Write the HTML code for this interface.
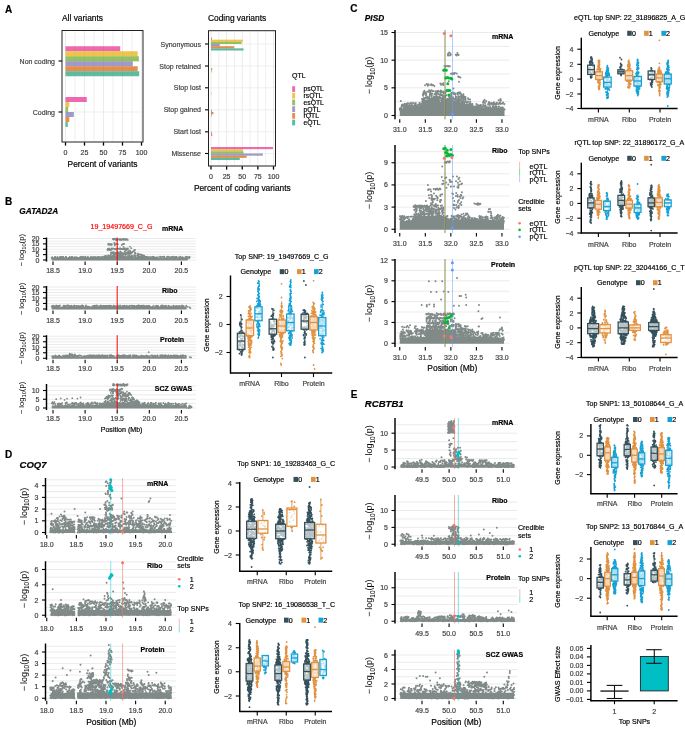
<!DOCTYPE html>
<html><head><meta charset="utf-8"><style>
html,body{margin:0;padding:0;background:#fff;width:685px;height:741px;overflow:hidden}
svg{display:block;will-change:transform}

</style></head><body>
<svg width="685" height="741" viewBox="0 0 685 741" font-family="Liberation Sans, sans-serif" font-size="7" stroke-width="0.18">
<rect width="685" height="741" fill="#fff"/>
<text x="5" y="12.6" font-weight="bold" stroke="#000" font-size="10">A</text>
<text x="62" y="21.02" stroke="#000" font-size="8.4">All variants</text>
<line x1="65.5" y1="30.5" x2="65.5" y2="142" stroke="#EBEBEB" stroke-width="1"/>
<line x1="84.5" y1="30.5" x2="84.5" y2="142" stroke="#EBEBEB" stroke-width="1"/>
<line x1="103.5" y1="30.5" x2="103.5" y2="142" stroke="#EBEBEB" stroke-width="1"/>
<line x1="122.5" y1="30.5" x2="122.5" y2="142" stroke="#EBEBEB" stroke-width="1"/>
<line x1="141.5" y1="30.5" x2="141.5" y2="142" stroke="#EBEBEB" stroke-width="1"/>
<line x1="75" y1="30.5" x2="75" y2="142" stroke="#EBEBEB" stroke-width="0.8"/>
<line x1="94" y1="30.5" x2="94" y2="142" stroke="#EBEBEB" stroke-width="0.8"/>
<line x1="113" y1="30.5" x2="113" y2="142" stroke="#EBEBEB" stroke-width="0.8"/>
<line x1="132" y1="30.5" x2="132" y2="142" stroke="#EBEBEB" stroke-width="0.8"/>
<line x1="62" y1="61" x2="143" y2="61" stroke="#EBEBEB" stroke-width="0.8"/>
<line x1="62" y1="112" x2="143" y2="112" stroke="#EBEBEB" stroke-width="0.8"/>
<rect x="65.5" y="46.25" width="54.72" height="5" fill="#E7298A" fill-opacity="0.7"/>
<rect x="65.5" y="97" width="21.28" height="5" fill="#E7298A" fill-opacity="0.7"/>
<rect x="65.5" y="51.25" width="72.2" height="5" fill="#E6AB02" fill-opacity="0.7"/>
<rect x="65.5" y="102" width="3.8" height="5" fill="#E6AB02" fill-opacity="0.7"/>
<rect x="65.5" y="56.25" width="73.34" height="5" fill="#66A61E" fill-opacity="0.7"/>
<rect x="65.5" y="107" width="2.66" height="5" fill="#66A61E" fill-opacity="0.7"/>
<rect x="65.5" y="61.25" width="67.26" height="5" fill="#7570B3" fill-opacity="0.7"/>
<rect x="65.5" y="112" width="8.36" height="5" fill="#7570B3" fill-opacity="0.7"/>
<rect x="65.5" y="66.25" width="72.2" height="5" fill="#D95F02" fill-opacity="0.7"/>
<rect x="65.5" y="117" width="3.8" height="5" fill="#D95F02" fill-opacity="0.7"/>
<rect x="65.5" y="71.25" width="73.72" height="5" fill="#1B9E77" fill-opacity="0.7"/>
<rect x="65.5" y="122" width="2.28" height="5" fill="#1B9E77" fill-opacity="0.7"/>
<rect x="62" y="30.5" width="81" height="111.5" fill="none" stroke="#222" stroke-width="1"/>
<line x1="58.5" y1="61" x2="62" y2="61" stroke="#000" stroke-width="1.1"/>
<text x="55" y="63.52" text-anchor="end" fill="#404040" stroke="#404040">Non coding</text>
<line x1="58.5" y1="112" x2="62" y2="112" stroke="#000" stroke-width="1.1"/>
<text x="55" y="114.52" text-anchor="end" fill="#404040" stroke="#404040">Coding</text>
<line x1="65.5" y1="142.3" x2="65.5" y2="145.6" stroke="#000" stroke-width="1.3"/>
<text x="65.5" y="154.52" text-anchor="middle" fill="#404040" stroke="#404040">0</text>
<line x1="84.5" y1="142.3" x2="84.5" y2="145.6" stroke="#000" stroke-width="1.3"/>
<text x="84.5" y="154.52" text-anchor="middle" fill="#404040" stroke="#404040">25</text>
<line x1="103.5" y1="142.3" x2="103.5" y2="145.6" stroke="#000" stroke-width="1.3"/>
<text x="103.5" y="154.52" text-anchor="middle" fill="#404040" stroke="#404040">50</text>
<line x1="122.5" y1="142.3" x2="122.5" y2="145.6" stroke="#000" stroke-width="1.3"/>
<text x="122.5" y="154.52" text-anchor="middle" fill="#404040" stroke="#404040">75</text>
<line x1="141.5" y1="142.3" x2="141.5" y2="145.6" stroke="#000" stroke-width="1.3"/>
<text x="141.5" y="154.52" text-anchor="middle" fill="#404040" stroke="#404040">100</text>
<text x="102.5" y="167.02" text-anchor="middle" stroke="#000" font-size="8.4">Percent of variants</text>
<text x="208" y="21.02" stroke="#000" font-size="8.4">Coding variants</text>
<line x1="211" y1="30.7" x2="211" y2="166" stroke="#EBEBEB" stroke-width="1"/>
<line x1="226.62" y1="30.7" x2="226.62" y2="166" stroke="#EBEBEB" stroke-width="1"/>
<line x1="242.25" y1="30.7" x2="242.25" y2="166" stroke="#EBEBEB" stroke-width="1"/>
<line x1="257.88" y1="30.7" x2="257.88" y2="166" stroke="#EBEBEB" stroke-width="1"/>
<line x1="273.5" y1="30.7" x2="273.5" y2="166" stroke="#EBEBEB" stroke-width="1"/>
<line x1="218.81" y1="30.7" x2="218.81" y2="166" stroke="#EBEBEB" stroke-width="0.8"/>
<line x1="234.44" y1="30.7" x2="234.44" y2="166" stroke="#EBEBEB" stroke-width="0.8"/>
<line x1="250.06" y1="30.7" x2="250.06" y2="166" stroke="#EBEBEB" stroke-width="0.8"/>
<line x1="265.69" y1="30.7" x2="265.69" y2="166" stroke="#EBEBEB" stroke-width="0.8"/>
<line x1="208.5" y1="44" x2="275.5" y2="44" stroke="#EBEBEB" stroke-width="0.8"/>
<rect x="211" y="37.5" width="0.94" height="2.17" fill="#E7298A" fill-opacity="0.7"/>
<rect x="211" y="39.67" width="31.88" height="2.17" fill="#E6AB02" fill-opacity="0.7"/>
<rect x="211" y="41.84" width="30.62" height="2.17" fill="#66A61E" fill-opacity="0.7"/>
<rect x="211" y="44.01" width="8.75" height="2.17" fill="#7570B3" fill-opacity="0.7"/>
<rect x="211" y="46.18" width="23.12" height="2.17" fill="#D95F02" fill-opacity="0.7"/>
<rect x="211" y="48.35" width="32.5" height="2.17" fill="#1B9E77" fill-opacity="0.7"/>
<line x1="205" y1="44" x2="208.5" y2="44" stroke="#000" stroke-width="1.1"/>
<text x="201" y="46.52" text-anchor="end" fill="#404040" stroke="#404040">Synonymous</text>
<line x1="208.5" y1="66" x2="275.5" y2="66" stroke="#EBEBEB" stroke-width="0.8"/>
<rect x="211" y="68.18" width="1.25" height="2.17" fill="#D95F02" fill-opacity="0.7"/>
<rect x="211" y="70.35" width="0.5" height="2.17" fill="#1B9E77" fill-opacity="0.7"/>
<line x1="205" y1="66" x2="208.5" y2="66" stroke="#000" stroke-width="1.1"/>
<text x="201" y="68.52" text-anchor="end" fill="#404040" stroke="#404040">Stop retained</text>
<line x1="208.5" y1="87.8" x2="275.5" y2="87.8" stroke="#EBEBEB" stroke-width="0.8"/>
<rect x="211" y="92.15" width="0.38" height="2.17" fill="#1B9E77" fill-opacity="0.7"/>
<line x1="205" y1="87.8" x2="208.5" y2="87.8" stroke="#000" stroke-width="1.1"/>
<text x="201" y="90.32" text-anchor="end" fill="#404040" stroke="#404040">Stop lost</text>
<line x1="208.5" y1="109.8" x2="275.5" y2="109.8" stroke="#EBEBEB" stroke-width="0.8"/>
<rect x="211" y="109.81" width="0.94" height="2.17" fill="#7570B3" fill-opacity="0.7"/>
<rect x="211" y="111.98" width="2.5" height="2.17" fill="#D95F02" fill-opacity="0.7"/>
<rect x="211" y="114.15" width="0.75" height="2.17" fill="#1B9E77" fill-opacity="0.7"/>
<line x1="205" y1="109.8" x2="208.5" y2="109.8" stroke="#000" stroke-width="1.1"/>
<text x="201" y="112.32" text-anchor="end" fill="#404040" stroke="#404040">Stop gained</text>
<line x1="208.5" y1="131.8" x2="275.5" y2="131.8" stroke="#EBEBEB" stroke-width="0.8"/>
<rect x="211" y="131.81" width="0.94" height="2.17" fill="#7570B3" fill-opacity="0.7"/>
<rect x="211" y="133.98" width="1.25" height="2.17" fill="#D95F02" fill-opacity="0.7"/>
<line x1="205" y1="131.8" x2="208.5" y2="131.8" stroke="#000" stroke-width="1.1"/>
<text x="201" y="134.32" text-anchor="end" fill="#404040" stroke="#404040">Start lost</text>
<line x1="208.5" y1="153.5" x2="275.5" y2="153.5" stroke="#EBEBEB" stroke-width="0.8"/>
<rect x="211" y="147" width="61.88" height="2.17" fill="#E7298A" fill-opacity="0.7"/>
<rect x="211" y="149.17" width="31.88" height="2.17" fill="#E6AB02" fill-opacity="0.7"/>
<rect x="211" y="151.34" width="32.5" height="2.17" fill="#66A61E" fill-opacity="0.7"/>
<rect x="211" y="153.51" width="51.88" height="2.17" fill="#7570B3" fill-opacity="0.7"/>
<rect x="211" y="155.68" width="35.62" height="2.17" fill="#D95F02" fill-opacity="0.7"/>
<rect x="211" y="157.85" width="28.75" height="2.17" fill="#1B9E77" fill-opacity="0.7"/>
<line x1="205" y1="153.5" x2="208.5" y2="153.5" stroke="#000" stroke-width="1.1"/>
<text x="201" y="156.02" text-anchor="end" fill="#404040" stroke="#404040">Missense</text>
<rect x="208.5" y="30.7" width="67" height="135.3" fill="none" stroke="#222" stroke-width="1"/>
<line x1="211" y1="166.3" x2="211" y2="169.6" stroke="#000" stroke-width="1.3"/>
<text x="211" y="179.02" text-anchor="middle" fill="#404040" stroke="#404040">0</text>
<line x1="226.62" y1="166.3" x2="226.62" y2="169.6" stroke="#000" stroke-width="1.3"/>
<text x="226.62" y="179.02" text-anchor="middle" fill="#404040" stroke="#404040">25</text>
<line x1="242.25" y1="166.3" x2="242.25" y2="169.6" stroke="#000" stroke-width="1.3"/>
<text x="242.25" y="179.02" text-anchor="middle" fill="#404040" stroke="#404040">50</text>
<line x1="257.88" y1="166.3" x2="257.88" y2="169.6" stroke="#000" stroke-width="1.3"/>
<text x="257.88" y="179.02" text-anchor="middle" fill="#404040" stroke="#404040">75</text>
<line x1="273.5" y1="166.3" x2="273.5" y2="169.6" stroke="#000" stroke-width="1.3"/>
<text x="273.5" y="179.02" text-anchor="middle" fill="#404040" stroke="#404040">100</text>
<text x="242.3" y="191.02" text-anchor="middle" stroke="#000" font-size="8.4">Percent of coding variants</text>
<text x="292" y="77.52" stroke="#000">QTL</text>
<rect x="292.2" y="86.2" width="2.9" height="5.7" fill="#EE69AD"/>
<text x="303.5" y="91.45" stroke="#000" font-size="6.8">psQTL</text>
<rect x="292.2" y="92.9" width="2.9" height="5.7" fill="#EDC44E"/>
<text x="303.5" y="98.15" stroke="#000" font-size="6.8">rsQTL</text>
<rect x="292.2" y="99.6" width="2.9" height="5.7" fill="#94C161"/>
<text x="303.5" y="104.85" stroke="#000" font-size="6.8">esQTL</text>
<rect x="292.2" y="106.3" width="2.9" height="5.7" fill="#9E9BCA"/>
<text x="303.5" y="111.55" stroke="#000" font-size="6.8">pQTL</text>
<rect x="292.2" y="113" width="2.9" height="5.7" fill="#E48F4E"/>
<text x="303.5" y="118.25" stroke="#000" font-size="6.8">rQTL</text>
<rect x="292.2" y="119.7" width="2.9" height="5.7" fill="#5FBBA0"/>
<text x="303.5" y="124.95" stroke="#000" font-size="6.8">eQTL</text>
<text x="5" y="204.8" font-weight="bold" stroke="#000" font-size="10">B</text>
<text x="19.3" y="213.79" font-weight="bold" font-style="italic" stroke="#000" font-size="8.3">GATAD2A</text>
<text x="121.5" y="228.56" text-anchor="middle" fill="#FF0000" stroke="#FF0000" font-size="7.1">19_19497669_C_G</text>
<line x1="46.5" y1="260" x2="196" y2="260" stroke="#EBEBEB" stroke-width="1"/>
<line x1="46.5" y1="257.31" x2="196" y2="257.31" stroke="#EBEBEB" stroke-width="1"/>
<line x1="46.5" y1="254.62" x2="196" y2="254.62" stroke="#EBEBEB" stroke-width="1"/>
<line x1="46.5" y1="251.94" x2="196" y2="251.94" stroke="#EBEBEB" stroke-width="1"/>
<line x1="46.5" y1="249.25" x2="196" y2="249.25" stroke="#EBEBEB" stroke-width="1"/>
<line x1="46.5" y1="246.56" x2="196" y2="246.56" stroke="#EBEBEB" stroke-width="1"/>
<line x1="46.5" y1="243.88" x2="196" y2="243.88" stroke="#EBEBEB" stroke-width="1"/>
<line x1="46.5" y1="241.19" x2="196" y2="241.19" stroke="#EBEBEB" stroke-width="1"/>
<line x1="46.5" y1="238.5" x2="196" y2="238.5" stroke="#EBEBEB" stroke-width="1"/>
<path d="M51.72 260.6L51.72 259.36L51.72 258.28L104.36 258.06L107.57 257.2L142.88 257.2L149.3 258.06L187.82 258.28L187.82 259.36L187.82 260.6Z" fill="#808a88"/>
<path d="M96.2 258.4h0M141.1 258.6h0M125.3 257.9h0M59.7 257.7h0M56.9 257.9h0M61.3 258.5h0M110 256.9h0M68.7 258.3h0M137.9 256.7h0M131 257.9h0M185.8 258.6h0M169.7 258.1h0M71.5 258.5h0M94.1 257h0M76.5 257.5h0M139.5 257.9h0M127 258.6h0M59.9 258.3h0M145.2 257.8h0M94.9 257.5h0M114 258.1h0M160.9 257.2h0M85.3 257.5h0M123.9 256.8h0M151.9 258.1h0M186.4 258.5h0M109.2 257.1h0M72.6 257.7h0M57.1 257.4h0M156.8 257.5h0M172 258h0M147.2 257.4h0M131.4 257.7h0M167.1 256.7h0M116.9 257.3h0M60.1 257.3h0M140.6 256.6h0M164.6 258.1h0M104.7 257.3h0M54.8 257.8h0M74.8 258.5h0M59.8 257.2h0M69.5 258.2h0M105.4 256.8h0M62.8 257.8h0M127.2 256.8h0M164.3 256.9h0M90 257.8h0M101 256.8h0M183.3 258.4h0M75.9 258.2h0M83.8 257.7h0M132.7 258.1h0M52.3 257.9h0M102.4 257.5h0M182.7 257.2h0M122.5 257.4h0M144.6 258.6h0M175.3 257h0M171.9 257h0M105.6 257.9h0M65.9 257.4h0M60.3 258.6h0M80.4 258.4h0M98.4 258.6h0M51.7 258.4h0M65.7 258h0M55.2 257h0M136.1 258.4h0M86.4 258h0M101.7 258.4h0M168.3 256.6h0M115.7 257.7h0M63.5 258.5h0M98.8 258.1h0M165.6 258.4h0M54.9 256.9h0M124.3 258.4h0M126.3 258.7h0M124.3 256.6h0M170.3 257.2h0M87.6 257.9h0M74.7 257.1h0M124.9 257h0M97 258.2h0M163.2 256.6h0M168.9 257h0M164.1 257.1h0M82.9 257.6h0M100.6 258.6h0M55.6 258.2h0M87.3 257.3h0M183.1 257.7h0M180.5 256.6h0M182.9 257.9h0M82 258.2h0M78.7 258.3h0M137.5 256.8h0M167.2 257.7h0M141.4 257h0M63.4 257.4h0M176.7 257h0M154.8 257.7h0M76.2 257.1h0M97.4 257h0M185.2 257.9h0M106.9 256.7h0M151.3 258.3h0M69.2 258.4h0M176 257h0M71.8 257h0M186.4 257.3h0M99.9 257.5h0M69.7 258.7h0M185.1 257.3h0M124.1 256.7h0M111.3 256.8h0M165.2 258.3h0M86.3 258.1h0M84.8 257.5h0M87.3 257.8h0M69.7 256.9h0M100.3 257.7h0M131.9 256.8h0M109.5 256.7h0M120.6 257.6h0M123.6 258.7h0M112.2 258.3h0M52.3 257.2h0M75.4 257.7h0M151.3 257.5h0M96.5 257.6h0M128 257h0M66.3 257.6h0M85.9 258.1h0M157.8 257.6h0M128.9 257.1h0M177.1 257.8h0M135.9 257.6h0M122.1 257.2h0M113.9 257.6h0M117.4 256.7h0M147.8 256.8h0M181.2 258.2h0M128.6 256.7h0M167.1 258.4h0M68.4 257.8h0M61.7 258.2h0M61.8 257.4h0M159.4 256.8h0M72.9 257.3h0M142.4 258.4h0M173 256.6h0M81.9 256.7h0M106.4 257.7h0M187.7 256.9h0M73.9 257.8h0M122.6 258h0M78.6 258.1h0M150.9 258.7h0M127.8 257.8h0M54.2 258.1h0M137.4 257.6h0M60.5 256.8h0M160 256.6h0M66.1 258.2h0M57.2 257.2h0M88.9 258.4h0M109.7 256.8h0M164.2 258.2h0M72.2 256.9h0M130.1 257.2h0M64 258.6h0M146.3 257.8h0M61.7 256.9h0M138.9 257h0M63.2 257h0M60.9 257h0M114.1 258h0M127.7 256.7h0M88.5 258.4h0M124.1 258.2h0M66.8 258.4h0M58.6 258.3h0M94.6 258.1h0M156.1 258.1h0M120.4 258.3h0M99.4 258.7h0M86.1 258.7h0M152.4 257.5h0M77.7 257.7h0M180.1 258.5h0M164.2 257.8h0M119.7 256.9h0M105.7 257.6h0M146.2 256.6h0M98.8 256.9h0M148.8 257.3h0M107.3 258h0M59.2 258.5h0M61.4 257.2h0M86.8 258.4h0M63.3 257h0M171.3 257.3h0M90.5 258.2h0M92 257.7h0M73.4 257.8h0M87.9 256.7h0M185.3 257.5h0M85.3 256.7h0M94.2 258h0M51.9 258h0M116.9 257.6h0M79.3 257.7h0M52.4 258.2h0M64 257.9h0M57.4 258.7h0M93.5 258.2h0M132.2 257.6h0M154.8 257.3h0M150.1 256.8h0M105.2 258h0M187 258.4h0M151.2 257.3h0M57.7 257.1h0M174.3 257.4h0M152.5 257h0M70.9 257.7h0M121 256.9h0M162.3 256.9h0M132 256.8h0M145.5 257.2h0M83.3 258.6h0M70 258h0M66.1 257h0M128.5 257.4h0M137.8 257.2h0M118.9 258.7h0M161.3 257.1h0M120.8 257.6h0M142.3 258.6h0M152.9 258.2h0M61.9 258.2h0M151.9 258.3h0M153.4 256.6h0M119.6 257.9h0M117.5 257.2h0M157.1 257.4h0M140 258.5h0M72 258.2h0M153.8 258.1h0M129.7 258.7h0M60.1 258.2h0M144 257.2h0M144.6 258.1h0M122.7 257.7h0M115.8 258.5h0M174.5 258.3h0M186.1 256.7h0M54.1 257.8h0M164.4 256.6h0M113.5 258.1h0M80.5 256.8h0M80.7 257.5h0M71.2 257.7h0M182.6 258.4h0M164.4 257.6h0M173.6 257.2h0M83.5 256.9h0M118.5 258.7h0M52.2 257.8h0M113.6 258.1h0M71 258h0M95.1 256.9h0M52 257.3h0M167 258.5h0M179 257.2h0M175.6 258.1h0M102.9 257.9h0M188.9 257.4h0M101.3 257.8h0M89.5 258.6h0M65.7 257h0M91 256.7h0M86 258.2h0M121.9 258.3h0M103 256.7h0M173.2 257h0M138.4 256.7h0M181 257.5h0M150.6 258.6h0M152.3 257.7h0M155.1 257.3h0M91 258.6h0M179 258.4h0M116.6 258h0M92.6 257.2h0M185.8 258.2h0M141.8 258.1h0M128.3 257.9h0M111.3 256.9h0M113 252.5h0M125.1 256.5h0M142.2 254.9h0M123.1 257h0M112.4 257.3h0M118.6 257.3h0M114.3 256.3h0M128.1 252.6h0M135.6 255.7h0M121.6 254.8h0M120.1 255.9h0M106.9 256.9h0M144.7 257.6h0M125.4 254.1h0M140.4 257.1h0M115.7 256.4h0M121 255.2h0M144.2 255.9h0M140.8 257.8h0M105.7 256.1h0M141.7 256.4h0M128.9 257.8h0M120.7 252.4h0M138.8 254.4h0M144.9 257.4h0M108.9 257.1h0M126.2 253.8h0M143.6 256.1h0M131.4 253.3h0M123.4 254.6h0M106 255.7h0M114.1 252.4h0M131.3 256.1h0M109.7 256.5h0M130.9 253.7h0M109 257.5h0M126.2 254.4h0M120.6 256.5h0M129.4 257.8h0M116.9 255.1h0M144.4 256.4h0M141.2 256.3h0M114.2 256.4h0M144.4 256.3h0M117.2 257.7h0M125.2 253.9h0M121.9 256.3h0M132.2 252.4h0M113.8 257.6h0M118.5 255.4h0M132.8 256.7h0M137.6 254.6h0M125.4 256.6h0M144.8 257.2h0M138.6 256.9h0M113.6 253.4h0M116.7 252.2h0M125 256.7h0M113.7 255.4h0M132.1 252.2h0M110.5 255.6h0M113.2 252.1h0M110.3 257.6h0M106.9 256.6h0M141.8 255.2h0M134.9 252.5h0M143.2 257h0M112.1 252.3h0M135.5 257.7h0M132.1 255.6h0M120 255.9h0M111.4 257.8h0M116 255.8h0M144.2 257.6h0M144.6 257.4h0M119.2 253h0M138.7 256.1h0M106.4 256.4h0M119.9 252.4h0M112.4 255.7h0M141.8 257.8h0M121.5 253.1h0M136.4 257.7h0M105.8 257.7h0M142.8 257.1h0M135.5 253.2h0M118.5 256.2h0M144.3 256.5h0M115.3 253.6h0M117.6 256.2h0M104.5 256.6h0M142.6 256.1h0M143.7 257.8h0M114.1 255h0M144.3 255.7h0M120.5 256.4h0M122.3 254.9h0M143.1 257.4h0M137.9 254.6h0M138.7 254.7h0M129.7 255.9h0M117.7 255.7h0M137 257.5h0M112.6 253.4h0M114.7 257.5h0M105.8 256.4h0M118 252.1h0M141.2 254.6h0M115.4 257.4h0M108.4 255.7h0M134 255.3h0M114.1 255.4h0M130.2 253.9h0M135.6 253.5h0M132.1 257.1h0M139.4 256.7h0M128 255.6h0M135.2 256.8h0M114.7 256.4h0M110.8 252.6h0M128.5 255.9h0M120.9 252h0M125.5 256.5h0M138.1 255h0M145.7 257.7h0M124.2 253h0M139.4 254.3h0M106 257h0M109.3 256.9h0M145 256.7h0M143.2 256.9h0M140.5 256.3h0M115.2 253.3h0M143.8 257.6h0M129.2 254.2h0M113.4 255.7h0M110.3 256.7h0M115 254.3h0M131.6 256.6h0M104.8 257.2h0M132.7 256.8h0M117.4 256.6h0M137.5 255.4h0M107 257.5h0M120.9 254.6h0M131 257.3h0M111.2 253.7h0M121.5 256.2h0M117.2 252.2h0M117.4 254.5h0M119.3 255.4h0M140.4 254.4h0M119.5 256.7h0M134.7 256.7h0M104.6 256.2h0M122 253h0M121.3 252.6h0M123.6 256.9h0M105 256.7h0M131.1 252.5h0M108.1 255.3h0M119.8 254.9h0M110.4 256.2h0M126.1 252.4h0M108.9 255.6h0M137.9 253.7h0M112.6 257.1h0M143.7 255.5h0M124.5 257.5h0M126.5 250.1h0M120.1 248.5h0M124.4 248.7h0M111.6 248.5h0M115.5 248.7h0M110.8 250.1h0M111.5 249.8h0M115.1 248.9h0M109.5 249.2h0M125.9 248.4h0M107.8 250.1h0M107.7 249.6h0M124.7 248.7h0M118.6 248.8h0M120.2 249.4h0M119.3 248.7h0M115.9 249.6h0M116.2 249.7h0M107.4 249.7h0M111.9 249.7h0M123.1 249.1h0M110.7 249.8h0M117 249h0M116.1 249.1h0M108.9 249.8h0M107.8 249h0M120.4 248.5h0M123.4 248.8h0M117.8 248.7h0M114.9 249h0M127.1 248.6h0M128 248.4h0M122.4 249.1h0M127.7 249.6h0M117.3 248.1h0M110.4 249.6h0M123.6 249.1h0M114.4 249.3h0M122.9 248.6h0M112.8 248.3h0M124.2 248.9h0M126.4 248.8h0M111.3 249.3h0M113.7 248.6h0M107.7 249.1h0M126.8 249h0M121.3 249h0M123.6 249.4h0M109.4 250h0M114.6 249.4h0M125.4 249.9h0M125.6 249.5h0M109.1 248.5h0M115.3 249.3h0M123.8 249.4h0M114.1 242.8h0M111.9 244.3h0M110 244.8h0M115.9 243.5h0M110.8 244h0M114.8 243.7h0M115 244.4h0M111.4 244.2h0M109.7 244.3h0M114.5 244.8h0M117.4 244.1h0M109.6 244.2h0M108.4 243.6h0M108.2 244.4h0M111.9 244.1h0M110.5 244.9h0M110.3 244.6h0M114.6 244.6h0M117.8 244.3h0M110.7 244.2h0M114.8 244.1h0M117.2 244.2h0M110.9 244.8h0M108.3 244.7h0M111.8 244.8h0M114.8 245.4h0M115.7 243.9h0M110.8 244.2h0M123.4 244.2h0M123 244.1h0M124.2 243.9h0M121.7 245.1h0M122.2 244.4h0M115.8 239.7h0M122.6 239.6h0M125.2 239.2h0M117.3 239.1h0M113.5 238.9h0M123.7 239.8h0M112.8 239h0M119.9 239.9h0M124.1 239.6h0M114.3 239.3h0M116.3 239h0M124.3 239.3h0M123.4 239h0M116.8 239.9h0M121.2 240h0M120.8 239.1h0M116.8 240h0M116 240.1h0M126.3 239.1h0M116.3 239.3h0M124.2 238.8h0M117.7 239.6h0M126.3 239.5h0M126.7 239.1h0M122.4 239.6h0M127.8 239.9h0M119.9 239h0M125.9 239.9h0M119.4 239.4h0M117.4 239.8h0M116 239.5h0M126.7 239.5h0M114.9 239.2h0M127 239.3h0M118 239.3h0M113.3 239.3h0M123.4 239.7h0M124.1 239.8h0M113.7 239.7h0M125.3 239.6h0M125.3 239.3h0M126.1 239.4h0M126.8 239.2h0M115.9 239.4h0M114.4 238.6h0M125.2 239.2h0M122.5 239.1h0M117.1 239.8h0M114.2 238.8h0M115.9 239h0M130.8 251.8h0M130.4 251.5h0M130.6 251.8h0M130.8 252.6h0M134.9 253.7h0M132.7 251.7h0M129 252.6h0M133.7 251h0M131 252h0M130.1 252.9h0M134.3 249.9h0M129.8 250.5h0M128.8 251.1h0M135 249.9h0M110.9 254.5h0M126.1 253.5h0M114.3 254.3h0M126.8 253.5h0M115.8 252.9h0M114.9 253.8h0M124.3 254h0M123 253.5h0M112.3 253.2h0M125.9 254.8h0M122.9 254.1h0M118.4 252.9h0M127.9 252h0M111.3 252.6h0M114.7 253.7h0M120.4 251.7h0M118.1 253.1h0M119.7 254h0M121 253.5h0M123.2 255h0M117.5 253.8h0M127 253.1h0M123.5 253.6h0M119.2 254.1h0M125.7 253.9h0M119.7 253.8h0M127.8 253.5h0M116.6 253h0M124.3 253.3h0M113.8 254h0M115.5 254h0M113.9 252.6h0M117.1 252.7h0M124.8 251.4h0M112.7 253.2h0M118.2 253.6h0M129.7 253.2h0M119.2 254.9h0M114.6 253.8h0M114.8 253.9h0M189.7 257h0M189.1 258.4h0M130 246.6h0M123.6 246.9h0M131.3 248.2h0" fill="none" stroke="#808a88" stroke-width="1.8" stroke-linecap="round"/>
<line x1="117.2" y1="237.5" x2="117.2" y2="261.5" stroke="#FF0000" stroke-width="1" stroke-opacity="1"/>
<line x1="46.5" y1="237.5" x2="46.5" y2="261.5" stroke="#000" stroke-width="1.45"/>
<line x1="43" y1="238.5" x2="46.5" y2="238.5" stroke="#000" stroke-width="1.1"/>
<text x="39.5" y="241.02" text-anchor="end" fill="#404040" stroke="#404040">20</text>
<line x1="43" y1="243.88" x2="46.5" y2="243.88" stroke="#000" stroke-width="1.1"/>
<text x="39.5" y="246.4" text-anchor="end" fill="#404040" stroke="#404040">15</text>
<line x1="43" y1="249.25" x2="46.5" y2="249.25" stroke="#000" stroke-width="1.1"/>
<text x="39.5" y="251.77" text-anchor="end" fill="#404040" stroke="#404040">10</text>
<line x1="43" y1="254.62" x2="46.5" y2="254.62" stroke="#000" stroke-width="1.1"/>
<text x="39.5" y="257.14" text-anchor="end" fill="#404040" stroke="#404040">5</text>
<line x1="43" y1="260" x2="46.5" y2="260" stroke="#000" stroke-width="1.1"/>
<text x="39.5" y="262.52" text-anchor="end" fill="#404040" stroke="#404040">0</text>
<line x1="53" y1="261.5" x2="53" y2="265" stroke="#000" stroke-width="1.1"/>
<text x="53" y="273.27" text-anchor="middle" fill="#404040" stroke="#404040">18.5</text>
<line x1="85.1" y1="261.5" x2="85.1" y2="265" stroke="#000" stroke-width="1.1"/>
<text x="85.1" y="273.27" text-anchor="middle" fill="#404040" stroke="#404040">19.0</text>
<line x1="117.2" y1="261.5" x2="117.2" y2="265" stroke="#000" stroke-width="1.1"/>
<text x="117.2" y="273.27" text-anchor="middle" fill="#404040" stroke="#404040">19.5</text>
<line x1="149.3" y1="261.5" x2="149.3" y2="265" stroke="#000" stroke-width="1.1"/>
<text x="149.3" y="273.27" text-anchor="middle" fill="#404040" stroke="#404040">20.0</text>
<line x1="181.4" y1="261.5" x2="181.4" y2="265" stroke="#000" stroke-width="1.1"/>
<text x="181.4" y="273.27" text-anchor="middle" fill="#404040" stroke="#404040">20.5</text>
<text x="162" y="231.27" font-weight="bold" stroke="#000">mRNA</text>
<text x="21.8" y="250.05" text-anchor="middle" font-size="7.8" transform="rotate(-90 21.8 250.05)" dy="2.57">&#8722;&#8201;log<tspan font-size="5.62" dy="1.95">10</tspan><tspan dy="-1.95">(p)</tspan></text>
<line x1="46.5" y1="309" x2="196" y2="309" stroke="#EBEBEB" stroke-width="1"/>
<line x1="46.5" y1="306.25" x2="196" y2="306.25" stroke="#EBEBEB" stroke-width="1"/>
<line x1="46.5" y1="303.5" x2="196" y2="303.5" stroke="#EBEBEB" stroke-width="1"/>
<line x1="46.5" y1="300.75" x2="196" y2="300.75" stroke="#EBEBEB" stroke-width="1"/>
<line x1="46.5" y1="298" x2="196" y2="298" stroke="#EBEBEB" stroke-width="1"/>
<line x1="46.5" y1="295.25" x2="196" y2="295.25" stroke="#EBEBEB" stroke-width="1"/>
<line x1="46.5" y1="292.5" x2="196" y2="292.5" stroke="#EBEBEB" stroke-width="1"/>
<line x1="46.5" y1="289.75" x2="196" y2="289.75" stroke="#EBEBEB" stroke-width="1"/>
<line x1="46.5" y1="287" x2="196" y2="287" stroke="#EBEBEB" stroke-width="1"/>
<path d="M51.72 309.6L51.72 308.34L51.72 307.02L186.54 307.02L186.54 308.34L186.54 309.6Z" fill="#808a88"/>
<path d="M104.1 307.3h0M105.5 305.9h0M145.2 306.4h0M137 306.5h0M70.8 306.2h0M106.3 306h0M174.1 306.5h0M129.1 305.9h0M108.5 306.9h0M149.1 305.7h0M156.1 306h0M166.6 306.1h0M138.2 306.5h0M93.9 306.2h0M64.9 306.6h0M157.2 306h0M136.6 306.9h0M108.8 306.5h0M135.5 306.6h0M142.8 305.6h0M76.4 306.1h0M156.6 306.6h0M117.8 305.5h0M56.9 306.3h0M73.4 305.9h0M178.5 306.4h0M65.3 306.3h0M124.7 306h0M120.8 306.2h0M163.5 306.4h0M107 305.6h0M80 306.1h0M104.6 305.9h0M68.2 305.5h0M99.6 307.2h0M88.7 306.6h0M53.5 306.6h0M108.4 306h0M99.2 306.9h0M82 306h0M178.4 306.4h0M81.2 305.9h0M104.6 307h0M69.1 305.9h0M160.9 306.2h0M115 306.3h0M82.2 305.5h0M99.3 306.2h0M162.1 305.8h0M114.8 306.8h0M125.6 307.1h0M164.1 306.7h0M166.4 306.8h0M102.4 306.9h0M109.2 307h0M52.1 306h0M89.6 306.9h0M92.4 306.5h0M109.5 306.2h0M140.6 306.7h0M176.9 305.8h0M59.4 305.8h0M173.8 305.9h0M70.6 305.8h0M137.1 307.3h0M53.3 305.6h0M140.2 306.9h0M65.4 307.1h0M83.2 305.9h0M98.4 307.1h0M173.6 305.9h0M74.4 305.7h0M133.7 305.9h0M141.8 305.7h0M158 305.8h0M78.3 306.1h0M123.3 306h0M110.8 305.7h0M126.5 306.9h0M83.3 307.1h0M118.2 307.2h0M114.7 307.1h0M118 306.4h0M124.5 305.7h0M52.6 305.8h0M114.8 306.3h0M141.4 305.8h0M102.3 306.6h0M181.2 307.2h0M137.6 306.2h0M55.6 306.2h0M143.7 305.6h0M96.3 305.5h0M120.6 306.4h0M172.7 307.3h0M148.5 306.2h0M97.4 305.7h0M101.1 306.5h0M122.6 305.9h0M80.1 306.5h0M108.7 306.3h0M163.2 306.8h0M163.3 306.6h0M119.6 306.8h0M120 305.5h0M140 305.9h0M96.3 306.8h0M92.1 306.3h0M137.3 305.9h0M57.1 306h0M171.1 306.3h0M58.4 306.8h0M52.6 307h0M175.9 306.2h0M140.4 305.9h0M174.4 306.2h0M134.9 306.2h0M145.6 306.2h0M143.5 307h0M141.6 306.5h0M154.5 307.2h0M76.2 307.3h0M156.1 305.6h0M140.1 306.7h0M162.6 305.9h0M127.5 306.9h0M92.4 306.6h0M94.7 306.5h0M138.2 305.6h0M59.1 306.3h0M57 307.1h0M161 306.3h0M175.6 306.5h0M53.6 306.6h0M131.5 305.6h0M183.9 306.5h0M107.3 307.2h0M138.6 307h0M72.2 307.3h0M52.4 306.1h0M68.1 305.5h0M63.6 305.7h0M69.1 307.3h0M148.7 306.9h0M150.6 307h0M58.5 305.9h0M147.9 305.8h0M150.1 307.2h0M136.5 306h0M113.8 305.6h0M86 305.5h0M148.4 307.3h0M53.7 306.1h0M161.9 307.2h0M93.7 306h0M74.1 305.7h0M117.3 307.2h0M101.3 306.3h0M110.9 306.1h0M71.3 305.9h0M100.7 306.1h0M136.6 306.6h0M103.7 305.9h0M179.1 305.9h0M128.1 306.8h0M59.9 305.5h0M146.5 305.8h0M96.5 306.2h0M183.5 305.8h0M132.8 306.8h0M109.5 305.7h0M102.5 306.1h0M132.8 305.7h0M160.6 306.8h0M51.9 306.9h0M108.7 306.3h0M161.7 305.7h0M57.4 305.8h0M161.2 305.7h0M128.8 306.8h0M166.5 305.8h0M144 305.6h0M98.5 307.2h0M126.4 305.9h0M78.7 305.9h0M177.3 306.9h0M133.5 306.1h0M114.5 307h0M86.1 305.9h0M158.4 306.5h0M63.5 305.8h0M155.8 306.9h0M129.9 305.7h0M171 306.4h0M116 306.2h0M77.2 307h0M76.1 306h0M100.6 306.3h0M106 306.4h0M71.8 307.3h0M186.2 306.7h0M66 306.2h0M157.9 307.1h0M132.2 306.7h0M121.7 307.3h0M56.2 305.5h0M168.5 306.4h0M128.2 306.9h0M156.8 306.6h0M179.3 305.9h0M162.1 305.5h0M86 307.3h0M78.8 307h0M63 307.3h0M126.9 305.7h0M113.5 305.6h0M174.4 307.2h0M132.3 306.6h0M67.9 305.6h0M86.4 306.3h0M138.1 305.6h0M142 306.6h0M112.2 307.1h0M181.9 305.5h0M81.6 307.3h0M86.2 306.7h0M173.4 305.7h0M164.6 307.3h0M157.7 306h0M138.9 305.5h0M59.2 307.1h0M153.5 305.6h0M143 306.8h0M131.5 305.9h0M65.9 306.7h0M86.4 307.1h0M116.6 307h0M83.9 307.1h0M143.1 307.3h0M148.4 307h0M56.6 305.6h0M81.5 305.6h0M168.6 305.7h0M70.6 306.5h0M64.8 305.6h0M165.3 306.2h0M112.7 306.7h0M162.7 306.5h0M136.4 307.1h0M81.6 307.2h0M147.9 306.3h0M71.2 305.7h0M87.6 306.6h0M72.7 306.8h0M164.9 306.7h0M74.3 306.4h0M94.6 305.7h0M67.1 305.5h0M59.4 305.7h0M141.8 307h0M116.1 306.8h0M86.5 307h0M100.8 305.5h0M186.3 305.6h0M64.9 306.8h0M172.5 307.2h0M149.7 306.8h0M183.7 307.3h0M160.5 306.7h0M70.6 307.3h0M163.9 306.4h0M76.8 306.5h0M174.7 306.9h0M128.7 307.1h0M76 305.9h0M147.7 307h0M62.4 307.2h0M133.8 306.4h0M88.6 307h0M134.3 306h0M161.1 306.3h0M79 307.2h0M150.5 306.6h0M149 307.2h0M161 306.7h0M165.2 305.7h0M118.2 307.3h0M174.4 306.5h0M169.3 306.9h0M76.8 305.8h0M101.2 307h0M101.8 306.2h0M52.3 306.4h0M111.8 306.4h0M68 306h0M161.8 305.7h0M95 306h0M103.1 305.9h0M60 305.7h0M180.3 306.4h0M120.9 306.4h0M124.2 307.3h0M182.1 306.9h0M76.3 307.2h0M85.5 305.8h0M55.8 307.2h0M146 307h0M54.1 306.2h0M129.4 306.4h0M146.4 307.2h0M168.9 306h0M57.8 307.1h0M118.3 306.4h0M89.4 307.1h0M106.4 307.1h0M131.5 305.7h0M71.6 306.3h0M152.4 307h0M163.1 305.6h0M104.1 306.6h0M189.7 307.5h0M190.4 308.1h0M187.8 306.8h0" fill="none" stroke="#808a88" stroke-width="1.8" stroke-linecap="round"/>
<line x1="117.2" y1="286" x2="117.2" y2="310.5" stroke="#FF0000" stroke-width="1" stroke-opacity="1"/>
<line x1="46.5" y1="286" x2="46.5" y2="310.5" stroke="#000" stroke-width="1.45"/>
<line x1="43" y1="287" x2="46.5" y2="287" stroke="#000" stroke-width="1.1"/>
<text x="39.5" y="289.52" text-anchor="end" fill="#404040" stroke="#404040">20</text>
<line x1="43" y1="292.5" x2="46.5" y2="292.5" stroke="#000" stroke-width="1.1"/>
<text x="39.5" y="295.02" text-anchor="end" fill="#404040" stroke="#404040">15</text>
<line x1="43" y1="298" x2="46.5" y2="298" stroke="#000" stroke-width="1.1"/>
<text x="39.5" y="300.52" text-anchor="end" fill="#404040" stroke="#404040">10</text>
<line x1="43" y1="303.5" x2="46.5" y2="303.5" stroke="#000" stroke-width="1.1"/>
<text x="39.5" y="306.02" text-anchor="end" fill="#404040" stroke="#404040">5</text>
<line x1="43" y1="309" x2="46.5" y2="309" stroke="#000" stroke-width="1.1"/>
<text x="39.5" y="311.52" text-anchor="end" fill="#404040" stroke="#404040">0</text>
<line x1="53" y1="310.5" x2="53" y2="314" stroke="#000" stroke-width="1.1"/>
<text x="53" y="322.52" text-anchor="middle" fill="#404040" stroke="#404040">18.5</text>
<line x1="85.1" y1="310.5" x2="85.1" y2="314" stroke="#000" stroke-width="1.1"/>
<text x="85.1" y="322.52" text-anchor="middle" fill="#404040" stroke="#404040">19.0</text>
<line x1="117.2" y1="310.5" x2="117.2" y2="314" stroke="#000" stroke-width="1.1"/>
<text x="117.2" y="322.52" text-anchor="middle" fill="#404040" stroke="#404040">19.5</text>
<line x1="149.3" y1="310.5" x2="149.3" y2="314" stroke="#000" stroke-width="1.1"/>
<text x="149.3" y="322.52" text-anchor="middle" fill="#404040" stroke="#404040">20.0</text>
<line x1="181.4" y1="310.5" x2="181.4" y2="314" stroke="#000" stroke-width="1.1"/>
<text x="181.4" y="322.52" text-anchor="middle" fill="#404040" stroke="#404040">20.5</text>
<text x="162" y="293.12" font-weight="bold" stroke="#000">Ribo</text>
<text x="21.8" y="298.8" text-anchor="middle" font-size="7.8" transform="rotate(-90 21.8 298.8)" dy="2.57">&#8722;&#8201;log<tspan font-size="5.62" dy="1.95">10</tspan><tspan dy="-1.95">(p)</tspan></text>
<line x1="46.5" y1="358.25" x2="196" y2="358.25" stroke="#EBEBEB" stroke-width="1"/>
<line x1="46.5" y1="355.5" x2="196" y2="355.5" stroke="#EBEBEB" stroke-width="1"/>
<line x1="46.5" y1="352.75" x2="196" y2="352.75" stroke="#EBEBEB" stroke-width="1"/>
<line x1="46.5" y1="350" x2="196" y2="350" stroke="#EBEBEB" stroke-width="1"/>
<line x1="46.5" y1="347.25" x2="196" y2="347.25" stroke="#EBEBEB" stroke-width="1"/>
<line x1="46.5" y1="344.5" x2="196" y2="344.5" stroke="#EBEBEB" stroke-width="1"/>
<line x1="46.5" y1="341.75" x2="196" y2="341.75" stroke="#EBEBEB" stroke-width="1"/>
<line x1="46.5" y1="339" x2="196" y2="339" stroke="#EBEBEB" stroke-width="1"/>
<line x1="46.5" y1="336.25" x2="196" y2="336.25" stroke="#EBEBEB" stroke-width="1"/>
<path d="M51.72 358.85L51.72 357.59L51.72 356.49L186.54 356.49L186.54 357.59L186.54 358.85Z" fill="#808a88"/>
<path d="M164.9 356h0M105.1 355.3h0M156.5 356.3h0M84.1 356.3h0M110.4 355.2h0M160.2 355.3h0M161.6 355.4h0M58.9 356h0M180.9 355.3h0M85.3 356.1h0M137 356.2h0M123.3 356.7h0M110.1 356h0M54.5 356.6h0M182.5 355.5h0M178 355.8h0M160.8 355.4h0M171 356.8h0M138.2 356.4h0M143.2 356.4h0M124.8 355.3h0M135.5 356.4h0M121.9 356.1h0M179.9 356.3h0M92.9 355.8h0M67.9 355.8h0M180.6 356h0M87.9 356.1h0M123.7 356.6h0M68.4 356.6h0M91.3 356.1h0M90.6 356.4h0M63.6 355.9h0M164.9 355.8h0M128.6 355.7h0M78.8 355.6h0M113.9 355.9h0M134.3 356h0M93.6 356.4h0M81.6 356h0M103.4 355.9h0M53.3 356.2h0M167.9 356.4h0M126.8 356h0M90.1 355.2h0M91.6 355.5h0M73.1 356.7h0M169.2 356.1h0M60.1 356.2h0M111 355.6h0M66.4 356.4h0M181 355.6h0M72.5 356.3h0M99.2 355.7h0M134.8 355.4h0M162.4 356h0M151.3 355.6h0M154.1 356h0M157.5 355.7h0M175 356.6h0M169.1 356.8h0M154.9 355.9h0M118.8 355.2h0M128.8 356.1h0M157.4 355.4h0M133.6 356.2h0M112.7 356.1h0M149.2 356.3h0M104.4 355.9h0M103.6 356.3h0M157.8 355.4h0M119.1 356.1h0M76.6 356.3h0M71.3 355.9h0M130.1 356.7h0M175.8 356.3h0M165.4 355.4h0M181 356.5h0M109.2 355.3h0M53.2 356.7h0M127.9 356h0M175.8 355.5h0M124.3 355.2h0M121.5 356h0M144.1 356.2h0M99.9 355.8h0M99.1 355.3h0M142.9 356h0M65.1 356.2h0M105.8 355.9h0M129.1 355.4h0M181.7 356h0M111.1 355.8h0M186 356.3h0M123.2 355.5h0M74.7 356.3h0M183.6 355.5h0M120.8 356.6h0M172.3 355.7h0M162.3 355.2h0M171.5 356.1h0M72.8 356.3h0M120.7 356h0M77.1 356.5h0M136.7 355.8h0M99.3 355.2h0M137.5 356.8h0M107.2 355.5h0M93.1 355.7h0M52.2 356.3h0M165.3 355.9h0M141.8 356.5h0M118.8 355.9h0M87.6 355.8h0M123.4 355.2h0M129.2 356.1h0M68.1 356.6h0M154.1 356.6h0M65.2 356.5h0M122.2 355.5h0M134.4 355.5h0M60.1 356.8h0M155.6 356.3h0M148.2 356.2h0M74.6 356.4h0M65.1 355.3h0M130.2 356.2h0M112.4 356.2h0M59.1 355.4h0M130.3 355.2h0M111 355.8h0M85.3 356.7h0M177.2 355.4h0M94.2 355.3h0M161.7 356.3h0M133 355.2h0M118.5 355.3h0M84.5 356.2h0M148.6 356.5h0M93.4 355.4h0M117 355.5h0M84.5 356.5h0M100 356.5h0M182.7 356.3h0M127.4 356.6h0M123.7 356.2h0M106.1 356.7h0M68.3 355.5h0M99.1 356.4h0M77.5 356.4h0M83.7 356.8h0M141.3 356.3h0M72.7 355.7h0M64.2 356.4h0M164.3 356.6h0M111.5 355.4h0M160.2 356.6h0M99.3 355.6h0M102.5 355.2h0M79.8 355.3h0M119.8 356.4h0M112.7 356.6h0M147 356.4h0M173 355.9h0M101.3 356.4h0M133.7 356.5h0M169.3 356.6h0M120.9 355.9h0M88.2 355.5h0M103.6 355.7h0M128.3 356.3h0M104.3 356.7h0M75.6 355.4h0M95 355.7h0M66.4 355.9h0M100.5 356h0M91.8 356.7h0M93.7 356.4h0M68.7 355.6h0M89.8 356.2h0M174.3 355.5h0M170.7 355.4h0M69.5 356.4h0M55.7 355.7h0M141.2 356.2h0M107.3 355.7h0M146 356.4h0M165.9 356.2h0M136.5 356.5h0M67.3 355.3h0M150.7 355.6h0M57.2 356.8h0M73.6 356.5h0M92.6 356.2h0M57 356.3h0M137.8 356.5h0M164.9 355.9h0M148.3 356.4h0M110.4 355.7h0M98.8 356.8h0M164.2 355.5h0M90.3 356.7h0M166.9 355.8h0M58.1 356.4h0M66.7 355.5h0M80 355.3h0M152.8 356.7h0M145.4 356.2h0M152.5 355.5h0M89.6 356.7h0M179.3 356.1h0M177.1 355.7h0M151.3 355.5h0M136.4 356.1h0M59 355.7h0M109.5 356h0M176.8 356.6h0M154.4 356.7h0M146.5 355.5h0M86.9 355.9h0M182.4 355.8h0M125 356.4h0M59.7 356.2h0M107.2 356.5h0M93.6 356.6h0M147 355.7h0M83.8 356.4h0M121.2 356.1h0M177.9 356.2h0M92.1 355.4h0M70.8 355.9h0M96.7 355.5h0M125.6 355.6h0M74.5 355.7h0M132.4 356.1h0M155 355.4h0M67.1 356.3h0M100.3 356.5h0M59.8 356.4h0M78.3 355.7h0M112.1 356.6h0M95.5 356h0M100.7 356.5h0M61.4 356.8h0M185.5 355.6h0M63 355.6h0M183.9 355.9h0M66.4 356h0M110.3 356.5h0M124.9 356.8h0M175.7 355.8h0M136.3 355.3h0M139.7 356.4h0M84.9 356.6h0M55.4 355.5h0M164.9 356.3h0M76.8 355.8h0M165.7 355.3h0M74.4 355.5h0M163.7 355.6h0M95.8 356.5h0M163 356.3h0M101.4 355.9h0M101.5 355.4h0M84 356.8h0M128.1 355.8h0M162.2 355.7h0M173.8 355.3h0M118.4 356h0M72.9 356.3h0M130.1 356.7h0M144.5 356.5h0M111.5 355.2h0M63.8 356.8h0M111 356.5h0M149.2 356.8h0M165.1 355.4h0M157.8 356.1h0M89.9 355.7h0M121.1 356.1h0M97.4 356.1h0M141.5 355.5h0M173.6 356.5h0M91.6 356.1h0M127.7 356.2h0M78.1 356.7h0M95.4 356.1h0M182.7 355.3h0M168.4 355.2h0M181.4 355.8h0M161.1 356.7h0M142.9 355.8h0M91.8 355.9h0M180.2 356h0M139 356.3h0M98 355.4h0M55.5 356.5h0M143.2 356.1h0M63.2 355.7h0M101.9 355.9h0M71.7 354.3h0M72.7 354.6h0M69.8 355.1h0M74.8 354.3h0M69.8 353.6h0M70.7 355.3h0M72.5 354.9h0M72.2 354.3h0M70.5 354.2h0M69.8 354.4h0M72.8 355.3h0M71.7 355.3h0M148.7 352.2h0M189.7 357.1h0M191 357.4h0" fill="none" stroke="#808a88" stroke-width="1.8" stroke-linecap="round"/>
<line x1="117.2" y1="335.25" x2="117.2" y2="359.75" stroke="#FF0000" stroke-width="1" stroke-opacity="1"/>
<line x1="46.5" y1="335.25" x2="46.5" y2="359.75" stroke="#000" stroke-width="1.45"/>
<line x1="43" y1="336.25" x2="46.5" y2="336.25" stroke="#000" stroke-width="1.1"/>
<text x="39.5" y="338.77" text-anchor="end" fill="#404040" stroke="#404040">20</text>
<line x1="43" y1="341.75" x2="46.5" y2="341.75" stroke="#000" stroke-width="1.1"/>
<text x="39.5" y="344.27" text-anchor="end" fill="#404040" stroke="#404040">15</text>
<line x1="43" y1="347.25" x2="46.5" y2="347.25" stroke="#000" stroke-width="1.1"/>
<text x="39.5" y="349.77" text-anchor="end" fill="#404040" stroke="#404040">10</text>
<line x1="43" y1="352.75" x2="46.5" y2="352.75" stroke="#000" stroke-width="1.1"/>
<text x="39.5" y="355.27" text-anchor="end" fill="#404040" stroke="#404040">5</text>
<line x1="43" y1="358.25" x2="46.5" y2="358.25" stroke="#000" stroke-width="1.1"/>
<text x="39.5" y="360.77" text-anchor="end" fill="#404040" stroke="#404040">0</text>
<line x1="53" y1="359.75" x2="53" y2="363.25" stroke="#000" stroke-width="1.1"/>
<text x="53" y="371.27" text-anchor="middle" fill="#404040" stroke="#404040">18.5</text>
<line x1="85.1" y1="359.75" x2="85.1" y2="363.25" stroke="#000" stroke-width="1.1"/>
<text x="85.1" y="371.27" text-anchor="middle" fill="#404040" stroke="#404040">19.0</text>
<line x1="117.2" y1="359.75" x2="117.2" y2="363.25" stroke="#000" stroke-width="1.1"/>
<text x="117.2" y="371.27" text-anchor="middle" fill="#404040" stroke="#404040">19.5</text>
<line x1="149.3" y1="359.75" x2="149.3" y2="363.25" stroke="#000" stroke-width="1.1"/>
<text x="149.3" y="371.27" text-anchor="middle" fill="#404040" stroke="#404040">20.0</text>
<line x1="181.4" y1="359.75" x2="181.4" y2="363.25" stroke="#000" stroke-width="1.1"/>
<text x="181.4" y="371.27" text-anchor="middle" fill="#404040" stroke="#404040">20.5</text>
<text x="160" y="342.12" font-weight="bold" stroke="#000">Protein</text>
<text x="21.8" y="348.05" text-anchor="middle" font-size="7.8" transform="rotate(-90 21.8 348.05)" dy="2.57">&#8722;&#8201;log<tspan font-size="5.62" dy="1.95">10</tspan><tspan dy="-1.95">(p)</tspan></text>
<line x1="46.5" y1="408" x2="196" y2="408" stroke="#EBEBEB" stroke-width="1"/>
<line x1="46.5" y1="403.62" x2="196" y2="403.62" stroke="#EBEBEB" stroke-width="1"/>
<line x1="46.5" y1="399.25" x2="196" y2="399.25" stroke="#EBEBEB" stroke-width="1"/>
<line x1="46.5" y1="394.88" x2="196" y2="394.88" stroke="#EBEBEB" stroke-width="1"/>
<line x1="46.5" y1="390.5" x2="196" y2="390.5" stroke="#EBEBEB" stroke-width="1"/>
<line x1="46.5" y1="386.12" x2="196" y2="386.12" stroke="#EBEBEB" stroke-width="1"/>
<path d="M51.72 408.6L51.72 407.65L51.72 405.38L104.36 405.2L105.64 403.45L139.67 403.45L142.88 405.02L186.54 405.2L186.54 407.65L186.54 408.6Z" fill="#808a88"/>
<path d="M111 403h0M125.9 403.6h0M153.8 405.8h0M185.3 403.7h0M65.5 402.9h0M104.6 405.6h0M181.1 404.3h0M156.2 405.8h0M156.4 406h0M83.7 404.8h0M53.8 403.8h0M80.5 405.1h0M147.1 404.7h0M171.5 404h0M169.3 404.2h0M175.4 403.2h0M74.4 403.3h0M97.7 403.3h0M143.5 403.2h0M68.3 404.7h0M151.1 402.8h0M149 406.1h0M133.1 405.9h0M125.7 403.3h0M66.9 402.5h0M142.7 405.3h0M77.8 404.5h0M164.7 404.2h0M67 406.2h0M66.6 403h0M76.7 404.1h0M90.8 403.6h0M103.1 405.7h0M169.7 404.3h0M144.7 403.3h0M179.6 406.2h0M97.9 405.7h0M119.4 403h0M159.6 406.1h0M76.3 403h0M143.3 404.8h0M115.9 405.7h0M165.7 404.8h0M169.4 404.1h0M61.9 404.9h0M80.9 402.8h0M131.2 406.1h0M74.6 404.8h0M114.8 404.1h0M104 404.9h0M52.5 403.8h0M96.7 406.2h0M113.7 402.5h0M57.8 405.6h0M142.2 405.3h0M88.6 404.3h0M87 404.1h0M122.9 402.7h0M185.5 406.1h0M127.3 403.4h0M169.3 403.5h0M137.1 403.9h0M100.6 405.2h0M158.9 403.1h0M178.3 403.8h0M92.7 403.3h0M151.4 404.4h0M137.4 405h0M126 404.7h0M59.9 404.9h0M95.3 402.5h0M116.6 404.9h0M84.5 405.3h0M98.8 405.7h0M52.7 402.6h0M112.8 404.6h0M128.4 405.1h0M74.5 406h0M92.4 405.1h0M149.7 404.3h0M178.1 405h0M175.9 404.2h0M62.5 405.5h0M130 402.6h0M99.8 403.3h0M109.5 403h0M60.8 404.3h0M172.9 405.3h0M86.4 406.2h0M73.9 405.2h0M146.7 405.5h0M105.6 405.5h0M133 403.1h0M139.1 405.5h0M150.7 402.8h0M132.7 406h0M160.8 403.1h0M97.7 405.7h0M77.1 404.1h0M169.7 404h0M176.1 405.5h0M95.8 403.4h0M139.2 404.8h0M143.3 405h0M59.5 404.5h0M57.8 403.7h0M96.8 404.4h0M132.3 405.3h0M114.2 406.2h0M176.5 404.3h0M184.9 406.1h0M134.5 403.6h0M96.1 405.9h0M72.8 405.7h0M155.1 405.9h0M161.5 404.7h0M124.3 404.1h0M126.5 403.8h0M132.8 405h0M151.6 405.3h0M147.6 403.5h0M156.3 405.1h0M155.9 402.7h0M112.8 405.2h0M122.3 402.7h0M69.5 406.2h0M115.9 403.8h0M156.1 404.9h0M185.1 405.5h0M153.7 405.9h0M55.5 405.7h0M59.8 404.2h0M126.6 405.6h0M178.4 405h0M71.8 405.5h0M151.2 402.9h0M73.6 406.1h0M156.6 405.4h0M184.2 404.5h0M137.5 405h0M159.6 404.6h0M95.4 402.8h0M66.3 403.3h0M60.5 403.6h0M105.9 403h0M59.8 403.9h0M107 402.8h0M179.1 404h0M81.9 405.3h0M87.1 404.6h0M82.9 405.5h0M154.1 403.9h0M92 402.4h0M80.9 404h0M72.8 402.8h0M168.9 405.3h0M153 403.3h0M89.8 405h0M117.2 402.9h0M73.5 403.5h0M132.3 404.6h0M129.8 403h0M80 402.8h0M100.3 403.3h0M168.1 405.6h0M168.2 402.7h0M91.8 406.2h0M66.8 402.3h0M53 402.4h0M72 403.3h0M64.9 405.6h0M143.8 405.9h0M97.5 402.8h0M148.3 403h0M183.8 406.1h0M83.3 403.2h0M144.7 406.1h0M119.8 405.4h0M109.8 405.9h0M54.4 402.1h0M94.4 402.9h0M68 404.3h0M70 404.5h0M75.8 403.5h0M71.7 403.3h0M119.2 405.8h0M99.4 404.4h0M175.6 405h0M80.7 402.5h0M170.8 403.7h0M88.5 405.6h0M87.4 406h0M57.5 404.1h0M106.7 404.1h0M100.6 406.2h0M144.5 403.9h0M125.1 404.2h0M144.8 402.7h0M169.6 403.7h0M105.5 405h0M108.2 402.6h0M103.9 404.8h0M107 405.7h0M186.3 406.2h0M133.7 402.8h0M86 403.9h0M102.5 405.3h0M78.5 405.8h0M165.4 403.4h0M174.2 406.1h0M145.3 405.1h0M138.8 404.2h0M94.3 402.5h0M51.8 403.1h0M166.8 404.4h0M131.6 402.6h0M83.3 403.8h0M151.9 404.9h0M147.7 404.8h0M122.7 404h0M143 405.1h0M136.5 404.3h0M81.8 403.9h0M87.4 402.8h0M115.5 403.5h0M122.1 404.5h0M81.5 405.7h0M176.7 404.4h0M122.4 404.3h0M161.4 405.4h0M75 403h0M113.8 403.8h0M163.3 403h0M168.7 406.1h0M103.1 403.1h0M162 405.8h0M72.5 405.2h0M65.6 404.8h0M160 404.4h0M112.8 405.9h0M105 402.5h0M145.4 404.6h0M116.2 403.3h0M154 405.7h0M143.4 404.9h0M121.9 405.4h0M101.7 405h0M103.1 406.2h0M78.8 404h0M59.5 405.5h0M148.5 405.3h0M95.4 405.3h0M164.2 405.9h0M137.5 403.1h0M78.9 404.6h0M158.5 404h0M101.8 406.1h0M111.4 404.9h0M147.8 405.2h0M106.7 403.8h0M161 405h0M103.7 404.1h0M176.4 405.6h0M182.7 403.7h0M101.9 403.7h0M96.1 406h0M153.6 404.9h0M122.6 404.4h0M173.2 403.6h0M55.2 403.8h0M114.1 404.5h0M164.9 404.8h0M115.6 402.9h0M111 404.4h0M120.7 403.2h0M142.1 403.5h0M105.9 406.1h0M143.4 404.2h0M155.4 403.5h0M67.6 405.4h0M62.1 402.9h0M65.4 405.9h0M153.3 404.2h0M59.1 403.4h0M147.6 404.5h0M59.1 403.4h0M108.1 404h0M186.3 403.4h0M169.3 405.7h0M96.8 404.3h0M52.5 402.1h0M88.7 405.2h0M93.9 405.3h0M167.5 404.3h0M120.6 404.7h0M58.6 405h0M168.6 403.4h0M167.2 405.3h0M79 406h0M124.1 404.9h0M114.3 404.4h0M130.4 404.9h0M159.8 405.5h0M175.7 404.3h0M58.6 405h0M123.6 404.7h0M127.9 405.1h0M88.6 403.2h0M91 403.5h0M159.9 404.1h0M113 402.7h0M111.7 403h0M59.5 404.5h0M137.9 406.1h0M168 406h0M132.1 405.6h0M176.1 404.3h0M159.7 404.5h0M142.6 403.8h0M91.5 405.4h0M134 403.6h0M136.8 403.6h0M107.9 403.4h0M132.1 397.4h0M119 394.7h0M113.5 391h0M128.6 403h0M106.4 398.2h0M105.8 397.8h0M114.7 401h0M124.9 400.7h0M124.2 402.6h0M136.6 403h0M134.1 403.6h0M132.6 397.5h0M118.2 404h0M117.8 395h0M112.2 396.4h0M107.7 399.2h0M130.1 400.7h0M128.3 403.4h0M133.6 403.7h0M137 400.2h0M137.5 402.4h0M114.6 399.3h0M130.9 400.4h0M137.2 404.1h0M121.5 392.2h0M125.5 398.2h0M107.5 402.9h0M113.9 391.2h0M134.2 403.1h0M137 404.4h0M125.5 393.2h0M116.5 390.5h0M127.5 404h0M116.1 397.8h0M113.1 393.5h0M110.7 392.8h0M114.9 403.5h0M124.1 403.3h0M123.8 394.5h0M125.4 399.1h0M105.6 400.7h0M107.8 396.9h0M109 396.4h0M116.8 398.9h0M127.8 402.8h0M110.4 390.5h0M116.1 392h0M135.2 401.9h0M109.6 403.1h0M135.4 403.9h0M121.9 397h0M108.5 398.4h0M110.2 396.5h0M122.3 399.5h0M111.3 398.5h0M111.5 402.6h0M112.8 391.5h0M122.1 392.2h0M104.9 398.6h0M121.6 393.3h0M124.5 396h0M112.5 393.3h0M109.8 400.6h0M105.5 401.6h0M122.7 400.6h0M135.8 404.1h0M124.8 401.7h0M125.4 395.3h0M129.5 403.9h0M113 395.6h0M139.1 404.4h0M126.2 396.8h0M133.1 402.2h0M133 401.3h0M136.9 404.5h0M137.6 402.9h0M118.7 403.2h0M113 393.6h0M128.3 403h0M116.5 402.4h0M111.4 401.2h0M116 390h0M139.6 402.4h0M121.3 397.4h0M131.9 397.6h0M130.9 399.3h0M111.4 395.2h0M134.2 399.7h0M107.6 396.3h0M116.7 402.1h0M138.5 402.2h0M130.7 403.4h0M133.6 398.4h0M136.3 401h0M133.8 399.4h0M125.2 399.4h0M133.5 399.4h0M135.1 402.8h0M138.3 402.6h0M137.8 404.1h0M138.6 401.9h0M113.3 392h0M112.6 401.6h0M120.5 401h0M121.8 391.8h0M128.6 397.6h0M118.2 392.8h0M132.4 399.5h0M137.6 401.3h0M118.7 403.2h0M127.4 395.8h0M116.4 395.7h0M133.9 399.5h0M104.5 401.8h0M104.9 403.8h0M133 401.6h0M125.7 399.2h0M116.2 401.3h0M116.8 391.9h0M126.2 401.2h0M107.5 401.5h0M129.1 400.4h0M127.7 396.2h0M108.6 395.5h0M105.8 397.9h0M110.9 400.5h0M138.2 403.2h0M112.3 391.3h0M125.9 394.3h0M118.3 397.1h0M138.1 402.7h0M139.3 404h0M133.7 403.5h0M123 404.5h0M110.6 390.4h0M120.4 392.5h0M113.2 399.3h0M107.9 397.9h0M134.8 401.6h0M117.7 390.7h0M135.9 401.2h0M107 398.1h0M120 390.3h0M117.1 394.7h0M126.7 400.4h0M122.8 395.5h0M136.4 402.2h0M117.2 390h0M106.4 397h0M128.5 399.1h0M120.2 393.3h0M135.8 400.8h0M130.8 404.2h0M115.8 402.5h0M138 401.2h0M109.5 395.8h0M124.7 403.9h0M118.2 393.4h0M127 401.5h0M131.3 402.2h0M123.6 399.1h0M138.9 402.5h0M132.8 399.8h0M117.8 390.2h0M129.4 398.2h0M114.2 402.1h0M124.7 394.5h0M132.4 402h0M109.3 397h0M135.3 403.6h0M130.4 403h0M115.4 403.7h0M114.9 398.8h0M138.5 401.3h0M111 399.9h0M137.7 403.7h0M115.7 398h0M108.2 401.3h0M118.3 398.8h0M138.4 403.6h0M111.6 391h0M120.3 392h0M126.9 396.1h0M115.5 402.2h0M131.1 400.7h0M124.1 396.1h0M130.9 402.2h0M118.3 384.3h0M117.1 385.2h0M122.4 385h0M113.3 384h0M125.4 385.3h0M127.2 385.1h0M116.8 384.9h0M121.2 384.7h0M124.3 385.1h0M125.2 385.4h0M114.4 385.2h0M127.6 384.2h0M122.5 385.2h0M118.8 385.7h0M127.2 384.9h0M118.8 385.4h0M125.1 385.1h0M126.1 384.6h0M120.9 385.7h0M126.6 385h0M114.8 385h0M119.1 384.7h0M120.4 384.4h0M121.6 385.5h0M118.9 385.3h0M125.7 385.1h0M124.9 384.7h0M123.1 385.2h0M124.3 386h0M126.6 384.9h0M124.2 384.6h0M126.2 385.6h0M114.7 385.1h0M122.1 385.7h0M116.9 384.2h0M125.4 384.6h0M116.9 384.8h0M114.2 384.5h0M123.1 384h0M118.2 385h0M123.5 384h0M117.7 384.5h0M112.8 385.1h0M116.9 385.1h0M113.6 385.5h0M119.9 389.3h0M110 389.5h0M112.4 389.9h0M117.6 390h0M116.8 389.1h0M112.3 389.5h0M120.3 390.1h0M119.9 389.8h0M119.5 389.7h0M109.9 390.4h0M110.3 389.6h0M117.6 389.8h0M114.6 390.5h0M116.1 390.1h0M120.6 389.9h0M122.3 389h0M113.7 391.3h0M122.2 388.9h0M111.2 389.3h0M115.3 390.1h0M115.3 390.6h0M113.9 389.4h0M113.1 389h0M112 389.7h0M115.1 390.5h0M112 389.8h0M112.9 390.1h0M116.7 390.2h0M119.1 391.4h0M121.7 388.6h0M118.7 390.2h0M110.3 389.6h0M120.6 389.5h0M118.8 390h0M114.1 390h0M118.4 395.8h0M120.6 396h0M116.6 393.6h0M129.8 393.3h0M128.3 394.4h0M117.6 393.9h0M118.3 393.8h0M131.2 395h0M130 393.7h0M128.6 395h0M117.9 393.1h0M123.7 393.3h0M119.1 394h0M129.9 393.8h0M126.9 391.7h0M122.6 394.8h0M127.2 395.2h0M128.9 392.9h0M118 393.4h0M124.9 394h0M121.8 392.4h0M128 393.9h0M123.1 392.2h0M124.1 393.5h0M117 394.5h0M129.6 392.9h0M123.4 394.4h0M119.7 394.5h0M129.9 394.3h0M125 393.7h0M112.8 399h0M120.2 398.3h0M121 399.5h0M111.9 400.2h0M122.4 398.3h0M117.2 398.9h0M121.6 399.4h0M121.2 399.9h0M121.9 399.7h0M125.4 399.2h0M120.4 398.7h0M126.6 399h0M114.5 400.5h0M124 398.3h0M121 399.3h0M112.3 399.5h0M126.4 399.2h0M111.6 399.5h0M114.6 398.7h0M121.6 399.5h0M125.7 400.5h0M115 400.8h0M113.2 397.8h0M112.4 399.1h0M126.4 399.4h0M123.7 399.8h0M113.4 399.7h0M123.4 399.3h0M125.1 399.2h0M124.4 399.3h0M56.2 399.2h0M60.7 398.4h0M67.1 398.7h0M72.3 398.2h0M77.4 398.6h0M80.6 397.5h0M64.6 399.9h0M189.4 405.7h0M189.1 406.2h0M189.6 405.9h0M186.9 407.8h0M189.3 407.2h0M188.6 408h0M190.4 407.9h0M190.8 406.3h0M188.9 407.6h0M189.9 407.5h0M188.7 407.7h0M191.6 407h0" fill="none" stroke="#808a88" stroke-width="1.8" stroke-linecap="round"/>
<line x1="117.2" y1="384" x2="117.2" y2="410" stroke="#FF0000" stroke-width="1" stroke-opacity="1"/>
<line x1="46.5" y1="384" x2="46.5" y2="410" stroke="#000" stroke-width="1.45"/>
<line x1="43" y1="390.5" x2="46.5" y2="390.5" stroke="#000" stroke-width="1.1"/>
<text x="39.5" y="393.02" text-anchor="end" fill="#404040" stroke="#404040">10</text>
<line x1="43" y1="399.25" x2="46.5" y2="399.25" stroke="#000" stroke-width="1.1"/>
<text x="39.5" y="401.77" text-anchor="end" fill="#404040" stroke="#404040">5</text>
<line x1="43" y1="408" x2="46.5" y2="408" stroke="#000" stroke-width="1.1"/>
<text x="39.5" y="410.52" text-anchor="end" fill="#404040" stroke="#404040">0</text>
<line x1="53" y1="410" x2="53" y2="413.5" stroke="#000" stroke-width="1.1"/>
<text x="53" y="420.77" text-anchor="middle" fill="#404040" stroke="#404040">18.5</text>
<line x1="85.1" y1="410" x2="85.1" y2="413.5" stroke="#000" stroke-width="1.1"/>
<text x="85.1" y="420.77" text-anchor="middle" fill="#404040" stroke="#404040">19.0</text>
<line x1="117.2" y1="410" x2="117.2" y2="413.5" stroke="#000" stroke-width="1.1"/>
<text x="117.2" y="420.77" text-anchor="middle" fill="#404040" stroke="#404040">19.5</text>
<line x1="149.3" y1="410" x2="149.3" y2="413.5" stroke="#000" stroke-width="1.1"/>
<text x="149.3" y="420.77" text-anchor="middle" fill="#404040" stroke="#404040">20.0</text>
<line x1="181.4" y1="410" x2="181.4" y2="413.5" stroke="#000" stroke-width="1.1"/>
<text x="181.4" y="420.77" text-anchor="middle" fill="#404040" stroke="#404040">20.5</text>
<text x="154.8" y="391.32" font-weight="bold" stroke="#000">SCZ GWAS</text>
<text x="21.8" y="397.8" text-anchor="middle" font-size="7.8" transform="rotate(-90 21.8 397.8)" dy="2.57">&#8722;&#8201;log<tspan font-size="5.62" dy="1.95">10</tspan><tspan dy="-1.95">(p)</tspan></text>
<text x="121.6" y="431.81" text-anchor="middle" stroke="#000" font-size="7.1">Position (Mb)</text>
<text x="234.75" y="258.56" stroke="#000" font-size="7.1">Top SNP: 19_19497669_C_G</text>
<text x="240.5" y="274.31" stroke="#000" font-size="7.1">Genotype</text>
<rect x="279.75" y="269.15" width="4.6" height="5" fill="#34505B"/>
<text x="284.45" y="274.31" stroke="#000" font-size="7.1">0</text>
<rect x="297" y="269.15" width="4.6" height="5" fill="#E2913F"/>
<text x="301.7" y="274.31" stroke="#000" font-size="7.1">1</text>
<rect x="314" y="269.15" width="4.6" height="5" fill="#14A1D6"/>
<text x="318.7" y="274.31" stroke="#000" font-size="7.1">2</text>
<line x1="241.12" y1="315" x2="241.12" y2="333.25" stroke="#34505B" stroke-width="0.9"/>
<line x1="241.12" y1="349.5" x2="241.12" y2="355" stroke="#34505B" stroke-width="0.9"/>
<path d="M242.9 347.1h0M240.6 351.9h0M241.7 341.5h0M238.6 345.8h0M239.2 334.2h0M241.2 339h0M241.7 327.2h0M242.7 344.3h0M242.2 348.5h0M241.9 350.1h0M242.9 332.2h0M241.9 353.2h0M240.1 336.4h0M240.8 338.6h0M243.4 341.2h0M243.5 348.5h0M240.3 326h0M238.7 345.8h0M242.6 338.6h0M242.4 350.6h0M240 323.2h0M241.6 327.5h0M241.3 335.9h0M243.4 336.5h0M243.1 333.7h0M239.5 353.7h0M238.7 334.9h0M243.7 344.9h0M241.7 324h0M239.8 345.1h0M238.8 348h0M240.4 323.4h0M241.6 340.7h0M242.2 338.9h0M238.6 345.1h0M239.2 342.8h0M239.9 344.4h0M240.1 322.1h0M240.6 342.3h0M242.2 332.8h0M242.6 351h0M242.8 336.5h0M241.8 354.3h0M239.7 323.9h0M241.9 346.8h0M239.4 341.4h0M239 337h0M241.8 330.3h0M239.8 323.9h0M243.5 344.8h0M242.3 335.9h0M240.4 343.2h0M239.4 332.1h0M240.5 343.8h0M240.2 324h0M240.6 331.5h0M242.8 332.4h0M241.8 330.4h0M239.7 324.4h0M242.1 351h0M239.4 349.9h0M240.8 345h0M239.1 348.7h0M238.8 342.3h0M242.4 346.4h0M243.2 349.8h0M242 319.4h0M243.1 341.5h0M239.1 348.3h0M242.1 352.9h0M240.9 334.9h0M240.4 345.9h0M240.7 315h0M241.6 355h0" fill="none" stroke="#34505B" stroke-width="1.8" stroke-linecap="round"/>
<rect x="237.4" y="333.25" width="7.45" height="16.25" fill="#fff" stroke="#34505B" stroke-width="1.3" fill-opacity="0.65"/>
<line x1="237.4" y1="341" x2="244.85" y2="341" stroke="#34505B" stroke-width="1.3"/>
<line x1="249.88" y1="306" x2="249.88" y2="320" stroke="#E2913F" stroke-width="0.9"/>
<line x1="249.88" y1="335.5" x2="249.88" y2="357.5" stroke="#E2913F" stroke-width="0.9"/>
<path d="M248.8 344.3h0M247.4 320.1h0M250.9 316.7h0M250.5 329.3h0M251 313.5h0M251.1 344.1h0M251.5 341.4h0M252.2 330.2h0M248.9 343.3h0M248.2 322.1h0M252.1 336h0M250.9 330.4h0M249.8 335.9h0M252.5 325.3h0M248.9 344h0M252.1 316.4h0M248.2 327.2h0M249.4 322.6h0M249.1 326.8h0M251.8 325.8h0M249.6 321.1h0M248.5 342.7h0M247.8 322.5h0M248.5 313.7h0M248.9 307.1h0M248.4 316.3h0M249.3 329.3h0M251.4 340.1h0M252.1 319.9h0M249.2 352.2h0M248.8 336.1h0M249.7 350.7h0M251.8 323.2h0M249.9 339.7h0M250.4 328.7h0M250.7 352.3h0M248.5 344.8h0M248.2 335.4h0M248.6 319.2h0M248.6 310.9h0M249.7 338.1h0M248.6 347.2h0M250.9 325.4h0M248.4 339.3h0M249.1 346.5h0M249.4 335.6h0M249.4 352.4h0M250.8 324.5h0M248.9 312.6h0M248.5 326h0M249.5 335.7h0M250.3 336.8h0M249.1 335.7h0M247.9 328.5h0M248.8 345.1h0M252.6 329.9h0M250.2 349h0M251.6 342.3h0M248.4 329h0M251.6 337h0M248.3 336.3h0M250 318.3h0M247.7 320h0M247.3 336.2h0M249.1 343.7h0M249 356.8h0M249.2 355.9h0M250 315.9h0M248.8 316.6h0M247.6 334.5h0M250.7 341.5h0M251.3 336.7h0M249.8 323.6h0M248.1 341.3h0M250.9 321.6h0M251.6 326.3h0M250.1 310.9h0M250.9 319.9h0M249.1 346.8h0M248 320.3h0M250.2 315.3h0M248.5 322.3h0M250.1 321.6h0M250.4 307.6h0M251 323.8h0M249.3 352.4h0M250.4 343.9h0M251.4 332.5h0M251.5 342.9h0M248.9 321.9h0M250.2 308.9h0M247.5 334.9h0M251.2 343.5h0M249.2 349.6h0M249.3 314.1h0M251.4 333.3h0M247.3 327.4h0M250.7 319.3h0M248.8 328.9h0M249.1 323.4h0M251 308.9h0M248 337.9h0M247.3 321.9h0M249.2 352.8h0M250.5 321h0M250.7 345.4h0M247.7 336h0M249.1 352.5h0M250.7 344.5h0M247.9 331.4h0M251.8 330.7h0M249.5 337h0M248.7 345.3h0M248.5 333.6h0M250.6 351.9h0M252.6 327h0M249.7 320.9h0M248.6 343.8h0M251.6 333.3h0M248.4 326.6h0M251.8 322.3h0M248.1 334.7h0M248.1 323.6h0M250.2 338h0M250.5 307.4h0M250.7 352.3h0M248.9 340.3h0M249.5 310.7h0M248.3 324h0M250.7 327.1h0M249.1 344.9h0M251.1 347.4h0M250.9 344.9h0M250.8 331.8h0M250.1 331.3h0M251.7 322.8h0M251.5 340.4h0M251.1 309.5h0M250.5 340.9h0M249.7 337.9h0M251.2 317.5h0M249.3 350.8h0M248.8 328h0M251.5 333.3h0M251.3 331.9h0M249.7 329.8h0M248.9 337.2h0M249.8 352.1h0M249.2 343.8h0M247.8 335.5h0M249.9 348.7h0M252.1 326.5h0M250 306h0M249.6 357.5h0" fill="none" stroke="#E2913F" stroke-width="1.8" stroke-linecap="round"/>
<rect x="246.15" y="320" width="7.45" height="15.5" fill="#fff" stroke="#E2913F" stroke-width="1.3" fill-opacity="0.65"/>
<line x1="246.15" y1="328" x2="253.6" y2="328" stroke="#E2913F" stroke-width="1.3"/>
<line x1="258.5" y1="285.75" x2="258.5" y2="306.75" stroke="#14A1D6" stroke-width="0.9"/>
<line x1="258.5" y1="320.75" x2="258.5" y2="338" stroke="#14A1D6" stroke-width="0.9"/>
<path d="M259 296.7h0M259.3 333.6h0M259.5 304.5h0M256.4 307.8h0M257.8 321.6h0M259.1 297.2h0M259.2 293.5h0M257.9 305.7h0M258 334h0M257 305.7h0M258.5 328.6h0M259.3 289.2h0M260.1 313h0M259.5 324.8h0M260.1 301.6h0M256.2 306.7h0M259.5 331.7h0M260 300.5h0M258.7 289.2h0M259 305.2h0M258.6 312h0M256.8 324.4h0M259.6 304.9h0M257.7 327.6h0M260.5 320.1h0M258.8 326.3h0M259.4 323.7h0M259.3 296.5h0M259.2 284h0M260.1 317.1h0M258.4 289.1h0M258.2 337.9h0M257.9 295h0M258 315.8h0M257.5 298.3h0M257.6 319.6h0M256.8 317.2h0M258.5 287.8h0M257 307.9h0M257.9 289.2h0M259.3 324h0M257.9 304h0M258 304.3h0M259.8 326.5h0M259.1 281.4h0M259 301.2h0M258.2 303.9h0M259.2 299.3h0M258.3 289.3h0M258.8 326.1h0M260 300.4h0M258 308.6h0M259.3 330.3h0M258 328.4h0M260.2 303.9h0M258.7 314h0M258.4 317.4h0M259.7 303h0M257.9 323h0M258.6 298.8h0M258.1 331.1h0M258.8 290.1h0M260.2 315h0M257 317.2h0M259.7 312.3h0M258.6 335h0M259.2 286.1h0M257.7 330.5h0M258.2 329.9h0M258.9 325.9h0M257.8 283.2h0M256.8 301.3h0M256.4 316.9h0M259.4 319.7h0M260.3 301.6h0M258.1 326.6h0M261.2 316.8h0M258 291h0M259.8 311.7h0M257.1 298.4h0M260.1 310.8h0M260.4 306.7h0M258.2 300.2h0M259.6 330h0M258 289.1h0M260.2 313.4h0M255.8 310.3h0M259.2 304.6h0M258.1 322.5h0M259.2 335.5h0M258.1 299h0M260.7 312.8h0M259.7 325.9h0M257.6 320.2h0M258.8 296h0M257.4 321.3h0M259.2 285.7h0M258.9 289.5h0M258.7 332.7h0M260.4 304.4h0M257.3 314.6h0M260.4 309h0M259.8 312.6h0M258.5 286.6h0M258.8 293.2h0M257.9 305.9h0M259.3 334.8h0M259.2 296.8h0M260.2 305.5h0M257 324.9h0M258.8 289.3h0M261.1 310.1h0M259.3 313.4h0M257.2 308.3h0M258.5 282.9h0M256.9 326.8h0M258.4 296.1h0M257.8 322.6h0M257.9 291.6h0M258 287.8h0M258.5 281h0M258.3 338h0" fill="none" stroke="#14A1D6" stroke-width="1.8" stroke-linecap="round"/>
<rect x="254.9" y="306.75" width="7.2" height="14" fill="#fff" stroke="#14A1D6" stroke-width="1.3" fill-opacity="0.65"/>
<line x1="254.9" y1="313.75" x2="262.1" y2="313.75" stroke="#14A1D6" stroke-width="1.3"/>
<line x1="272.88" y1="308.75" x2="272.88" y2="319.25" stroke="#34505B" stroke-width="0.9"/>
<line x1="272.88" y1="334.25" x2="272.88" y2="350" stroke="#34505B" stroke-width="0.9"/>
<path d="M274 340.1h0M274.9 323.4h0M274.6 341.5h0M273 334.8h0M270.7 327h0M273.5 342h0M272.7 318.3h0M273.8 348.4h0M273.7 320.3h0M271.1 325.5h0M272 316h0M273.2 331.2h0M271.1 333.1h0M275.2 323.9h0M273.1 314.5h0M273.1 324.6h0M271.1 336.1h0M273.6 330.1h0M273.3 347.9h0M273 343.7h0M272.2 336.4h0M275.1 321.1h0M275.3 323.8h0M271.9 342.8h0M270.8 329.6h0M273.7 336.3h0M273.2 349.7h0M271.9 308.8h0M273.2 338.2h0M272.4 326.9h0M274.5 333.1h0M274.6 330.8h0M275 335.4h0M272.1 338.5h0M273.9 325.5h0M274.3 319.6h0M273.6 313.3h0M273.7 335.1h0M273.8 349.7h0M271.3 335.7h0M272.1 331.5h0M271.3 319.3h0M271.3 337.2h0M271.7 341.8h0M272.6 316h0M270.5 322.3h0M274.1 321.5h0M274.6 332.6h0M272.4 339.3h0M274.1 335.7h0M272.7 318.6h0M273.9 310.3h0M271.3 316.2h0M273.7 326.4h0M271.9 332.9h0M271.3 336.4h0M272 325.5h0M272.6 337.9h0M274.6 334.2h0M273.3 315.2h0M272.9 330.3h0M273.6 343.4h0M271.5 339.7h0M273.7 326.6h0M271.4 329.5h0M271.3 328.2h0M272.3 315.2h0M271.4 329.3h0M271.1 324.3h0M273 317.8h0M271.9 346.7h0M273.7 321.5h0M272.9 308.8h0M273.2 350h0M272.9 357.5h0" fill="none" stroke="#34505B" stroke-width="1.8" stroke-linecap="round"/>
<rect x="269.15" y="319.25" width="7.45" height="15" fill="#fff" stroke="#34505B" stroke-width="1.3" fill-opacity="0.65"/>
<line x1="269.15" y1="328.75" x2="276.6" y2="328.75" stroke="#34505B" stroke-width="1.3"/>
<line x1="281.62" y1="301.25" x2="281.62" y2="320" stroke="#E2913F" stroke-width="0.9"/>
<line x1="281.62" y1="332.5" x2="281.62" y2="351.25" stroke="#E2913F" stroke-width="0.9"/>
<path d="M284.2 326.4h0M279.6 329.5h0M282.5 335.8h0M280.8 363.4h0M280.9 351.6h0M279.8 336.1h0M281.4 346.3h0M282.8 322.3h0M279.5 335.8h0M283 324.6h0M280.6 340.5h0M280.9 345.9h0M278.9 325.6h0M283.9 325.3h0M283.7 319h0M281.8 355.9h0M282.9 341h0M281.7 310.8h0M281.7 321.3h0M280.9 312.5h0M281.6 333.6h0M281.8 323h0M283.1 320.9h0M281.7 350.2h0M281.1 335.9h0M281.1 321h0M281.6 352.8h0M281.5 311.9h0M283.1 323h0M280.9 311.5h0M282.1 341.7h0M281.2 344.3h0M281 334.2h0M282.3 337h0M281.1 351.8h0M279.4 323.3h0M281.6 347.3h0M282.9 324.7h0M282.3 354.8h0M281.3 336.6h0M279.8 331.8h0M284.1 325h0M283.5 319.9h0M279.8 326.3h0M279.4 322.8h0M281 327.2h0M279.8 314.7h0M280.9 325h0M282.6 320h0M280.4 310.2h0M280.9 338.7h0M283.7 327h0M281.9 313.3h0M279.3 319.2h0M281.7 318.3h0M280.4 316.1h0M283.6 318.4h0M284.3 330.4h0M282.1 330.3h0M279.1 320.6h0M281.2 352.2h0M284.4 329.8h0M282.3 321.1h0M281.7 354.3h0M283.3 330.5h0M281.3 325h0M281.6 303.6h0M280.3 341.4h0M281.3 333.5h0M280.5 330.8h0M284.1 332.3h0M281.1 315.2h0M282.7 311.6h0M280.6 325.3h0M280.7 335.5h0M279.8 334.5h0M280.8 333.4h0M283.6 323.5h0M281.4 305.8h0M280.4 337.5h0M281.5 342.4h0M281.4 327.8h0M283 322.8h0M281 342.3h0M282 343.6h0M279.9 319.9h0M281.2 344.3h0M281.8 306.7h0M281.7 327.1h0M281.5 321.3h0M281.3 306.6h0M282.2 334.4h0M280.5 336.1h0M283.6 324.4h0M281.4 348.3h0M282 342.9h0M282.3 322.8h0M282 348.7h0M283.1 316h0M279 331.3h0M283.6 327.2h0M283.4 333.5h0M283.3 316.1h0M279.6 334.3h0M282.4 327.4h0M280.4 330.1h0M282.3 358.6h0M283.4 327.2h0M283.8 332.5h0M281.1 346.9h0M282.1 336.5h0M282 307.2h0M283.2 320.7h0M280.6 333.6h0M281.2 353.6h0M280 324.2h0M282.4 347.9h0M279.8 315.1h0M282.3 347.8h0M279.9 325.3h0M281.1 324.5h0M280.5 312.5h0M281.7 329.3h0M282.2 310.9h0M280.3 327.6h0M280.9 330.1h0M281.4 312.2h0M283.3 322.2h0M282.2 331.7h0M282.1 306h0M283.1 315.7h0M282.3 343.3h0M280.4 315.4h0M281.5 305.7h0M283.7 329.9h0M279.7 331.3h0M281.5 320.7h0M281.3 323.2h0M284.2 326.9h0M278.9 324.5h0M281.8 336h0M283 327.5h0M282 318.2h0M281.5 322.6h0M280 317.2h0M280.9 347h0M280.8 356.3h0M280 314.9h0M280.5 335.2h0M281.4 331.5h0M279.4 329.6h0M280.2 311.6h0M281.5 297.5h0M281.2 365h0M281.6 283.8h0" fill="none" stroke="#E2913F" stroke-width="1.8" stroke-linecap="round"/>
<rect x="277.9" y="320" width="7.45" height="12.5" fill="#fff" stroke="#E2913F" stroke-width="1.3" fill-opacity="0.65"/>
<line x1="277.9" y1="326" x2="285.35" y2="326" stroke="#E2913F" stroke-width="1.3"/>
<line x1="290.38" y1="288.88" x2="290.38" y2="314" stroke="#14A1D6" stroke-width="0.9"/>
<line x1="290.38" y1="330.75" x2="290.38" y2="345" stroke="#14A1D6" stroke-width="0.9"/>
<path d="M292.9 330.7h0M290.1 342.8h0M289.8 305.5h0M292.8 327.3h0M291.5 310.1h0M289 310.9h0M292.5 327.3h0M290.2 314.1h0M290.5 295.9h0M290.2 285.2h0M289.2 343.6h0M292.3 321.1h0M288.9 309h0M288.8 317.8h0M291.3 322.7h0M290.2 303h0M288.6 313.3h0M290.9 298.7h0M290.6 316.1h0M290.8 287.5h0M291.6 325.1h0M288.5 321.4h0M288.8 309.7h0M289.2 322.4h0M290.2 304.9h0M291 333.2h0M291.2 305.6h0M288.2 320.4h0M289.8 298.5h0M291.7 330.5h0M290 331.1h0M289.4 338.3h0M288.7 307.1h0M292.2 334.8h0M288.9 305.8h0M290 287.1h0M290.2 281.3h0M290.2 312.4h0M288.1 327.6h0M288.8 329.7h0M290.1 337.5h0M289.6 340h0M290.8 283h0M290.8 334.4h0M289.6 286.5h0M291.6 318.2h0M290.4 318.2h0M290.8 313.2h0M289.1 326.4h0M290.9 285.6h0M290.4 323.3h0M291.5 328.6h0M289.9 300.2h0M292.1 338h0M290.9 296.7h0M291.2 293.3h0M290.6 332.6h0M291.8 336.2h0M288.6 321.5h0M291.1 339.6h0M290.2 319.4h0M287.8 324.7h0M292.9 317.6h0M291.3 311.8h0M289.8 322.3h0M288.8 313.5h0M291.1 342.7h0M291.8 310.3h0M291.7 328h0M291.4 341h0M290.9 297.4h0M292 317.9h0M291.1 334.9h0M288.8 333.5h0M290.1 293.8h0M289.1 333.6h0M291.2 301.4h0M289.6 338.8h0M289.9 335.7h0M292.4 323.5h0M289 317.8h0M288.1 322.6h0M290.4 317.8h0M289.7 315h0M289 337.6h0M290.7 281.4h0M290.7 325.2h0M290.4 290h0M288.6 320.7h0M291.9 317.3h0M292.7 318.9h0M289.4 316.8h0M289.2 304.1h0M291.1 314.7h0M291.2 340.9h0M290.3 294.9h0M289.5 300.7h0M289.2 332.6h0M289 338h0M292.4 311.3h0M291.6 309h0M291.2 291.3h0M288 323h0M290 336.6h0M291.6 306.9h0M288.9 318.1h0M290.3 324.1h0M289.5 313.5h0M289.7 344.8h0M288.2 310.8h0M291.8 334.7h0M291.2 342.8h0M287.7 317.7h0M289.1 326.9h0M290.4 284.3h0M288.7 309.9h0M290.8 332h0M290.9 323.1h0M291 344.1h0M289.5 335.8h0M290.8 280h0M290.7 345h0" fill="none" stroke="#14A1D6" stroke-width="1.8" stroke-linecap="round"/>
<rect x="286.65" y="314" width="7.45" height="16.75" fill="#fff" stroke="#14A1D6" stroke-width="1.3" fill-opacity="0.65"/>
<line x1="286.65" y1="322.5" x2="294.1" y2="322.5" stroke="#14A1D6" stroke-width="1.3"/>
<line x1="304.88" y1="310" x2="304.88" y2="314.25" stroke="#34505B" stroke-width="0.9"/>
<line x1="304.88" y1="329.25" x2="304.88" y2="345" stroke="#34505B" stroke-width="0.9"/>
<path d="M305.3 318.7h0M306.3 318.7h0M305.1 321.6h0M306.7 329.8h0M304.1 344.7h0M305.4 328.8h0M305.5 315.2h0M302.6 313.5h0M302.7 327.4h0M305.5 311.1h0M304.2 318.3h0M305.4 317.2h0M307.3 323.1h0M304.5 343.3h0M306.3 313.3h0M305.2 327.7h0M304 342.7h0M306.6 316.7h0M305.1 322.1h0M304.1 312.2h0M305.9 327.3h0M306.3 314.3h0M303.2 328h0M304.2 338.7h0M304.2 338.4h0M303.5 335h0M305.3 337.1h0M304.6 344.5h0M304.5 342.2h0M306.1 334h0M303.5 319.6h0M306.7 316.3h0M305.9 318.5h0M306.2 314.3h0M302.7 320.7h0M306.6 322.7h0M304.1 315.8h0M302.7 315.7h0M305.7 313.2h0M306.9 321.3h0M304.7 337.4h0M306.4 316.5h0M305 337.5h0M304.3 314.5h0M303.8 328h0M304 317.5h0M304.8 331.4h0M307 328.1h0M303.6 318.1h0M304.9 312h0M304.5 315.5h0M304.3 326.8h0M304.6 341.2h0M305.6 328.1h0M303.7 322h0M306.9 327.8h0M307.2 325.9h0M306.1 335h0M307.2 313.4h0M304.4 332.9h0M306.2 317.5h0M303.2 320.4h0M303.6 335.6h0M304.2 317.7h0M305.5 328.4h0M303.3 310.2h0M307.5 321h0M304.1 319.3h0M305.2 333.4h0M304.8 344.2h0M304.6 315.8h0M303.6 329.7h0M304.4 310h0M304.5 345h0M303.9 281h0M305.9 285h0M304.9 357.5h0" fill="none" stroke="#34505B" stroke-width="1.8" stroke-linecap="round"/>
<rect x="301.15" y="314.25" width="7.45" height="15" fill="#fff" stroke="#34505B" stroke-width="1.3" fill-opacity="0.65"/>
<line x1="301.15" y1="321" x2="308.6" y2="321" stroke="#34505B" stroke-width="1.3"/>
<line x1="313.62" y1="302.5" x2="313.62" y2="316.75" stroke="#E2913F" stroke-width="0.9"/>
<line x1="313.62" y1="330" x2="313.62" y2="349.88" stroke="#E2913F" stroke-width="0.9"/>
<path d="M314.8 333h0M315 314.3h0M311.8 310.7h0M314.6 319.7h0M316.1 321.5h0M311.2 317.6h0M312.6 335.2h0M315 319.9h0M313.3 316.5h0M311.8 322.7h0M314.8 326.8h0M315 312.6h0M313.2 335.2h0M315.6 312h0M314.3 329.1h0M315.6 318.9h0M313.3 328.6h0M314 341.6h0M312.4 324.2h0M315.1 320h0M314.5 343.3h0M315 337.7h0M313.9 324.2h0M315.2 320.8h0M313.9 327h0M311 327h0M313.5 313.4h0M313 339.1h0M313.9 340.7h0M311.9 320.9h0M313.9 308h0M312.8 312.4h0M314.8 330h0M314.6 311.1h0M315 327.7h0M313.7 328.6h0M315.8 326.8h0M315 316.7h0M312.4 330.6h0M312.8 350.3h0M313.2 319.7h0M314.3 303.7h0M311 328.4h0M312.1 316.1h0M311.8 319.2h0M314.1 326.2h0M315.2 318.4h0M316.1 319.7h0M313.5 330.6h0M312.2 333.8h0M311.9 332.9h0M312.8 346.9h0M313.8 314.4h0M313.6 320h0M314.2 312.1h0M314.7 328.8h0M312.3 321.8h0M312 329.6h0M314 307.3h0M312.7 308.8h0M316.1 326h0M313.2 332.2h0M316.3 319.7h0M313.8 312.5h0M314.7 308.4h0M313.9 340h0M315.2 326.9h0M314.7 318.4h0M315.1 321.3h0M315 331.3h0M315.4 318.6h0M313.6 320.4h0M315.8 321.9h0M316.4 323.8h0M312.9 350.3h0M313.9 338.9h0M314.1 331.9h0M311.1 316.3h0M311.2 316h0M316.4 317.6h0M312 313h0M313.9 335.7h0M313.2 316.8h0M315.5 334.8h0M314.1 340.5h0M314.7 317.1h0M313.7 317h0M314.9 309.1h0M312.2 322.8h0M313.9 308.8h0M313.7 328.1h0M311.4 313.3h0M312.6 326h0M316.1 320.2h0M315.9 323.8h0M314.3 339h0M314 321.6h0M313 341.3h0M315.3 315.9h0M312.9 351.4h0M314.5 334.8h0M313.7 341.5h0M313.9 348.6h0M313.6 331.9h0M311.9 331.1h0M313.3 332.3h0M313.1 313.9h0M312.9 319h0M312.2 307h0M313.3 322.3h0M312.1 320.8h0M313.1 338.8h0M313.2 306h0M312.8 337.1h0M314.4 310.8h0M313 326h0M315.5 328.3h0M313.8 303.8h0M313.5 338.3h0M312.3 337.3h0M313.5 335.8h0M313.8 349.1h0M314.1 328.4h0M315 322.6h0M313.1 345.1h0M313.3 314.7h0M314.5 311.6h0M316.2 318.7h0M314.2 318.9h0M314.2 310.9h0M311.3 329.8h0M312.6 316.9h0M313.7 347.5h0M314.1 320.3h0M312.2 323.7h0M315.8 316.9h0M311.9 324.3h0M313 327.4h0M313.5 322.7h0M313.2 325.7h0M316 315h0M312.9 325.8h0M313.1 336h0M313.8 325.5h0M312.7 337.8h0M310.9 317.4h0M311.1 324.2h0M312.5 311.3h0M312.8 330h0M312.7 320.5h0M314 341.9h0M312.2 335.2h0M313.2 302.5h0M313.3 352.5h0M313.6 280.8h0M313.6 365h0M314.6 369h0" fill="none" stroke="#E2913F" stroke-width="1.8" stroke-linecap="round"/>
<rect x="309.9" y="316.75" width="7.45" height="13.25" fill="#fff" stroke="#E2913F" stroke-width="1.3" fill-opacity="0.65"/>
<line x1="309.9" y1="322.5" x2="317.35" y2="322.5" stroke="#E2913F" stroke-width="1.3"/>
<line x1="322.25" y1="292.5" x2="322.25" y2="317.5" stroke="#14A1D6" stroke-width="0.9"/>
<line x1="322.25" y1="335.75" x2="322.25" y2="352.5" stroke="#14A1D6" stroke-width="0.9"/>
<path d="M322.4 336.6h0M321.9 327.6h0M321.9 348.5h0M324.9 323.4h0M323.1 329.9h0M324.3 320.5h0M323.8 333.3h0M323.2 331.1h0M321 331.3h0M322.9 330h0M320.5 325.6h0M320.6 335.3h0M322.3 331.9h0M324.3 321.7h0M322.3 330.6h0M322.5 334.9h0M322.2 346.1h0M321.2 327.3h0M322.8 323.7h0M321.9 300.2h0M320.3 333.8h0M321.9 340.1h0M320.3 319.6h0M321.8 316h0M322.5 313.2h0M323.6 337.3h0M323.6 310.9h0M322.4 338.4h0M320.1 326.9h0M324.2 319.3h0M320.6 312h0M323.4 340.2h0M320.8 311.5h0M321.6 334.1h0M320.6 335.2h0M323.9 320.1h0M323.5 319h0M323.1 313.7h0M323.7 340.6h0M321.5 325.8h0M321.6 344.2h0M321.1 309.9h0M322.8 294.9h0M321.9 310.1h0M322.9 297.9h0M320.3 320.4h0M323.9 330.9h0M321.1 348.3h0M320.3 327.9h0M322.9 349.4h0M322.7 297.4h0M322.1 321h0M322.7 348.9h0M323.5 320.2h0M324.3 329.8h0M322.6 319.5h0M324.8 324.2h0M324 313.7h0M324.1 321.9h0M323.7 314.8h0M323.9 344.2h0M321.6 295.2h0M321.2 315.2h0M320 320.9h0M322.5 342.8h0M321.5 319.4h0M322.8 349.9h0M321.6 297h0M321 343.1h0M323.1 351.5h0M320.7 323.8h0M322.4 325.3h0M323.2 330.6h0M321.1 328.3h0M323.3 333.9h0M320.1 315.2h0M322.9 328.5h0M323.4 343.7h0M320.5 321.8h0M322.9 304.6h0M321.4 299.2h0M320.5 315.3h0M324 312.8h0M321.5 340.8h0M323.3 343.6h0M322.5 322.1h0M323.1 351.5h0M324.8 327.3h0M324.5 318h0M322.6 314.1h0M323.1 349.3h0M324 321.2h0M321.8 297.9h0M322.5 342.3h0M320.1 320.9h0M322.6 296.8h0M321.1 307h0M322.2 350.2h0M323.1 350.7h0M321 325.7h0M322.7 347.7h0M322.5 317h0M323.2 304.4h0M322.5 323.4h0M323.1 301.3h0M322.7 331.5h0M320.1 338.8h0M320.9 324.4h0M323.5 344.2h0M319.7 319h0M321.5 328.4h0M322.7 317h0M321.1 305.1h0M321.8 299h0M324.9 330.2h0M320.5 319.8h0M323.1 340.1h0M320.1 328.5h0M324.4 319.7h0M323.5 317.7h0M322.4 292.5h0M322.1 352.5h0" fill="none" stroke="#14A1D6" stroke-width="1.8" stroke-linecap="round"/>
<rect x="318.65" y="317.5" width="7.2" height="18.25" fill="#fff" stroke="#14A1D6" stroke-width="1.3" fill-opacity="0.65"/>
<line x1="318.65" y1="326" x2="325.85" y2="326" stroke="#14A1D6" stroke-width="1.3"/>
<line x1="230.5" y1="275.5" x2="230.5" y2="373.5" stroke="#000" stroke-width="1.45"/>
<line x1="230" y1="373" x2="332.25" y2="373" stroke="#000" stroke-width="1.45"/>
<line x1="226.5" y1="296.5" x2="230.5" y2="296.5" stroke="#000" stroke-width="1.1"/>
<text x="222.7" y="299.02" text-anchor="end" fill="#404040" stroke="#404040">2</text>
<line x1="226.5" y1="324.5" x2="230.5" y2="324.5" stroke="#000" stroke-width="1.1"/>
<text x="222.7" y="327.02" text-anchor="end" fill="#404040" stroke="#404040">0</text>
<line x1="226.5" y1="352.5" x2="230.5" y2="352.5" stroke="#000" stroke-width="1.1"/>
<text x="222.7" y="355.02" text-anchor="end" fill="#404040" stroke="#404040">&#8722;2</text>
<line x1="249.5" y1="373" x2="249.5" y2="377" stroke="#000" stroke-width="1.1"/>
<text x="249.5" y="386.27" text-anchor="middle" fill="#404040" stroke="#404040">mRNA</text>
<line x1="281.5" y1="373" x2="281.5" y2="377" stroke="#000" stroke-width="1.1"/>
<text x="281.5" y="386.27" text-anchor="middle" fill="#404040" stroke="#404040">Ribo</text>
<line x1="313.5" y1="373" x2="313.5" y2="377" stroke="#000" stroke-width="1.1"/>
<text x="313.5" y="386.27" text-anchor="middle" fill="#404040" stroke="#404040">Protein</text>
<text x="206.75" y="327.56" text-anchor="middle" stroke="#000" font-size="7.1" transform="rotate(-90 206.75 325)">Gene expression</text>
<text x="5" y="458.2" font-weight="bold" stroke="#000" font-size="10">D</text>
<text x="19.6" y="467.62" font-weight="bold" font-style="italic" stroke="#000" font-size="9.5">COQ7</text>
<line x1="45.5" y1="532.5" x2="176" y2="532.5" stroke="#EBEBEB" stroke-width="1"/>
<line x1="45.5" y1="526.65" x2="176" y2="526.65" stroke="#EBEBEB" stroke-width="1"/>
<line x1="45.5" y1="520.8" x2="176" y2="520.8" stroke="#EBEBEB" stroke-width="1"/>
<line x1="45.5" y1="514.95" x2="176" y2="514.95" stroke="#EBEBEB" stroke-width="1"/>
<line x1="45.5" y1="509.1" x2="176" y2="509.1" stroke="#EBEBEB" stroke-width="1"/>
<line x1="45.5" y1="503.25" x2="176" y2="503.25" stroke="#EBEBEB" stroke-width="1"/>
<line x1="45.5" y1="497.4" x2="176" y2="497.4" stroke="#EBEBEB" stroke-width="1"/>
<line x1="45.5" y1="491.55" x2="176" y2="491.55" stroke="#EBEBEB" stroke-width="1"/>
<line x1="45.5" y1="485.7" x2="176" y2="485.7" stroke="#EBEBEB" stroke-width="1"/>
<line x1="45.5" y1="479.85" x2="176" y2="479.85" stroke="#EBEBEB" stroke-width="1"/>
<path d="M50.9 533.1L50.9 532.5L50.9 529.58L74.6 529.58L75.19 532.5L75.19 533.1Z" fill="#808a88"/>
<path d="M77.56 533.1L77.56 532.5L77.56 529.58L171.18 529.58L171.18 532.5L171.18 533.1Z" fill="#808a88"/>
<path d="M53.4 525.5h0M68.7 527.1h0M61.8 521.1h0M65.1 527.1h0M54.8 527.2h0M63.7 517.3h0M74.5 527.5h0M58.3 530.1h0M65.6 521.5h0M56.3 522.9h0M74.6 529.4h0M73.1 528.6h0M66.1 519.2h0M55.2 528.8h0M74.2 532.2h0M57.7 526.2h0M68.4 524.5h0M72.9 525.6h0M50.3 532.2h0M51.2 528.7h0M51 527.7h0M65.7 530.5h0M71.1 528.4h0M73.6 529.6h0M65.4 525.1h0M56.7 521h0M50.4 530.8h0M58.1 518.3h0M62.5 532.3h0M57.6 523.9h0M70 531.7h0M69.2 528.4h0M63 526.7h0M61 514.4h0M72.6 521.9h0M68.2 523.2h0M53.7 532.3h0M70.5 524.6h0M65.6 528.9h0M56.8 518.2h0M63.2 532.4h0M58.6 528.2h0M51.9 520.9h0M72.2 523.2h0M50.4 529.1h0M53 524h0M70 522.5h0M69.5 531.6h0M50.6 532h0M70.8 522.3h0M62.8 529.8h0M71.1 531.7h0M58.2 532.5h0M74.2 529.1h0M69 521.9h0M64.4 515.8h0M69.1 519.7h0M73.7 532.1h0M68.5 530.4h0M58.2 528.4h0M74.3 532.2h0M60.9 531.2h0M74.5 528.3h0M67.4 526h0M68.9 529h0M60.3 520.2h0M67.4 519.4h0M57.8 519.2h0M68.2 525.4h0M60.2 523.9h0M52.2 531.9h0M57.9 531.4h0M51.5 525h0M68.1 524.6h0M55.3 522.7h0M70.4 525.4h0M55.8 525.2h0M59.9 529.3h0M53.9 521.2h0M65.7 517.6h0M54.5 530h0M62.7 532h0M57.6 525.1h0M62 516.2h0M64.3 523h0M64.5 520.1h0M59.2 532.5h0M74.1 524.5h0M53.4 531.7h0M55.7 523.6h0M53.5 532.4h0M62.3 532.5h0M56.6 528h0M55.3 532.5h0M56.6 530h0M58.2 527.2h0M59 528.5h0M50.8 523.8h0M68.2 526.6h0M50.4 530.9h0M72.2 528.1h0M55.3 521h0M72 531.7h0M62.5 523.9h0M53.2 529.5h0M65.3 522.6h0M65.6 523.7h0M59.5 532h0M50.7 523.9h0M71.3 521.4h0M52.2 523.9h0M54.5 528.9h0M55.2 520.3h0M70.2 521.9h0M59.6 516.4h0M56.6 524.8h0M66.7 530.1h0M59.6 531.6h0M69.7 531h0M53.6 530h0M65.9 523.5h0M63.1 518h0M68.6 530.6h0M63.3 530.7h0M56.2 531.2h0M52.2 529.4h0M71.8 525.4h0M52.4 530.8h0M64.7 525.1h0M51 532h0M64.1 523.6h0M52.3 523.7h0M56.1 524.7h0M63.2 528.1h0M73.3 529.1h0M60.6 524.4h0M70.7 519.6h0M69 526.1h0M67.7 524.1h0M73.6 521.7h0M68.8 530.5h0M64.1 526.6h0M55.9 521.3h0M55.7 522.7h0M62.2 526.4h0M67.5 522.5h0M74.3 521.8h0M69.7 530.1h0M66.6 526.2h0M73.2 528.5h0M59 532.4h0M61.7 524.3h0M57.8 531.6h0M62.1 531.9h0M54.5 527.6h0M58.8 525.6h0M63.2 527.3h0M53.5 532.4h0M63.9 515.8h0M57.1 528.4h0M58.1 521.2h0M62.3 518.9h0M50.4 531.7h0M55.3 528.4h0M60 527.3h0M73.8 528.7h0M64.3 516.2h0M65.9 524.3h0M70.4 529.3h0M51.2 521.8h0M63.3 523.7h0M51.9 524.3h0M59.4 522.7h0M57.2 518.1h0M59.3 529.3h0M72 530.8h0M56.9 526.2h0M74.1 531.8h0M55.4 521.3h0M52.1 528.6h0M69.3 523.5h0M69.6 531.6h0M71.9 529.3h0M70.1 527.4h0M72 527.8h0M56.6 531.2h0M62.4 532.1h0M54.3 520.7h0M64.2 518.4h0M54 527.2h0M61.7 531.5h0M56.7 518.2h0M67.9 526.3h0M65.1 518.8h0M73.5 526.8h0M51.5 522.8h0M54.3 530.3h0M53.6 526.9h0M64.5 526.3h0M61.7 531h0M96.7 525.7h0M85.8 520.2h0M102.6 519.6h0M103.8 532.1h0M87.9 526.7h0M84.4 522.2h0M101.7 531.4h0M91.1 517.2h0M101.3 527.4h0M80.4 527.5h0M91.4 520.9h0M82.5 529.7h0M103.8 532.5h0M93.9 531.8h0M97.6 527.6h0M102.2 530.5h0M101 530.4h0M78.8 532h0M79.6 528.5h0M103.5 528.8h0M96.7 532.3h0M91.3 525.4h0M80.2 525.7h0M89.5 528.7h0M99.7 523.4h0M80.8 531.7h0M79 530.1h0M94.5 517.7h0M103.4 520.8h0M80.9 522.2h0M97.9 526.8h0M104.1 525.3h0M80.7 530.6h0M81 525.1h0M94.2 519.8h0M77.8 532.5h0M103.5 530h0M84.6 519.9h0M80.5 522.3h0M101.5 525.7h0M93.8 532.5h0M93.7 524.2h0M98.1 526.2h0M80.6 530.5h0M95 531.9h0M80.4 530.2h0M98.8 525.7h0M87.1 517.2h0M93.1 530.1h0M92.6 519.7h0M87.4 527.1h0M93 517.1h0M94.6 530.8h0M93.1 528.9h0M90.2 522.1h0M78.1 527.1h0M85.9 524.5h0M99.4 527h0M94.4 529.4h0M84.4 526.2h0M91.8 530.2h0M98 526.4h0M87 529.8h0M99.9 519.7h0M102.6 530.2h0M79.5 525.1h0M78.2 521.8h0M95.7 528.8h0M89.3 522.6h0M81.8 528.6h0M98.5 523.5h0M93.2 531.7h0M83.3 530h0M78.4 525.1h0M92.8 518.3h0M92.3 518.4h0M90.1 525.7h0M85.1 526.8h0M102.5 526.9h0M77.6 529.2h0M82.8 524.6h0M91.1 526.4h0M102.3 522.4h0M79.9 532.4h0M96.2 524.7h0M95 526.2h0M78.5 527.8h0M99.8 524.9h0M78.7 531.6h0M101.7 526h0M81.9 523.4h0M102.2 520.6h0M94.8 520.8h0M79.9 527.5h0M99.2 528.8h0M81.4 520.8h0M96.3 532.5h0M79.3 526.2h0M103 524.9h0M100.9 531.7h0M92.9 530.8h0M86.4 531.2h0M89.9 532.2h0M95.1 523.8h0M101.7 522.3h0M79.6 521.2h0M92 518h0M90.7 531.9h0M96.3 530.9h0M103.8 526.2h0M101.6 526.8h0M86.3 523.3h0M96.5 527h0M84.9 527.5h0M96.6 530.3h0M81.8 527h0M95.1 532h0M84.8 517.8h0M84.7 521.6h0M85.7 531.9h0M90.5 519.1h0M98.3 532.2h0M96.3 524.3h0M90.4 523.1h0M91.5 530.8h0M96.1 531.4h0M85.8 519.8h0M92.7 525.9h0M96.5 526.5h0M87.8 525h0M78.2 529.1h0M78.6 519.4h0M101.8 524.2h0M81.8 520.9h0M85.1 520.9h0M94.9 524.5h0M97.3 529.8h0M99.8 525.9h0M97.7 520.6h0M84.3 527.8h0M87.2 531.9h0M100.9 523.6h0M90.6 525.2h0M101 532h0M87.1 522.7h0M91.8 526.1h0M84.5 530.3h0M95.4 528.7h0M102.6 520h0M103.4 529.8h0M91.3 531.7h0M87.1 532h0M90.9 517.4h0M97.9 528.5h0M84.9 518.6h0M79 521.8h0M100.4 532h0M102.9 524.4h0M87.9 527.1h0M93.8 525.7h0M100.7 519.9h0M86.3 532.5h0M98.3 524h0M95 532h0M79.6 520.7h0M87.3 526.4h0M103.5 530.8h0M94.5 532.1h0M92.5 521.9h0M81.8 522.5h0M103.4 521.5h0M98.6 518.7h0M96.7 525.6h0M99.5 521.4h0M94.3 523.3h0M82.3 529h0M86.2 519.6h0M98.4 529.5h0M104.1 532.1h0M79.2 529.4h0M79.6 519.8h0M87.1 527.8h0M100.4 526.1h0M94.4 527.2h0M89.8 517.2h0M85 525.9h0M90.3 531.2h0M81.5 526.7h0M98.9 527.5h0M79.1 520.2h0M81.2 520.5h0M78.8 524.9h0M81.5 530h0M88.8 521.2h0M89.2 527.3h0M88.3 525.5h0M85 518.1h0M82.6 531.4h0M92.2 528.4h0M96.8 532.3h0M110.2 524.6h0M112.5 526.4h0M108.1 525.9h0M109 526.9h0M110.2 523.3h0M110.5 526.6h0M108.3 518.8h0M110.6 515.7h0M108 531.3h0M105.2 530.1h0M105.9 529.3h0M110.1 525.3h0M112.3 528.1h0M106.4 529.3h0M105.5 514.7h0M109.4 527.6h0M111.4 514.9h0M108 517.2h0M110.1 522.4h0M105 524.6h0M112.6 524.4h0M109.9 531.3h0M111.1 508.3h0M107.5 524.4h0M108.8 527.6h0M106.1 530.5h0M110.3 520.3h0M112.7 504.7h0M112 505.3h0M111.7 532.3h0M105.4 504.2h0M112 516.9h0M109.7 522.5h0M108 530.1h0M109.1 527h0M105.3 508.1h0M109.3 507.9h0M106.8 518.2h0M106.7 509.5h0M106.1 515.9h0M109.2 525.7h0M104.9 521h0M108.9 510h0M106 529.2h0M106.9 510.5h0M106.3 516.3h0M104.5 531.4h0M110.5 520.7h0M105.2 521.4h0M112.6 523.9h0M109.2 523h0M108.7 532h0M112.1 518.1h0M107.3 526.8h0M105.9 505.7h0M111.7 524.2h0M109.6 519h0M106 532.2h0M110.8 529.7h0M109.2 532.4h0M104.4 529.7h0M110 517h0M113 515.5h0M108.9 532.4h0M112.7 521h0M111.8 532h0M111.6 521.4h0M106.1 523.4h0M104.9 518.1h0M106.2 514h0M105.8 514.4h0M109.7 513.7h0M112.7 526.5h0M110.3 523.7h0M112.2 509.7h0M111 517.4h0M106.5 506.7h0M112.8 505.1h0M107.2 509.8h0M110.3 509.2h0M111.4 522h0M107.7 510.8h0M110 519.4h0M112 532.2h0M104.3 521.7h0M105.1 509.1h0M105 507.7h0M106.2 530.4h0M110.9 514.9h0M107.9 517.6h0M109.1 505.2h0M108.7 519.4h0M108.3 523.3h0M110.4 530.8h0M110.4 505.9h0M111 519.3h0M107.4 531.1h0M105 519.4h0M112 508.2h0M105.9 512.4h0M111.4 521.2h0M111.9 529.2h0M107.2 520.2h0M110.7 522.2h0M106.9 508.2h0M107.7 523h0M106.2 521.1h0M110.5 524.7h0M110.1 520.8h0M104.3 504.7h0M119.6 524.7h0M134.7 530.4h0M114.5 530.4h0M116.6 518.8h0M124.8 532.1h0M119.2 525.3h0M117 528.9h0M133.5 526.5h0M118.4 523.8h0M115.6 525.4h0M127.7 531.6h0M125.5 527.8h0M129.9 521.7h0M133.6 523.5h0M117.2 530.6h0M129 516.9h0M114.5 527.2h0M119.5 526.1h0M132.8 524h0M129.9 518.2h0M119.4 523.3h0M121.6 525.9h0M125.1 519.6h0M116.9 519.1h0M116.7 528.8h0M132.2 514.3h0M121.4 516.1h0M114 517h0M117.6 532.3h0M130.3 530.6h0M130 532.5h0M115.9 528.1h0M115 526.2h0M120.9 520.8h0M124.2 511.4h0M132.1 530.6h0M133.8 517.7h0M125.8 523.1h0M116.9 528.6h0M118.1 530.5h0M126.9 527.6h0M130.4 522.8h0M131.7 531.7h0M132.2 524.8h0M127.3 529.2h0M128.8 526.1h0M129.4 522.4h0M116.3 529h0M130 532.4h0M127.3 522.9h0M129.2 527.7h0M123.8 524h0M130 531.8h0M124.6 528.7h0M126.4 528.8h0M117.8 530h0M133.3 527.8h0M132.9 520.5h0M119.2 524.5h0M113.3 517.5h0M127.3 531.3h0M124.8 523.7h0M128.2 528.4h0M133.6 523.2h0M114.7 519.7h0M133 528.7h0M129.1 515.7h0M133 531.9h0M132 529.4h0M131.2 520.5h0M123.6 513.5h0M131.2 513.1h0M134.7 524.7h0M129.7 520.4h0M122.1 525.3h0M124.5 529.5h0M119 518.7h0M132.2 520.8h0M128.6 523.9h0M126 519.8h0M113.3 526.8h0M134.9 530.5h0M123.6 531.7h0M118.9 519.2h0M113.8 520.2h0M131.1 516.1h0M118.9 516.9h0M121.5 526.3h0M134.5 525.1h0M128.4 531.3h0M113.2 529.6h0M115.5 519.5h0M118.7 516.3h0M128.4 530.1h0M129.1 527.9h0M125 531.7h0M131.9 518.6h0M126.2 519.3h0M120.8 531.3h0M120.4 520.8h0M125.8 530.9h0M118.5 526h0M113.4 532.2h0M123.2 531h0M133.1 531.3h0M130 517.5h0M120.2 524.7h0M135.4 524.3h0M121.8 515.5h0M119 516.3h0M120.1 526.9h0M120.2 522.6h0M133 521.5h0M117.2 515.8h0M129.4 524.1h0M132.2 531.5h0M126.6 516.9h0M130.6 520.6h0M114.5 526.1h0M119.2 523.5h0M122 526.1h0M125.2 521.6h0M133.2 529.1h0M119.3 530.6h0M115.6 519h0M133.8 531.4h0M121.2 517.2h0M132.6 514.8h0M135.5 529.2h0M114.6 529.8h0M124.4 532.4h0M118.8 526h0M128.5 530.7h0M115.9 528.5h0M115.2 531.4h0M115.4 520h0M132.9 532.2h0M131.2 516.8h0M127.8 528.1h0M131.6 531.8h0M114.2 516.9h0M118.1 517.3h0M130.1 532.1h0M115.2 523.1h0M116.4 522.6h0M128.2 529.4h0M123.8 529.5h0M132.7 522.6h0M128.7 521.4h0M114.5 518.3h0M130.7 524.1h0M126.4 524h0M130.1 523.6h0M119.4 525.2h0M117.9 532.5h0M124.8 514.2h0M129.3 529.8h0M124.6 521.6h0M126.2 524.7h0M124.6 519h0M132.9 525h0M130.8 520.4h0M115.8 529.6h0M120.2 528h0M124.2 528h0M135.6 522.3h0M121.5 521.5h0M133.9 530.9h0M127.3 512.5h0M121.6 517.7h0M164.2 529.2h0M140.8 520.2h0M150.4 528.2h0M152.1 521.5h0M167.4 519.6h0M162.9 530.9h0M148.8 532.5h0M142.8 528.4h0M141.9 526.2h0M140.3 523.2h0M150.2 529.7h0M160 528.9h0M136.5 520.3h0M162.4 519.9h0M146.1 529.4h0M160.4 531.3h0M170 524.4h0M155.1 532.2h0M145.7 526.9h0M170.5 531.4h0M156.7 531.9h0M170.2 522.8h0M164.5 522.4h0M142 529.9h0M137 525.4h0M138.5 530.7h0M141.8 517.8h0M163.7 529.6h0M170.1 531.2h0M140.6 527.9h0M164.3 531.8h0M163.7 525.8h0M164 528.9h0M137.1 531.7h0M161.3 526.3h0M162.8 530.7h0M145.6 530.2h0M165.9 523.3h0M141.1 521.8h0M137 526.8h0M144.8 520.5h0M161.2 523.3h0M142.6 532.2h0M158.4 522.9h0M136 520.4h0M167.5 528.7h0M154.1 523.2h0M168.5 524.3h0M154 520.9h0M153 532.3h0M155.1 527.4h0M147.5 527.3h0M143.5 528.8h0M162.2 519.8h0M151.9 519.1h0M140.1 525.7h0M162.1 521.7h0M149.4 530.8h0M169.8 525.1h0M158.8 528.6h0M139.6 524.8h0M150 517.8h0M159.2 521.9h0M155.9 521.5h0M140.4 516.4h0M156.3 524.4h0M142.4 531.8h0M160.7 522.6h0M159.3 529.9h0M152.9 520.8h0M158.4 518.9h0M138.8 521.1h0M136.1 524.2h0M154.6 532h0M150.5 522.5h0M166.5 532h0M153.7 520.4h0M139.8 518.7h0M169 529h0M143.1 531.1h0M143.4 527.1h0M160.8 518.7h0M155.5 517.5h0M150.8 522.7h0M135.6 527.6h0M136.4 531.4h0M164.4 531.6h0M146.3 525h0M154.3 532.3h0M139.6 522.9h0M150 531.7h0M152.6 527.9h0M171.2 532.2h0M142 531.9h0M155.2 517.3h0M163.3 531.6h0M154.8 528.3h0M170.4 523.5h0M157.1 529.8h0M151.1 525.2h0M149.1 524.3h0M138.8 527.4h0M170.7 528.2h0M153.6 521.2h0M164.5 522.6h0M149.2 521.4h0M142.7 523.6h0M136.2 530.7h0M141.8 528.3h0M161.9 532.4h0M166.8 531.9h0M169.4 519.2h0M157.5 520.1h0M169.1 527.5h0M166.1 532.3h0M163.4 524.1h0M163.2 531.2h0M138.6 525.7h0M157.2 522.9h0M142 524.6h0M170.1 530.1h0M164.8 518.6h0M159.5 527.3h0M150.5 526.2h0M140.1 531.9h0M145.6 530.7h0M167.6 528.7h0M166.7 525.6h0M167.5 520h0M160.9 527.2h0M144.3 524.5h0M146.7 518.9h0M137.1 523.9h0M147.7 526.8h0M154.9 516.8h0M170.9 528.8h0M169.7 519.1h0M154.3 524.8h0M142.6 520.3h0M152.9 520.9h0M168.4 524.8h0M160.3 525.6h0M140.3 526.6h0M137.8 530.8h0M170.5 528.5h0M140.4 527h0M137.8 524.3h0M143.7 530.2h0M158.3 518.6h0M136.1 522.6h0M156.3 526.3h0M150.6 532.5h0M148.1 525h0M147.6 515.1h0M147.7 518.4h0M164.4 521.6h0M153.1 525.8h0M165.6 531.6h0M143.6 532.4h0M153.1 526.6h0M169.6 519.6h0M150.1 525.7h0M139.4 521.5h0M154.1 530.9h0M166.8 532.3h0M142.5 526.2h0M171.1 531.4h0M145.1 519.9h0M147.6 516.6h0M136.3 530.1h0M146.6 518.5h0M139.3 523h0M167.1 518.5h0M164.3 532.2h0M152.8 530.2h0M140 529.9h0M161.8 525.2h0M140.3 529.3h0M138 518.3h0M162.4 526.9h0M169.8 518.7h0M143 529.7h0M142.4 523.5h0M156.8 525.8h0M163.1 526h0M146.8 522.2h0M169.4 532.2h0M152.9 531.2h0M162.2 527.5h0M165.4 523.8h0M169.7 525.5h0M156.8 517.3h0M164.2 528.9h0M139.3 518.2h0M137.9 518.4h0M168.8 524.2h0M169.4 525.1h0M162.1 524.9h0M143.5 531.9h0M162 527.2h0M140.1 524.9h0M145 529.5h0M166.8 524.8h0M162.2 521h0M151.1 526.5h0M151 528.1h0M163.3 519.9h0M146.2 521.4h0M143.3 532.5h0M160 521.6h0M147.4 515.1h0M161.2 529.1h0M162.6 520.6h0M140.6 518.1h0M151.1 529.4h0M149.1 525h0M154.4 529.2h0M137.8 523.9h0M161.1 523.1h0M149.7 518.5h0M105.5 505.5h0M105.5 493.5h0M109.1 502.7h0M109.1 509h0M105.7 482.1h0M111.7 507.2h0M110.1 494.8h0M109.2 485.5h0M110 482.7h0M110.3 483.4h0M106.2 486h0M107.7 483.2h0M111 482h0M110.8 498.1h0M109.1 487.1h0M105.8 494h0M109.4 488.9h0M107.8 492.1h0M110.6 498.4h0M110.3 483.7h0M108 494.3h0M108.8 485.6h0M107.3 501.1h0M108.2 490.8h0M106.5 481.6h0M109 488.6h0M108.3 508.3h0M108.1 493.1h0M106.1 481.6h0M109.6 496.2h0M105.6 502.2h0M107.8 490.9h0M51.5 513.8h0M74.6 509.1h0M77.6 516.1h0M85.3 512.6h0M121.4 498.6h0M132.7 511.4h0M149.3 500.9h0M150.4 498.6h0M148.7 502.1h0M170 515h0M171.2 520.8h0M64.5 511.4h0M100.1 509.1h0M126.7 512.6h0" fill="none" stroke="#808a88" stroke-width="2" stroke-linecap="round"/>
<line x1="110.74" y1="478" x2="110.74" y2="534.95" stroke="#00BFC4" stroke-width="1" stroke-opacity="0.45"/>
<line x1="122.59" y1="478" x2="122.59" y2="534.95" stroke="#F8766D" stroke-width="1" stroke-opacity="0.6"/>
<circle cx="110.74" cy="479.85" r="1.5" fill="#00BFC4"/>
<circle cx="110.15" cy="485.7" r="1.5" fill="#00BFC4"/>
<circle cx="111.33" cy="487.45" r="1.5" fill="#00BFC4"/>
<circle cx="110.74" cy="489.21" r="1.5" fill="#00BFC4"/>
<circle cx="111.93" cy="490.38" r="1.5" fill="#00BFC4"/>
<circle cx="110.15" cy="486.29" r="1.5" fill="#00BFC4"/>
<circle cx="122.59" cy="531.91" r="1.5" fill="#F8766D"/>
<line x1="45.5" y1="478" x2="45.5" y2="534.95" stroke="#000" stroke-width="1.45"/>
<line x1="42" y1="485.7" x2="45.5" y2="485.7" stroke="#000" stroke-width="1.1"/>
<text x="38.5" y="488.22" text-anchor="end" fill="#404040" stroke="#404040">4</text>
<line x1="42" y1="497.4" x2="45.5" y2="497.4" stroke="#000" stroke-width="1.1"/>
<text x="38.5" y="499.92" text-anchor="end" fill="#404040" stroke="#404040">3</text>
<line x1="42" y1="509.1" x2="45.5" y2="509.1" stroke="#000" stroke-width="1.1"/>
<text x="38.5" y="511.62" text-anchor="end" fill="#404040" stroke="#404040">2</text>
<line x1="42" y1="520.8" x2="45.5" y2="520.8" stroke="#000" stroke-width="1.1"/>
<text x="38.5" y="523.32" text-anchor="end" fill="#404040" stroke="#404040">1</text>
<line x1="42" y1="532.5" x2="45.5" y2="532.5" stroke="#000" stroke-width="1.1"/>
<text x="38.5" y="535.02" text-anchor="end" fill="#404040" stroke="#404040">0</text>
<line x1="46.75" y1="534.95" x2="46.75" y2="538.45" stroke="#000" stroke-width="1.1"/>
<text x="46.75" y="547.02" text-anchor="middle" fill="#404040" stroke="#404040">18.0</text>
<line x1="76.38" y1="534.95" x2="76.38" y2="538.45" stroke="#000" stroke-width="1.1"/>
<text x="76.38" y="547.02" text-anchor="middle" fill="#404040" stroke="#404040">18.5</text>
<line x1="106" y1="534.95" x2="106" y2="538.45" stroke="#000" stroke-width="1.1"/>
<text x="106" y="547.02" text-anchor="middle" fill="#404040" stroke="#404040">19.0</text>
<line x1="135.62" y1="534.95" x2="135.62" y2="538.45" stroke="#000" stroke-width="1.1"/>
<text x="135.62" y="547.02" text-anchor="middle" fill="#404040" stroke="#404040">19.5</text>
<line x1="165.25" y1="534.95" x2="165.25" y2="538.45" stroke="#000" stroke-width="1.1"/>
<text x="165.25" y="547.02" text-anchor="middle" fill="#404040" stroke="#404040">20.0</text>
<text x="147" y="485.52" font-weight="bold" stroke="#000">mRNA</text>
<text x="24" y="506.5" text-anchor="middle" font-size="9" transform="rotate(-90 24 506.5)" dy="2.97">&#8722;&#8201;log<tspan font-size="6.48" dy="2.25">10</tspan><tspan dy="-2.25">(p)</tspan></text>
<line x1="45.5" y1="615.25" x2="176" y2="615.25" stroke="#EBEBEB" stroke-width="1"/>
<line x1="45.5" y1="607.62" x2="176" y2="607.62" stroke="#EBEBEB" stroke-width="1"/>
<line x1="45.5" y1="600" x2="176" y2="600" stroke="#EBEBEB" stroke-width="1"/>
<line x1="45.5" y1="592.38" x2="176" y2="592.38" stroke="#EBEBEB" stroke-width="1"/>
<line x1="45.5" y1="584.75" x2="176" y2="584.75" stroke="#EBEBEB" stroke-width="1"/>
<line x1="45.5" y1="577.12" x2="176" y2="577.12" stroke="#EBEBEB" stroke-width="1"/>
<line x1="45.5" y1="569.5" x2="176" y2="569.5" stroke="#EBEBEB" stroke-width="1"/>
<line x1="45.5" y1="561.88" x2="176" y2="561.88" stroke="#EBEBEB" stroke-width="1"/>
<path d="M50.9 615.85L50.9 615.25L50.9 610.67L74.6 610.67L75.19 615.25L75.19 615.85Z" fill="#808a88"/>
<path d="M77.56 615.85L77.56 615.25L77.56 609.91L171.18 609.91L171.18 615.25L171.18 615.85Z" fill="#808a88"/>
<path d="M54.5 611h0M56.9 610h0M67 610.8h0M68.5 609.7h0M52.3 609h0M62.1 607.3h0M73.1 612.8h0M71 613.8h0M66.1 615.2h0M70.3 611.8h0M61.3 610.6h0M59.4 613.6h0M67.1 609.5h0M51.6 613.3h0M72.9 613.4h0M57.4 609.8h0M59.4 604.7h0M74.2 614.6h0M55.8 614.1h0M61.1 613h0M66.7 606.3h0M52 615.2h0M53 612.9h0M53.6 611.6h0M59.1 607.8h0M73.8 606.2h0M60.5 608.8h0M53.5 609.5h0M71.8 607h0M53.7 614.2h0M72.2 609.3h0M68.8 614.9h0M65.3 615.2h0M68.2 607.6h0M58.1 615.2h0M68.1 605h0M65.4 612.3h0M58.3 606.7h0M73.8 612.7h0M55.7 604.3h0M60.7 611.3h0M57.9 607.9h0M74.2 611.8h0M71.1 612.3h0M60.6 606.7h0M73.9 608.8h0M67.4 607.1h0M72.6 606.3h0M63.2 612h0M50.5 610.6h0M58.9 615.2h0M74.4 613.3h0M72.9 615.2h0M59 607h0M66.7 609h0M62.2 614.7h0M70.5 608.3h0M61.9 609.9h0M69.8 611.3h0M61.9 610.8h0M68.2 608.4h0M58.4 607.2h0M59.4 608.5h0M59.5 605.4h0M73.1 608.5h0M59.6 612.3h0M60.8 609.3h0M51.1 610.4h0M72.9 615h0M72 610.6h0M74.5 609.2h0M67.8 608.1h0M60.5 614.5h0M71.1 607h0M67.8 613.8h0M62.4 610.5h0M59.1 610.8h0M61.4 604.1h0M65.5 604.8h0M72.4 614.2h0M69 612.4h0M64.8 610.1h0M68.3 613.1h0M66.8 612.4h0M69.3 611.2h0M65.9 604.6h0M57.1 615.2h0M72.1 611.1h0M66 606.9h0M71.9 612.5h0M74.3 612.5h0M68 607.1h0M59.1 611.6h0M59.2 612.5h0M60.3 606.1h0M51.8 604.6h0M69.5 610.5h0M65.9 613h0M68.9 606.7h0M59.6 610.7h0M55.6 613.4h0M71 609.8h0M61.2 608.9h0M54.8 615.2h0M59 609.8h0M54.8 610.3h0M58.2 613.3h0M68.3 612.5h0M68.3 608.2h0M59.4 615.1h0M70.8 610.7h0M64.4 608.6h0M63.6 605.5h0M50.5 605h0M65.3 611.9h0M72.3 607h0M64.8 615.2h0M65.5 611.9h0M64.2 606.6h0M53.5 606.5h0M57.8 613.4h0M51.2 614.7h0M56.8 610.4h0M73.1 614.3h0M57.3 612.2h0M65.9 612.5h0M66.6 614.4h0M51.4 610h0M67.9 614.5h0M51.5 608.9h0M51.9 605.5h0M67.1 614.3h0M60.3 615h0M52.4 612.5h0M71.6 606.7h0M68.6 609.6h0M64.5 610.7h0M66.2 611h0M60 606.3h0M57.6 611.8h0M66.8 605.2h0M58.7 611.5h0M60.1 613.8h0M58.9 607h0M54.9 611h0M57.2 609.8h0M69.1 614.6h0M62.1 614h0M66 608.8h0M55.7 613.6h0M57.7 612.6h0M72 607.2h0M69.5 612.3h0M61.4 613.8h0M61.5 604.5h0M52.5 612h0M55.1 606.4h0M57.6 610.9h0M51.6 608.6h0M62.8 606.8h0M67.8 608.2h0M56.7 613.4h0M64.8 615h0M73.1 609.1h0M62.3 612.2h0M52.2 610.2h0M69.1 614.6h0M52.7 608.6h0M61.7 606.8h0M60.3 604.2h0M71.5 613h0M63.3 609.7h0M61.2 606.5h0M67.4 607.2h0M56.4 610.7h0M63.5 609.7h0M50.7 607.1h0M61.2 614.2h0M71.1 610.7h0M68.3 608.3h0M94.2 602.3h0M79.1 612.2h0M81.9 607.5h0M83.4 615.1h0M81.2 613.8h0M92 609.8h0M89.9 615.2h0M91.6 612.7h0M80 614.9h0M81.6 611h0M82 610.1h0M81.9 605.9h0M100.9 612.3h0M79.5 602.9h0M79.8 607.8h0M97.7 609.9h0M101.3 614.2h0M96.8 603h0M101.5 604.9h0M89.2 608.9h0M100.2 611.5h0M84.4 615.1h0M83 614.1h0M102.3 612.5h0M87 600.5h0M96 610.5h0M80.4 611.7h0M85.3 601h0M88.8 600.5h0M84.8 615h0M101.5 614.8h0M98.6 608.4h0M85.1 603.2h0M89 600.3h0M92.4 601.4h0M102.4 611.7h0M96 605.9h0M95 615.1h0M95.9 605.3h0M82.7 614.6h0M79.4 609.4h0M80.4 604.5h0M88.6 600.1h0M97.1 610.6h0M82.4 610.6h0M93.7 603.2h0M101.3 612.3h0M78.2 607.9h0M95.9 607.2h0M99 605h0M94.2 604h0M80.9 602.7h0M95.3 614.6h0M82.1 607.4h0M85.7 601.2h0M85 609.3h0M91 601.2h0M85.7 602.1h0M96.8 608.6h0M102.8 604.6h0M97.5 609h0M78.7 613.5h0M94.9 614.4h0M94.7 611.6h0M87.9 603.4h0M100 606.2h0M89.5 608.5h0M103.8 604.1h0M93.8 614.7h0M101.6 615h0M80.7 607.4h0M82.8 605.4h0M95.9 613.9h0M101.8 602.5h0M95.1 601.2h0M98.9 610.2h0M99.5 603h0M96.1 614.7h0M87.5 605.6h0M87.3 613.8h0M89.7 614.1h0M90.2 614.5h0M96.9 613.4h0M102.5 614.6h0M94.4 607.1h0M82.9 607.5h0M92.2 607.3h0M82.5 609.8h0M99.8 608.2h0M84.1 611.7h0M101 615h0M90.3 608.8h0M89 615.2h0M80.4 604.6h0M89.7 612.2h0M89.6 614.9h0M79.7 605h0M97.8 613.6h0M86 614.7h0M86 608.7h0M97.6 609.6h0M100.2 602.1h0M92.7 615h0M81.1 607.1h0M81 603.4h0M79 615h0M104.1 611.5h0M92.4 607.6h0M80.7 612h0M87.4 605h0M98.4 606.8h0M82.4 610.1h0M102 613.9h0M86.9 607.1h0M104.1 615.1h0M96 610.1h0M91.7 603.2h0M80.1 608.5h0M86 604.7h0M96.6 610.8h0M81.6 605.5h0M96.2 608.6h0M97.4 602.4h0M84.1 606.1h0M99.1 612.9h0M101.6 612.4h0M103.1 609.1h0M103.5 604.7h0M98.4 611.5h0M89.8 607.6h0M99 611h0M101.5 613.5h0M91.4 614h0M82.1 612.4h0M78.8 609.1h0M94.1 610.9h0M98.8 609.1h0M95.8 614.7h0M86.4 615.1h0M81.8 604h0M81.2 608.3h0M87.6 606.1h0M100.8 605.1h0M103.3 603.4h0M88.2 600.2h0M97.9 612.7h0M86.3 608.7h0M100.1 614.6h0M101.3 607.6h0M93.4 610.7h0M87.7 610.5h0M96.6 610.4h0M96.6 603.5h0M79.9 615.2h0M102.7 613.8h0M99.3 611.1h0M83.6 615.2h0M89 607.4h0M79 615.2h0M85.2 602.3h0M97.6 612.9h0M88.3 610.4h0M96.5 612.5h0M87 609h0M83.9 610.4h0M97.5 609.6h0M79.1 612h0M92.8 613h0M87.9 608.1h0M87.3 613.6h0M100.9 614.9h0M101.7 614.7h0M92.3 608.4h0M88.5 607h0M101.1 612.3h0M79.2 613.7h0M101 608.6h0M97.7 611.2h0M86.2 605.8h0M92.7 602h0M81.8 611.8h0M96 602.8h0M90 604.1h0M80.5 607.8h0M86.3 605.8h0M85.5 613.5h0M84.7 605.4h0M96.6 602.8h0M88.6 614.8h0M99.1 613h0M96.7 609.7h0M89.4 615.1h0M83.6 605.2h0M89.8 602.3h0M99.1 609.3h0M103.8 615.2h0M88.2 608.5h0M79 604.6h0M81.6 608.5h0M84.8 610.9h0M108.4 611.7h0M105.7 602.8h0M109.8 614.7h0M112.9 614.5h0M106.2 611.8h0M107.5 607.4h0M112.2 614.5h0M109.3 604h0M106.5 610.4h0M108.2 596.1h0M111.1 607.6h0M104.8 610.4h0M111.5 608.7h0M107.7 603.6h0M104.6 603.3h0M110.3 614.4h0M107.9 597.1h0M106.6 606.4h0M107.3 605.9h0M107.7 610.6h0M112.4 602.1h0M113.1 610.8h0M108.4 610.2h0M111.9 610.2h0M110.3 613.5h0M109 612h0M112.3 610.2h0M112.7 605.5h0M107.3 605.9h0M112.5 602h0M111.5 605.5h0M109.7 614.1h0M111.6 603.5h0M110 611.4h0M111 606.5h0M107.1 592.7h0M111.1 602.5h0M111.7 602h0M107.6 593.9h0M112.3 602.7h0M108.1 607.1h0M104.6 596.1h0M111.6 604.8h0M108.4 598.8h0M104.4 609.5h0M106.4 604.4h0M107.4 604.4h0M112.2 609.2h0M105.2 615.2h0M111.6 607.9h0M108.1 615.1h0M105.1 615.2h0M112.2 615h0M107.1 607.8h0M109.3 612.9h0M110 603.6h0M113 614.6h0M106.9 614.5h0M106.8 613h0M104.5 598.7h0M106.7 600.5h0M111.5 599h0M104.4 605h0M111.8 603.7h0M109.6 608.9h0M111.5 606.3h0M107.3 607.3h0M108.4 613.4h0M110.2 597.8h0M110 615.2h0M107.8 599.9h0M105.4 607h0M110.3 606.3h0M107.2 615.2h0M110.5 613.7h0M109.6 606.6h0M110.6 614.4h0M112.9 600.5h0M112 613.4h0M110.6 609.9h0M128.9 605.4h0M122.3 598.8h0M123 608.6h0M129.2 613.9h0M133.3 612.1h0M133.1 614.2h0M115.9 607.7h0M118.5 609.7h0M117.6 605h0M129.7 605.9h0M116.1 615h0M126.2 614.6h0M129.2 608.2h0M134.1 605.2h0M127.9 602.6h0M124.5 611.7h0M114.5 606.2h0M128.1 606.4h0M124.6 608.8h0M133.8 611.6h0M116.3 601.1h0M130.3 602.3h0M135.3 611h0M116.6 609.2h0M124.1 610h0M130.8 612.8h0M135 613.6h0M119.5 602.3h0M118.4 604.7h0M119.3 610.1h0M123.7 612.3h0M131.6 602.1h0M133.9 614.1h0M113.7 610.4h0M129.8 608.3h0M134.7 602.8h0M128.5 612.5h0M122.2 614.7h0M122 603.2h0M120.2 613.4h0M125.2 600h0M127.6 614.3h0M122.8 612.6h0M131.4 610.6h0M123.1 600.1h0M119.8 609.4h0M135.2 612.6h0M125.3 605.3h0M120.6 606h0M122.6 601.3h0M125.6 603.8h0M126 604.5h0M121.9 613.8h0M121.3 611.2h0M113.4 605.4h0M124.9 608.4h0M129 614.8h0M115.9 605.6h0M114 603.5h0M124.5 598.1h0M132.5 610.9h0M120.8 609.5h0M130.4 609.8h0M129.3 600h0M130 608.9h0M129.8 609.2h0M126.2 609.7h0M134.2 602.5h0M125.9 607.2h0M115.4 608.2h0M134 613.2h0M130.6 612.7h0M129.2 612.3h0M126.5 603.1h0M113.8 604.1h0M124.9 612.4h0M120 607.5h0M129.8 613.6h0M114.7 613.1h0M127.4 610.2h0M130.3 605.4h0M121.4 606.6h0M116.4 607.3h0M127.7 612.8h0M128.1 614h0M135 609.5h0M133.9 607.5h0M117.9 604.7h0M126.9 610.5h0M128.7 604.2h0M128.4 613.1h0M134.8 604.1h0M122.9 599h0M135.5 612.2h0M117.4 612.8h0M124.1 613.8h0M118.5 604.6h0M113.5 607.9h0M122.3 603.9h0M118.9 609h0M117.9 615.2h0M132.6 611.5h0M119.8 600.1h0M121.4 607.5h0M116.3 610.5h0M132.8 604.6h0M131.5 602.5h0M118.3 614.9h0M116 606.7h0M125.4 610.5h0M129.1 613.1h0M126.8 609.9h0M116.2 604.4h0M117.3 603.6h0M130.2 610.1h0M123.3 612.9h0M116.2 605.8h0M121.5 607.1h0M121.4 612.2h0M116.8 604.5h0M122.9 613.7h0M132.8 614h0M118.3 613.8h0M125.7 602.8h0M113.8 602.6h0M128.9 602.9h0M122.6 609.2h0M115.2 612.7h0M132.7 612.6h0M133.4 604.7h0M133.8 614.2h0M122.6 601.2h0M120.1 612.6h0M113.6 609.1h0M125.5 612.9h0M118.9 606.3h0M117 604h0M132.7 610.8h0M116 608h0M119.8 614.4h0M129.1 607.9h0M119.2 612.6h0M129.4 601.5h0M121 606.7h0M118.1 609.4h0M126.2 611.6h0M126.7 607.7h0M114.1 614.4h0M122.4 613.8h0M125.4 606.4h0M127.2 601.1h0M126.8 603.3h0M115.7 602.8h0M134 608.7h0M131.7 608.7h0M122.9 613.6h0M123.9 603.5h0M131 602.6h0M124.8 598.7h0M121.5 615.2h0M122.7 607.2h0M130.5 613h0M113.7 606.1h0M117.4 602.6h0M125.9 614h0M124.8 602.6h0M118.1 600.3h0M114.4 614.1h0M126.5 605.1h0M126.7 600.1h0M142.8 614.9h0M154.7 611.9h0M149.7 611.2h0M167 612.8h0M160.2 609.1h0M145.7 600.5h0M144.7 610.7h0M142.5 602.4h0M160.3 611.8h0M139.8 606.5h0M147.6 609h0M158.9 615.2h0M137.2 604.3h0M166.5 614.7h0M143.6 608.1h0M165.2 612.5h0M169.6 614.7h0M167.8 615h0M157 602.7h0M161.3 603.9h0M148.1 602.4h0M167.7 612.9h0M163.1 603.9h0M143.2 608.9h0M163 609.1h0M168.3 611.1h0M151.6 613.9h0M145.4 599.8h0M144.9 597.2h0M164.2 609.2h0M146.4 615.2h0M139.8 601.8h0M169.7 603.6h0M145.6 599.3h0M151.3 611.6h0M167.9 605.7h0M159.7 612.7h0M139.4 613.4h0M145 612.9h0M155.9 612.3h0M143.3 597.2h0M148.7 615.2h0M136 609.4h0M136.7 609h0M136.5 610.3h0M157.6 609.4h0M143.3 598.2h0M170.2 605.9h0M168.8 603.4h0M148.7 609.1h0M150.3 605.4h0M141.6 612.4h0M151.7 609.2h0M170.9 612.3h0M135.8 611.6h0M166.8 614.7h0M154.1 608.4h0M165.5 612.3h0M157.2 603h0M170.2 609.4h0M147.7 607.5h0M161.6 607.5h0M159.6 611.5h0M161.1 612h0M143.9 614.1h0M155.3 613.9h0M145.7 611.7h0M148.8 610.9h0M170.3 609.9h0M155.1 611.2h0M155.1 605.2h0M154.2 609.7h0M148.1 613.7h0M143.2 614.3h0M145.7 615h0M150.4 608.7h0M139.7 603.4h0M151.7 608h0M150.9 605.3h0M159.8 614.4h0M155.1 612.9h0M162.2 611.7h0M143.6 615h0M170.7 614.5h0M144.6 594.6h0M137.4 610.7h0M151 607.1h0M163.4 603h0M147 614.7h0M143.3 615.2h0M145.2 604.8h0M167.4 614.6h0M145.2 598.4h0M156.5 611.3h0M138.2 614.9h0M143.4 603.8h0M137.7 609.2h0M164.7 615.2h0M145.8 610.2h0M157.3 606.5h0M159.7 610.9h0M147.6 607.8h0M152 603.1h0M154.4 608.7h0M159.3 610.2h0M153.1 607.4h0M156.9 602.2h0M146.5 609.8h0M170.3 605.9h0M155.3 612.4h0M142 608.9h0M150.8 610.7h0M144.7 606.9h0M156 614.6h0M159 607h0M142.6 611.9h0M137 610h0M159.6 611.2h0M156.6 608.4h0M137.2 614.9h0M153.7 603.3h0M160.7 610.8h0M144.9 613.7h0M158.6 606.1h0M149.6 614.7h0M145.5 603.8h0M163 611.4h0M167.2 611.6h0M136.5 613.6h0M167.3 607.3h0M138.7 612.1h0M149.7 610h0M136.5 603.3h0M154.5 612.9h0M136.7 608.7h0M168.8 607.2h0M166.2 604.8h0M159.3 614.9h0M146.7 608.5h0M150.4 613.4h0M138 602.7h0M159.3 612.6h0M152.3 604.1h0M140.7 605.2h0M143.9 595.8h0M164.1 603.5h0M149.2 609.6h0M147.1 611.7h0M169.5 603.4h0M171 604.5h0M153 607.5h0M167.9 611.1h0M168.3 606h0M145.7 610.8h0M160.2 614h0M144.7 612.7h0M139.4 600.5h0M171.1 605.8h0M153.5 606.2h0M160 610.8h0M154.1 614.3h0M144.2 609.6h0M148.3 607.3h0M144.2 611.8h0M166.7 606.2h0M168.8 606.3h0M142.6 607.2h0M165.3 605.8h0M143.7 606.7h0M156.6 615.2h0M144.3 599.9h0M159.3 610.7h0M155.9 609.5h0M147.9 614.7h0M162 606.1h0M151.1 605.7h0M165 607.5h0M164.4 603.2h0M137 602.4h0M151.7 605.6h0M161.8 614.6h0M156.5 614.7h0M161.6 612.1h0M149 612.7h0M164.4 608.2h0M146.2 605.8h0M142.2 600.2h0M157.1 606h0M157.5 602.5h0M160.3 610.5h0M156.6 609h0M145.8 611.7h0M164 605.5h0M169.9 607.7h0M153.6 611.3h0M160.7 607.9h0M169.2 606.8h0M149.3 612.7h0M137.2 605h0M150.8 611.2h0M137.5 609.5h0M167.6 612.9h0M162.1 606.3h0M159.1 608.6h0M144.5 601.6h0M156.4 602.7h0M153.9 611.8h0M167.8 608.5h0M147.8 607.5h0M141 613.1h0M167.1 610.7h0M164.1 613.5h0M152.4 613.2h0M164.1 608.8h0M149.6 611.3h0M143.1 612.5h0M160.2 612.4h0M139.3 610.4h0M151.7 602.1h0M149.3 611.1h0M52.7 589.3h0M106.6 582.8h0M123.2 582.5h0M123.8 588.6h0M125 593.1h0M126.7 594.7h0M113.1 591.6h0M61 600h0M83.5 599.2h0M154.6 599.2h0M165.2 600h0M144.5 593.1h0M143.9 591.6h0" fill="none" stroke="#808a88" stroke-width="2" stroke-linecap="round"/>
<line x1="110.74" y1="561.25" x2="110.74" y2="617.68" stroke="#00BFC4" stroke-width="1" stroke-opacity="0.45"/>
<line x1="122.59" y1="561.25" x2="122.59" y2="617.68" stroke="#F8766D" stroke-width="1" stroke-opacity="0.6"/>
<circle cx="111.33" cy="574.46" r="1.5" fill="#00BFC4"/>
<circle cx="111.93" cy="575.22" r="1.5" fill="#00BFC4"/>
<circle cx="110.15" cy="577.12" r="1.5" fill="#00BFC4"/>
<circle cx="109.55" cy="578.27" r="1.5" fill="#00BFC4"/>
<circle cx="110.74" cy="576.36" r="1.5" fill="#00BFC4"/>
<circle cx="122.59" cy="562.64" r="1.5" fill="#F8766D"/>
<line x1="45.5" y1="561.25" x2="45.5" y2="617.68" stroke="#000" stroke-width="1.45"/>
<line x1="42" y1="569.5" x2="45.5" y2="569.5" stroke="#000" stroke-width="1.1"/>
<text x="38.5" y="572.02" text-anchor="end" fill="#404040" stroke="#404040">6</text>
<line x1="42" y1="584.75" x2="45.5" y2="584.75" stroke="#000" stroke-width="1.1"/>
<text x="38.5" y="587.27" text-anchor="end" fill="#404040" stroke="#404040">4</text>
<line x1="42" y1="600" x2="45.5" y2="600" stroke="#000" stroke-width="1.1"/>
<text x="38.5" y="602.52" text-anchor="end" fill="#404040" stroke="#404040">2</text>
<line x1="42" y1="615.25" x2="45.5" y2="615.25" stroke="#000" stroke-width="1.1"/>
<text x="38.5" y="617.77" text-anchor="end" fill="#404040" stroke="#404040">0</text>
<line x1="46.75" y1="617.68" x2="46.75" y2="621.18" stroke="#000" stroke-width="1.1"/>
<text x="46.75" y="630.52" text-anchor="middle" fill="#404040" stroke="#404040">18.0</text>
<line x1="76.38" y1="617.68" x2="76.38" y2="621.18" stroke="#000" stroke-width="1.1"/>
<text x="76.38" y="630.52" text-anchor="middle" fill="#404040" stroke="#404040">18.5</text>
<line x1="106" y1="617.68" x2="106" y2="621.18" stroke="#000" stroke-width="1.1"/>
<text x="106" y="630.52" text-anchor="middle" fill="#404040" stroke="#404040">19.0</text>
<line x1="135.62" y1="617.68" x2="135.62" y2="621.18" stroke="#000" stroke-width="1.1"/>
<text x="135.62" y="630.52" text-anchor="middle" fill="#404040" stroke="#404040">19.5</text>
<line x1="165.25" y1="617.68" x2="165.25" y2="621.18" stroke="#000" stroke-width="1.1"/>
<text x="165.25" y="630.52" text-anchor="middle" fill="#404040" stroke="#404040">20.0</text>
<text x="147" y="568.27" font-weight="bold" stroke="#000">Ribo</text>
<text x="24" y="589.5" text-anchor="middle" font-size="9" transform="rotate(-90 24 589.5)" dy="2.97">&#8722;&#8201;log<tspan font-size="6.48" dy="2.25">10</tspan><tspan dy="-2.25">(p)</tspan></text>
<line x1="45.5" y1="698.25" x2="176" y2="698.25" stroke="#EBEBEB" stroke-width="1"/>
<line x1="45.5" y1="692.47" x2="176" y2="692.47" stroke="#EBEBEB" stroke-width="1"/>
<line x1="45.5" y1="686.69" x2="176" y2="686.69" stroke="#EBEBEB" stroke-width="1"/>
<line x1="45.5" y1="680.91" x2="176" y2="680.91" stroke="#EBEBEB" stroke-width="1"/>
<line x1="45.5" y1="675.13" x2="176" y2="675.13" stroke="#EBEBEB" stroke-width="1"/>
<line x1="45.5" y1="669.35" x2="176" y2="669.35" stroke="#EBEBEB" stroke-width="1"/>
<line x1="45.5" y1="663.57" x2="176" y2="663.57" stroke="#EBEBEB" stroke-width="1"/>
<line x1="45.5" y1="657.79" x2="176" y2="657.79" stroke="#EBEBEB" stroke-width="1"/>
<line x1="45.5" y1="652.01" x2="176" y2="652.01" stroke="#EBEBEB" stroke-width="1"/>
<line x1="45.5" y1="646.23" x2="176" y2="646.23" stroke="#EBEBEB" stroke-width="1"/>
<path d="M50.9 698.85L50.9 698.25L50.9 693.05L74.6 693.05L75.19 698.25L75.19 698.85Z" fill="#808a88"/>
<path d="M77.56 698.85L77.56 698.25L77.56 692.47L171.18 692.47L171.18 698.25L171.18 698.85Z" fill="#808a88"/>
<path d="M73.9 692h0M61.5 693.6h0M55.8 697.1h0M61.8 689.4h0M52.9 693.6h0M54.5 691.7h0M58.7 690h0M69.3 694.3h0M59.6 697.7h0M55.4 691.2h0M69.9 697.3h0M74 689.7h0M59.2 691.9h0M66.6 694.6h0M59.2 688.9h0M62.1 692.8h0M64 697.2h0M61.7 695h0M54.4 692.8h0M67.4 691.9h0M62.4 688.7h0M60.5 683.6h0M55.5 698.2h0M64.1 687.6h0M59.6 693.9h0M58.6 696h0M69.5 688h0M57.1 691.9h0M61.5 697.1h0M68.1 692.2h0M74.4 690h0M72.3 696.4h0M53 688.9h0M52.9 690.7h0M54.6 690.2h0M51.6 697.7h0M71.4 693.6h0M61.2 683.4h0M69.4 696.4h0M67.5 694.1h0M61.6 694.8h0M55.8 695.5h0M56.9 696.7h0M71.5 695.1h0M63.9 685.3h0M66.8 696.9h0M73.5 689.2h0M70.7 695.6h0M70.5 691.8h0M51.1 694.9h0M67.3 691.6h0M73.3 690.9h0M70.6 687.1h0M58.6 686h0M50.4 689.6h0M52.4 693.3h0M61 697.8h0M65.8 686.4h0M55.7 696.1h0M69 692.6h0M50.8 695.7h0M73.2 696.4h0M57.3 693.4h0M71.8 690.1h0M59.7 689.7h0M51 697.9h0M59.3 690.3h0M53.7 698h0M71 697h0M51.6 697.8h0M52.2 695.9h0M64.4 688.3h0M57.2 692.5h0M58.4 691.4h0M53 691.6h0M50.3 687.8h0M55.4 692.2h0M54.9 693.8h0M56.7 690.8h0M69.2 688h0M74 694.8h0M63.7 693.9h0M57.3 692.6h0M73.9 698h0M68.5 695.1h0M64.8 695.2h0M67.8 692.5h0M57.8 693.4h0M50.4 697.7h0M72.4 697.8h0M60 689.5h0M51.2 687.5h0M55.3 685.9h0M60.8 690.7h0M65 697.5h0M62.6 687.1h0M69.5 689.9h0M66.8 697.2h0M60.2 692.1h0M51.3 689.9h0M52.8 692.4h0M56.8 697h0M73.4 692.9h0M68.1 691h0M64 684h0M51.8 694.9h0M55.6 691.6h0M59.9 685.1h0M56 695.9h0M72.6 691.5h0M60.7 694h0M68.1 697.1h0M67.8 696.2h0M69.9 697.8h0M72.5 689.7h0M50.9 697.2h0M72.5 690.2h0M57.4 688.1h0M64.4 695.4h0M67 693.5h0M53.8 688.1h0M67.7 696h0M60.7 689.1h0M59.3 695.8h0M63.1 682.8h0M52.6 696.2h0M62 682.7h0M74.4 698.2h0M65.9 697h0M55.3 697.3h0M62.4 682.3h0M73.8 695.6h0M72.1 691.7h0M52.1 687.7h0M56.9 685.2h0M53.5 687.4h0M62.8 691.4h0M54.7 693.2h0M68.8 692.1h0M74.1 694h0M72.3 697.5h0M68.2 691.2h0M71.8 695.6h0M61.6 686.3h0M56.5 694.6h0M70.9 691.8h0M62.2 698.2h0M68.9 694.1h0M56.1 694.4h0M53.6 688.3h0M69.7 686.5h0M66.7 696.8h0M60.6 683.3h0M50.3 695.4h0M53.9 697h0M57 691.1h0M51.9 688.3h0M60.8 696.7h0M52.8 693h0M58.8 692.6h0M52.9 695h0M62.6 697.6h0M62.5 685.4h0M64.6 697h0M65.6 697.6h0M53.8 698.2h0M63.2 696.5h0M57.1 697.4h0M72 697.4h0M66.7 686.7h0M61.2 690.6h0M58.4 687.6h0M67 697.7h0M67.4 697.1h0M62 696.5h0M62.1 689.1h0M68.1 695h0M51.6 694h0M72.5 693.4h0M65.4 686.6h0M65.8 683.2h0M73.5 691.6h0M69.9 697.3h0M56.7 689.7h0M64.4 684h0M69.1 695.2h0M54.5 690.9h0M53 693.3h0M57 694.2h0M66.2 689.6h0M65.3 697.8h0M72 691.5h0M72.3 692.7h0M66 684.6h0M68.4 690.8h0M51.3 698.2h0M67.7 686.8h0M59.7 696.3h0M61 686h0M68.7 697.3h0M79.9 695.9h0M86.4 695.9h0M88.1 693.6h0M79.8 692.6h0M79.2 684.1h0M77.8 693.7h0M82 697.9h0M80.2 680.1h0M87.7 693.5h0M87.9 685.4h0M87.7 688.6h0M84.3 691.3h0M86 691h0M89.1 696.6h0M88.2 688.1h0M82.8 681.6h0M81 692.4h0M84.4 682.6h0M80.4 683.1h0M85.3 685.8h0M81.1 686.6h0M88.1 685.8h0M85.8 687.1h0M85.1 691.6h0M79.8 690.7h0M89.1 684.3h0M78.1 695.1h0M80.4 683.3h0M79.7 685.8h0M79.9 693.9h0M89.1 697.2h0M84.5 695.3h0M86.5 697.8h0M85.6 695.9h0M88.9 694.7h0M85.5 698.1h0M88.7 690.1h0M88.4 688.2h0M78.3 688h0M82.1 695.6h0M88.1 689.6h0M81.7 697.6h0M85.3 697.9h0M80.4 697.9h0M79.6 686.4h0M80.7 679.3h0M80.9 683.7h0M86.3 690.3h0M84.7 697.1h0M87.4 685.2h0M83.9 696.2h0M78.6 695.6h0M89.1 694.9h0M80.9 689.8h0M78 687.5h0M86.8 695.2h0M77.9 685.6h0M87.2 688.1h0M80.1 681.2h0M85.2 698.1h0M89.2 688.9h0M79.7 683.1h0M84.6 689.6h0M77.9 696.3h0M86.9 698.2h0M79.9 697.7h0M84.5 697h0M86.9 693.2h0M86.8 685.5h0M89.1 696.5h0M81.9 682.5h0M81.5 679.3h0M81.5 687h0M80.6 685.8h0M80.9 691.9h0M86.1 687.2h0M79.2 696.5h0M80.1 685.4h0M85.5 689.2h0M87.1 696.1h0M83.4 698.2h0M81.7 687.4h0M80.6 684h0M80.1 692h0M85.7 696.3h0M85.4 694h0M78.1 697.5h0M85.3 687.5h0M85.6 686.7h0M85.4 688.2h0M92.4 682.1h0M91.3 694.9h0M90.2 696.7h0M89.8 688.5h0M90.4 683.2h0M92.4 692h0M92.6 674.1h0M90.1 682.3h0M90.1 697.1h0M90.2 693.8h0M89.4 697.9h0M92.3 673h0M92.5 696.9h0M89.5 673.3h0M90.7 689.9h0M91.9 684.2h0M90.6 695.2h0M89.8 678.3h0M92.6 697.6h0M90.2 684.4h0M90.4 685.5h0M91.2 692.2h0M89.8 687.7h0M92.3 695.5h0M91.3 674.9h0M91.4 689.8h0M92.7 675.9h0M93 691.2h0M91.1 686.7h0M92.4 681.3h0M91.4 684.7h0M92.6 689.6h0M89.9 694.5h0M90.3 696.5h0M92.9 683.4h0M92.2 686.6h0M91.3 693.2h0M92.6 687.6h0M90.9 677.2h0M92.5 668.3h0M98.4 690.4h0M102.3 690.4h0M95.2 689.4h0M96.4 693.5h0M101.7 691.8h0M100 692.6h0M94.3 683.8h0M101.7 685.2h0M99.8 695h0M98.6 682.8h0M101.8 687.3h0M100.1 695.1h0M93.6 682.6h0M93.2 693.6h0M97.5 685.3h0M100.8 682.2h0M103.4 693.2h0M95.8 696h0M96.7 696.3h0M103.8 687.6h0M98.5 697.2h0M103.2 693.7h0M101.6 694.5h0M96 695.7h0M99 693h0M99.4 685h0M95.5 695.8h0M98.8 690.9h0M98 691.4h0M94.8 696h0M101.2 686.5h0M100.7 686.4h0M98.7 694.6h0M103.3 688.4h0M98.1 693.4h0M97.2 680.1h0M97.5 683.4h0M94.4 687.2h0M96 693.9h0M96.4 690.9h0M100.2 690.7h0M102.7 695.4h0M102.6 690.2h0M101.9 690.9h0M95.9 681.7h0M100.1 684.9h0M98.8 685.1h0M103.7 684.6h0M103.9 691.8h0M96.3 681.9h0M102.4 681.8h0M97.9 690.6h0M103.6 694.5h0M94.8 695.1h0M96.4 690.5h0M97.3 689.7h0M93.4 691.9h0M98.7 697.2h0M98.4 681.5h0M100.3 680.8h0M102.6 689.1h0M93.2 697.1h0M99.5 682.7h0M96.7 695.8h0M101.5 688.3h0M98.2 695.9h0M99.2 687.6h0M101 681.6h0M93.8 682.9h0M96.6 690.6h0M96.8 683.3h0M97.9 696.9h0M98.3 695.5h0M93.1 697.3h0M97.2 689.9h0M93 695.7h0M103.1 688.2h0M104 688.2h0M103.7 685.5h0M97.3 697.3h0M94.6 683.6h0M100.4 692.8h0M94.8 686.4h0M103.4 693.7h0M104.2 688.4h0M95.3 694.9h0M101 681.1h0M95.3 693.8h0M94.6 694.4h0M95.5 690.5h0M95.6 686h0M95.7 693.3h0M97.7 695.1h0M93.5 696.6h0M93 685.8h0M93.5 689.4h0M103 686.9h0M96.4 690.8h0M97.8 692.3h0M93.6 695.4h0M94.6 694.4h0M96.7 696.4h0M99.9 694.6h0M98.7 685.4h0M98.6 684.5h0M101.7 690h0M95.4 697.5h0M100.8 691.5h0M96.2 696.7h0M95 681.8h0M98.3 682.6h0M102.5 693.7h0M95.5 681.8h0M95.6 687.2h0M103.5 689.6h0M97.7 680.5h0M102.7 681.1h0M100.9 694.1h0M93.5 697.9h0M103.4 688.2h0M102.9 680.5h0M95.6 680.3h0M96 694.9h0M96 679.8h0M103.5 691.7h0M98.4 683h0M102 681.6h0M97 694h0M98.7 681h0M99.9 682.1h0M95.2 688.9h0M103.3 687.7h0M101.9 683.3h0M97.9 685.5h0M100.8 690.1h0M98.8 683.3h0M102.9 680h0M97.1 685.7h0M99.2 682.5h0M95.7 689.6h0M95.8 683.4h0M101 698.1h0M94.2 695.6h0M99.6 683.9h0M96.8 696.8h0M99.6 686.9h0M97.8 693.2h0M96.9 694h0M102.1 691.2h0M101 688.1h0M95.5 693.1h0M100.5 682.3h0M103.3 695.4h0M95.9 696.4h0M95.1 691.1h0M101 681.3h0M99.6 695.6h0M97.2 695.6h0M96.1 687.6h0M98.6 695.1h0M96.2 680.3h0M99.3 681.4h0M96.6 681.2h0M93.7 680h0M99.8 680.1h0M94 681.1h0M93.9 680.8h0M97.6 681.3h0M99.7 681.1h0M100 681.3h0M102.2 681.5h0M100.1 680.8h0M101.8 681.4h0M101 682.1h0M102.6 680.9h0M95.5 680h0M94.7 681.7h0M96.3 679.7h0M96.5 679.4h0M100.7 681.6h0M96.9 680.8h0M93.7 681.1h0M94.2 681.1h0M101.7 680.5h0M97.8 680.5h0M106.8 692h0M103.5 689.8h0M112.6 680.3h0M112.4 696.4h0M107.5 682.8h0M104.6 697h0M105.1 696.7h0M110.5 685.1h0M113 697.3h0M110.1 683.6h0M104.8 696.8h0M112.9 683.6h0M103.7 694.8h0M109.7 695.1h0M107.4 695.5h0M104 689.3h0M108.5 682.6h0M103.1 691.7h0M103.8 688h0M104.7 692.1h0M112.8 686.2h0M109.8 687h0M105.1 685.6h0M112.8 696.6h0M111.5 691.9h0M105.1 686.1h0M111.6 695.2h0M105 689h0M105.1 688.9h0M113 697.8h0M107.3 694.5h0M104.7 687.4h0M112.6 689.6h0M108.7 685.3h0M111.7 680.4h0M106.4 695h0M112.3 687.1h0M111.9 695.5h0M111 696.1h0M104.4 696h0M106.7 690.6h0M109.7 680.9h0M107.4 687.5h0M107.2 691.2h0M105.7 698.2h0M105.6 684.9h0M111.1 685.6h0M107.5 690.6h0M104.9 693.8h0M113.1 687.4h0M106.7 670.6h0M107.4 675.3h0M106.8 672.7h0M110.6 661.5h0M105.8 673.9h0M105.3 666.9h0M104.7 675.6h0M103.7 677.6h0M107.2 681.7h0M104.8 675.2h0M107.3 675.1h0M104 678.5h0M106.3 680h0M108.2 677h0M107.7 665.7h0M103.7 677.2h0M108.5 661.4h0M108.9 662.7h0M108.7 676.9h0M109.9 664.6h0M107.4 660.7h0M104 672.3h0M106.4 671.2h0M109.8 678.2h0M107.5 681.7h0M103.9 672.2h0M105.3 675.3h0M104.6 670.1h0M107.5 662.3h0M105.7 674h0M105.5 672.2h0M109.1 668.8h0M108.1 674.9h0M111 681.6h0M104.9 672.6h0M111.1 662.5h0M105.5 666.4h0M107.1 668.9h0M108.6 667.8h0M110.4 661.3h0M106.1 665.3h0M106.1 669.3h0M104.8 673.1h0M105.9 663.9h0M108.8 673.1h0M111.8 659.4h0M111 650.8h0M108.4 653.8h0M108.8 645.1h0M108.7 651h0M110.3 659.2h0M111.7 652h0M110.6 657h0M108.9 656h0M108.5 658h0M110.1 654.9h0M111.1 659h0M109.1 652.8h0M110.8 656.2h0M109.1 659.2h0M109.7 655.1h0M111.2 657.4h0M109.6 649.2h0M128 688.2h0M132.5 671h0M128.6 683.4h0M129.5 684.9h0M131.4 671.6h0M131 681.2h0M131.7 670.6h0M127.8 675.9h0M127.8 669.6h0M131.5 681h0M131.1 683.2h0M127.1 678.9h0M127.2 680h0M131.8 677.7h0M128.3 684.8h0M130 679h0M132.1 685.6h0M129.5 680.2h0M129 685.3h0M129 678.3h0M127.9 682.7h0M129.9 670.5h0M90.2 681.8h0M87.3 678.2h0M89.3 686.6h0M90.1 676.2h0M89.3 673.7h0M91.2 687.7h0M87.4 678.1h0M91 677.4h0M88.5 681.8h0M91.7 680.7h0M90.5 684.2h0M91.1 679h0M87.1 673.3h0M92.3 668.5h0M93.2 674.4h0M90.1 683.5h0M91.6 680.3h0M89.1 686.6h0M91 674.2h0M92.1 685.8h0M88.4 675.7h0M87.9 670.6h0M93.1 675.9h0M88.7 677.3h0M92 681.8h0M91.3 676.5h0M93 672.9h0M91.4 677.7h0M92.8 676.5h0M91.5 682.5h0M115.5 691.1h0M118.1 683.4h0M118.1 684.9h0M120.6 696.4h0M126.1 694.5h0M135.5 690.2h0M115.4 694.9h0M115.6 692.2h0M125 694.7h0M128.3 689.2h0M131.6 688.6h0M118.9 686.1h0M113.8 696h0M113.7 684.1h0M125.2 685.4h0M135.4 697.6h0M133.4 698.1h0M128.9 679.1h0M121.8 684.7h0M130.4 690.7h0M119.4 696.8h0M114.8 691.4h0M124.9 696.4h0M125.1 697.7h0M119.9 689h0M116.5 691.7h0M116.1 685.3h0M117.9 684.2h0M133.8 683.5h0M119.5 688.8h0M114.7 683.6h0M128.7 697.9h0M116.2 697.4h0M120.9 683.8h0M130.9 694.5h0M131.3 698.2h0M125.4 693.5h0M114.8 684.6h0M127.9 674.5h0M127.5 686.8h0M116 692.4h0M133.3 690.9h0M127.5 690.6h0M121.2 698.2h0M118 696.5h0M115.2 697.9h0M130.1 678.5h0M128.8 677.6h0M117.8 685.8h0M121.7 685.4h0M118.5 695h0M125 696h0M118.9 688h0M130.9 682.4h0M127.8 692.3h0M123.7 690.3h0M126.4 683.8h0M125.9 682.9h0M123.9 692.7h0M113.8 694.8h0M124 698.2h0M123 697.3h0M119.1 685h0M133.7 697.3h0M126.3 691.9h0M114.3 695.1h0M125.1 693h0M125.9 697.8h0M126.9 689.1h0M117.4 690.9h0M134.1 685h0M127 690.6h0M130 690.9h0M129 691.2h0M125.6 687.5h0M126.3 689.9h0M121.8 694.2h0M127.9 690h0M123 693.8h0M119.7 689.8h0M132.9 696.4h0M127.7 688.3h0M127.5 686h0M122.1 698.2h0M121.3 691.5h0M127.3 680.4h0M127.9 684.5h0M121 686.6h0M116 685.2h0M124.1 692.5h0M128.7 686.1h0M135.5 697.3h0M114.5 690.5h0M118.2 696h0M135.6 691.7h0M119.7 694h0M118.2 695.7h0M116.1 683.4h0M129.7 692.4h0M115.6 683.5h0M133.1 697.5h0M132.7 691h0M135.3 693h0M122.9 698.2h0M126.1 695.7h0M132.9 696h0M133 694.5h0M131.3 687.9h0M134.1 690.8h0M121.2 695.5h0M118.4 697.4h0M119.8 694.7h0M131.6 698.2h0M124.4 691.6h0M116.7 688.7h0M117.8 687.8h0M116.9 685.3h0M120.1 697.5h0M116.5 696.3h0M116.1 694.9h0M135 694h0M122 687.3h0M114.8 697.6h0M132.7 694.6h0M117 696.6h0M129.9 677.6h0M122.1 688.1h0M123.5 696.2h0M120.2 694.4h0M118.7 686.8h0M115.2 693.8h0M129.7 698h0M134.8 690.2h0M127.8 695.5h0M117.7 685.9h0M135.1 698.2h0M131.5 696.3h0M114.8 690.5h0M115.3 686.1h0M132.1 695.1h0M116.4 691.8h0M130 698h0M129 696.6h0M121.6 696.7h0M114.9 691.5h0M119.9 684.4h0M133.5 688h0M124.6 689.2h0M120.6 692.4h0M125.4 693h0M123.1 685.4h0M135.4 688.1h0M132.4 694.9h0M114.8 696.1h0M124.4 687h0M129.6 678.4h0M130.6 694.6h0M114.4 692.4h0M120.5 685.2h0M133.5 691.3h0M130.5 686.4h0M124.8 692.7h0M134.6 686.9h0M126 682.4h0M116.5 687.4h0M125.5 694.6h0M116 690.7h0M132.7 696.6h0M133.3 682.9h0M117.5 691.1h0M152.9 694.5h0M139.9 695.2h0M169.1 687.7h0M169.4 692.9h0M153.4 697.8h0M150.8 690.3h0M170.9 697.9h0M159 698h0M170.2 696.6h0M160.3 689.7h0M142.9 691.6h0M150.7 696.5h0M149.7 697.8h0M160.8 682.5h0M154.9 693.7h0M153.9 697h0M161.9 687h0M139.3 693.5h0M140 687.4h0M136.2 686.3h0M137.9 685.8h0M142.4 690.3h0M160.9 683h0M166.7 697h0M161.1 692.6h0M141.6 691.5h0M169 698.2h0M160.5 691.1h0M167 692.9h0M144.5 683.9h0M139.5 687.9h0M146.1 697.9h0M141.6 683.3h0M141.2 681.9h0M140.9 681.9h0M137.5 689.3h0M154.6 690.5h0M168.5 696.3h0M170.9 692.1h0M164.4 694.8h0M171.1 689.9h0M152.4 696.1h0M166.9 691.5h0M170.8 687.3h0M162.2 685.9h0M141.6 683.7h0M161 697.4h0M138.1 697.4h0M143.4 685.6h0M162.9 685.8h0M148.7 682.9h0M141 695.6h0M151.3 695.5h0M161.8 684h0M162.1 694h0M156.2 695h0M155.1 691.7h0M141.1 683.7h0M164.5 683.3h0M138.9 695.8h0M162.3 683.9h0M157.6 685.2h0M150.8 695.9h0M152.5 695h0M149.2 686.2h0M147.1 687.3h0M156.7 698.2h0M153.8 685.5h0M158.6 686.9h0M158.3 684.2h0M137 693.3h0M142.7 685.6h0M146.1 688.1h0M158.9 698.2h0M157.5 694.9h0M144.6 688.2h0M158.1 696.3h0M160.9 697.7h0M137.6 685.1h0M168.6 685.7h0M171 689.6h0M155.8 691.8h0M154.6 684.3h0M170 693.8h0M142.8 690.1h0M150.7 686h0M168.4 691h0M138.5 691.1h0M140.2 690.5h0M164.7 686.2h0M152.3 696.8h0M168.7 687h0M153 697.9h0M159.7 693.8h0M149.8 693.6h0M145.4 696.9h0M158.7 692.3h0M150.9 687.2h0M153.5 696.8h0M145.2 690h0M159.3 690.6h0M162.1 693.3h0M162.9 688.4h0M144.7 697.1h0M157.9 686.8h0M169.4 688.1h0M164.9 688.3h0M144.4 694.6h0M166.3 695.3h0M152.8 691.1h0M136.3 697.4h0M142.7 684.7h0M163.5 697.4h0M141.4 680.2h0M141.5 684.4h0M156.5 686h0M161.8 697.4h0M163 685.2h0M137.1 684.3h0M146 691.9h0M154.3 691.2h0M155.9 697.8h0M166 691h0M139.1 691.5h0M142.4 692.1h0M161.2 686.4h0M141.4 694.6h0M170.1 691.1h0M142.2 688.6h0M144.4 697.6h0M159 697.4h0M140.6 687.5h0M170 697.8h0M162.3 696.7h0M137.7 698.2h0M136.3 688.6h0M167.9 698.2h0M141 697.9h0M150.1 694.5h0M142.5 684.2h0M139.3 689h0M140.7 688h0M140.2 696.1h0M170.8 696h0M151.7 689h0M171.1 692.4h0M139.8 688.1h0M159.9 690.8h0M149.3 685.5h0M137.9 691.1h0M155 684.8h0M163.3 695h0M149.2 689.8h0M149.1 697.8h0M170.9 693.7h0M140.6 696.7h0M136.2 685.6h0M140.6 689.8h0M169.2 688.8h0M156.6 695.4h0M159.6 687.4h0M143 695.6h0M150.2 689.9h0M167.3 691.3h0M145.1 686.7h0M141 697.3h0M136 691.3h0M156.2 692.8h0M155.3 696.6h0M143.1 689.2h0M150 691.6h0M168.1 693.2h0M162.1 697.8h0M153.1 697.9h0M142.7 696.2h0M149.3 696.7h0M168.8 695.4h0M146.4 697.7h0M148.7 686.1h0M155 685.3h0M157.6 690.2h0M150.8 685.5h0M151.6 697h0M143.6 684.9h0M137.7 696.6h0M157.9 689.6h0M152.2 689.2h0M150.6 690.1h0M137 693.5h0M170.2 691.9h0M147.7 689.1h0M170.3 693.5h0M150.4 685.7h0M165.9 695.8h0M159.4 695.3h0M148.2 685.6h0M148.5 683.4h0M152.9 685.3h0M140.2 692.9h0M136.8 686.1h0M167.3 692.8h0M152.1 683.1h0M149.4 694.7h0M140.5 682.4h0M164.1 688.8h0M161.6 684.2h0M159.4 697.5h0M158.7 686.5h0M152.5 693.1h0M158.5 696.6h0M143.6 687.4h0M170.9 697.5h0M159.3 692.6h0M137 696.9h0M146.5 687.6h0M140.3 693.4h0M157.7 688.3h0M171 688.1h0M142.4 689.7h0M157.2 691.6h0M62.7 668.2h0M70.4 670.5h0M80.5 664.7h0M79.9 671.7h0M90.6 655.5h0M128.5 670.5h0M147.5 671.7h0M148.7 675.1h0M156.4 672.8h0M52.7 680.9h0M55.6 677.4h0M66.9 675.1h0" fill="none" stroke="#808a88" stroke-width="2" stroke-linecap="round"/>
<line x1="110.74" y1="643.5" x2="110.74" y2="700.71" stroke="#00BFC4" stroke-width="1" stroke-opacity="0.45"/>
<line x1="122.59" y1="643.5" x2="122.59" y2="700.71" stroke="#F8766D" stroke-width="1" stroke-opacity="0.6"/>
<circle cx="110.15" cy="691.31" r="1.5" fill="#00BFC4"/>
<circle cx="111.33" cy="689.58" r="1.5" fill="#00BFC4"/>
<circle cx="111.93" cy="687.85" r="1.5" fill="#00BFC4"/>
<circle cx="109.55" cy="692.47" r="1.5" fill="#00BFC4"/>
<circle cx="110.74" cy="691.89" r="1.5" fill="#00BFC4"/>
<circle cx="122.59" cy="692.47" r="1.5" fill="#F8766D"/>
<line x1="45.5" y1="643.5" x2="45.5" y2="700.71" stroke="#000" stroke-width="1.45"/>
<line x1="42" y1="652.01" x2="45.5" y2="652.01" stroke="#000" stroke-width="1.1"/>
<text x="38.5" y="654.53" text-anchor="end" fill="#404040" stroke="#404040">4</text>
<line x1="42" y1="663.57" x2="45.5" y2="663.57" stroke="#000" stroke-width="1.1"/>
<text x="38.5" y="666.09" text-anchor="end" fill="#404040" stroke="#404040">3</text>
<line x1="42" y1="675.13" x2="45.5" y2="675.13" stroke="#000" stroke-width="1.1"/>
<text x="38.5" y="677.65" text-anchor="end" fill="#404040" stroke="#404040">2</text>
<line x1="42" y1="686.69" x2="45.5" y2="686.69" stroke="#000" stroke-width="1.1"/>
<text x="38.5" y="689.21" text-anchor="end" fill="#404040" stroke="#404040">1</text>
<line x1="42" y1="698.25" x2="45.5" y2="698.25" stroke="#000" stroke-width="1.1"/>
<text x="38.5" y="700.77" text-anchor="end" fill="#404040" stroke="#404040">0</text>
<line x1="46.75" y1="700.71" x2="46.75" y2="704.21" stroke="#000" stroke-width="1.1"/>
<text x="46.75" y="713.02" text-anchor="middle" fill="#404040" stroke="#404040">18.0</text>
<line x1="76.38" y1="700.71" x2="76.38" y2="704.21" stroke="#000" stroke-width="1.1"/>
<text x="76.38" y="713.02" text-anchor="middle" fill="#404040" stroke="#404040">18.5</text>
<line x1="106" y1="700.71" x2="106" y2="704.21" stroke="#000" stroke-width="1.1"/>
<text x="106" y="713.02" text-anchor="middle" fill="#404040" stroke="#404040">19.0</text>
<line x1="135.62" y1="700.71" x2="135.62" y2="704.21" stroke="#000" stroke-width="1.1"/>
<text x="135.62" y="713.02" text-anchor="middle" fill="#404040" stroke="#404040">19.5</text>
<line x1="165.25" y1="700.71" x2="165.25" y2="704.21" stroke="#000" stroke-width="1.1"/>
<text x="165.25" y="713.02" text-anchor="middle" fill="#404040" stroke="#404040">20.0</text>
<text x="140.5" y="651.52" font-weight="bold" stroke="#000">Protein</text>
<text x="24" y="672.5" text-anchor="middle" font-size="9" transform="rotate(-90 24 672.5)" dy="2.97">&#8722;&#8201;log<tspan font-size="6.48" dy="2.25">10</tspan><tspan dy="-2.25">(p)</tspan></text>
<text x="111.25" y="724.56" text-anchor="middle" stroke="#000" font-size="8.5">Position (Mb)</text>
<text x="177.25" y="560.56" stroke="#000" font-size="7.1">Credible</text>
<text x="177.25" y="568.06" stroke="#000" font-size="7.1">sets</text>
<circle cx="179.25" cy="579.25" r="1.3" fill="#F8766D"/>
<text x="189.75" y="581.81" stroke="#000" font-size="7.1">1</text>
<circle cx="179.25" cy="586.25" r="1.3" fill="#00BFC4"/>
<text x="189.75" y="588.81" stroke="#000" font-size="7.1">2</text>
<text x="177.25" y="610.81" stroke="#000" font-size="7.1">Top SNPs</text>
<line x1="179.25" y1="618.5" x2="179.25" y2="625.5" stroke="#F8766D" stroke-width="0.5"/>
<text x="189.75" y="624.31" stroke="#000" font-size="7.1">1</text>
<line x1="179.25" y1="625.5" x2="179.25" y2="632.5" stroke="#00BFC4" stroke-width="0.5"/>
<text x="189.75" y="631.81" stroke="#000" font-size="7.1">2</text>
<text x="237.25" y="466.31" stroke="#000" font-size="7.1">Top SNP1: 16_19283463_G_C</text>
<text x="253.5" y="482.06" stroke="#000" font-size="7.1">Genotype</text>
<rect x="293.5" y="476.9" width="4.6" height="5" fill="#34505B"/>
<text x="298.2" y="482.06" stroke="#000" font-size="7.1">0</text>
<rect x="311" y="476.9" width="4.6" height="5" fill="#E2913F"/>
<text x="315.7" y="482.06" stroke="#000" font-size="7.1">1</text>
<line x1="251.62" y1="498.75" x2="251.62" y2="521.25" stroke="#34505B" stroke-width="0.9"/>
<line x1="251.62" y1="538.25" x2="251.62" y2="558.75" stroke="#34505B" stroke-width="0.9"/>
<path d="M249.6 521.7h0M252.3 551.2h0M251 556.2h0M252.3 548.4h0M251.7 517.5h0M251.1 510.9h0M252 526h0M251.5 549.7h0M251 541.1h0M248.8 516.8h0M254 539.4h0M250.1 510.6h0M251.2 532.3h0M252 531.8h0M252.8 522.3h0M250.3 504.8h0M248 530.2h0M249.8 539h0M251.6 509.1h0M248.1 534.8h0M254.2 541.5h0M250.5 557.1h0M253.4 510.6h0M253.1 545.7h0M251.1 548.7h0M252.1 499.5h0M251.5 551.2h0M252.6 533.9h0M249.3 527.1h0M252.6 521.1h0M248.9 536.9h0M251.8 502.4h0M253.2 523.9h0M250.9 526.2h0M252.9 505.3h0M253.4 536.3h0M248.2 538.8h0M254.1 521.4h0M253 525.2h0M249.5 518.5h0M247.9 532.9h0M251 525.3h0M250.3 516.8h0M249 543h0M251.9 558.3h0M250.2 512.7h0M249.4 527.3h0M254.3 528.8h0M252.3 501.1h0M248.8 514.7h0M250.8 506.8h0M253.3 544.1h0M252.6 553.7h0M247.9 527.1h0M248.6 533.2h0M247.9 534.1h0M251.7 535h0M252.2 499.7h0M248 521.9h0M249.7 546.5h0M252.7 533.4h0M252.5 548.6h0M247.7 533h0M250.6 517.2h0M248.4 532.7h0M252.1 542h0M252.9 527.3h0M251 525.9h0M248.9 539.3h0M251 502h0M251.2 500.2h0M250.9 542.6h0M248 529.3h0M251.7 503.9h0M253.1 510.9h0M253.8 546.7h0M250.2 539h0M252.1 513.1h0M253.7 545.6h0M252.7 547.4h0M255.8 526.8h0M251.8 523.3h0M250.7 517.9h0M249 528.9h0M254.9 527.2h0M251.2 521.9h0M250.8 544.1h0M248.1 528.2h0M254.8 530h0M253.3 525.7h0M250.6 517.3h0M253.2 544.9h0M251.6 527h0M250.3 537.5h0M250.2 534.9h0M253.8 543.6h0M248.4 520.3h0M251.1 534.7h0M250.9 514.3h0M251.2 536.8h0M249.6 535.7h0M251.5 521.2h0M251 500.9h0M255.2 536.1h0M252.6 551.8h0M254.8 522h0M252.4 525.2h0M251.5 530.2h0M252.3 527.2h0M255.5 534.4h0M250.8 499.8h0M255.8 529.4h0M252.4 503h0M254.3 543.5h0M252.6 536.6h0M252.7 546.5h0M253.7 519h0M251.2 556.4h0M252.6 550.4h0M250.4 507.5h0M253 527.4h0M249 526.6h0M253.6 510.1h0M248.3 523.2h0M255.1 534.1h0M251.2 506.6h0M254.2 519.4h0M253.8 510.1h0M254.5 521.9h0M250.8 542.8h0M250.7 544.8h0M248.2 532.4h0M253.3 532.3h0M253.1 518.9h0M250.3 545.2h0M251.4 538.9h0M251.3 544.3h0M252.3 516.9h0M255.2 524.1h0M253.8 511.3h0M251 512.1h0M253 545.6h0M253.6 538.5h0M249.2 513.3h0M251.7 499.5h0M251.4 507.2h0M250 511.5h0M248.8 523.3h0M255.2 524.3h0M251.8 505.4h0M252.7 538.7h0M255.5 531.1h0M249.9 511.5h0M251.6 554.4h0M255.1 522.3h0M249.1 544.4h0M248.3 537.3h0M249.7 518.5h0M253.3 521.4h0M249.9 546.3h0M252.6 551.3h0M253.1 527.5h0M254.4 524.6h0M253.5 526.8h0M252.1 552.3h0M253 520.2h0M248.3 524.1h0M249.2 524.3h0M251.9 516.2h0M248.9 530.6h0M253.8 544.3h0M253 552.7h0M249.7 514.6h0M249.3 545.8h0M250.6 539.7h0M252.2 501.5h0M251 516.6h0M253.9 517.1h0M251.5 512.1h0M254.7 517.5h0M252.4 558.3h0M252.9 521.7h0M250.4 524.8h0M250.8 557.5h0M252.2 514.8h0M254.3 539.1h0M255.7 532.5h0M252 509.4h0M249.3 512.5h0M253.3 540.4h0M253.3 510.8h0M251.8 555.4h0M250.8 502.2h0M250.8 538.8h0M254.9 532.9h0M253.4 526.1h0M250.7 512.9h0M251.9 519.3h0M248.4 527.2h0M254.2 514.4h0M255 527.7h0M252.6 549.2h0M248.4 539.9h0M252 528.9h0M251.1 515.9h0M252 523.9h0M252.6 500.4h0M251.4 535.4h0M252.3 523.3h0M251.7 517.9h0M250.6 542.4h0M253.5 516.4h0M248.4 527.7h0M249.8 515.6h0M251.6 555h0M250.2 538.9h0M253.6 522.1h0M253 512h0M255.6 527.6h0M247.6 525.2h0M251.7 512.4h0M251.2 508.5h0M250.1 551.7h0M250.9 500.7h0M247.9 537.4h0M249.2 540.5h0M253.2 550.7h0M253.3 531.6h0M252.8 524.8h0M248.2 523.7h0M248.9 544.6h0M248.2 538.6h0M250.7 545.2h0M251 557h0M251.1 499.2h0M254.7 529h0M249.2 517.1h0M251.8 535.5h0M250.1 511.6h0M251.2 533h0M247.5 525.9h0M254 523.1h0M251 508h0M253.1 540.7h0M248 523.2h0M254.4 520.6h0M255.2 538.6h0M250.3 551.7h0M249.2 518.6h0M248.1 529.1h0M251.2 512h0M252.7 533.1h0M251.1 541.2h0M249.1 531.7h0M252.4 526.6h0M251.7 504.7h0M248.7 539.9h0M251 515h0M253.9 538.8h0M249.4 514.6h0M254.1 534.3h0M250.7 532h0M247.7 532.7h0M249.8 537.8h0M251.3 557.6h0M250.9 546.4h0M250.6 527h0M251.5 556.6h0M248.6 516.6h0M250.4 556h0M250.4 541h0M252 532.4h0M250.1 512.4h0M251.5 504h0M250.7 547.7h0M250.1 519.3h0M254.5 516.9h0M250.2 511.3h0M253 542.5h0M250.6 526.4h0M251.9 498.8h0M251.8 558.8h0M251.6 567h0" fill="none" stroke="#34505B" stroke-width="1.8" stroke-linecap="round"/>
<rect x="246.65" y="521.25" width="9.95" height="17" fill="#fff" stroke="#34505B" stroke-width="1.3" fill-opacity="0.65"/>
<line x1="246.65" y1="529.25" x2="256.6" y2="529.25" stroke="#34505B" stroke-width="1.3"/>
<line x1="262.88" y1="510" x2="262.88" y2="520.5" stroke="#E2913F" stroke-width="0.9"/>
<line x1="262.88" y1="533.25" x2="262.88" y2="550" stroke="#E2913F" stroke-width="0.9"/>
<path d="M265.2 520.8h0M265.2 525.9h0M265.1 532.5h0M264.9 526.9h0M264.1 539.7h0M264.1 522.8h0M264.6 537.5h0M263 525.4h0M261 534.6h0M261.4 523.2h0M261.6 537.5h0M262.3 548h0M264.1 512.3h0M264.3 514.2h0M264.5 520.9h0M261.9 516.2h0M262.1 544.7h0M262.7 510h0M263 550h0" fill="none" stroke="#E2913F" stroke-width="1.8" stroke-linecap="round"/>
<rect x="257.9" y="520.5" width="9.95" height="12.75" fill="#fff" stroke="#E2913F" stroke-width="1.3" fill-opacity="0.65"/>
<line x1="257.9" y1="529" x2="267.85" y2="529" stroke="#E2913F" stroke-width="1.3"/>
<line x1="280.62" y1="508.75" x2="280.62" y2="524.25" stroke="#34505B" stroke-width="0.9"/>
<line x1="280.62" y1="538.75" x2="280.62" y2="560.5" stroke="#34505B" stroke-width="0.9"/>
<path d="M283.7 527.3h0M280.4 523.6h0M281.6 549.8h0M282.9 522.9h0M279.9 508.8h0M280.7 556.6h0M279.7 513.6h0M279.9 552.4h0M282.6 532.9h0M282.1 523.4h0M281.5 547.5h0M279.4 524.1h0M277.1 531h0M280.7 525.3h0M280.1 555.5h0M277.6 538.7h0M281.4 550.5h0M277.8 530.8h0M278.6 516.2h0M278 541.8h0M282.8 516.3h0M278.5 525.9h0M276.4 532.1h0M280.9 533.6h0M277.9 541.3h0M282.1 524.2h0M279.7 550h0M279.2 520.4h0M276.8 535.4h0M281.9 562.4h0M277.4 528.2h0M279.4 524.2h0M278.6 537.8h0M280.2 524.1h0M284.8 533.4h0M282.6 515.8h0M278 533.1h0M280.4 519.2h0M279.9 529.2h0M280.7 541.6h0M281.2 544.8h0M284.2 534.4h0M279 535.6h0M280.6 511.3h0M279.6 562h0M280.5 545.3h0M279.6 561.8h0M279 512h0M282.4 532.8h0M282.8 532.8h0M280.9 534.7h0M280.3 550.7h0M282.9 534.7h0M280.9 528.9h0M279.4 539.6h0M283.9 527.8h0M279.5 511.5h0M282.6 543.4h0M284.4 536.4h0M279.1 533.3h0M278.1 521.4h0M284.1 523.8h0M282.8 543.1h0M279.4 514.4h0M279 536.3h0M277.9 531.4h0M280.4 515h0M283.2 526.3h0M283.2 529.8h0M278.2 540.2h0M282.8 522.1h0M278.7 528.3h0M279.1 521h0M277.7 531.6h0M280.3 538.5h0M281.9 539.1h0M283.6 534.6h0M284.1 530.7h0M283.6 531.2h0M281.7 559.9h0M278.7 532.7h0M279.8 542.6h0M279.7 527.7h0M283.1 531.8h0M281.2 560.3h0M282.9 523.1h0M281.1 511.8h0M279.8 516.2h0M280 555.3h0M276.9 537.9h0M278.7 531.7h0M279.4 540.7h0M280.3 548.1h0M282.8 540.3h0M279.1 550.8h0M279 546.1h0M277.7 527.6h0M279.8 518.9h0M281.3 544.4h0M283.7 521.2h0M280.6 532.2h0M282.1 514.7h0M282.1 524.5h0M282.3 533.7h0M283.2 535.6h0M279.4 512.2h0M284 539.1h0M277.9 522.9h0M278.2 522.7h0M276.8 528.2h0M279.8 545.9h0M282.8 536h0M279.6 517.3h0M281.6 546.4h0M281.6 510.3h0M280.6 531.4h0M280.1 540.1h0M277.5 526h0M279.8 510.4h0M284.4 531h0M280.8 539.5h0M283.2 530.1h0M280.1 549.2h0M279.4 559.6h0M280.6 550.2h0M280.4 529.8h0M283.5 524.8h0M283.1 530.6h0M282.8 526.5h0M280 563.6h0M282.8 524.4h0M277.8 533h0M278.9 524.7h0M281.4 510.2h0M282.2 529.9h0M282.9 519.5h0M279.1 517h0M281.5 514.9h0M280.3 520.6h0M283 539.5h0M277.1 529.4h0M278 522.4h0M277.8 536.7h0M280.3 520.3h0M278.8 545.8h0M277.1 529.2h0M281.4 541.2h0M283.3 529.7h0M279.5 553.7h0M280.8 521.8h0M277.6 536.6h0M280.2 544.2h0M284.6 529.8h0M282.9 544.3h0M280.5 549.4h0M279.3 556.9h0M281 510.5h0M277.5 531.4h0M283.5 522.4h0M281 519.6h0M280.7 531.7h0M279.5 521h0M282.2 530.4h0M278.2 539.6h0M278.3 544h0M281 550.5h0M277.9 538.1h0M281 541.1h0M279.1 512.6h0M279.6 537.4h0M279.3 551.7h0M279 518.7h0M278.3 531.2h0M281.3 540h0M279.8 548.8h0M278.6 522.6h0M284.3 526.9h0M278.8 548.2h0M282.6 524.3h0M282.1 510.6h0M284.3 532.5h0M279.2 549.8h0M280.3 515.2h0M279.5 519h0M278.5 526.4h0M281.2 524.9h0M282.4 543.7h0M278.4 522.2h0M280.2 559.2h0M279.6 513.5h0M282.2 514.5h0M282.9 529.8h0M280.9 517h0M281.2 510.7h0M278.6 537.4h0M278.6 532.4h0M281.6 550.8h0M276.5 530.9h0M281.6 528.2h0M283 530.1h0M284.8 528.2h0M280.8 523.9h0M284.2 524.3h0M279.7 539.5h0M282.1 512.4h0M282.3 549.8h0M282.2 533h0M280.1 518.6h0M282.7 541.8h0M281.4 525.5h0M278.7 527.6h0M278.4 523.4h0M279.3 523h0M278.4 525.8h0M284.7 527.6h0M282.8 520.4h0M283.1 526.9h0M283.5 539.2h0M283 544.4h0M282.5 532h0M283.8 531.8h0M278.5 522.8h0M279.5 509.9h0M278.1 527.6h0M281.7 550.5h0M282.2 542.1h0M279.9 548.8h0M280 554.1h0M278.7 545.5h0M278 532h0M284 538.3h0M280.5 541.1h0M279.8 553.3h0M278.8 524.8h0M284.2 534.7h0M279.5 549.6h0M283.8 527.4h0M280.6 540.7h0M279.9 518.5h0M281.1 539.4h0M277.5 523.4h0M278 517.3h0M282.3 549h0M282.9 534.7h0M277.9 543.3h0M281.1 522.9h0M278.6 539.2h0M278.5 526.6h0M283.5 534.1h0M278.3 516.9h0M283.2 530.3h0M281 519.3h0M280.7 518.4h0M282.6 532.8h0M280.4 550.1h0M281.1 535.2h0M279.3 539h0M283.1 524h0M279.4 529.4h0M280.3 554.6h0M280.8 557.1h0M277.2 536.8h0M278.5 521.4h0M276.8 530.2h0M282 546.4h0M276.5 533.8h0M281.1 516.4h0M280.2 560.1h0M284.8 533h0M279.4 563.1h0M282.1 546.9h0M278.9 536.4h0M278.4 541.9h0M276.9 525.8h0M282.3 533.5h0M283.2 527.7h0M279.5 509.3h0M280.5 543.3h0M281.6 549.7h0M281.1 531.7h0M280.6 508.8h0M280.7 563.8h0" fill="none" stroke="#34505B" stroke-width="1.8" stroke-linecap="round"/>
<rect x="275.65" y="524.25" width="9.95" height="14.5" fill="#fff" stroke="#34505B" stroke-width="1.3" fill-opacity="0.65"/>
<line x1="275.65" y1="531" x2="285.6" y2="531" stroke="#34505B" stroke-width="1.3"/>
<line x1="291.88" y1="501.25" x2="291.88" y2="508" stroke="#E2913F" stroke-width="0.9"/>
<line x1="291.88" y1="526.25" x2="291.88" y2="531.25" stroke="#E2913F" stroke-width="0.9"/>
<path d="M293.5 520.2h0M293.6 511.1h0M291.2 527.4h0M294.3 506.3h0M291.4 501.5h0M289.9 510h0M291.5 508.3h0M294.3 513.6h0M292.8 509.7h0M289.4 521.7h0M294.6 502.2h0M291.2 517.4h0M292.1 515.6h0M292.2 527.3h0M291.1 509.8h0M289.6 512.3h0M292 501.2h0M292.2 531.2h0" fill="none" stroke="#E2913F" stroke-width="1.8" stroke-linecap="round"/>
<rect x="286.9" y="508" width="9.95" height="18.25" fill="#fff" stroke="#E2913F" stroke-width="1.3" fill-opacity="0.65"/>
<line x1="286.9" y1="509.5" x2="296.85" y2="509.5" stroke="#E2913F" stroke-width="1.3"/>
<line x1="309.62" y1="502.5" x2="309.62" y2="522.5" stroke="#34505B" stroke-width="0.9"/>
<line x1="309.62" y1="538.75" x2="309.62" y2="563.12" stroke="#34505B" stroke-width="0.9"/>
<path d="M308.5 525.6h0M309.3 512.2h0M310.6 554.7h0M311.2 509h0M308.8 528.8h0M312 546.3h0M311.9 540.4h0M308.8 530.3h0M312 536.1h0M310.6 515.8h0M307.5 524.5h0M308.9 540.7h0M307.3 521.6h0M310.9 546.8h0M310.8 542.8h0M309.3 558.1h0M309.3 542.8h0M307.6 522.7h0M307.3 538.9h0M309.2 563h0M310.3 545h0M307.4 512.3h0M312.1 522.8h0M310.2 555h0M310.9 552.7h0M309.2 556.4h0M308.6 508.1h0M313.2 536h0M312.6 536.3h0M310.9 528.7h0M313.3 532.8h0M309.4 534.4h0M310.9 543.2h0M308.8 533h0M310.6 547.8h0M308.3 528.4h0M312 519.8h0M313.3 525.9h0M309.4 559h0M308.1 517h0M310.7 526.8h0M310.8 547.7h0M310.6 534.8h0M309.5 537.7h0M309.7 526h0M310 540.1h0M309.8 563h0M310.4 521.9h0M309.3 530.1h0M312.1 534.7h0M308.3 529.5h0M310.2 540.3h0M311 526.4h0M306.4 535.1h0M309.8 529.5h0M311.7 529.4h0M308.3 536.8h0M311.3 545.7h0M306.1 536.6h0M310.5 524.2h0M308.8 532.1h0M308.8 517.3h0M310 503.7h0M307.8 524.4h0M309.6 521.5h0M313.3 536.5h0M313 532.7h0M308.7 506.2h0M311.4 542h0M311 512.6h0M309.2 552.4h0M312.4 518.5h0M312 522h0M309.9 535.1h0M310.3 536.4h0M309.3 524.8h0M308.6 532h0M309.6 515.6h0M308.8 548.2h0M312.4 527.7h0M312.7 524.2h0M312.9 533.5h0M308.2 543.7h0M311.1 534h0M309.3 560.4h0M312.6 533.6h0M308.4 562.5h0M312.1 527.8h0M310.5 510.6h0M310.9 507.9h0M312.2 524.8h0M307.7 540.6h0M308.6 549h0M312.7 528h0M305.9 524.2h0M306.9 535.9h0M313 524.3h0M307.8 534.2h0M313.1 530.6h0M309.4 502.8h0M310.2 506.7h0M307.7 529.5h0M310.9 548.7h0M307.8 512.7h0M307 545.5h0M309.9 560.6h0M311 518.6h0M309.5 502.7h0M310.9 546.8h0M307 536.9h0M307.7 532.1h0M308.9 503.4h0M306.1 529.9h0M308.5 545.2h0M310.5 517.2h0M305.8 528h0M312.9 536.9h0M313.3 535.6h0M312.5 533h0M308.6 519.2h0M310.8 530.6h0M308.6 512.9h0M310.9 533.5h0M309.5 502.7h0M310.9 538.9h0M309.1 514.9h0M311.9 542.8h0M311.3 523.3h0M309.7 520.5h0M308.7 550.1h0M310.6 535.8h0M310.7 524.8h0M309.1 526h0M313.4 536.7h0M308.8 544.5h0M311.1 529.1h0M312.6 525h0M309.5 513.2h0M312.3 524.9h0M310 537.8h0M307.7 514h0M307.8 524.1h0M311.1 507.4h0M311.7 532.8h0M308.6 529.4h0M307.8 521.2h0M309.6 541.9h0M312.1 528.6h0M308.3 519.7h0M307.1 541.8h0M308.3 522.9h0M307.6 534.3h0M309.9 540h0M312.9 521.3h0M310.5 512.9h0M308.5 549.8h0M313.1 529.4h0M309.9 550.6h0M307.1 520.8h0M309.8 517.1h0M310.7 522.6h0M308.8 548.1h0M309.3 547.8h0M309.1 505.4h0M311.1 512.6h0M310.6 516.5h0M310.1 518.6h0M308.6 522.1h0M310.7 524.9h0M310.1 516.5h0M305.7 531.8h0M308.8 510.7h0M307.1 533.9h0M307.3 531.5h0M312.5 541.7h0M310.2 532.8h0M308.7 513.4h0M312.2 535.3h0M310.1 531.6h0M308.1 518.2h0M307.7 528h0M306.4 530.7h0M310.7 512.6h0M309.7 559h0M310.7 551h0M310.3 557.3h0M311.8 514.4h0M311.6 546.9h0M308.8 545.1h0M309.3 525.4h0M308 547.8h0M307.9 514.2h0M307.7 541.5h0M309.6 536.4h0M305.6 534.1h0M308.4 560.4h0M310.9 550.7h0M310.6 557.9h0M312.8 533h0M309 528.8h0M309.3 534h0M307.4 536.6h0M310.2 526.7h0M310.2 543.5h0M311.6 516.1h0M311.5 538.3h0M306.7 530.2h0M312.1 543.2h0M307.5 515.9h0M306.9 537.7h0M311.6 548.6h0M311.2 550.5h0M308.9 512.3h0M310.3 545.7h0M313.6 527.2h0M311.2 550.5h0M308.8 557.7h0M311.8 518.6h0M310.4 511.1h0M309.7 528.5h0M311 533.7h0M313.7 533.9h0M306.7 520.1h0M308.3 506.8h0M307.4 529.6h0M307.6 537.7h0M311 514h0M309.1 509.1h0M308.2 521.6h0M312.7 532.4h0M309 535.4h0M313.2 533.4h0M307.2 519h0M311.8 534.3h0M313.1 522.5h0M311.1 513.2h0M309.8 526.2h0M310.2 532h0M308.1 550.1h0M309.8 502.9h0M311.2 533.1h0M311 548.2h0M308.6 509.6h0M307.7 540.9h0M308.1 524.7h0M312.4 534.7h0M308.6 517.6h0M310.4 537.4h0M309.2 519.2h0M313.7 527.5h0M309.7 521.5h0M305.7 527.7h0M309.9 562.5h0M307.1 533.4h0M308.2 540.8h0M312.5 532.3h0M309.1 563.7h0M312.3 531.5h0M310.9 510.6h0M310.2 526.7h0M309 530.9h0M310.1 511.8h0M310.1 523.1h0M306 538.9h0M308.8 505.5h0M307.9 529.1h0M311.7 546.5h0M313.2 524.6h0M311.1 546.2h0M311.1 526.8h0M308.1 541h0M310.8 554.6h0M308.9 546h0M311.6 547.9h0M309 521.2h0M310.4 559.3h0M311 518.7h0M309.1 528.2h0M308.9 530.5h0M311.8 543.9h0M310.1 502.5h0M309.4 563.8h0M309.6 487h0" fill="none" stroke="#34505B" stroke-width="1.8" stroke-linecap="round"/>
<rect x="304.65" y="522.5" width="9.95" height="16.25" fill="#fff" stroke="#34505B" stroke-width="1.3" fill-opacity="0.65"/>
<line x1="304.65" y1="530" x2="314.6" y2="530" stroke="#34505B" stroke-width="1.3"/>
<line x1="320.88" y1="499.5" x2="320.88" y2="524.25" stroke="#E2913F" stroke-width="0.9"/>
<line x1="320.88" y1="543" x2="320.88" y2="558.75" stroke="#E2913F" stroke-width="0.9"/>
<path d="M322.8 525.7h0M321.8 538.8h0M319.5 540.2h0M321.8 505h0M323.4 541.1h0M322.2 557.7h0M319.5 547.4h0M323 536.7h0M321.6 550.6h0M322.3 551h0M323.1 547.3h0M320.1 511.2h0M320.4 531.8h0M321.5 538.8h0M318.5 541.3h0M320.8 548.9h0M321.7 515.9h0M319.2 526.1h0M317.9 532.1h0M320.8 499.5h0M320.9 558.8h0" fill="none" stroke="#E2913F" stroke-width="1.8" stroke-linecap="round"/>
<rect x="315.9" y="524.25" width="9.95" height="18.75" fill="#fff" stroke="#E2913F" stroke-width="1.3" fill-opacity="0.65"/>
<line x1="315.9" y1="535" x2="325.85" y2="535" stroke="#E2913F" stroke-width="1.3"/>
<line x1="239.75" y1="482" x2="239.75" y2="571.75" stroke="#000" stroke-width="1.45"/>
<line x1="239.25" y1="571.25" x2="332.25" y2="571.25" stroke="#000" stroke-width="1.45"/>
<line x1="235.75" y1="483" x2="239.75" y2="483" stroke="#000" stroke-width="1.1"/>
<text x="231.95" y="485.52" text-anchor="end" fill="#404040" stroke="#404040">4</text>
<line x1="235.75" y1="507" x2="239.75" y2="507" stroke="#000" stroke-width="1.1"/>
<text x="231.95" y="509.52" text-anchor="end" fill="#404040" stroke="#404040">2</text>
<line x1="235.75" y1="531" x2="239.75" y2="531" stroke="#000" stroke-width="1.1"/>
<text x="231.95" y="533.52" text-anchor="end" fill="#404040" stroke="#404040">0</text>
<line x1="235.75" y1="555" x2="239.75" y2="555" stroke="#000" stroke-width="1.1"/>
<text x="231.95" y="557.52" text-anchor="end" fill="#404040" stroke="#404040">&#8722;2</text>
<line x1="257.25" y1="571.25" x2="257.25" y2="575.25" stroke="#000" stroke-width="1.1"/>
<text x="257.25" y="583.77" text-anchor="middle" fill="#404040" stroke="#404040">mRNA</text>
<line x1="286.25" y1="571.25" x2="286.25" y2="575.25" stroke="#000" stroke-width="1.1"/>
<text x="286.25" y="583.77" text-anchor="middle" fill="#404040" stroke="#404040">Ribo</text>
<line x1="315.25" y1="571.25" x2="315.25" y2="575.25" stroke="#000" stroke-width="1.1"/>
<text x="315.25" y="583.77" text-anchor="middle" fill="#404040" stroke="#404040">Protein</text>
<text x="216" y="529.56" text-anchor="middle" stroke="#000" font-size="7.1" transform="rotate(-90 216 527)">Gene expression</text>
<text x="238.5" y="606.81" stroke="#000" font-size="7.1">Top SNP2: 16_19086538_T_C</text>
<text x="245.5" y="622.81" stroke="#000" font-size="7.1">Genotype</text>
<rect x="284" y="617.65" width="4.6" height="5" fill="#34505B"/>
<text x="288.7" y="622.81" stroke="#000" font-size="7.1">0</text>
<rect x="301.5" y="617.65" width="4.6" height="5" fill="#E2913F"/>
<text x="306.2" y="622.81" stroke="#000" font-size="7.1">1</text>
<rect x="318.5" y="617.65" width="4.6" height="5" fill="#14A1D6"/>
<text x="323.2" y="622.81" stroke="#000" font-size="7.1">2</text>
<line x1="249.5" y1="639.75" x2="249.5" y2="663.5" stroke="#34505B" stroke-width="0.9"/>
<line x1="249.5" y1="681" x2="249.5" y2="701" stroke="#34505B" stroke-width="0.9"/>
<path d="M249.2 697.4h0M249.3 644.7h0M250.5 657.7h0M250 678.3h0M247.9 690.4h0M250.5 649.2h0M252.3 678.2h0M247.9 667.3h0M250.4 688.1h0M251.6 675.6h0M247.3 683.3h0M248.8 691.8h0M246.8 664.9h0M248.6 658.2h0M247.8 671.7h0M251.6 681.8h0M250.8 692.1h0M251.4 685.9h0M250.3 668.9h0M250.3 678.7h0M247.4 682.5h0M247.7 689.7h0M251.4 689.5h0M250 673.8h0M250.9 671.2h0M251.2 656.4h0M248.6 646.4h0M249 687.3h0M249.6 678.5h0M249.2 660.9h0M251.6 674.7h0M251.3 681.6h0M248.6 679.1h0M249.3 700h0M251.7 670.8h0M250.1 659.4h0M248.9 700.7h0M250.3 679.2h0M249.1 659.4h0M248.4 664h0M251.2 670.9h0M251.7 664.2h0M248.6 675.1h0M248.1 683.3h0M247.1 670.5h0M249 683.7h0M249.6 694.2h0M251.3 677.8h0M250.4 676.4h0M248.9 675h0M250 683.6h0M251.1 666.4h0M250.2 666.1h0M251.1 689.7h0M247.9 688.3h0M250.9 666h0M250.6 697.3h0M249.2 684.6h0M250.2 642.6h0M248 659.2h0M249.1 641.7h0M248.8 685.9h0M249.7 691.5h0M251.2 678.4h0M250.4 698.8h0M247.5 682.9h0M250.2 642.6h0M248.5 688.9h0M246.8 670.4h0M247.5 677.3h0M248.7 665.8h0M250.4 671.3h0M250.2 677.9h0M249.7 691.9h0M251.1 660.7h0M247.6 658.9h0M247.3 681.8h0M247.9 688.2h0M249 665.2h0M248.3 659.5h0M248 678.1h0M247.9 675h0M251.9 662.9h0M249.7 690h0M246.6 678.4h0M247.9 687.2h0M249.2 662h0M247.7 683.8h0M248.4 671.5h0M246.6 668.9h0M250.2 647.2h0M251.1 673.2h0M248.1 660.5h0M247.5 682.3h0M249.9 693.9h0M249.8 684.1h0M246.5 672.3h0M248.8 698.4h0M249.9 689.5h0M248.7 687.1h0M250.8 661.8h0M248.8 648.9h0M248.8 661.3h0M247.5 675.1h0M251 665.1h0M249.4 659.9h0M248.2 669.9h0M250.4 659.4h0M250.2 668.2h0M251.2 675h0M247.9 673.7h0M246.6 677.1h0M251.1 658.7h0M249.7 664h0M248.1 659.9h0M252.3 668.8h0M249.3 670.5h0M250 674.1h0M249.7 682.1h0M247.4 660.1h0M252.3 670.7h0M248 660.6h0M249.8 686.5h0M247.1 669.2h0M249.4 686.4h0M250.2 642h0M248.4 658.4h0M252 668.4h0M248.3 696.1h0M251.8 684.9h0M249.1 640.3h0M247.2 681.3h0M247.5 665.8h0M248.9 674.4h0M251.2 659.8h0M247.1 666.3h0M250.7 675h0M250.4 657.4h0M250.1 692.7h0M251.6 680h0M250.2 647.5h0M249.9 641.9h0M248.1 652.8h0M248.3 694.3h0M249.6 684.7h0M249.3 641.5h0M251.5 659.6h0M250.8 655.8h0M252.2 669.3h0M248.4 658.7h0M250.8 690.5h0M247.2 670.2h0M251.6 680.5h0M249.3 665.2h0M251.2 689.5h0M250.6 656.5h0M250.8 656.1h0M248.5 676h0M249.9 644h0M250.6 687.3h0M248.6 661.7h0M250.3 680.1h0M251.8 681h0M248.2 670h0M247.5 680.8h0M252.1 679.5h0M249.8 698.9h0M247.6 666.6h0M250.4 698.8h0M250.5 666.8h0M251.3 684h0M251.8 673.8h0M247.9 679.8h0M250.1 688.3h0M248.4 661.2h0M250.4 680.5h0M250 641.4h0M248.6 648.3h0M249.6 655.8h0M249.5 651.6h0M249.3 691.4h0M250.1 649h0M247.2 684.4h0M250 655h0M250.6 669.9h0M247.9 664.3h0M248.4 673.7h0M248.6 668.2h0M248.7 681.3h0M248.9 685.4h0M250.8 681.8h0M248.7 663.1h0M249.6 697.5h0M249.2 646.4h0M250.3 666.2h0M248 671.6h0M248.7 648.8h0M248.7 652h0M251.3 680.2h0M249.6 662h0M247.9 676.5h0M249.2 694.7h0M250.4 654.2h0M251.5 680.2h0M250 665.5h0M248.7 670.2h0M250 670.4h0M252.2 670h0M247.8 672.1h0M248.9 660.5h0M250.2 650.6h0M251.1 675h0M250.1 641.9h0M249.5 678.9h0M249.6 699.8h0M249.3 664.8h0M248.2 653.3h0M250.6 672.6h0M251 692.2h0M250 671.4h0M250.8 694.1h0M249.5 665.3h0M250.4 681.5h0M249.2 643.6h0M249 679.5h0M246.9 678.8h0M247.3 683.4h0M249.5 679.3h0M251.5 668.4h0M249.6 654.1h0M251.9 662.8h0M251.8 682.4h0M249.4 684.7h0M249.6 666h0M251.3 688.4h0M248.2 690.3h0M252 675.7h0M249.7 664.1h0M251.9 675.9h0M249.1 688.3h0M247.9 677.5h0M248.8 644.7h0M251.6 680.8h0M251.7 677.2h0M248.7 668.2h0M248.9 641.9h0M249.5 687.5h0M251.2 686.4h0M249.5 639.8h0M249.3 701h0M249.5 707.2h0" fill="none" stroke="#34505B" stroke-width="1.8" stroke-linecap="round"/>
<rect x="246.15" y="663.5" width="6.7" height="17.5" fill="#fff" stroke="#34505B" stroke-width="1.3" fill-opacity="0.65"/>
<line x1="246.15" y1="673.5" x2="252.85" y2="673.5" stroke="#34505B" stroke-width="1.3"/>
<line x1="257.25" y1="641" x2="257.25" y2="658" stroke="#E2913F" stroke-width="0.9"/>
<line x1="257.25" y1="671" x2="257.25" y2="687.25" stroke="#E2913F" stroke-width="0.9"/>
<path d="M256.3 675.1h0M258.6 662.9h0M258.7 674.9h0M258.6 663.7h0M257.5 671.5h0M256.2 664.8h0M255.6 663.4h0M257.3 654.3h0M258 676.9h0M257.9 668.8h0M257.4 663.5h0M256.7 659.9h0M257 649h0M257 676.7h0M257.4 663.5h0M256.6 646.9h0M257.8 664h0M258 646.5h0M256.9 649h0M258.6 677.3h0M255.2 666.7h0M256.9 686.2h0M256.8 684.5h0M259.1 667.4h0M256.1 661.5h0M258.1 656.8h0M259.2 658.9h0M255 665.6h0M259.1 672.9h0M256.5 657.1h0M256.7 679h0M257.1 664.6h0M258.5 672.3h0M256.4 683.6h0M258.2 652.2h0M258 672.8h0M258.5 678.8h0M257.9 652.7h0M257.6 666.2h0M256.3 653.7h0M258.2 681.8h0M257.1 677.2h0M255.5 673.2h0M256.7 642.4h0M257.8 656.2h0M257.3 663.2h0M258.4 659.7h0M256.4 681.9h0M257.5 668.3h0M255.7 666.3h0M257.5 672.2h0M257.4 685.3h0M259.5 662.2h0M258.8 674.5h0M255.1 666.2h0M256.7 669h0M258.3 668.4h0M259.1 671.6h0M257.5 647h0M257.4 678.9h0M255.5 672.5h0M258.5 670.1h0M256.6 655.8h0M256.5 651.7h0M258.7 677.3h0M258.2 650.3h0M256 662.6h0M257.3 651.4h0M259 660.5h0M256.7 649.4h0M256.7 655.9h0M257.2 664.4h0M259.2 670.6h0M257.4 657.4h0M256.4 682.5h0M256.1 672.7h0M259.4 667.4h0M257.9 672.6h0M257.3 684.5h0M258.8 674.6h0M255.6 657.4h0M257 679.2h0M256.9 682.9h0M257.8 677h0M256.6 645.3h0M256.5 664.6h0M256.7 677.6h0M256.2 663.4h0M257.2 681.3h0M257.7 680h0M256.4 678.8h0M256.8 661.6h0M258 654.5h0M256.9 672.9h0M258.7 669.4h0M257 646.1h0M256.9 672.6h0M255.9 658.9h0M258.2 652h0M257.4 666.7h0M256.6 643.4h0M256.9 666.7h0M256.9 651.7h0M255.8 656.2h0M257.7 651.7h0M256.1 676.6h0M259 661.9h0M257.6 677.3h0M257 647.8h0M256.9 670.4h0M257.4 662h0M256.9 642.4h0M258 652.1h0M258.2 648.5h0M255.8 666.6h0M256.8 670.8h0M256.4 661.9h0M258.2 661.8h0M257.6 668h0M258.2 678.6h0M256.9 641h0M257.6 687.2h0" fill="none" stroke="#E2913F" stroke-width="1.8" stroke-linecap="round"/>
<rect x="254.15" y="658" width="6.2" height="13" fill="#fff" stroke="#E2913F" stroke-width="1.3" fill-opacity="0.65"/>
<line x1="254.15" y1="666" x2="260.35" y2="666" stroke="#E2913F" stroke-width="1.3"/>
<line x1="265.25" y1="656" x2="265.25" y2="655.5" stroke="#14A1D6" stroke-width="0.9"/>
<line x1="265.25" y1="666" x2="265.25" y2="673.5" stroke="#14A1D6" stroke-width="0.9"/>
<path d="M266 661.9h0M265.2 659.7h0M266.1 667.2h0M264.1 666.5h0M266.2 668.8h0M265 663.9h0M264.2 664.7h0M266.3 663.7h0M264 669.9h0M263.4 663.8h0M263.3 657.4h0M263.9 659.7h0M266.1 660.7h0M263.7 667.1h0M264.4 664.4h0M266 655.9h0M264.9 672.9h0M266.1 672.4h0M265.4 670.4h0M264.8 659.3h0M266.4 658.3h0M267.3 662.1h0M267.2 664.2h0M264.9 667.5h0M265.6 656h0M265 673.5h0" fill="none" stroke="#14A1D6" stroke-width="1.8" stroke-linecap="round"/>
<rect x="262.15" y="655.5" width="6.2" height="10.5" fill="#fff" stroke="#14A1D6" stroke-width="1.3" fill-opacity="0.65"/>
<line x1="262.15" y1="661" x2="268.35" y2="661" stroke="#14A1D6" stroke-width="1.3"/>
<line x1="278.25" y1="643.5" x2="278.25" y2="665" stroke="#34505B" stroke-width="0.9"/>
<line x1="278.25" y1="680.25" x2="278.25" y2="703.12" stroke="#34505B" stroke-width="0.9"/>
<path d="M278.4 648.1h0M276.9 680.5h0M280.8 676.5h0M276.2 665.2h0M278.9 688.7h0M280.3 664.5h0M277.9 683h0M277.3 664.8h0M278.5 664.7h0M276.9 669.8h0M277.1 681.3h0M280.9 670.2h0M277.2 666h0M277.3 683.6h0M280.1 671.1h0M278.6 652.8h0M278.6 662.8h0M280.2 682.4h0M277.4 670.5h0M277.3 687.3h0M276.7 669.2h0M279.4 670h0M278.4 670.2h0M277.9 695.5h0M276.1 675.3h0M279.2 663h0M279.4 680.7h0M277 670.1h0M276.9 663.1h0M281.1 669.3h0M277.4 675.6h0M275.8 677.8h0M279.1 679.3h0M279.4 659.5h0M277.7 647h0M276.4 686.4h0M276.9 659.9h0M280.9 669.8h0M277.3 661h0M277.3 656.8h0M277.7 679.6h0M279.6 664.8h0M279.1 698.1h0M279.5 684.7h0M278 661.7h0M277.7 691.4h0M278.1 650.6h0M276 662.3h0M279.1 681.1h0M278.5 676.6h0M276.5 675h0M276.7 661.3h0M277.9 685.6h0M279.2 695.5h0M276.4 659.3h0M278 698.7h0M278.8 678.4h0M280.2 675.4h0M276.5 688.7h0M279.9 660h0M280.7 668.5h0M277.4 660.5h0M277.6 694.6h0M277.8 651.2h0M277.3 687h0M278.2 671.2h0M275.5 670.7h0M277.6 661.2h0M276.4 662.5h0M279.1 668h0M276 674.3h0M279.2 675h0M279.3 678.6h0M277 659.5h0M279.9 677.9h0M276.8 688.5h0M279.9 666.7h0M279 688.3h0M278.6 687.2h0M280.8 675.6h0M278.7 668.3h0M277.5 675.1h0M279.1 675.1h0M280.4 674.4h0M277.5 690.1h0M278.5 679.4h0M279.4 657.9h0M278.9 677.4h0M277.7 704.1h0M278 660.9h0M277.9 693.3h0M277.8 660.8h0M275.3 671h0M280.4 664.9h0M277.7 650.2h0M279.9 675.2h0M276.3 678.5h0M277.9 664.4h0M277.1 654h0M281.2 675.8h0M279 686.6h0M276.9 678.1h0M277.1 681.8h0M277.2 661.3h0M277.3 682.9h0M279.6 656.6h0M277.2 666h0M280.5 662.9h0M277.7 649.5h0M278 664.6h0M277.6 653.3h0M278.1 657.9h0M276.2 662.6h0M277.9 700.9h0M280.1 662.4h0M277.9 686.8h0M276.9 661.1h0M278.6 700.6h0M276.2 664h0M279.5 688.7h0M278.2 668.7h0M277.6 673.4h0M278.5 699.9h0M278.9 663.3h0M279.1 648.2h0M277.7 675.8h0M279.8 658.3h0M278.8 652h0M279.5 674.2h0M279.4 676.7h0M278.2 663.5h0M280.8 680.7h0M280.5 682.9h0M278.7 680.5h0M278.1 702.9h0M277.2 673.1h0M279.2 652.1h0M279.3 654.3h0M278.8 654h0M279.6 690.2h0M279.7 688.2h0M276.5 666h0M278.1 692.9h0M278.2 650.2h0M279.4 666.2h0M276.5 688.4h0M277.2 676.4h0M277.9 649.8h0M278.1 682.9h0M278 700.6h0M278.4 661.8h0M277.9 674.1h0M276.6 690.1h0M278.5 695.1h0M281.1 672.8h0M278.5 701.5h0M277.8 700.2h0M278.7 664.4h0M278.2 700.1h0M278.5 669.3h0M280.5 676.2h0M277.5 689.9h0M278.3 652.7h0M279.3 674h0M280.2 687h0M279.5 666.8h0M277.8 704.3h0M276.7 687.2h0M279.6 661.7h0M279.3 662.6h0M280 678.2h0M277.4 702.6h0M277.7 681.9h0M279.4 680.7h0M275.7 676.5h0M278.7 695.4h0M278.2 654.4h0M278.5 698.8h0M278.2 687.2h0M277 676.4h0M281 670.8h0M276.7 681.6h0M277.3 651.4h0M279.5 658h0M278.8 644.4h0M278.9 667.7h0M278.3 650.9h0M279.1 668.6h0M276.2 665.8h0M279 644.9h0M278.5 667.6h0M279.2 671.4h0M279.9 670.2h0M279.1 645.1h0M278.8 687.2h0M278 694.7h0M276.8 660.2h0M277.6 695.1h0M276.5 676.5h0M278.8 651.9h0M280.6 672.8h0M279.2 668h0M278 660.1h0M277.9 687.1h0M278.7 657.7h0M279.1 662.4h0M275.6 670.6h0M276.2 663.1h0M276.7 686.2h0M278.6 669.4h0M278.3 687h0M277.3 650.2h0M278.3 643.6h0M280.4 677.5h0M280.1 677.3h0M278.8 678.6h0M279 669.8h0M277.5 683.7h0M279 691.5h0M279.5 666.8h0M277.8 704h0M278.3 648.4h0M280.5 662.9h0M280.1 659.7h0M279 656.3h0M279.8 667.4h0M275.6 673.5h0M280.4 673.7h0M277.9 679.5h0M276.3 674h0M279.5 675.7h0M278.9 648.4h0M280.5 669.7h0M278.9 675.9h0M278.1 693h0M277.8 656.1h0M278.9 688.3h0M278 662.8h0M277.4 697.5h0M276.4 680.6h0M277.7 692.2h0M276.9 669.6h0M278.4 691h0M278.6 700.1h0M277.1 690.7h0M278.2 659.5h0M277.4 659.4h0M280.3 685.8h0M278.4 643.5h0M278.6 704.8h0" fill="none" stroke="#34505B" stroke-width="1.8" stroke-linecap="round"/>
<rect x="274.9" y="665" width="6.7" height="15.25" fill="#fff" stroke="#34505B" stroke-width="1.3" fill-opacity="0.65"/>
<line x1="274.9" y1="673.5" x2="281.6" y2="673.5" stroke="#34505B" stroke-width="1.3"/>
<line x1="286.25" y1="646.5" x2="286.25" y2="661.5" stroke="#E2913F" stroke-width="0.9"/>
<line x1="286.25" y1="671.5" x2="286.25" y2="686.5" stroke="#E2913F" stroke-width="0.9"/>
<path d="M285.7 648h0M284.4 662.7h0M286.9 658.5h0M286.3 669.4h0M286.5 687.5h0M284 669.7h0M285.6 683.8h0M286 670.5h0M284.7 661h0M286.4 685.5h0M288 658.9h0M285.6 677.3h0M286.7 684.4h0M284.3 660h0M286.2 652.1h0M286.9 647.6h0M284.2 664.3h0M288.8 668.5h0M286.8 671.5h0M284.9 671.6h0M285.2 673.1h0M286.5 694.7h0M286 678.7h0M286.4 649.4h0M285.8 661h0M283.9 671.1h0M288 666.6h0M287.6 674h0M285 662h0M284.8 661.4h0M283.9 670.5h0M287 670.9h0M286 646.5h0M286.9 697h0M286.5 680.5h0M286.6 661.3h0M285.2 659.9h0M285.7 660.7h0M286.6 666.3h0M286.8 661.5h0M285.5 680.7h0M286.8 675h0M286.6 697.8h0M285.7 679.6h0M285.4 664.5h0M285.9 685.7h0M284.3 661.7h0M287.5 658.5h0M286.5 655.7h0M286.2 687.2h0M285.7 666.1h0M285.2 667.8h0M286.7 648.7h0M288.2 665.4h0M285.4 669h0M286.9 689.7h0M286.9 697h0M286.2 654.6h0M285.4 679.6h0M286.3 698.6h0M285.9 652.5h0M284.1 667.8h0M286.2 663h0M287.1 665.1h0M284.7 670.1h0M288.1 666.2h0M286.4 674.7h0M286.5 669.6h0M286.8 670h0M287 646.7h0M285.1 658h0M286.5 647.2h0M286.2 670.9h0M284.3 666.1h0M285.7 690.4h0M285.9 651.2h0M283.7 666.7h0M287 692.2h0M285.9 650.1h0M287.6 677h0M286.7 686h0M285.8 701.6h0M286.3 657h0M285.3 668.7h0M286.8 646.7h0M285.6 653.6h0M285.1 673.9h0M286 654.9h0M287.1 662h0M286.7 652.9h0M285.9 656.7h0M285.8 671.9h0M286.7 667.1h0M286.2 690.5h0M287.6 656.1h0M287.8 663.3h0M284.2 670.1h0M285.1 667.4h0M285.5 678.8h0M285.1 678.9h0M286.7 663.9h0M286.5 672.8h0M285.9 662.7h0M286.1 665.5h0M288.3 661.9h0M286.7 650.9h0M286.9 683.2h0M288.3 670.4h0M286.2 683.9h0M285.7 700.1h0M288.3 665.2h0M285.7 703.3h0M284 664.9h0M285.6 649.1h0M287.8 674.9h0M286.1 685h0M285.6 679.7h0M286.5 672.1h0M286.6 670.2h0M285.7 666h0M286.6 642h0M286.5 703.5h0" fill="none" stroke="#E2913F" stroke-width="1.8" stroke-linecap="round"/>
<rect x="282.9" y="661.5" width="6.7" height="10" fill="#fff" stroke="#E2913F" stroke-width="1.3" fill-opacity="0.65"/>
<line x1="282.9" y1="667" x2="289.6" y2="667" stroke="#E2913F" stroke-width="1.3"/>
<line x1="294.5" y1="651" x2="294.5" y2="654" stroke="#14A1D6" stroke-width="0.9"/>
<line x1="294.5" y1="662" x2="294.5" y2="663.5" stroke="#14A1D6" stroke-width="0.9"/>
<path d="M293.2 654.8h0M294.4 652.1h0M293.2 660.3h0M294.5 655.5h0M296.5 659h0M293.9 656.4h0M294 656.7h0M295.5 660.2h0M294.9 657.8h0M293.9 662.6h0M295.7 657.3h0M294.9 654.6h0M296.3 661h0M293.2 663h0M295 656.9h0M294.7 651.6h0M294.7 657h0M293 652.4h0M295.6 659.1h0M293.6 651.1h0M294 659.1h0M294.1 652h0M295.4 659.6h0M295.3 660.9h0M293.2 663.1h0M295.2 652.7h0M292.6 656.1h0M293.7 654.9h0M296.2 658.3h0M296.3 660h0M294.2 651h0M294.7 663.5h0" fill="none" stroke="#14A1D6" stroke-width="1.8" stroke-linecap="round"/>
<rect x="291.4" y="654" width="6.2" height="8" fill="#fff" stroke="#14A1D6" stroke-width="1.3" fill-opacity="0.65"/>
<line x1="291.4" y1="658" x2="297.6" y2="658" stroke="#14A1D6" stroke-width="1.3"/>
<line x1="307" y1="640" x2="307" y2="664" stroke="#34505B" stroke-width="0.9"/>
<line x1="307" y1="680" x2="307" y2="704" stroke="#34505B" stroke-width="0.9"/>
<path d="M304.8 675.5h0M308.6 687h0M306.8 644h0M307 686.6h0M306.5 661h0M307.5 663.3h0M305.4 682.1h0M306.9 677.1h0M306.6 646.4h0M306.6 704.1h0M306.7 659.6h0M307.6 664.5h0M306.7 643h0M306.8 682.5h0M307.4 700.2h0M307.7 672.3h0M307.3 670h0M307.1 662.3h0M308.3 681.9h0M307 661.5h0M304.2 666.9h0M306.2 682.9h0M308.2 677.5h0M304.9 677h0M307.1 698.1h0M307.3 687.8h0M306.8 654.8h0M307 647h0M305.2 683.3h0M307.4 700.1h0M304.2 676.8h0M308.2 684.7h0M304.5 667.5h0M306.3 659.3h0M306.8 664.4h0M307.6 684.5h0M307.7 655.6h0M307.4 688.6h0M308.8 655.6h0M307.6 656.6h0M305.7 670.5h0M307.1 683.4h0M308.5 653.6h0M304.7 675.5h0M307 689.2h0M309.4 665.7h0M307.7 642.9h0M306.6 653.8h0M306.8 697.8h0M307.8 700.9h0M306 693.1h0M306.7 695.2h0M308.7 662.5h0M307.3 665.1h0M306.2 647.5h0M308.7 656.1h0M307.4 648h0M304.6 678.5h0M307.1 686.2h0M305 680.4h0M308.9 660.1h0M307.2 670.4h0M304.5 667h0M306.4 643h0M306.2 685.6h0M309.9 673.8h0M308.5 683.2h0M308.2 669.6h0M306.2 704.1h0M307.3 693.1h0M307.2 643.2h0M307.1 644.5h0M306.5 683.4h0M306.5 699.2h0M306.6 680.1h0M307.2 703.2h0M305.7 653.6h0M304.9 661.6h0M308.9 679.4h0M304.9 663.1h0M307.5 698.5h0M306 684.2h0M306.7 639.9h0M306.8 686.1h0M308.3 683.7h0M308.8 683.6h0M308.4 667.2h0M306.7 641.8h0M308.9 672.9h0M307.7 655.8h0M306.8 696.6h0M308.2 665.2h0M308.9 678.3h0M307.1 692.8h0M308 654.6h0M307.5 648.5h0M305 667.4h0M307 703.9h0M305.5 657h0M308.6 680.4h0M307.4 657.7h0M308 691.1h0M307 676.5h0M307.4 692.7h0M307.8 687.2h0M306.4 679.7h0M304.8 677.1h0M309.7 664.5h0M307.5 682h0M307.7 645.3h0M306.2 699.6h0M306.5 652.7h0M307.5 671.3h0M308.7 661.5h0M309.1 677.1h0M307.6 676.9h0M307.9 640h0M306.9 650.7h0M309.9 669.2h0M305.9 671.8h0M308.1 658.7h0M307.3 702h0M306.1 642.2h0M309.8 672.9h0M307.9 651.3h0M307.4 678.2h0M307.6 656.2h0M306.5 642.4h0M305.9 661.1h0M305.8 653.2h0M306.1 641.7h0M305.9 683.1h0M306.3 640.2h0M308.2 678.5h0M306.1 690.1h0M305.6 674.3h0M305.2 655.9h0M307.9 648.1h0M309.3 661.5h0M305.7 675.1h0M305.9 679.6h0M306.5 691.3h0M307.5 685.9h0M307.2 643.8h0M307.8 645h0M304.3 665.5h0M308.9 666.3h0M306.6 641.9h0M306.2 665.9h0M306.7 689.3h0M306.3 675h0M309.9 668.3h0M308.4 686.7h0M306.2 681.6h0M307.2 686.6h0M307.1 696.4h0M308.9 674.3h0M305.6 663.3h0M306.8 643.3h0M308 681.8h0M305.2 670.1h0M308.6 668.5h0M304.9 670h0M304.5 669.4h0M308.9 677.1h0M309.6 668.8h0M307.9 670.5h0M306.1 666.2h0M308 692h0M307.5 664.1h0M307.3 693.6h0M308.2 683.4h0M306.2 694.1h0M305.1 678.6h0M308 662.1h0M305.2 664.1h0M308.1 682.3h0M307.6 663.6h0M306.4 658.2h0M305.7 671.1h0M305.6 687.2h0M307.3 700.9h0M304.3 675.8h0M307.2 664.9h0M304.8 683.6h0M306.1 703.3h0M304.7 670.7h0M309.8 669.3h0M307.5 658.2h0M308.8 673.5h0M307.4 690h0M304.7 682.1h0M305.2 671.5h0M308.3 666.2h0M306.6 653.8h0M306.8 643.9h0M307.1 686.6h0M306.5 689.4h0M309.5 679.9h0M307.1 653.6h0M308.4 675.1h0M309.7 667.8h0M308.3 654.2h0M306.3 659.7h0M305.3 673h0M308.1 674.4h0M309 684.6h0M306.6 696.2h0M309.4 662h0M309.5 665.3h0M306.9 663.2h0M306.2 694.4h0M307.6 703.8h0M304.8 678.6h0M305.8 659h0M305.9 656.5h0M309.2 674.5h0M308.3 654.2h0M306.3 683.7h0M305.1 660.7h0M307.7 644.5h0M306.9 666.5h0M306.7 644.8h0M307.1 682.1h0M308 674.9h0M306.7 664h0M307.4 694.3h0M307.9 691.2h0M306.4 653.6h0M307.5 690.6h0M305.2 682.3h0M306.3 679.3h0M309.9 675.7h0M305.9 687.8h0M307 641.5h0M304.3 666.7h0M304.7 668.6h0M305 675.3h0M307.8 703.7h0M307.7 656.3h0M307.7 678.4h0M305.9 669h0M307.9 663.5h0M305.2 684h0M304.6 670.4h0M309 678.3h0M306 679.3h0M304.8 676.8h0M307.4 639.8h0M306.8 704.8h0" fill="none" stroke="#34505B" stroke-width="1.8" stroke-linecap="round"/>
<rect x="303.65" y="664" width="6.7" height="16" fill="#fff" stroke="#34505B" stroke-width="1.3" fill-opacity="0.65"/>
<line x1="303.65" y1="671.5" x2="310.35" y2="671.5" stroke="#34505B" stroke-width="1.3"/>
<line x1="315" y1="649.75" x2="315" y2="662.5" stroke="#E2913F" stroke-width="0.9"/>
<line x1="315" y1="677.5" x2="315" y2="700" stroke="#E2913F" stroke-width="0.9"/>
<path d="M313 664.8h0M316.8 666h0M315.1 681h0M314.7 654.8h0M315.1 691.2h0M315.7 658.6h0M315.7 693.9h0M313.6 682.3h0M313.1 664.4h0M314.5 686.6h0M315.3 696.5h0M312.7 664.9h0M316.2 660.4h0M313.5 666.8h0M316.8 680.8h0M313.9 682.8h0M313.2 662.2h0M315 676.1h0M316.2 684.9h0M313.8 674.4h0M314.5 650.6h0M313.8 669h0M316.5 663.8h0M315.3 680.1h0M312.5 664.5h0M314.9 679h0M314.4 664.8h0M317.1 661h0M317.3 665.2h0M315.8 696.6h0M316.5 675.5h0M316.8 672.3h0M315.8 684.8h0M316.5 663.3h0M315.6 682.4h0M315.3 655.2h0M313.5 679.7h0M313.4 677.4h0M317.3 664.1h0M316.6 672h0M313.5 682.7h0M315.6 672.7h0M315.3 682.4h0M314.6 690.2h0M314 667.4h0M314.4 660.8h0M316.9 660.7h0M316 682.9h0M314 686.7h0M314.7 655.8h0M316.5 676.1h0M315.7 669.8h0M315.7 694.5h0M315.9 689.5h0M313 671.2h0M314.8 651.7h0M312.7 668.1h0M313.1 658.6h0M315.3 697.6h0M315.2 678.7h0M314.6 650.9h0M314.2 673.1h0M313.4 681h0M314 663.5h0M315.6 653.2h0M313.4 679h0M314.7 694.7h0M315.3 653.4h0M315.3 655.8h0M317 662.5h0M313.4 676h0M313.5 668.2h0M314.4 693h0M313.2 664.1h0M312.8 662.9h0M313.5 656.8h0M315.6 688.7h0M317.5 672.7h0M313.6 679.5h0M316 650.1h0M313.8 684.3h0M315.8 690h0M314.8 653.6h0M314.3 688.3h0M315.8 691.1h0M314.5 685.7h0M315.8 669.9h0M313.1 671.1h0M313 670.1h0M314.4 653.1h0M313.1 672.8h0M315.9 669.1h0M312.9 666.9h0M314.1 670.3h0M316.2 667.8h0M313.9 686.4h0M314.7 668.9h0M315 670.8h0M314.9 672.8h0M314.7 662.8h0M313.7 674.3h0M316.2 656.7h0M313.6 660.1h0M315 651.7h0M316.4 674h0M315.1 669.5h0M314.4 665h0M315.7 660.6h0M314.8 684.4h0M316.1 657.9h0M315.1 697.2h0M315.5 652.1h0M314.9 696.5h0M314 663.1h0M316.8 669.7h0M315.1 692.1h0M314.9 696.6h0M316.6 667.4h0M314.6 676.4h0M313.2 680.2h0M315.1 649.8h0M314.6 701h0M315 627.2h0" fill="none" stroke="#E2913F" stroke-width="1.8" stroke-linecap="round"/>
<rect x="311.65" y="662.5" width="6.7" height="15" fill="#fff" stroke="#E2913F" stroke-width="1.3" fill-opacity="0.65"/>
<line x1="311.65" y1="669.5" x2="318.35" y2="669.5" stroke="#E2913F" stroke-width="1.3"/>
<line x1="323.12" y1="650.5" x2="323.12" y2="659.5" stroke="#14A1D6" stroke-width="0.9"/>
<line x1="323.12" y1="675.5" x2="323.12" y2="678.5" stroke="#14A1D6" stroke-width="0.9"/>
<path d="M323.4 670.1h0M324.9 671.6h0M325.1 667.3h0M323.7 663.1h0M322.7 674.6h0M323.2 673.1h0M324.8 671.8h0M323.4 670.9h0M323.9 672.6h0M324.9 666.1h0M321 671.8h0M324.4 671.4h0M321.3 667.6h0M322.6 677.9h0M325.2 665.4h0M321.3 663.9h0M320.9 668.7h0M323 659.6h0M324.1 651.7h0M321.1 665.9h0M322.1 661.1h0M321.9 663.9h0M324.8 670.5h0M323.8 677.6h0M322.9 673.4h0M324.4 665.6h0M324.7 658.7h0M322.7 650.5h0M323.4 678.5h0" fill="none" stroke="#14A1D6" stroke-width="1.8" stroke-linecap="round"/>
<rect x="319.9" y="659.5" width="6.45" height="16" fill="#fff" stroke="#14A1D6" stroke-width="1.3" fill-opacity="0.65"/>
<line x1="319.9" y1="669.5" x2="326.35" y2="669.5" stroke="#14A1D6" stroke-width="1.3"/>
<line x1="239.75" y1="623" x2="239.75" y2="712" stroke="#000" stroke-width="1.45"/>
<line x1="239.25" y1="711.5" x2="332" y2="711.5" stroke="#000" stroke-width="1.45"/>
<line x1="235.75" y1="623.5" x2="239.75" y2="623.5" stroke="#000" stroke-width="1.1"/>
<text x="231.95" y="626.02" text-anchor="end" fill="#404040" stroke="#404040">4</text>
<line x1="235.75" y1="647.75" x2="239.75" y2="647.75" stroke="#000" stroke-width="1.1"/>
<text x="231.95" y="650.27" text-anchor="end" fill="#404040" stroke="#404040">2</text>
<line x1="235.75" y1="671.75" x2="239.75" y2="671.75" stroke="#000" stroke-width="1.1"/>
<text x="231.95" y="674.27" text-anchor="end" fill="#404040" stroke="#404040">0</text>
<line x1="235.75" y1="696" x2="239.75" y2="696" stroke="#000" stroke-width="1.1"/>
<text x="231.95" y="698.52" text-anchor="end" fill="#404040" stroke="#404040">&#8722;2</text>
<line x1="257.25" y1="711.5" x2="257.25" y2="715.5" stroke="#000" stroke-width="1.1"/>
<text x="257.25" y="724.27" text-anchor="middle" fill="#404040" stroke="#404040">mRNA</text>
<line x1="286.25" y1="711.5" x2="286.25" y2="715.5" stroke="#000" stroke-width="1.1"/>
<text x="286.25" y="724.27" text-anchor="middle" fill="#404040" stroke="#404040">Ribo</text>
<line x1="315.25" y1="711.5" x2="315.25" y2="715.5" stroke="#000" stroke-width="1.1"/>
<text x="315.25" y="724.27" text-anchor="middle" fill="#404040" stroke="#404040">Protein</text>
<text x="216.5" y="669.56" text-anchor="middle" stroke="#000" font-size="7.1" transform="rotate(-90 216.5 667)">Gene expression</text>
<text x="350.2" y="12.3" font-weight="bold" stroke="#000" font-size="10">C</text>
<text x="364.8" y="20.99" font-weight="bold" font-style="italic" stroke="#000" font-size="8.3">PISD</text>
<line x1="395" y1="115.5" x2="509.5" y2="115.5" stroke="#EBEBEB" stroke-width="1"/>
<line x1="395" y1="101.67" x2="509.5" y2="101.67" stroke="#EBEBEB" stroke-width="1"/>
<line x1="395" y1="87.83" x2="509.5" y2="87.83" stroke="#EBEBEB" stroke-width="1"/>
<line x1="395" y1="74" x2="509.5" y2="74" stroke="#EBEBEB" stroke-width="1"/>
<line x1="395" y1="60.17" x2="509.5" y2="60.17" stroke="#EBEBEB" stroke-width="1"/>
<line x1="395" y1="46.34" x2="509.5" y2="46.34" stroke="#EBEBEB" stroke-width="1"/>
<line x1="395" y1="32.5" x2="509.5" y2="32.5" stroke="#EBEBEB" stroke-width="1"/>
<path d="M399.75 116.1L399.75 115.5L399.75 108.86L415.08 107.2L422.74 104.43L430.41 102.77L443.19 101.67L455.96 101.11L466.18 103.88L473.85 107.2L504.5 107.75L504.5 115.5L504.5 116.1Z" fill="#808a88"/>
<path d="M401 110.3h0M403.6 109.4h0M458.7 102.5h0M459.3 97.3h0M434.6 106.4h0M494 102.6h0M500.9 100.2h0M456.8 105.3h0M496.8 102.7h0M437.4 105.5h0M405.3 107.7h0M424 104.5h0M435.9 99.6h0M442.7 105.4h0M462.1 101.6h0M407.6 107h0M430.3 105.1h0M493.8 102.5h0M451.1 98h0M443.9 98.8h0M453.1 103.8h0M432.8 98.6h0M490.6 103.3h0M496.5 108.5h0M402.8 105.9h0M461.3 103.1h0M425.5 100.7h0M481 109.3h0M434.1 104.4h0M429.1 100.2h0M401.6 108.7h0M482.9 109.7h0M445 97.6h0M501.9 103.6h0M481.7 106.2h0M442.7 106.3h0M450.6 106.1h0M409.3 106.5h0M493.7 107.5h0M453.4 105.2h0M464.2 96.8h0M502.8 109.7h0M424.8 103.4h0M449.5 97.9h0M475.3 106.4h0M418.1 104.5h0M452.1 100.1h0M399.8 108.6h0M433.8 103.6h0M452.9 99h0M454.9 104.5h0M450.4 101.4h0M404.8 106.5h0M458.6 100.2h0M470.3 102h0M408.8 107.9h0M428.2 101.6h0M492.9 107.7h0M481.8 109.9h0M426.1 102.6h0M493.7 104.8h0M493.3 102.8h0M427.9 98.4h0M416.6 105.2h0M421 107h0M433.4 100.7h0M472.3 108.2h0M436.4 97.8h0M462 98h0M504.5 109.5h0M405 104.5h0M485.1 106.7h0M484.5 102.5h0M434.8 100.8h0M482.3 107h0M456.2 104.5h0M407.6 109.5h0M483 102.3h0M484.7 99.9h0M448.6 105.6h0M495.6 106.3h0M461.3 99.1h0M424 98.5h0M458.8 100.5h0M435.8 102h0M499.4 108.6h0M422.5 101.3h0M474.1 107.1h0M478.7 106.9h0M421.3 105.7h0M432.6 104h0M415.8 103.1h0M435.6 105.4h0M412.2 106.4h0M407 107.2h0M414.5 106.1h0M413.5 107.6h0M500.1 109.7h0M452.9 98.6h0M479.7 109.3h0M431.9 102.2h0M476.4 104h0M456.2 105h0M403.4 106.7h0M491.4 108.5h0M472.5 104h0M400 110h0M451.1 104.5h0M410.8 105.3h0M415.3 105.1h0M504 109.8h0M425.6 106.5h0M449.6 99.3h0M479.2 108.3h0M433.7 102.3h0M456.4 105.5h0M495.2 104.1h0M477.1 109.6h0M457.8 105h0M497 108.9h0M410.3 106.4h0M451.4 102.6h0M476.1 106.7h0M443.9 98.6h0M421.6 103.8h0M407 104.6h0M420.9 104.2h0M473.3 109.3h0M409 106.6h0M463.4 104.3h0M435.3 98.1h0M467.5 105.2h0M464 103.6h0M403.2 110.5h0M483.7 100.8h0M424.4 100.7h0M480 109.2h0M500.4 99.9h0M404.8 108.9h0M476 107.8h0M413.4 108.7h0M493.2 103h0M446.7 99.9h0M470 99.5h0M430.8 103h0M463.4 96.5h0M495.8 104.3h0M455.4 103.4h0M502.4 103.6h0M500.9 107.5h0M448.5 102.6h0M443.9 98.5h0M450.9 99.7h0M453 97.7h0M486.9 107.1h0M504.3 104.3h0M483.3 104.5h0M445.7 105.5h0M410.2 107.4h0M465.5 97.1h0M439.5 100.6h0M462.2 97.1h0M496 109.9h0M477 108.5h0M498.4 109.6h0M438.9 106.4h0M464.2 105.4h0M408.5 106.1h0M415.8 108.4h0M491.8 104h0M452.1 98.4h0M461.3 97.4h0M410.7 109.1h0M471.1 106.5h0M459.6 99h0M453.3 103.9h0M499.1 106.5h0M446.7 102.1h0M403.5 106.9h0M464.1 104.4h0M473.2 107h0M498.8 106.7h0M408.7 103.5h0M429.3 98.1h0M469.1 104.8h0M452.3 98.9h0M491.6 109.3h0M430.5 106.4h0M453.7 104h0M429.1 101.3h0M501.5 108.4h0M454.7 102.6h0M459.3 103.3h0M418.8 106.6h0M495.7 106.7h0M499.5 109.9h0M419.6 102.8h0M411.4 105.8h0M418.2 107.5h0M449.6 98.3h0M458.5 105.8h0M422 99.1h0M482 106.9h0M433.6 104.5h0M403.5 109.2h0M488.5 107.2h0M489 102h0M471.1 106.6h0M445.5 105.6h0M424 104.5h0M403.8 104.4h0M452.2 103.4h0M465.2 101.7h0M433.1 103.9h0M446.1 104.1h0M438.3 102.9h0M489.8 104.4h0M490.2 107.1h0M499.5 109.6h0M488.4 104.1h0M402.5 104.5h0M434.1 101.7h0M405.6 105.9h0M468.8 104.5h0M434.7 99.7h0M495.4 110h0M431 102.6h0M432.8 104.4h0M458.9 97.9h0M484 106.6h0M491.1 102.9h0M415 107.7h0M501.9 109.4h0M426.5 97.7h0M485.3 108h0M442.4 97.4h0M426.2 100.2h0M426.2 103.7h0M498.1 104.2h0M444.5 97.7h0M493.7 103h0M454.9 105.2h0M433 105.6h0M429.3 106h0M470.2 101.8h0M402 104.8h0M484 105.4h0M502.6 109.4h0M403.5 109.9h0M414.9 104.2h0M465.7 104.8h0M486.3 101.2h0M459.9 103.8h0M440.1 97.6h0M463.2 105.3h0M445.2 101.8h0M472.1 105.4h0M422.2 102h0M452.5 100.3h0M503 102.5h0M433.1 100.1h0M421.7 105.2h0M405.8 104.8h0M423 99.7h0M462.7 97.9h0M472.4 108.2h0M476.8 104.8h0M445.4 99.5h0M433.4 106.2h0M453 105.6h0M438 98.2h0M489.6 104.8h0M441.2 105.6h0M454.2 105.5h0M480.3 104.9h0M408.9 107.8h0M455.2 102.9h0M472.6 109.1h0M478.9 105.9h0M423.4 106.7h0M413.7 108.1h0M448.3 105.2h0M401 108.5h0M404.2 110.2h0M485.1 102.9h0M427.1 104.9h0M443 103.2h0M464.3 104.4h0M463.2 99.9h0M489.9 104.3h0M480.1 106.5h0M405.2 103.9h0M467.9 101.5h0M437.6 106.1h0M411.5 103.4h0M448.3 103.2h0M493.8 106.8h0M434 103.7h0M451.7 100.9h0M474.1 109.8h0M478.6 105.6h0M496.3 107.8h0M412.7 102.8h0M430 99.3h0M496.1 104.7h0M429.6 102.8h0M459.4 103.8h0M460.4 96.2h0M461 100.5h0M446.6 104.5h0M488.6 109.5h0M449.3 101h0M503.2 109h0M499.3 103.3h0M404.8 108.4h0M414.3 103.4h0M468.6 99.2h0M404.6 107.6h0M489.6 109.3h0M435.4 101.6h0M490.6 108.8h0M423.2 107h0M459.4 100.1h0M404.2 109.7h0M448.5 100.9h0M404.6 104.1h0M457.6 100.5h0M466.9 102.9h0M462.1 102.5h0M477.1 107h0M405.3 107.9h0M406.4 103.9h0M407.8 107.1h0M476.6 107.6h0M402.2 109.6h0M442.9 104.7h0M486.4 107.9h0M499.3 102.8h0M423.9 103.8h0M460.8 104.6h0M494.5 109.2h0M471.1 104.9h0M487.8 109.4h0M414.3 105.6h0M426.4 105.3h0M433 100.1h0M455.5 105h0M467.3 105.1h0M399.9 109.4h0M440.3 102.7h0M424.8 106.2h0M486 109h0M454.7 98.7h0M436.6 101.1h0M428.4 101.4h0M407.4 103.2h0M498.6 100.2h0M470.6 104.9h0M464.5 98h0M492.8 106.8h0M434.5 105.5h0M430.3 100.8h0M408.7 105.8h0M404.9 104.9h0M423 103.6h0M489.7 104.9h0M412 105.1h0M440 97.5h0M423.9 101.9h0M449 102.2h0M466.4 102.2h0M481.6 106.2h0M426.4 105.6h0M467.9 102.1h0M416.6 106.1h0M496.2 107.3h0M430.7 101.6h0M405.9 108h0M495.9 109.8h0M414 106.9h0M423 107h0M453.5 100.8h0M402.2 105.6h0M457.1 100.4h0M424.8 101.7h0M504.4 104.1h0M438.6 106.5h0M437.6 100h0M442.9 101.3h0M471.1 105.5h0M422.6 100.8h0M448.9 102h0M435.5 102.3h0M463.6 97.8h0M473.3 106.3h0M488.5 103.2h0M480.8 109.6h0M496.9 106.9h0M427.8 100.4h0M417.9 104.8h0M405.5 105.7h0M481.6 105.4h0M455.6 98.9h0M421.6 104.3h0M458.1 103.8h0M496.7 102.9h0M458.6 105.8h0M433.2 100.5h0M454.8 99.6h0M458.3 98.5h0M489.7 103.2h0M451.7 99.5h0M486.5 107.5h0M498.7 109.3h0M447.1 105.8h0M492.2 104.8h0M405.3 108.2h0M473.4 108.6h0M419.2 106.4h0M440.9 102.5h0M425.2 105h0M495.6 109.8h0M420.7 106.6h0M451.7 100.6h0M450.6 97.5h0M450.3 105.5h0M412.3 105.6h0M409.4 104.7h0M473.7 108.6h0M500.5 99h0M437.2 105.7h0M448.6 104.1h0M485.1 108.8h0M451.2 102.9h0M485.6 105.2h0M412.2 108.9h0M444.6 103.5h0M442.4 100.2h0M436.1 102.4h0M411.1 109.1h0M443.5 100.6h0M433.7 98.1h0M407.6 109.3h0M425.2 105.7h0M411.9 108.3h0M502.2 107.6h0M492.4 103.4h0M446.4 99.6h0M478.1 106.1h0M460.6 100.4h0M407.7 105.8h0M463.1 97.2h0M480.3 107.1h0M464.1 103.5h0M424.5 106.1h0M462.1 103.4h0M423.1 100.8h0M493.5 109.3h0M502.7 107.4h0M444.6 100.7h0M495 103.7h0M488.1 104.4h0M465.6 105.5h0M456 105.6h0M494.6 108.3h0M466.7 105.5h0M485.5 108h0M406.2 108.3h0M470.8 104h0M430.2 103.7h0M400.7 109.9h0M410.5 103.1h0M419.8 104.4h0M467.5 105.8h0M480.4 104.9h0M479.6 109.5h0M406.4 105.7h0M500.2 102h0M401.6 106.1h0M410.8 108.3h0M441.7 100.6h0M436 104.9h0M477.6 108.1h0M439 106.1h0M428.8 100.3h0M401.3 107.4h0M430 101.3h0M425.3 103.2h0M468 98.2h0M414.2 106h0M464.5 105.5h0M413.9 107.7h0M443 106.4h0M422.2 104.1h0M483 102.4h0M493.7 109.5h0M409.5 106.1h0M454.1 105.2h0M452.9 97.4h0M450 102.7h0M434.7 101.5h0M500.4 103.9h0M436 100.8h0M456 100.7h0M442 105.9h0M479.5 108.3h0M406.6 107.8h0M422.4 101.4h0M402.1 104.7h0M461.3 105.1h0M476.5 107.7h0M462.2 103.4h0M415.5 106.8h0M461.5 96.2h0M469.4 103.6h0M478.1 105.2h0M439.6 106.3h0M491.4 109.2h0M417.3 106.7h0M472.8 106.8h0M432.3 98.4h0M440.6 92.7h0M437.2 91.1h0M423.6 91.9h0M440.6 95.3h0M431.5 90.2h0M440.9 90.6h0M423.6 92.6h0M429.1 99.7h0M441.6 91.1h0M440.8 94.6h0M435.8 99.1h0M438 97.2h0M441.6 99.2h0M427.2 97.4h0M435 96.9h0M431.5 95.1h0M426.2 94.7h0M423.2 95.7h0M436.5 94.8h0M423.2 94.8h0M443.6 96.3h0M428.9 91.8h0M442.1 92h0M433.5 97.8h0M425.4 93.7h0M426.2 93.4h0M425.9 95.6h0M437.6 93.6h0M429.9 94.1h0M443.4 92.4h0M433.1 99.6h0M424.7 98h0M423.4 93.3h0M437.2 99.5h0M445 95.4h0M443.4 98.1h0M438.1 90.7h0M438.7 97.2h0M444.3 96.8h0M431.8 95.1h0M429.2 91.2h0M433.6 99h0M430.2 92.5h0M443.5 99.4h0M439.8 91.4h0M422.8 94.6h0M443.5 93.8h0M444.3 93h0M428.4 91.5h0M434 98.9h0M431.8 99.8h0M443.1 99.8h0M443 98.4h0M424.5 93.4h0M435.8 94.7h0M429.7 96.2h0M432.4 90.9h0M435.3 91.3h0M435.6 96.7h0M425.9 94.9h0M438.1 99.8h0M431.1 93.3h0M429.2 90.3h0M435.7 92.5h0M427.1 91.7h0M430.7 98.7h0M433 98.1h0M433.2 90.9h0M431.8 98h0M439.5 96.5h0M436.2 92h0M428.7 97.8h0M425.3 93.5h0M424.4 90.8h0M424.2 91.5h0M440.7 92.5h0M445.3 96.3h0M438.9 94.2h0M422.8 94.6h0M438.1 97h0M429.2 99.1h0M423.5 98.3h0M424 99.7h0M429.8 94.9h0M439.1 98.6h0M444 91.6h0M433.2 99h0M435.7 99.8h0M425.7 93.9h0M430.8 90.8h0M436.8 93.2h0M442.2 95.1h0M432.1 93.6h0M425.1 98.2h0M425 92.3h0M437 98.2h0M443 98.5h0M427.4 96.7h0M440.7 94h0M445.6 92.7h0M440.8 92.8h0M439.9 94.8h0M444.7 92.7h0M434.5 93.9h0M434 96.6h0M438.1 91.7h0M437.8 99.5h0M431.7 95.9h0M445.4 97h0M437 104.9h0M426.6 102.6h0M442.4 99.6h0M427 97.4h0M459.5 103.9h0M443.7 97.7h0M429.6 103.5h0M434.7 100.3h0M455.6 97.7h0M439.9 105.3h0M429.3 102.3h0M429.1 103h0M457.7 101h0M437.5 101.4h0M459.7 96.5h0M453.7 104.7h0M458.7 97.4h0M443.6 103.8h0M453 97.3h0M465.4 98.6h0M434.8 103.9h0M464 98.1h0M453 104.9h0M430.3 100.4h0M464.5 99.3h0M448.7 99.2h0M444.6 96.3h0M444.4 95.9h0M443.3 100.5h0M465.7 100h0M443.5 105.4h0M442.5 103.1h0M442.1 105.1h0M442 101.6h0M458.4 102.5h0M455.6 99.8h0M449.9 97.2h0M461.3 104.3h0M436.8 105.2h0M449.1 105h0M437.3 96.6h0M441.7 101.3h0M436.5 97.8h0M446.2 100.2h0M460.5 104.1h0M426.1 98h0M457.5 98.5h0M458.2 100.6h0M429.1 103.8h0M454.3 104.2h0M449.9 101.3h0M463.2 98.9h0M439.8 104.3h0M447.6 98.7h0M426.7 101.5h0M431.2 102.6h0M455.8 96.6h0M429.5 102.5h0M446.3 95.2h0M461.8 98.5h0M431.7 98.6h0M452.9 105.1h0M442.2 100.1h0M432.9 104.1h0M442 105.5h0M439 100.3h0M436.4 100.4h0M461.8 101.4h0M441 98.5h0M461.5 104.5h0M459.1 97.1h0M462.7 103.9h0M461.9 102.6h0M439.6 102.6h0M457.6 99.6h0M431.3 102.8h0M449 96.7h0M450.2 98.6h0M437.9 97h0M450.5 99.3h0M436.9 99.9h0M438.3 101.5h0M463.8 101.7h0M433.1 101.7h0M434.6 98.8h0M434 98.8h0M444.3 101h0M449.1 95.2h0M449.6 103.3h0M438.4 104.1h0M451.2 96.2h0M427.8 103.2h0M430 100.8h0M459.5 104.1h0M459.2 101.8h0M447.2 99h0M463.6 97.4h0M465.4 100.6h0M464.4 98.8h0M448.8 99.2h0M438 104h0M444 102.8h0M425.4 97.8h0M433.9 96.4h0M445.8 102.7h0M441.6 104.6h0M447.9 102.2h0M425.4 103.7h0M442.4 95.8h0M434.3 97.7h0M443.2 101.8h0M441.3 100.2h0M438.4 99.4h0M456.2 97h0M442.4 99.4h0M431.4 100.8h0M461.3 103.8h0M428.4 105.5h0M435.6 101.9h0M447.7 101.3h0M463.4 94.2h0M462.1 95.7h0M454 94.3h0M450.9 93.6h0M454.9 93.5h0M457.4 93h0M453.4 92.5h0M463.4 94.9h0M458.2 96.7h0M458 94.8h0M460.8 93.4h0M459.9 92.3h0M451.1 95.2h0M458.7 92.7h0M454.9 93.2h0M461.2 94.5h0M459.8 93.4h0M459.3 93h0M451.6 93h0M451.5 94.1h0M455.4 94.4h0M461.6 95.4h0M457.3 93.4h0M457.7 94.2h0M458.7 92.4h0M425.1 85.2h0M428.7 85h0M432.2 85.2h0M427.9 84.7h0M431.3 84.2h0M431.8 85.1h0M434.4 86h0M433 84.9h0M430.9 85h0M427.7 85.7h0M426.8 84h0M428.5 84.3h0M442.1 84.3h0M440.4 83.6h0M443.5 85h0M441.1 84.8h0M443.3 83.2h0M442.6 84.2h0M451 73.7h0M452.2 73.7h0M452.4 73.9h0M452.9 73.2h0M452 73.6h0M456.7 73.4h0M454.1 73.9h0M454.9 72.9h0M454.1 73.3h0M453.8 73.8h0M460.4 77.5h0M459.1 76.9h0M458.2 76.5h0M458.6 77.1h0M447.2 65.9h0M445.4 66.7h0M449.8 66.2h0M444.5 65.9h0M448.4 66.1h0M448.1 66.3h0M445.6 66.2h0M448.7 66.2h0M448.2 53.4h0M450.4 53.5h0M447.9 54.5h0M449.7 55.5h0M450.8 54.8h0M448.6 55.3h0M448 55.6h0M449.2 52.4h0M456.6 55.4h0M457.6 54.4h0M455.8 54.7h0M457.4 53h0M458.6 55.1h0M400.8 101.1h0M459 81.7h0M453.4 88.4h0M448.8 81.2h0" fill="none" stroke="#808a88" stroke-width="2" stroke-linecap="round"/>
<line x1="444.51" y1="30" x2="444.51" y2="119.35" stroke="#F8766D" stroke-width="1" stroke-opacity="0.6"/>
<line x1="445.48" y1="30" x2="445.48" y2="119.35" stroke="#00BA38" stroke-width="1" stroke-opacity="0.45"/>
<line x1="452.49" y1="30" x2="452.49" y2="119.35" stroke="#619CFF" stroke-width="1" stroke-opacity="0.5"/>
<circle cx="443.7" cy="70.13" r="1.5" fill="#00BA38"/>
<circle cx="444.72" cy="69.85" r="1.5" fill="#00BA38"/>
<circle cx="446.25" cy="70.13" r="1.5" fill="#00BA38"/>
<circle cx="445.74" cy="77.88" r="1.5" fill="#00BA38"/>
<circle cx="447.27" cy="77.6" r="1.5" fill="#00BA38"/>
<circle cx="448.81" cy="77.88" r="1.5" fill="#00BA38"/>
<circle cx="450.85" cy="78.15" r="1.5" fill="#00BA38"/>
<circle cx="451.87" cy="78.98" r="1.5" fill="#00BA38"/>
<circle cx="447.78" cy="83.69" r="1.5" fill="#00BA38"/>
<circle cx="446.76" cy="90.6" r="1.5" fill="#00BA38"/>
<circle cx="448.29" cy="90.6" r="1.5" fill="#00BA38"/>
<circle cx="449.83" cy="90.6" r="1.5" fill="#00BA38"/>
<circle cx="448.81" cy="95.03" r="1.5" fill="#00BA38"/>
<circle cx="444.21" cy="33.61" r="1.5" fill="#F8766D"/>
<circle cx="450.85" cy="35.82" r="1.5" fill="#F8766D"/>
<circle cx="452.38" cy="114.12" r="1.5" fill="#619CFF"/>
<line x1="395" y1="30" x2="395" y2="119.35" stroke="#000" stroke-width="1.45"/>
<line x1="391.5" y1="32.5" x2="395" y2="32.5" stroke="#000" stroke-width="1.1"/>
<text x="388" y="35.02" text-anchor="end" fill="#404040" stroke="#404040">15</text>
<line x1="391.5" y1="60.17" x2="395" y2="60.17" stroke="#000" stroke-width="1.1"/>
<text x="388" y="62.69" text-anchor="end" fill="#404040" stroke="#404040">10</text>
<line x1="391.5" y1="87.83" x2="395" y2="87.83" stroke="#000" stroke-width="1.1"/>
<text x="388" y="90.35" text-anchor="end" fill="#404040" stroke="#404040">5</text>
<line x1="391.5" y1="115.5" x2="395" y2="115.5" stroke="#000" stroke-width="1.1"/>
<text x="388" y="118.02" text-anchor="end" fill="#404040" stroke="#404040">0</text>
<line x1="399.75" y1="119.35" x2="399.75" y2="122.85" stroke="#000" stroke-width="1.1"/>
<text x="399.75" y="131.52" text-anchor="middle" fill="#404040" stroke="#404040">31.0</text>
<line x1="425.3" y1="119.35" x2="425.3" y2="122.85" stroke="#000" stroke-width="1.1"/>
<text x="425.3" y="131.52" text-anchor="middle" fill="#404040" stroke="#404040">31.5</text>
<line x1="450.85" y1="119.35" x2="450.85" y2="122.85" stroke="#000" stroke-width="1.1"/>
<text x="450.85" y="131.52" text-anchor="middle" fill="#404040" stroke="#404040">32.0</text>
<line x1="476.4" y1="119.35" x2="476.4" y2="122.85" stroke="#000" stroke-width="1.1"/>
<text x="476.4" y="131.52" text-anchor="middle" fill="#404040" stroke="#404040">32.5</text>
<line x1="501.95" y1="119.35" x2="501.95" y2="122.85" stroke="#000" stroke-width="1.1"/>
<text x="501.95" y="131.52" text-anchor="middle" fill="#404040" stroke="#404040">33.0</text>
<text x="492" y="39.02" font-weight="bold" stroke="#000">mRNA</text>
<text x="369.5" y="75.5" text-anchor="middle" font-size="9" transform="rotate(-90 369.5 75.5)" dy="2.97">&#8722;&#8201;log<tspan font-size="6.48" dy="2.25">10</tspan><tspan dy="-2.25">(p)</tspan></text>
<line x1="395" y1="229.25" x2="509.5" y2="229.25" stroke="#EBEBEB" stroke-width="1"/>
<line x1="395" y1="218.17" x2="509.5" y2="218.17" stroke="#EBEBEB" stroke-width="1"/>
<line x1="395" y1="207.08" x2="509.5" y2="207.08" stroke="#EBEBEB" stroke-width="1"/>
<line x1="395" y1="196" x2="509.5" y2="196" stroke="#EBEBEB" stroke-width="1"/>
<line x1="395" y1="184.92" x2="509.5" y2="184.92" stroke="#EBEBEB" stroke-width="1"/>
<line x1="395" y1="173.83" x2="509.5" y2="173.83" stroke="#EBEBEB" stroke-width="1"/>
<line x1="395" y1="162.75" x2="509.5" y2="162.75" stroke="#EBEBEB" stroke-width="1"/>
<line x1="395" y1="151.67" x2="509.5" y2="151.67" stroke="#EBEBEB" stroke-width="1"/>
<path d="M399.75 229.85L399.75 229.25L399.75 221.86L413.55 219.64L415.08 215.95L443.19 215.95L450.85 219.64L471.29 218.91L503.99 220.38L503.99 229.25L503.99 229.85Z" fill="#808a88"/>
<path d="M459.5 216.4h0M496.4 221.9h0M440.2 223.8h0M482.2 220.6h0M490.8 223.5h0M446.8 216.7h0M421 215.8h0M490.9 215.5h0M421.3 217.7h0M438.7 217.8h0M407.8 216.9h0M457.6 216.3h0M469.4 223.8h0M436.9 222.4h0M430.9 211h0M480.7 224h0M478.9 224h0M401.5 216.9h0M409.3 219.8h0M484 223.9h0M485.6 222h0M487.6 218.1h0M449.4 219.6h0M444 223.4h0M461.6 218.7h0M407 220.9h0M425.5 218.6h0M463.5 222.1h0M436 223.9h0M474.4 218.1h0M503.2 221.5h0M440.6 219.1h0M464.3 218.8h0M408.1 221.2h0M495.9 222.1h0M463.5 213.8h0M412 216.5h0M434.6 216.4h0M431.9 220.4h0M446.3 218.6h0M458.9 223.6h0M475.1 221.1h0M408.1 221.8h0M497 218.1h0M495.2 222.2h0M412.5 223.9h0M421.3 208.1h0M403.9 219.1h0M403.4 224.1h0M499.4 217.8h0M491.3 222.3h0M414.2 209.9h0M479.3 222.7h0M472.9 219.5h0M404.3 216.2h0M416.6 213.8h0M431.9 216.9h0M482.6 223.5h0M428.7 218h0M433.4 213.4h0M488.6 212h0M465.7 219.2h0M468.8 222.1h0M473 223.2h0M496.5 217.6h0M477 221h0M462 220.4h0M468.7 223.7h0M452.6 221.4h0M491.3 223.7h0M490 208.9h0M499.6 222.4h0M431.1 222.4h0M482.5 218.9h0M423.4 212.4h0M425.8 210.6h0M406.2 217.2h0M443.4 209h0M453.6 223.5h0M480 218.8h0M402.5 223.4h0M414.3 218.3h0M457 219.4h0M495.5 220.7h0M456.2 218.4h0M499.5 216h0M455.2 221.5h0M410.8 223.3h0M420.5 217.3h0M462.6 223.5h0M454.1 216.7h0M491.9 217.4h0M486.4 221h0M451.6 223.8h0M500.8 221.4h0M401.2 217.3h0M477.3 219.3h0M422.7 223.5h0M460.6 222.8h0M455.9 218.3h0M438 209.7h0M491.2 213.6h0M403.5 220.9h0M477.5 222.1h0M475.9 223.5h0M451.7 215.8h0M440.1 223.4h0M457.4 223.1h0M453.3 216.7h0M500.6 218.8h0M472.2 221.2h0M467.4 219.4h0M441.9 219.6h0M448.7 224.1h0M476.4 219.8h0M435.3 211.8h0M476.7 221h0M456.6 223.6h0M404.2 217.8h0M429 211.8h0M441.8 211h0M490.3 223.7h0M415.5 217.6h0M409.7 224.1h0M443 223.3h0M496.3 216.9h0M402.5 219.7h0M475.4 223.8h0M402.5 223h0M479.3 223.6h0M415.5 212.1h0M447.9 220.1h0M410.8 223.6h0M440.1 216.2h0M442.9 209.6h0M475.6 218.7h0M468.4 221.6h0M461.4 222.6h0M494.4 221.5h0M463.6 217h0M474.9 223.5h0M404.3 222.5h0M454.9 222.1h0M427.9 211.3h0M413.3 223.1h0M448.5 223.6h0M485.9 219.8h0M493.8 222.4h0M453.7 220.7h0M487.1 221.5h0M466.1 213.6h0M445.9 223.7h0M473.1 222.6h0M467.3 213.5h0M493.7 223.4h0M408.7 216.7h0M436 220.6h0M453.3 222.6h0M460.7 222.6h0M480.6 217h0M486.4 216.5h0M425.3 219.5h0M443.9 223.5h0M453.6 223.3h0M489.2 222.2h0M424.2 221.8h0M474.5 220.7h0M431.8 215.2h0M459.7 215.7h0M412.4 220.4h0M426.2 222.2h0M497.8 217.2h0M424 210.1h0M419 222.2h0M427.2 206.9h0M492.4 218.6h0M429.3 208.2h0M467.2 223.2h0M495.6 221.3h0M490.2 224h0M497.1 222.5h0M490.7 218.1h0M401.8 221.6h0M447.5 215.9h0M472.6 223.7h0M441.4 205.8h0M475.3 221.2h0M426.9 207.3h0M414.5 218.5h0M448.5 219.6h0M487.6 218.6h0M460.7 216.5h0M478.1 222.3h0M410.7 216.8h0M475.3 223h0M456.6 221h0M432.8 222.9h0M476.2 222.6h0M407.2 221.7h0M433.8 208.7h0M420.9 223.8h0M499.7 220.6h0M428.5 209.7h0M449.6 221.6h0M451.1 219.7h0M399.9 216.3h0M447.3 219.3h0M484 219.4h0M401.9 219.1h0M435.7 216.2h0M481.1 223.7h0M414.2 221.6h0M503 220.6h0M458.2 217.4h0M497.9 214.8h0M424.5 205.7h0M503.4 221.7h0M400.1 218.9h0M420.9 223.7h0M452.5 216.7h0M408.9 220.5h0M487.7 220.2h0M496.8 215.9h0M409.9 222.8h0M475.4 223.3h0M451.9 219.5h0M408.8 221.9h0M490.8 211.8h0M451.2 223.8h0M414.9 223.6h0M469.9 217.6h0M442.6 214.1h0M503.6 222.8h0M455.4 219.9h0M423.9 221.9h0M481.6 220.7h0M497.3 221.8h0M438.5 212.1h0M481.8 219.9h0M502.3 219.4h0M448.3 221.9h0M498.5 219.9h0M471.6 224.1h0M455.4 220.4h0M490.7 221.9h0M462.5 217.9h0M480.4 219h0M451.4 223.1h0M422.1 214.8h0M400 219.6h0M484.9 223h0M467.6 222.8h0M500.2 218.8h0M497.4 222.3h0M403.6 219.1h0M491.7 217.2h0M497.2 223.2h0M440.7 205.7h0M461.5 214.4h0M439.8 222.3h0M472 218h0M480.9 218.3h0M502.9 217.5h0M472.4 222h0M450 223.8h0M442.7 219.2h0M436.5 210h0M407.1 221.5h0M436.7 219.6h0M471.2 219.6h0M491.9 218.3h0M480 217h0M497.5 219.3h0M425 221.4h0M465.4 218h0M420.7 205.6h0M460 224h0M428.1 213.8h0M428.7 214.4h0M458 215.1h0M401.5 224h0M429 209.8h0M438.6 218.2h0M488.2 211.8h0M484.9 217.2h0M456.3 221h0M440.9 223.2h0M443.9 224h0M449 221.4h0M401.3 220.2h0M438.8 214.6h0M491.5 215.8h0M438.5 215.1h0M500.3 215.6h0M428.2 220.7h0M416.7 206.6h0M454.2 222.8h0M490.4 211.8h0M429.5 215h0M438.5 209.5h0M497.8 215.7h0M426.6 223.7h0M421.1 215.6h0M478.6 220.7h0M490.7 220.7h0M453.4 220.8h0M486.3 220.1h0M447.9 221.6h0M499.7 221h0M402.9 217h0M502.5 219.1h0M436.9 213.4h0M412.2 223.4h0M435 221.2h0M452.3 218.7h0M461 220.7h0M487.8 221.6h0M416.9 209h0M451.3 223.8h0M470.8 223.8h0M484.1 221.4h0M459.5 217.2h0M467.3 214.1h0M436.1 221.6h0M479.4 216.5h0M464.6 223.2h0M457.7 222.7h0M447.1 216.1h0M424.7 206.2h0M467.6 218.6h0M417.7 218.2h0M492.8 219.2h0M494.8 217.8h0M495.2 222.1h0M428.4 222.8h0M412.8 218.9h0M440.7 221.9h0M430.6 220.9h0M439.4 215.4h0M500.7 220.4h0M501.4 218.3h0M458.4 219.9h0M415.1 215.7h0M432.1 224.1h0M439.6 223.6h0M450.6 220.9h0M413.6 216.8h0M446.8 221.9h0M465.1 223.5h0M445.4 219.1h0M415.2 222.8h0M415.7 208.9h0M465.8 214.9h0M462.4 219h0M446.5 221.9h0M452.2 223.3h0M498.9 220.6h0M423.3 209h0M494.5 223.1h0M491.7 217h0M455.9 221.9h0M401.4 219.4h0M456.1 216.1h0M468.5 215.5h0M471.8 218.5h0M498.6 221.2h0M503.3 220.6h0M425.9 209.4h0M479.1 222.7h0M449.5 223.2h0M479.5 218.6h0M471.7 222.6h0M413.6 220h0M446.7 222.5h0M494.9 219.1h0M443.1 212.4h0M420.6 211h0M413.2 220.1h0M467.2 221h0M500.4 215.7h0M465.6 222.7h0M424 210.1h0M438 218.8h0M453.7 222h0M412.1 222.2h0M439.2 219.6h0M404 218h0M492.8 223.3h0M476.5 218.9h0M479.7 217.8h0M439.2 219.5h0M485.8 218.6h0M446.5 220.7h0M463.1 223.3h0M413.6 219.5h0M461.8 217.1h0M407.6 218.2h0M405.8 222.4h0M401.6 223.2h0M468 217h0M491.3 215.7h0M492.8 222.9h0M455.4 223.1h0M469.1 222.4h0M495.3 217.4h0M481.2 216.6h0M428.9 207.8h0M460.1 216.1h0M473.3 220.2h0M404.3 217h0M466 222.7h0M451.8 221.7h0M498.2 222h0M402.5 216h0M489.4 222.3h0M468.7 223.5h0M488.2 220.1h0M423.6 214.3h0M487.2 219.6h0M409.1 219.4h0M438.2 208.1h0M494.3 217.4h0M464.1 216h0M435.5 213.8h0M501 223.5h0M480.6 220h0M405.3 218.1h0M475.4 223h0M503.1 219.5h0M480.9 220.8h0M416 220.6h0M482.9 217.2h0M432.5 209.6h0M412.8 222.2h0M480.9 218.9h0M417.5 206.3h0M468.9 216.5h0M502.3 218.1h0M461.8 221.8h0M440.2 209h0M502.6 217h0M464.5 221.7h0M450.9 218.8h0M416.5 214h0M405 222.2h0M454 216.2h0M487.5 220.5h0M421.3 216.9h0M427.2 205.8h0M401 221.3h0M428.3 215.6h0M461.9 220.4h0M401 216.3h0M432.5 217.8h0M446.8 222.3h0M428.3 222.9h0M496.1 217.9h0M441.1 208.3h0M404.5 219.2h0M480.7 217.1h0M472 223.5h0M470 220.8h0M442.6 211.6h0M469.5 220.4h0M419.5 208.1h0M454.4 222.4h0M445.1 217.2h0M429.1 217.4h0M475.1 219.4h0M454.8 218.9h0M434.6 206.3h0M502.8 218.3h0M471.1 223.8h0M436.4 220.6h0M496.6 219h0M469 218.8h0M503.9 221.2h0M424 206.1h0M427.4 213.7h0M457.6 215.2h0M479.6 216.1h0M481.6 219.6h0M414.1 222.3h0M437.4 219.3h0M418.6 213.6h0M493.1 220.2h0M479 221.8h0M439.5 213.7h0M415.7 212.1h0M471.9 221.9h0M496.9 217h0M474.5 221.1h0M458.8 218.8h0M503.4 220.2h0M426.8 209.2h0M462 220.4h0M463.3 220h0M440.5 215.9h0M488.8 209.2h0M497.3 218.5h0M401 217.5h0M401.9 217.2h0M441.6 217.2h0M439.2 211h0M485.8 216.8h0M430.7 205.6h0M438.9 215.6h0M460.9 223.2h0M456 222.2h0M420.5 223.9h0M462.2 223.8h0M474.2 219.5h0M475.2 222.2h0M487.5 217.1h0M470.2 222.5h0M492.4 220.7h0M430.4 220h0M436.5 217.1h0M488 222.6h0M451.4 223.6h0M415.6 217.4h0M440.9 220.3h0M487 224h0M405 223.8h0M401.2 222.1h0M426.5 211.4h0M435.1 223h0M451.8 216.4h0M454 223.3h0M483.7 223.7h0M426.8 211.5h0M474.6 220.7h0M442.4 223.4h0M452.4 221.2h0M415.9 211.9h0M424.9 220.9h0M432.7 215.5h0M454.1 218.1h0M442.4 218h0M443.3 224.1h0M493.9 222.3h0M479.5 218.4h0M487.4 218.9h0M490.8 221.7h0M471.4 223.2h0M503.9 217.8h0M443.7 215.8h0M425.3 214.3h0M466.2 223.8h0M407.2 217h0M402.9 221.3h0M474.6 222.8h0M430.6 210.8h0M441.5 223h0M456.4 222.1h0M427.4 208.6h0M419.7 210.3h0M427.5 206.8h0M466.1 222.9h0M492 222.8h0M415.7 205.7h0M414 207.2h0M422.5 206.9h0M413.6 206.3h0M422.3 205.7h0M417.5 205.9h0M415.9 205.6h0M421.2 206.7h0M414.9 206.6h0M418.8 206.4h0M422.4 207.1h0M416.7 206.8h0M418.6 206.8h0M420.1 205.9h0M416.5 207.1h0M416.1 206.3h0M416.4 206.6h0M415.4 207.3h0M420.1 206.3h0M414.4 206.3h0M415.1 205.2h0M415.2 206.4h0M417.8 206.1h0M422.3 207.1h0M414.7 206.8h0M432.7 201.8h0M432.3 200.3h0M442.1 194.2h0M431.9 197.1h0M431.9 195.6h0M440.3 200h0M431 195h0M425.9 200.9h0M429.3 197.9h0M432.8 202.5h0M428.9 195.2h0M435.6 205.1h0M442 205.4h0M431 203.2h0M435.8 204.1h0M426.9 205.5h0M434.9 205.3h0M436.1 195.8h0M437.4 196.9h0M428.1 189.9h0M435.2 205.9h0M438 205.4h0M431.4 198.6h0M440.3 196h0M439.9 201.4h0M441.2 200h0M440.3 202h0M431.1 204.7h0M440.5 194.7h0M437.3 200.2h0M434 193.4h0M437.1 205.4h0M431.1 191.6h0M438.2 189.7h0M432.3 204.5h0M429.3 212.3h0M429.3 206.4h0M436.6 213.4h0M432.5 209.4h0M423.6 211.2h0M437.1 215.5h0M424 213.1h0M433.2 212.1h0M414.2 214.4h0M442.9 210.5h0M424.2 215.8h0M415.7 217.2h0M431.7 211.8h0M431.5 213.6h0M440.9 209.1h0M417.8 215.1h0M426 207.7h0M419 216.2h0M420.6 212.4h0M438.9 214.6h0M433.3 212.5h0M432.7 211.8h0M420.4 212.6h0M422.3 212.2h0M416.7 210.5h0M433.6 205.7h0M416.2 211.4h0M431.1 209.1h0M414.2 217.1h0M429 210.8h0M429.6 209.5h0M416.2 215h0M424.9 213.7h0M443.1 207.4h0M436.7 209.9h0M438.4 208h0M422.5 213h0M437.1 205.7h0M434.8 206.1h0M435.3 209.6h0M416.4 206.1h0M430.2 212.6h0M421.2 212.8h0M416.2 209.2h0M434.5 205.6h0M431.9 207.5h0M438.8 209.3h0M416.7 209.3h0M421 213.8h0M424.2 210.8h0M437.1 215.6h0M434.6 206.6h0M424 215.2h0M432.8 215.5h0M419 205.6h0M425.3 207.7h0M429.7 217.4h0M430.3 213.8h0M418.6 215.8h0M432.4 214.3h0M419.6 208.6h0M424.6 215h0M416.3 214h0M428.7 213.3h0M436.6 211.9h0M414.1 217.4h0M423.3 207.9h0M437.9 213.5h0M442.6 211.2h0M433 209.1h0M439.8 208.9h0M418.6 215.6h0M424.5 213.1h0M443.4 212.5h0M421.4 214.9h0M421.2 210.4h0M414.7 214.4h0M438.8 216.3h0M439.8 212.9h0M436.2 211h0M414.7 206.2h0M420.9 216.1h0M425.4 206.6h0M427.1 208.1h0M423.6 213.8h0M415.9 214.8h0M442.3 212.4h0M439.6 216.6h0M433.7 210.8h0M420.5 208h0M431.4 213h0M426.3 214.2h0M428.5 207.2h0M433.3 211.1h0M417.4 216.8h0M420.4 210.8h0M425.7 207.9h0M420.4 206.1h0M415.8 209.5h0M428.2 207.4h0M416.4 208.1h0M436 211.1h0M436.5 209.6h0M431.1 213.6h0M439.1 214.5h0M430.2 217.4h0M419.5 214.9h0M441.2 215.7h0M437.5 215.2h0M431 210.4h0M436.3 207h0M416.2 213.7h0M431.6 207.6h0M434.6 206.1h0M427.7 208h0M424.9 205.7h0M418 206.8h0M419.6 210.7h0M440.7 208.6h0M441.5 208h0M437.2 188.6h0M440.3 189.1h0M428.2 189.6h0M439.8 188.6h0M428.9 189.2h0M433.7 189.1h0M436.8 188.8h0M435.7 189.7h0M430.5 189.6h0M439.2 189.2h0M440.4 189.2h0M435.4 188.9h0M435.3 189h0M440.4 188.9h0M437 188.9h0M434.6 198.9h0M433.8 199.1h0M432.7 198.9h0M437.1 198.1h0M434.9 198.7h0M434 199.5h0M437.7 198.2h0M432.7 198.7h0M431.5 199.7h0M434.8 199h0M460.5 198h0M455.9 196h0M458.8 207.6h0M453.9 208.1h0M457 207.2h0M458.6 208h0M460.9 194.7h0M461.4 205.1h0M460 203.7h0M456.4 207.5h0M461.2 202.3h0M454.2 205.1h0M454.3 201.1h0M461.9 192.3h0M457.9 207.3h0M461.3 195.7h0M453 197.9h0M459 200h0M453.1 194.1h0M458 200.9h0M454.5 205.1h0M458.8 205.7h0M459.7 196.6h0M463.3 197.2h0M457.7 196.7h0M456.2 193.1h0M456.4 205.1h0M462.6 198.4h0M453.7 204.4h0M455.4 209.6h0M452.3 193.6h0M458.9 207.6h0M457.6 195.1h0M453.9 205.3h0M457.7 202.6h0M462 183.5h0M454 186.6h0M446.2 177.4h0M446.5 187.8h0M457 176.5h0M448.2 184.4h0M451.9 181.9h0M449.5 179.9h0M458.4 187.8h0M450 181.9h0M458.5 187.1h0M461.5 184h0M443.5 183.4h0M443 183.9h0M442.2 184h0M449.8 180.1h0M460 181.2h0M458.4 185.3h0M445.1 178.1h0M457.9 182.7h0M457.4 187.2h0M459 184.7h0M450.8 186.8h0M459.3 177.8h0M443.1 180.7h0M446.2 182.5h0M453 176.6h0M451 186.5h0M450.6 181.2h0M441.8 176.9h0M449.2 162.4h0M446.5 162.3h0M446.4 161.9h0M449.5 162.3h0M449.8 162.1h0M449.9 161.2h0M448.4 161.8h0M444.7 162.4h0M446.4 162.7h0M447.6 161.4h0M478.9 203.7h0M480.4 203.7h0M474.4 203.6h0M476.1 203.9h0M477.9 203.2h0M479.2 204.5h0M477.5 204.8h0M480.3 204h0M480 204.3h0M476.4 203.9h0M442.2 166.4h0M427.9 184.9h0M456 181.2h0M458.5 179h0M461.1 184.2h0" fill="none" stroke="#808a88" stroke-width="2" stroke-linecap="round"/>
<line x1="444.51" y1="145" x2="444.51" y2="233.04" stroke="#F8766D" stroke-width="1" stroke-opacity="0.6"/>
<line x1="445.48" y1="145" x2="445.48" y2="233.04" stroke="#00BA38" stroke-width="1" stroke-opacity="0.45"/>
<line x1="452.49" y1="145" x2="452.49" y2="233.04" stroke="#619CFF" stroke-width="1" stroke-opacity="0.5"/>
<circle cx="443.7" cy="148.71" r="1.5" fill="#00BA38"/>
<circle cx="445.23" cy="148.34" r="1.5" fill="#00BA38"/>
<circle cx="447.27" cy="150.19" r="1.5" fill="#00BA38"/>
<circle cx="450.85" cy="149.45" r="1.5" fill="#00BA38"/>
<circle cx="445.74" cy="152.4" r="1.5" fill="#00BA38"/>
<circle cx="447.27" cy="153.14" r="1.5" fill="#00BA38"/>
<circle cx="448.81" cy="154.62" r="1.5" fill="#00BA38"/>
<circle cx="450.85" cy="154.62" r="1.5" fill="#00BA38"/>
<circle cx="452.38" cy="155.36" r="1.5" fill="#00BA38"/>
<circle cx="446.76" cy="156.1" r="1.5" fill="#00BA38"/>
<circle cx="449.32" cy="155.73" r="1.5" fill="#00BA38"/>
<circle cx="444.21" cy="158.32" r="1.5" fill="#F8766D"/>
<circle cx="451.87" cy="157.58" r="1.5" fill="#F8766D"/>
<circle cx="452.38" cy="228.51" r="1.5" fill="#619CFF"/>
<line x1="395" y1="145" x2="395" y2="233.04" stroke="#000" stroke-width="1.45"/>
<line x1="391.5" y1="162.75" x2="395" y2="162.75" stroke="#000" stroke-width="1.1"/>
<text x="388" y="165.27" text-anchor="end" fill="#404040" stroke="#404040">9</text>
<line x1="391.5" y1="184.92" x2="395" y2="184.92" stroke="#000" stroke-width="1.1"/>
<text x="388" y="187.44" text-anchor="end" fill="#404040" stroke="#404040">6</text>
<line x1="391.5" y1="207.08" x2="395" y2="207.08" stroke="#000" stroke-width="1.1"/>
<text x="388" y="209.6" text-anchor="end" fill="#404040" stroke="#404040">3</text>
<line x1="391.5" y1="229.25" x2="395" y2="229.25" stroke="#000" stroke-width="1.1"/>
<text x="388" y="231.77" text-anchor="end" fill="#404040" stroke="#404040">0</text>
<line x1="399.75" y1="233.04" x2="399.75" y2="236.54" stroke="#000" stroke-width="1.1"/>
<text x="399.75" y="245.52" text-anchor="middle" fill="#404040" stroke="#404040">31.0</text>
<line x1="425.3" y1="233.04" x2="425.3" y2="236.54" stroke="#000" stroke-width="1.1"/>
<text x="425.3" y="245.52" text-anchor="middle" fill="#404040" stroke="#404040">31.5</text>
<line x1="450.85" y1="233.04" x2="450.85" y2="236.54" stroke="#000" stroke-width="1.1"/>
<text x="450.85" y="245.52" text-anchor="middle" fill="#404040" stroke="#404040">32.0</text>
<line x1="476.4" y1="233.04" x2="476.4" y2="236.54" stroke="#000" stroke-width="1.1"/>
<text x="476.4" y="245.52" text-anchor="middle" fill="#404040" stroke="#404040">32.5</text>
<line x1="501.95" y1="233.04" x2="501.95" y2="236.54" stroke="#000" stroke-width="1.1"/>
<text x="501.95" y="245.52" text-anchor="middle" fill="#404040" stroke="#404040">33.0</text>
<text x="492" y="152.52" font-weight="bold" stroke="#000">Ribo</text>
<text x="369.5" y="190.5" text-anchor="middle" font-size="9" transform="rotate(-90 369.5 190.5)" dy="2.97">&#8722;&#8201;log<tspan font-size="6.48" dy="2.25">10</tspan><tspan dy="-2.25">(p)</tspan></text>
<line x1="395" y1="343.25" x2="509.5" y2="343.25" stroke="#EBEBEB" stroke-width="1"/>
<line x1="395" y1="332.84" x2="509.5" y2="332.84" stroke="#EBEBEB" stroke-width="1"/>
<line x1="395" y1="322.44" x2="509.5" y2="322.44" stroke="#EBEBEB" stroke-width="1"/>
<line x1="395" y1="312.03" x2="509.5" y2="312.03" stroke="#EBEBEB" stroke-width="1"/>
<line x1="395" y1="301.62" x2="509.5" y2="301.62" stroke="#EBEBEB" stroke-width="1"/>
<line x1="395" y1="291.22" x2="509.5" y2="291.22" stroke="#EBEBEB" stroke-width="1"/>
<line x1="395" y1="280.81" x2="509.5" y2="280.81" stroke="#EBEBEB" stroke-width="1"/>
<line x1="395" y1="270.41" x2="509.5" y2="270.41" stroke="#EBEBEB" stroke-width="1"/>
<line x1="395" y1="260" x2="509.5" y2="260" stroke="#EBEBEB" stroke-width="1"/>
<path d="M399.75 343.85L399.75 343.25L399.75 337.7L425.3 337.01L425.81 329.38L455.96 329.38L456.98 336.31L503.99 337.7L503.99 343.25L503.99 343.85Z" fill="#808a88"/>
<path d="M446.2 326.3h0M419 339.6h0M458.2 339.2h0M460.7 337.3h0M475.5 337.6h0M427.5 332.3h0M433.9 336.2h0M482.9 339.4h0M484.3 337.5h0M492.4 338.8h0M420.7 338.6h0M423.3 338.5h0M456.9 329h0M415 336.3h0M495.5 336.5h0M494.8 334.7h0M400.3 338.3h0M489.7 337.8h0M487.3 336.7h0M404.1 338.4h0M413 336.5h0M484.5 337.1h0M400.7 334.3h0M400.4 333.9h0M467.5 336.2h0M436.3 337.4h0M440.5 334.3h0M502.4 338.1h0M485.9 334.2h0M465.9 328.9h0M464.9 329.1h0M411.8 336.8h0M476.8 332.2h0M421 334.1h0M449.7 337.3h0M452 333.8h0M409.1 333.6h0M460 331.7h0M424.2 339.7h0M456.1 325.4h0M460.6 337.8h0M469.3 339.7h0M412 339.3h0M418.9 330.7h0M460.7 331.6h0M441.2 339.3h0M466.5 337h0M420.9 339.5h0M493.4 334.9h0M438.3 338h0M501.8 327.5h0M456.8 335.3h0M485.6 336.6h0M435.7 327.5h0M495.9 338.5h0M501.7 328.9h0M502.8 330.6h0M431.8 330.5h0M419.3 338.7h0M426.2 337.3h0M434 329.7h0M465.9 339.7h0M485.4 339.2h0M481.4 338.1h0M499.5 333.4h0M464 337.3h0M488.5 339.5h0M486 336.7h0M442.3 335.7h0M402.3 336.5h0M449.4 335.9h0M420.6 334.6h0M446.9 337.9h0M423.6 338.6h0M402.2 334.4h0M418.8 333.7h0M439 339.1h0M422.4 332.6h0M433.6 333.9h0M408.6 330.5h0M447.4 329.4h0M422.8 329.5h0M424 332.8h0M493.3 335.8h0M411.1 331.8h0M481.4 333.3h0M464.5 339.5h0M431.1 336.8h0M424.1 331.2h0M413.1 338.2h0M418 338.8h0M490.9 339.7h0M404.5 332.6h0M431 337.3h0M416.9 334.8h0M411.4 336.6h0M466.1 339.8h0M445.5 338.8h0M403.7 332.8h0M402.3 338.9h0M499.4 339.6h0M445.5 331.1h0M458.9 326.4h0M444.4 328.3h0M426.9 336.3h0M503.5 337.4h0M462.5 329.1h0M491.1 333.5h0M402.2 337.6h0M497.5 337.7h0M423.6 337.9h0M487.6 336.6h0M439.7 338.3h0M427.8 337.8h0M451 339.4h0M455.6 332.3h0M477.9 333.3h0M479.1 337.8h0M486.4 338.9h0M435.7 333.2h0M410.7 332.4h0M484.3 335.6h0M434.1 338.4h0M419.8 338.3h0M465.5 337.8h0M458.6 329.8h0M491.9 334.9h0M433.9 331.5h0M498.8 334.7h0M408.4 335.4h0M449.1 339.7h0M430 329.8h0M449 327.2h0M488.7 337.2h0M455.6 338.2h0M467.8 338.8h0M455.7 334.2h0M472.3 334.2h0M495.9 333.4h0M487.4 339.2h0M446.1 331.1h0M443.5 339.8h0M461.1 339h0M402.2 339h0M423.7 338.2h0M442 330.7h0M462.9 335.8h0M439.2 335h0M435.7 328.9h0M441.1 330.7h0M457.5 334.9h0M461.3 330h0M449.2 331.6h0M429.4 332.5h0M423.7 337.6h0M497 335.1h0M466.5 337.2h0M459.5 336.9h0M422.5 333.6h0M413.6 339.7h0M468.8 336.9h0M435.3 332.8h0M491.3 335.7h0M412.8 333.2h0M456.6 326.7h0M410.8 337.3h0M408.3 337.7h0M447.8 334.9h0M435.9 331.2h0M496.9 336.1h0M447.7 329.4h0M463.7 332.9h0M426.1 334.2h0M472 339.2h0M461.1 332.8h0M459.2 331.1h0M496.5 332.8h0M497.3 333.8h0M416.4 333.7h0M474.6 336.6h0M446.7 335.9h0M439 335.8h0M420.8 331.7h0M460.7 326.7h0M453.2 326.2h0M499.3 339.3h0M455 331.9h0M494.9 337.4h0M479.2 336.6h0M436.8 335.8h0M462 337.4h0M416.7 339.7h0M417.3 331.8h0M488.6 338.3h0M447 335.6h0M458.3 337.6h0M404 335.2h0M500.1 329.3h0M463.8 339h0M443.2 334.4h0M502.7 334.4h0M474.2 336.9h0M477.4 338.6h0M502 328.4h0M469.9 336.6h0M488.8 339.8h0M425 333.6h0M485.7 338.5h0M472.3 332h0M482.7 337.2h0M483 334.5h0M447.5 337.7h0M435.2 336.3h0M499.6 339.8h0M464.7 338.4h0M417.7 337.1h0M444.3 330.3h0M427.1 332.4h0M404.9 337.1h0M432.9 338.8h0M454.6 336.1h0M429.7 337.5h0M480.6 335.9h0M471 333.8h0M484.9 334.7h0M471 335.8h0M434.8 327.9h0M408.2 339.3h0M410.5 336.9h0M492.3 333.3h0M471 331.1h0M424.3 334.5h0M434.9 333.9h0M491.9 339.1h0M453.3 339.3h0M412.3 337.4h0M452.2 339.6h0M486.7 339.8h0M480.1 336.6h0M437.3 329.9h0M403 336.5h0M415.9 333.5h0M476.1 338.9h0M482.9 339.2h0M415.7 338.9h0M443 327.5h0M428.9 335.6h0M455.6 328h0M421.2 337.2h0M414.8 331.4h0M477.4 335h0M436.9 333.4h0M437.3 336.4h0M471.4 339.5h0M410.3 338.8h0M503.8 339.2h0M444 335.5h0M448.8 331.2h0M475.8 334.5h0M421.4 329.4h0M467.2 332.3h0M434.1 333.8h0M401.6 333.4h0M439.1 332.3h0M458 332.8h0M427.6 332.1h0M421.3 330.6h0M449.1 327.4h0M403.3 339.6h0M406.5 335.6h0M409.1 335.4h0M414.1 339.3h0M465 328.5h0M472.8 339.6h0M455.8 326.4h0M421 330.2h0M487.5 335h0M462.3 336.4h0M411.6 339h0M406.6 331h0M476.6 337.5h0M490 336.7h0M471.1 339.6h0M497.9 338.4h0M438 336.1h0M448.4 331.6h0M427.6 333.8h0M448.9 337.7h0M484.5 339.3h0M460.3 337.4h0M480.2 337.1h0M467.8 336h0M462.6 333.8h0M446.3 330.6h0M483.6 339.7h0M406.9 335.6h0M479 326.5h0M473.4 337.8h0M454.7 332.9h0M410.1 334.1h0M402.6 336.1h0M446.1 334.4h0M488 335.4h0M462.3 334.7h0M470.4 334.1h0M426.3 335.7h0M416.9 331h0M445.5 333.2h0M491.8 337.4h0M442.7 339.5h0M448.9 336h0M457.5 331h0M456 337.2h0M491 335.1h0M421.1 330.9h0M443.9 339.2h0M460 333.5h0M462.4 331.8h0M432.6 328.8h0M408 339.7h0M478 338.7h0M460.6 338.4h0M435.9 336.6h0M454.1 338.7h0M466.2 333.1h0M426.5 328h0M448.2 339.6h0M499.7 336h0M459.2 329.9h0M486 335.6h0M495.5 333h0M501.9 333.8h0M433.3 336.7h0M467.4 332.1h0M465.6 339.4h0M428.8 336h0M478.3 331.4h0M474.1 332.7h0M470.2 332.8h0M429.1 331.8h0M490.5 335.5h0M430 328.7h0M440 333.3h0M438.1 335h0M487.3 336.4h0M493 333.9h0M407.5 331h0M498.1 338.7h0M483.2 336h0M466.7 338.5h0M492.1 337.8h0M448.7 339.6h0M419.7 330.2h0M430.4 328.5h0M420.6 332.9h0M445.9 331.7h0M400.4 336.2h0M449.8 336.9h0M467 338.7h0M428.4 339.3h0M467.4 339.1h0M493.4 332.8h0M422.8 329.9h0M400.9 335.5h0M478.6 326.4h0M463.9 338.3h0M485.2 335.2h0M435.8 336.2h0M432.5 331.7h0M409.1 332.6h0M451.3 334.9h0M445.5 335.8h0M436.9 334.9h0M411.2 338h0M457 334.7h0M403.9 336.1h0M447.7 336.5h0M405.7 336.1h0M491.7 338.8h0M404.7 338.6h0M445.3 333.1h0M445.6 330h0M469 330.6h0M502.5 330.7h0M422.4 338.5h0M475.1 333.3h0M488.4 335h0M425.1 335.2h0M461.5 331.7h0M462.4 331.9h0M420.9 335.8h0M448.6 339.1h0M418.8 334.1h0M447.4 334.9h0M497.1 333.4h0M457.7 332.2h0M482.4 333.1h0M463.3 334.8h0M409 333h0M404.6 337.7h0M419.9 331.3h0M465.4 333.6h0M400.9 338.7h0M497.2 339.2h0M439.6 337.3h0M414.4 339.2h0M478.2 333.9h0M429.3 330.7h0M446.9 332h0M414.9 339.8h0M432 339.6h0M490 337.6h0M411.9 333.1h0M426.9 331h0M464.3 330h0M411.5 333h0M421.1 329.9h0M483.1 339.8h0M426.4 329.2h0M459.4 335.3h0M465 339.2h0M453 335h0M504 339.8h0M465.6 335.7h0M441 334h0M479.1 337.6h0M468.4 334.4h0M409.2 335.6h0M460.8 334.3h0M421 336.4h0M431.5 331.6h0M420.2 339.1h0M425.9 333.7h0M404.4 339.3h0M436.3 337.5h0M487 335.7h0M460.9 335h0M420.3 336.9h0M499.4 330.6h0M457.7 329.2h0M457.6 330.4h0M402.3 332.9h0M497 335h0M486.1 336.5h0M415 338.3h0M441.1 333.2h0M442.6 339.8h0M465.6 334.7h0M437 333.1h0M462.6 331.5h0M472.2 331.4h0M482.4 334h0M405 332.9h0M427.4 329.8h0M415.9 337.3h0M453.9 339.5h0M471.2 331.4h0M415.9 338.5h0M422.5 338h0M458.1 339.7h0M464.5 330.3h0M429.9 332.7h0M425.8 332.5h0M435.8 339h0M411.1 338.1h0M473.8 332.3h0M402.8 333.2h0M416.7 332h0M448.9 337.4h0M487.1 334.9h0M443.6 336h0M472.6 337.3h0M498.3 332.7h0M461.9 329.3h0M412.6 336.6h0M441 336h0M433.4 330h0M420.5 339.3h0M400.1 336.1h0M403.4 331.6h0M444.1 326.7h0M437.7 315.3h0M429.9 321.3h0M440.2 321.3h0M451.4 326.3h0M442.4 327.9h0M440.6 329.4h0M429.3 321h0M448 321h0M426.7 319.4h0M450.9 315.9h0M427.2 317.5h0M426.5 318.1h0M439.8 329.6h0M436.1 326.3h0M448.1 324.3h0M438.6 322.9h0M425.9 330.8h0M434.6 317.6h0M440.1 328.1h0M428.9 318.5h0M441 330.3h0M436.6 313.2h0M439.8 314.3h0M455.2 330.2h0M432.4 315h0M427.2 328h0M437.1 317.2h0M437.1 328.5h0M443.4 322.5h0M440.5 329.7h0M447.2 323.3h0M430.2 316.6h0M439.1 319.6h0M428.2 325.6h0M443 320.5h0M451.6 324.9h0M444.3 318.5h0M426.8 325.9h0M446.1 330.4h0M450.8 321.2h0M437.2 323.3h0M451 325.8h0M438.9 319.4h0M435.8 322.2h0M452.6 316.2h0M453.6 321.7h0M438.3 327.8h0M452.2 330.3h0M447.6 320.5h0M447.5 330.7h0M429.2 321.6h0M433.7 326.5h0M452.8 324.9h0M431.2 327.4h0M433.6 325.1h0M446.9 329.7h0M444.3 319.8h0M445.5 320.5h0M426.6 321.6h0M435.1 321.6h0M446.4 322.5h0M443.5 321.1h0M454.6 318.3h0M445 320.8h0M429 329.4h0M444.7 325h0M435.3 326.1h0M433.4 323.5h0M429.4 325.4h0M436.8 328.7h0M453.6 313.4h0M443.9 313.6h0M446.8 317.6h0M434.6 316h0M449.5 325.9h0M431.7 323h0M441 321.1h0M439.4 327h0M443.9 314.3h0M453.3 320.8h0M449.6 314.4h0M426.6 320.3h0M446.3 330.2h0M426.4 314.5h0M453.4 325.9h0M455.8 323.9h0M447.3 322.5h0M429.7 314.3h0M442.6 322.2h0M426.8 326.4h0M447.6 314.2h0M446.1 315.5h0M450.7 319.7h0M436.8 322.6h0M431.3 316.7h0M435.5 316h0M432.6 329.4h0M430.2 320h0M444.6 313.3h0M436.3 315.6h0M428.3 330h0M446.7 322.7h0M432.7 320.9h0M440.1 318.5h0M438.3 324.3h0M443 321.2h0M435.9 324.1h0M448.5 323.7h0M440.6 328.8h0M433.5 318.2h0M452.8 321.2h0M436 320.1h0M449.9 313.2h0M427.1 329.7h0M438.9 330.2h0M442 324.2h0M426.6 328.5h0M441.4 314.9h0M433.4 324h0M444.3 315.2h0M444.3 317.4h0M436.3 326.4h0M451.7 319.5h0M429.8 317.9h0M428.6 316.8h0M446.5 315.3h0M437.9 326.4h0M453.9 330.3h0M441 325.4h0M429 327.1h0M455.8 329h0M454 324.9h0M447.2 324.1h0M426.6 319.8h0M429.2 329.9h0M430.3 314.8h0M435.1 320.7h0M436.5 324.5h0M428.5 330.6h0M448.9 314.2h0M428.4 313.5h0M450.6 313.8h0M441 314.6h0M428 314.1h0M432.8 314.6h0M448.4 313.7h0M426.3 314h0M429.8 314.7h0M450.5 314h0M447.4 313.5h0M431.9 313.9h0M444.8 314.4h0M438.1 314.1h0M448.1 314h0M452.7 313.5h0M434.6 314.7h0M441.3 314.2h0M427.9 314.3h0M448.8 314.2h0M430.7 314.3h0M445.1 314.2h0M454 314.1h0M441.1 314.4h0M445 314.1h0M440.8 313.8h0M430.4 314.2h0M445 314.3h0M452.7 314.6h0M443 314.4h0M438 314.6h0M449 314h0M441.4 314.3h0M431.3 314.2h0M436.7 318.1h0M427.8 318.1h0M438 318.2h0M426.8 318.1h0M433.2 318h0M436.2 318.4h0M435 318.1h0M440.3 317.7h0M433.9 318.8h0M438.7 318.5h0M428.9 318.2h0M432 318.3h0M444.7 318.4h0M437.5 318.3h0M438.2 318.2h0M439.6 318.7h0M431.7 318.3h0M431.6 318.1h0M432.6 318.4h0M439.2 318.2h0M442 318.6h0M430.4 318.4h0M441.7 318.2h0M432.7 318.1h0M441.9 318.5h0M427.7 318.3h0M443.3 317.7h0M441.8 318.4h0M437.9 323h0M427.6 323.3h0M439.5 323.6h0M437 323.2h0M432.1 322.9h0M433.1 323.4h0M430.7 323.4h0M433.9 323.2h0M437.3 322.9h0M429.7 323.4h0M444.2 323.2h0M429.3 323h0M433.1 322.5h0M435.3 323.1h0M427.8 323.2h0M427.4 323.6h0M433.2 323.4h0M437 323.4h0M441.6 323.1h0M447.4 323.1h0M434.4 323.4h0M428.8 323.1h0M445.2 323.1h0M439.2 322.6h0M435.9 323.2h0M437 322.6h0M447.9 323.1h0M443.5 323.4h0M440.5 326.5h0M433.9 326.9h0M430.6 326.6h0M439 326.7h0M430 326.3h0M430 326.5h0M436.3 326.1h0M439.3 327h0M434.7 326.4h0M435.8 326.8h0M430.2 326.3h0M441.4 326.9h0M427.9 326.7h0M442.5 326.6h0M439.6 326.5h0M435.2 326.5h0M437.9 326.5h0M439.2 326.5h0M432.5 326.7h0M432.4 326.5h0M411.8 332.9h0M417.6 330h0M417.6 329.1h0M420.9 334.4h0M421.9 327.1h0M410.9 332.6h0M402.1 326.7h0M423.5 327.8h0M411.7 334h0M424.4 327.5h0M401 333.6h0M422.4 331.8h0M409.4 334h0M401.3 331.5h0M423.9 327.8h0M410.2 331.3h0M421.4 332.9h0M408.7 327.5h0M414.7 328h0M406.6 330.3h0M410.9 330.7h0M406.3 327.2h0M402.9 329.6h0M408.4 333.7h0M415.9 326.2h0M416 330.4h0M408.1 332.4h0M404.1 327.2h0M416.1 332.7h0M416.2 329.2h0M456.1 326.4h0M468.1 335.5h0M460.6 325.2h0M462.7 328.6h0M465.5 330.2h0M456.2 325.3h0M463.8 328.7h0M466.5 332.6h0M462.4 336.3h0M461.4 335.6h0M464.6 332.3h0M460.4 329.2h0M467.3 336.3h0M456.3 328.8h0M460.1 328.9h0M466.1 335.9h0M473.4 335.3h0M467.7 331.9h0M469.3 330h0M468.4 331.6h0M458.5 334.7h0M467.6 333.9h0M464.8 330.5h0M471.2 334.6h0M472.8 331.4h0M473.5 331.7h0M457 324.2h0M458.4 329.1h0M463.2 333.6h0M472.7 332.1h0M473.7 331.5h0M458.2 329.3h0M468.6 331.7h0M458.7 325h0M459.5 325.7h0M462.4 331.3h0M459.2 332.1h0M460.5 325.3h0M462.9 335.7h0M472.1 331h0M466.2 330.9h0M456.2 335.4h0M459.6 326.2h0M468.6 331.2h0M458.8 324.1h0M460.4 326.7h0M463 336.2h0M464.2 330.1h0M466.5 331.6h0M456.7 324.4h0M472.3 329.5h0M470 329.7h0M464.2 333.3h0M463.3 335.4h0M470.6 333.9h0M460.6 330h0M467.9 329.2h0M472.1 330.7h0M466.1 326.4h0M467.6 326.3h0M464.8 335.4h0M464.8 326h0M468.8 331.6h0M466 335.5h0M473.2 334.6h0M463.1 333.1h0M456.2 335.8h0M465.4 331.7h0M456.2 334.6h0M469.4 335.9h0M468.4 332.5h0M465.7 328.6h0M461.3 327.5h0M460.1 330.2h0M465.6 332h0M428.9 281.2h0M435.5 281.2h0M442.2 281.2h0M430.9 291.9h0M436.5 291.9h0M443.7 291.6h0M448.3 291.9h0M441.1 299.5h0M421.7 305.1h0M426.8 305.1h0M429.4 304.4h0M434 304.4h0M434 306.5h0M426.8 306.5h0M457 278h0M459.5 296.1h0M461.1 296.1h0M465.7 294.7h0M466.2 297.5h0M453.9 305.8h0M459 305.8h0M466.2 305.1h0M479 305.1h0M478.4 311.3h0M481.5 319h0M482.5 318.3h0M499.9 317.6h0M410 325.2h0M407.4 325.9h0M415.1 326.6h0" fill="none" stroke="#808a88" stroke-width="2" stroke-linecap="round"/>
<line x1="444.51" y1="259" x2="444.51" y2="347.04" stroke="#F8766D" stroke-width="1" stroke-opacity="0.6"/>
<line x1="445.48" y1="259" x2="445.48" y2="347.04" stroke="#00BA38" stroke-width="1" stroke-opacity="0.45"/>
<line x1="452.49" y1="259" x2="452.49" y2="347.04" stroke="#619CFF" stroke-width="1" stroke-opacity="0.5"/>
<circle cx="445.74" cy="318.27" r="1.5" fill="#00BA38"/>
<circle cx="447.27" cy="317.93" r="1.5" fill="#00BA38"/>
<circle cx="448.81" cy="317.58" r="1.5" fill="#00BA38"/>
<circle cx="450.34" cy="316.89" r="1.5" fill="#00BA38"/>
<circle cx="451.87" cy="314.81" r="1.5" fill="#00BA38"/>
<circle cx="444.72" cy="322.44" r="1.5" fill="#00BA38"/>
<circle cx="446.25" cy="322.44" r="1.5" fill="#00BA38"/>
<circle cx="447.78" cy="322.09" r="1.5" fill="#00BA38"/>
<circle cx="449.32" cy="327.99" r="1.5" fill="#00BA38"/>
<circle cx="444.21" cy="335.97" r="1.5" fill="#F8766D"/>
<circle cx="450.85" cy="336.52" r="1.5" fill="#F8766D"/>
<circle cx="451.36" cy="337.7" r="1.5" fill="#F8766D"/>
<circle cx="452.38" cy="262.77" r="1.5" fill="#619CFF"/>
<circle cx="452.38" cy="269.92" r="1.5" fill="#619CFF"/>
<line x1="395" y1="259" x2="395" y2="347.04" stroke="#000" stroke-width="1.45"/>
<line x1="391.5" y1="260" x2="395" y2="260" stroke="#000" stroke-width="1.1"/>
<text x="388" y="262.52" text-anchor="end" fill="#404040" stroke="#404040">12</text>
<line x1="391.5" y1="280.81" x2="395" y2="280.81" stroke="#000" stroke-width="1.1"/>
<text x="388" y="283.33" text-anchor="end" fill="#404040" stroke="#404040">9</text>
<line x1="391.5" y1="301.62" x2="395" y2="301.62" stroke="#000" stroke-width="1.1"/>
<text x="388" y="304.14" text-anchor="end" fill="#404040" stroke="#404040">6</text>
<line x1="391.5" y1="322.44" x2="395" y2="322.44" stroke="#000" stroke-width="1.1"/>
<text x="388" y="324.96" text-anchor="end" fill="#404040" stroke="#404040">3</text>
<line x1="391.5" y1="343.25" x2="395" y2="343.25" stroke="#000" stroke-width="1.1"/>
<text x="388" y="345.77" text-anchor="end" fill="#404040" stroke="#404040">0</text>
<line x1="399.75" y1="347.04" x2="399.75" y2="350.54" stroke="#000" stroke-width="1.1"/>
<text x="399.75" y="360.02" text-anchor="middle" fill="#404040" stroke="#404040">31.0</text>
<line x1="425.3" y1="347.04" x2="425.3" y2="350.54" stroke="#000" stroke-width="1.1"/>
<text x="425.3" y="360.02" text-anchor="middle" fill="#404040" stroke="#404040">31.5</text>
<line x1="450.85" y1="347.04" x2="450.85" y2="350.54" stroke="#000" stroke-width="1.1"/>
<text x="450.85" y="360.02" text-anchor="middle" fill="#404040" stroke="#404040">32.0</text>
<line x1="476.4" y1="347.04" x2="476.4" y2="350.54" stroke="#000" stroke-width="1.1"/>
<text x="476.4" y="360.02" text-anchor="middle" fill="#404040" stroke="#404040">32.5</text>
<line x1="501.95" y1="347.04" x2="501.95" y2="350.54" stroke="#000" stroke-width="1.1"/>
<text x="501.95" y="360.02" text-anchor="middle" fill="#404040" stroke="#404040">33.0</text>
<text x="491" y="266.77" font-weight="bold" stroke="#000">Protein</text>
<text x="369.5" y="303.5" text-anchor="middle" font-size="9" transform="rotate(-90 369.5 303.5)" dy="2.97">&#8722;&#8201;log<tspan font-size="6.48" dy="2.25">10</tspan><tspan dy="-2.25">(p)</tspan></text>
<text x="452.4" y="371.31" text-anchor="middle" stroke="#000" font-size="8.5">Position (Mb)</text>
<text x="518.2" y="153.96" stroke="#000" font-size="7.1">Top SNPs</text>
<line x1="519.6" y1="161.8" x2="519.6" y2="168.5" stroke="#F8766D" stroke-width="0.5"/>
<text x="529.6" y="168.56" stroke="#000" font-size="7.1">eQTL</text>
<line x1="519.6" y1="168.5" x2="519.6" y2="175.3" stroke="#00BA38" stroke-width="0.5"/>
<text x="529.6" y="175.16" stroke="#000" font-size="7.1">rQTL</text>
<line x1="519.6" y1="175.3" x2="519.6" y2="182" stroke="#619CFF" stroke-width="0.5"/>
<text x="529.6" y="181.96" stroke="#000" font-size="7.1">pQTL</text>
<text x="518.2" y="203.96" stroke="#000" font-size="7.1">Credible</text>
<text x="518.2" y="211.46" stroke="#000" font-size="7.1">sets</text>
<circle cx="519.6" cy="223.2" r="1.3" fill="#F8766D"/>
<text x="529.6" y="225.76" stroke="#000" font-size="7.1">eQTL</text>
<circle cx="519.6" cy="229.9" r="1.3" fill="#00BA38"/>
<text x="529.6" y="232.46" stroke="#000" font-size="7.1">rQTL</text>
<circle cx="519.6" cy="236.7" r="1.3" fill="#619CFF"/>
<text x="529.6" y="239.26" stroke="#000" font-size="7.1">pQTL</text>
<text x="574" y="20.36" stroke="#000" font-size="7.1">eQTL top SNP: 22_31896825_A_G</text>
<text x="588.4" y="35.96" stroke="#000" font-size="7.1">Genotype</text>
<rect x="627.2" y="30.8" width="4.6" height="5" fill="#34505B"/>
<text x="631.9" y="35.96" stroke="#000" font-size="7.1">0</text>
<rect x="644.1" y="30.8" width="4.6" height="5" fill="#E2913F"/>
<text x="648.8" y="35.96" stroke="#000" font-size="7.1">1</text>
<rect x="661.4" y="30.8" width="4.6" height="5" fill="#14A1D6"/>
<text x="666.1" y="35.96" stroke="#000" font-size="7.1">2</text>
<line x1="591" y1="57.2" x2="591" y2="65.2" stroke="#34505B" stroke-width="0.9"/>
<line x1="591" y1="74.4" x2="591" y2="77.9" stroke="#34505B" stroke-width="0.9"/>
<path d="M589.2 71.6h0M590.7 61.2h0M589.2 69.7h0M590.5 76.1h0M588.8 72h0M590.9 74.2h0M590.7 77.2h0M591 58.6h0M592.2 74.8h0M590.3 70.8h0M589.1 69.2h0M588.9 71.8h0M589.2 72h0M592 58.5h0M590.8 73h0M590 67.3h0M592 60.9h0M592.6 62.7h0M590.9 57.2h0M592.9 66.6h0M589.8 61.5h0M592.1 70.5h0M589.9 63.5h0M592.2 60h0M589.6 62.3h0M591.4 62.5h0M591.5 57.2h0M591.8 77h0M588.9 72.4h0M591.3 65h0M592.6 63.3h0M592.7 63.9h0M593 72.1h0M591.9 61.5h0M590.8 72.7h0M589.8 65.1h0M591 57.2h0M590.9 77.9h0" fill="none" stroke="#34505B" stroke-width="1.8" stroke-linecap="round"/>
<rect x="587.65" y="65.2" width="6.7" height="9.2" fill="#fff" stroke="#34505B" stroke-width="1.3" fill-opacity="0.65"/>
<line x1="587.65" y1="69.5" x2="594.35" y2="69.5" stroke="#34505B" stroke-width="1.3"/>
<line x1="599" y1="60.4" x2="599" y2="71.8" stroke="#E2913F" stroke-width="0.9"/>
<line x1="599" y1="79.4" x2="599" y2="89.4" stroke="#E2913F" stroke-width="0.9"/>
<path d="M597.1 74.8h0M598.6 62.4h0M600.3 72.4h0M598.1 71.8h0M598.8 62.4h0M599.7 71.7h0M599.8 83.3h0M599.3 71.4h0M599.6 60.7h0M599.3 68h0M598.4 77.6h0M600.2 74.7h0M599.3 83.2h0M599.2 85.4h0M599.8 80.3h0M600.4 73.2h0M600.1 69.1h0M600.8 73.1h0M599.1 69.1h0M599 86.9h0M601 74.1h0M598.7 66.7h0M598.9 87.9h0M600.6 74.1h0M597.7 77.3h0M599.7 72.4h0M600.2 82.3h0M601 76h0M598.2 67.4h0M599.4 89.3h0M599.4 88h0M599.2 61.9h0M598.4 86.8h0M599.5 64.7h0M597.2 69.8h0M599.2 78.9h0M601.1 77.4h0M598 66.3h0M598.8 88.4h0M598.7 87h0M599.1 69.2h0M599.1 62.3h0M598.7 72.7h0M599.4 63.9h0M598.3 77.9h0M599.7 73.2h0M596.9 72.5h0M597.7 78h0M599.4 76.5h0M597.3 69.3h0M597.8 82.3h0M600.2 79.7h0M597.1 78.8h0M599 77.8h0M598.6 81.7h0M598.6 60.5h0M598.9 63h0M598.7 63.5h0M599.1 69.4h0M601 72h0M598.3 65h0M600.2 70.6h0M598.3 76.1h0M598.7 88.6h0M598.8 88.7h0M596.7 77.5h0M598.1 77.1h0M599.5 76.8h0M599.7 72.2h0M598.9 82.9h0M599.3 66.4h0M599 78.3h0M598.7 86.8h0M600.2 69.9h0M599.4 67.1h0M597.4 73h0M598.3 61h0M598.5 62.5h0M598.3 68.7h0M600.9 75.2h0M600 84.5h0M596.7 74.8h0M599.6 70.3h0M598.8 69.1h0M598.5 81h0M599.6 86.3h0M601 71.8h0M599 61.4h0M599.3 72.3h0M597.7 80.6h0M600.6 77.7h0M600.2 70.2h0M599.1 74.8h0M600.3 75.3h0M597.7 71.8h0M597 76h0M599.1 77.2h0M598.9 72.3h0M601 74.5h0M600.1 76.8h0M600.5 69h0M599.6 75.7h0M599.4 62.5h0M599.8 78.2h0M599.5 60.3h0M599.1 89.4h0" fill="none" stroke="#E2913F" stroke-width="1.8" stroke-linecap="round"/>
<rect x="595.65" y="71.8" width="6.7" height="7.6" fill="#fff" stroke="#E2913F" stroke-width="1.3" fill-opacity="0.65"/>
<line x1="595.65" y1="75.6" x2="602.35" y2="75.6" stroke="#E2913F" stroke-width="1.3"/>
<line x1="607.4" y1="65.6" x2="607.4" y2="77.1" stroke="#14A1D6" stroke-width="0.9"/>
<line x1="607.4" y1="87.1" x2="607.4" y2="98.3" stroke="#14A1D6" stroke-width="0.9"/>
<path d="M607.1 87h0M607.6 67.5h0M607.9 77.9h0M605.5 76.9h0M608.4 69h0M606.7 92.3h0M608.1 97.5h0M606.5 74.8h0M606.5 95h0M609.4 90.2h0M606.5 84.8h0M606.4 73.5h0M606.9 97.8h0M607.3 93.5h0M605.8 73.1h0M605.3 86.2h0M608.4 89.2h0M608.8 88.4h0M609.2 75.1h0M607.3 92.1h0M605.3 89h0M607 88.7h0M606 82.6h0M607.1 68.9h0M606.5 73.4h0M607.1 73.7h0M608 93.5h0M606.4 78.6h0M606 75h0M609.2 74h0M607.6 70.8h0M609.4 75.4h0M605.4 77.5h0M609.8 82.8h0M608.8 73.5h0M605.7 82.8h0M609.3 80.7h0M608 82h0M607.4 71.4h0M607.8 94.4h0M609.1 85.5h0M607.2 97.7h0M607.9 81.6h0M607 80.9h0M605.5 78.4h0M606.5 71.8h0M605.3 81.9h0M608.1 93.3h0M606.6 88.1h0M607 76.3h0M606 91.9h0M606.9 97.5h0M608.2 97h0M608.5 72.3h0M607.9 79.1h0M609.1 81.5h0M605.9 84.1h0M607.4 89h0M608.3 70.5h0M607.2 67.9h0M607 67.5h0M608 67.6h0M607.1 81.9h0M607.2 74.3h0M608 97.1h0M606.3 92.3h0M608.1 95h0M604.7 84.5h0M606 72.3h0M605.6 73.8h0M608.7 72.7h0M607.9 75.1h0M606.5 84.9h0M606.9 70.9h0M608.3 74.6h0M608.1 70.1h0M607.8 78.3h0M605.9 82.7h0M607.1 84h0M606 75.8h0M608 71.8h0M608 75.3h0M606.5 86.3h0M608.6 81.7h0M606.6 70.4h0M605.6 86.4h0M607.4 77.5h0M606 86.3h0M609 74.3h0M608.2 78.9h0M608.9 85h0M604.7 84.1h0M607.4 71h0M608.8 73.4h0M609.4 86.1h0M608 85h0M604.7 81.6h0M604.7 82.7h0M607 80.1h0M606.9 77.6h0M605.3 89.1h0M607.2 85.2h0M607.5 98.2h0M608.7 74.1h0M607.4 65.6h0M607 98.3h0" fill="none" stroke="#14A1D6" stroke-width="1.8" stroke-linecap="round"/>
<rect x="603.65" y="77.1" width="7.5" height="10" fill="#fff" stroke="#14A1D6" stroke-width="1.3" fill-opacity="0.65"/>
<line x1="603.65" y1="82.5" x2="611.15" y2="82.5" stroke="#14A1D6" stroke-width="1.3"/>
<line x1="621" y1="63.8" x2="621" y2="69.8" stroke="#34505B" stroke-width="0.9"/>
<line x1="621" y1="73.8" x2="621" y2="75.6" stroke="#34505B" stroke-width="0.9"/>
<path d="M620.2 67.2h0M621.4 72.8h0M620.8 73.6h0M622.2 73.1h0M620.2 68h0M622.9 73.3h0M620.7 63.9h0M621.6 72.4h0M622.8 72.9h0M621 69.8h0M619 70.7h0M622.2 69.4h0M621.5 65.4h0M620.9 70.2h0M620.5 66.7h0M620.9 75h0M619.1 72.8h0M621.1 74.1h0M621.6 65.5h0M621.7 65h0M620.7 71.7h0M620 67.2h0M619.1 71.6h0M619.6 72.4h0M620.2 71.8h0M622.5 71.5h0M621.1 66.1h0M619.6 72.7h0M619.4 72.2h0M621.5 71.6h0M619.9 70.7h0M622.2 71.2h0M623 70.9h0M620.8 74h0M619.6 72.6h0M621 72.2h0M620.6 63.3h0M621.1 75.6h0M620 57.7h0M621.5 59.5h0" fill="none" stroke="#34505B" stroke-width="1.8" stroke-linecap="round"/>
<rect x="617.85" y="69.8" width="6.3" height="4" fill="#fff" stroke="#34505B" stroke-width="1.3" fill-opacity="0.65"/>
<line x1="617.85" y1="71.8" x2="624.15" y2="71.8" stroke="#34505B" stroke-width="1.3"/>
<line x1="629.05" y1="60.3" x2="629.05" y2="70.7" stroke="#E2913F" stroke-width="0.9"/>
<line x1="629.05" y1="80.2" x2="629.05" y2="87.9" stroke="#E2913F" stroke-width="0.9"/>
<path d="M629.2 62.4h0M630.1 84.6h0M629.4 63.3h0M627.6 70.4h0M629.1 84.1h0M628.4 67.7h0M630.9 81.3h0M631.1 75.9h0M627.7 74.4h0M628.3 87.4h0M631.6 74.1h0M628.4 60.8h0M629.3 74.3h0M630.7 77.5h0M627.7 80.9h0M628.4 63h0M629.1 64h0M630.1 78.8h0M631.5 71.6h0M629.3 68.6h0M629.2 77.3h0M628.8 63.5h0M629.5 71.3h0M628.3 73.7h0M627.8 73.3h0M628.6 72.5h0M627.8 73.6h0M629 68.3h0M629.6 75h0M628.1 79.5h0M629.3 83.2h0M630.9 72.4h0M629.8 64.2h0M630 65.5h0M629.7 73.6h0M628.3 78.4h0M628.4 84.3h0M628.3 65h0M626.6 76.2h0M631.1 70.6h0M627.9 66.6h0M627.9 77.2h0M629 67.4h0M629.4 73h0M627.1 78.1h0M630.1 77h0M628.5 62.1h0M629.2 75.2h0M629.3 68.8h0M628.7 87.1h0M627.1 72.1h0M630.1 74.5h0M628.6 77.7h0M630.5 72.2h0M630 79.4h0M630.8 83.9h0M630.7 68.8h0M629.4 87h0M628.1 77.9h0M626.9 81.2h0M629.9 64.9h0M629.1 73.9h0M631.7 76.4h0M627.3 73.5h0M628.5 79.6h0M628.4 84.3h0M627.4 73.3h0M628.2 86.5h0M628.8 76.4h0M631.7 75.4h0M629.9 76.5h0M627.5 75.5h0M627.7 65h0M627.1 81.2h0M629.8 68.9h0M629.3 81h0M627 70.3h0M629.7 72.5h0M630.8 74.9h0M627.9 69.4h0M628.7 73.2h0M630.4 78.4h0M628.8 82.2h0M628.1 87.6h0M629.9 86.8h0M629.6 82.8h0M629.6 66.5h0M630.7 74.5h0M629.6 67.1h0M627.8 77.9h0M628.9 65.8h0M631 81.1h0M628.1 73.8h0M627.6 80h0M629.7 86.4h0M629.5 82.6h0M631.1 75.4h0M630.4 71.7h0M626.7 71.6h0M630.3 83.6h0M628.4 68.1h0M628.2 71.5h0M627.3 78.9h0M627.9 87.2h0M628.8 60.3h0M629.1 87.9h0" fill="none" stroke="#E2913F" stroke-width="1.8" stroke-linecap="round"/>
<rect x="625.45" y="70.7" width="7.2" height="9.5" fill="#fff" stroke="#E2913F" stroke-width="1.3" fill-opacity="0.65"/>
<line x1="625.45" y1="75.6" x2="632.65" y2="75.6" stroke="#E2913F" stroke-width="1.3"/>
<line x1="637.65" y1="62" x2="637.65" y2="76.4" stroke="#14A1D6" stroke-width="0.9"/>
<line x1="637.65" y1="86" x2="637.65" y2="95.6" stroke="#14A1D6" stroke-width="0.9"/>
<path d="M638.8 72.8h0M638.7 77.4h0M638.5 63h0M636.5 89.9h0M639.9 84.5h0M639.8 84.2h0M638.5 68h0M637.3 62.5h0M638.5 79.3h0M636.6 88.9h0M638.1 73.2h0M637 69.1h0M636.5 90.7h0M636.4 89.8h0M638.6 89.4h0M636.6 86.8h0M635.1 81.7h0M637.2 87.2h0M637.8 91.7h0M637.9 89.9h0M639.2 83.6h0M636.8 72.1h0M637.5 75.4h0M638.3 82.8h0M638.7 87.8h0M637 64.3h0M637.3 69.2h0M637.4 68.5h0M637 75.8h0M639.6 88.8h0M636.8 77.6h0M638.6 91.6h0M637.6 62h0M637.2 80.6h0M637.6 59.8h0M639.7 76.7h0M638.1 86.4h0M635.5 85.1h0M639 85.3h0M638 63.6h0M638 94.2h0M640.2 81.6h0M637.2 82.4h0M635.9 79.3h0M638.7 68.5h0M637 87.6h0M638.1 79.1h0M637.2 77.9h0M638.5 82.4h0M636.6 91.4h0M637.2 72.7h0M636.8 72.4h0M637.5 86h0M637.3 63.3h0M638.3 92.9h0M638.4 94h0M638.3 83.8h0M637.2 73.6h0M636.9 69.5h0M637 90.9h0M636.4 79.8h0M637.9 64.8h0M637.8 63.2h0M638.1 73.8h0M638.6 72.1h0M635.7 77.9h0M638.6 82.8h0M636.6 89h0M638.8 77.1h0M636.6 75.3h0M636.8 83.5h0M634.9 80.7h0M637 92.3h0M638.5 83h0M639 80.8h0M637.9 62h0M637.4 68.8h0M637 93.1h0M637.6 81h0M637.4 66.9h0M638.4 68.1h0M638.3 62.3h0M639.9 86.8h0M637.9 69.3h0M638.4 65.7h0M636 86.6h0M636.5 77.7h0M637.3 60.1h0M636.9 65h0M637.1 64.8h0M635.9 73.7h0M637.9 60h0M637.2 67.8h0M636.6 85.8h0M639 84.5h0M638 85.7h0M637.4 62.9h0M636.9 84.7h0M636.4 90.9h0M638.7 76.9h0M635.1 77.3h0M638.6 91.5h0M637.9 87.4h0M636.2 83h0M637.5 59.5h0M637.7 95.6h0" fill="none" stroke="#14A1D6" stroke-width="1.8" stroke-linecap="round"/>
<rect x="633.95" y="76.4" width="7.4" height="9.6" fill="#fff" stroke="#14A1D6" stroke-width="1.3" fill-opacity="0.65"/>
<line x1="633.95" y1="81" x2="641.35" y2="81" stroke="#14A1D6" stroke-width="1.3"/>
<line x1="651.5" y1="68" x2="651.5" y2="71" stroke="#34505B" stroke-width="0.9"/>
<line x1="651.5" y1="79.4" x2="651.5" y2="87.1" stroke="#34505B" stroke-width="0.9"/>
<path d="M651.2 84h0M651.9 73.9h0M652.3 81.4h0M653.1 72.8h0M651 84h0M651.6 68.5h0M651.2 84.6h0M651.5 84.9h0M651.8 71.7h0M650.1 74.3h0M651.9 84.1h0M651.1 71.4h0M650.5 83.1h0M651.2 77.7h0M653.2 74.1h0M652.6 80.7h0M651 78.7h0M652.5 71.3h0M650.7 73.5h0M651.5 86.2h0M649.7 75.3h0M652.3 80.4h0M650.7 70.4h0M651.7 71.4h0M651.8 74h0M652.6 77.2h0M652.1 70.6h0M650.7 79.4h0M650.6 84.8h0M651 71h0M652 84.2h0M651.2 84.1h0M653.3 75.1h0M649.8 79.5h0M649.3 74.1h0M652.4 82.3h0M651.1 68h0M651.9 87.1h0" fill="none" stroke="#34505B" stroke-width="1.8" stroke-linecap="round"/>
<rect x="648.15" y="71" width="6.7" height="8.4" fill="#fff" stroke="#34505B" stroke-width="1.3" fill-opacity="0.65"/>
<line x1="648.15" y1="74.8" x2="654.85" y2="74.8" stroke="#34505B" stroke-width="1.3"/>
<line x1="659.35" y1="67.2" x2="659.35" y2="74.1" stroke="#E2913F" stroke-width="0.9"/>
<line x1="659.35" y1="81.7" x2="659.35" y2="93.1" stroke="#E2913F" stroke-width="0.9"/>
<path d="M658.8 79.5h0M660 82h0M659.7 93.3h0M660.2 79.8h0M657.9 75.1h0M659.4 82.6h0M660.2 87.1h0M660.5 71.1h0M659.2 67.4h0M661.3 75.2h0M659.7 84.6h0M658.8 78.2h0M659.9 77.2h0M661.1 72.2h0M660.5 75h0M661 78.4h0M659.9 74.2h0M659.4 68.3h0M659.1 71.6h0M658.2 81h0M659.5 87.2h0M657.7 78h0M659.9 85.8h0M660 87.1h0M661.5 77.7h0M660.8 77.8h0M657.8 81.4h0M659.3 87.8h0M661.2 80.7h0M658.2 70h0M659.4 81.3h0M659.3 69.9h0M659.2 78.7h0M658.6 80.4h0M661.4 79.6h0M657.4 75.4h0M659.1 73.3h0M658.7 80.5h0M661 76.2h0M660.7 71.2h0M660.1 77.1h0M661.5 80.1h0M660.7 70.7h0M657.8 71.4h0M657.7 73.5h0M659.8 87.1h0M657.3 76.8h0M658.1 71.4h0M660.1 73.6h0M658.2 72.4h0M659.2 90.7h0M660.1 80.2h0M659 76.5h0M660.6 73.3h0M660.1 90.9h0M658.9 69.5h0M658.9 76.5h0M659.7 94.3h0M660.6 84h0M659.4 89.2h0M659.5 86.4h0M660.5 81h0M658.3 82.2h0M658.6 74.9h0M659.2 88.1h0M660 85.1h0M661.2 73.7h0M660.3 76.5h0M658.3 85.5h0M659.1 79h0M658.1 84.6h0M660.6 73.5h0M658.7 79.2h0M661.2 76.9h0M660.5 70.4h0M660.1 83.8h0M658.4 69.1h0M660.2 75.9h0M657.7 82.3h0M657.7 73.8h0M657.9 85.4h0M658.5 73.2h0M660.3 71.2h0M659 90.7h0M661 79.9h0M660.6 72.6h0M658.5 81.2h0M660 87.8h0M660.3 83.6h0M657.5 82.2h0M661 84.3h0M659.1 91.5h0M659.8 93.5h0M659.2 73.1h0M660.2 87.4h0M661.1 77.6h0M660.4 76h0M659.3 72.6h0M661.5 81.5h0M657.2 77.9h0M659.5 81.4h0M659.3 73.1h0M658.9 69.7h0M659.9 83.1h0M659.4 67.2h0M659.6 95.6h0M659.4 40.3h0M659.4 63.3h0" fill="none" stroke="#E2913F" stroke-width="1.8" stroke-linecap="round"/>
<rect x="656.15" y="74.1" width="6.4" height="7.6" fill="#fff" stroke="#E2913F" stroke-width="1.3" fill-opacity="0.65"/>
<line x1="656.15" y1="77.9" x2="662.55" y2="77.9" stroke="#E2913F" stroke-width="1.3"/>
<line x1="667.75" y1="60.3" x2="667.75" y2="74.1" stroke="#14A1D6" stroke-width="0.9"/>
<line x1="667.75" y1="84" x2="667.75" y2="97.1" stroke="#14A1D6" stroke-width="0.9"/>
<path d="M667.5 83.9h0M667.1 85.4h0M667.2 62.7h0M670.1 82.9h0M667.8 80.5h0M667.8 88.5h0M666.4 72.5h0M668.4 88h0M668.2 80.3h0M669.2 81.3h0M668.1 71.1h0M667.9 81.7h0M666.5 74.5h0M667.8 78.1h0M666.7 81.4h0M670 76.2h0M666.8 83.8h0M669.4 87.4h0M669 84.6h0M667.1 63.5h0M667.6 95h0M667.1 82.2h0M666.9 86.2h0M667.1 92h0M668.8 79.1h0M666.9 87.2h0M668.3 61.1h0M665.2 78.7h0M667.7 77.8h0M669.8 78.1h0M667 81.9h0M668.4 93.8h0M669.3 77.3h0M668.2 92.4h0M665.4 74.6h0M669.6 83.6h0M669.6 78.6h0M667.7 78.4h0M665.7 72.6h0M668.6 72.7h0M667.9 87.5h0M669.2 78.3h0M669.1 75.1h0M666 80.2h0M669 90.5h0M666.3 82.9h0M669.1 89h0M668.3 62.6h0M665.3 81h0M667 93.7h0M668.8 77h0M670.2 79.2h0M668.5 75.7h0M667 88.2h0M666.5 76.6h0M666.7 74.4h0M668.6 73.3h0M666.6 88.7h0M667 63.6h0M665.8 81.5h0M666.9 88.7h0M667.8 65.7h0M668.9 76.1h0M670 79.9h0M667.8 73.9h0M668.5 92.2h0M667.9 70.1h0M666.3 76.4h0M668 64h0M669 73.1h0M670.1 74.9h0M666.4 79.5h0M669.8 78.5h0M668.1 67h0M669.6 85.5h0M669.9 81h0M667.3 87.6h0M666.1 76.9h0M667.4 83.5h0M669.2 75.1h0M669 75.5h0M667.5 67.5h0M669.6 82.8h0M668.4 95.8h0M665.7 82h0M666.8 69h0M666 71.8h0M668.6 80.4h0M668 91.1h0M667.7 66.4h0M668.7 65.8h0M667 78.2h0M667.2 74.1h0M667.3 95h0M669 67.4h0M667.1 64.4h0M667.6 72h0M669.2 76.5h0M667.2 68.2h0M666.6 88.4h0M667.5 70.8h0M667.9 81.6h0M667.8 73.3h0M667.6 92.1h0M667.1 73.3h0M666.4 74.2h0M666.5 88.6h0M665.2 74.5h0M669 82.5h0M667.1 93.4h0M667.3 89.3h0M668 68.7h0M667.4 92.8h0M669 69.9h0M669.4 79h0M668.7 82.8h0M668.1 89.7h0M665.2 81.1h0M667.2 80.4h0M668.4 69.9h0M669.2 76.8h0M668.2 66.1h0M666.2 83.4h0M670.1 74.5h0M668.7 72.3h0M668 90.9h0M665.2 79.5h0M667.1 63.3h0M669.1 69.9h0M667.9 89.6h0M667.4 88.8h0M666.9 69.4h0M667.6 65.9h0M667.7 83h0M668.9 90.2h0M668.9 88.9h0M668.2 60.3h0M667.3 97.1h0M667.8 106h0" fill="none" stroke="#14A1D6" stroke-width="1.8" stroke-linecap="round"/>
<rect x="664.25" y="74.1" width="7" height="9.9" fill="#fff" stroke="#14A1D6" stroke-width="1.3" fill-opacity="0.65"/>
<line x1="664.25" y1="78.7" x2="671.25" y2="78.7" stroke="#14A1D6" stroke-width="1.3"/>
<line x1="581.3" y1="37.7" x2="581.3" y2="109" stroke="#000" stroke-width="1.45"/>
<line x1="580.8" y1="108.5" x2="677.6" y2="108.5" stroke="#000" stroke-width="1.45"/>
<line x1="577.3" y1="49.2" x2="581.3" y2="49.2" stroke="#000" stroke-width="1.1"/>
<text x="573.5" y="51.72" text-anchor="end" fill="#404040" stroke="#404040">4</text>
<line x1="577.3" y1="64.3" x2="581.3" y2="64.3" stroke="#000" stroke-width="1.1"/>
<text x="573.5" y="66.82" text-anchor="end" fill="#404040" stroke="#404040">2</text>
<line x1="577.3" y1="79.1" x2="581.3" y2="79.1" stroke="#000" stroke-width="1.1"/>
<text x="573.5" y="81.62" text-anchor="end" fill="#404040" stroke="#404040">0</text>
<line x1="577.3" y1="94" x2="581.3" y2="94" stroke="#000" stroke-width="1.1"/>
<text x="573.5" y="96.52" text-anchor="end" fill="#404040" stroke="#404040">&#8722;2</text>
<line x1="577.3" y1="108.5" x2="581.3" y2="108.5" stroke="#000" stroke-width="1.1"/>
<text x="573.5" y="111.02" text-anchor="end" fill="#404040" stroke="#404040">&#8722;4</text>
<line x1="598.4" y1="108.5" x2="598.4" y2="112.5" stroke="#000" stroke-width="1.1"/>
<text x="598.4" y="122.32" text-anchor="middle" fill="#404040" stroke="#404040">mRNA</text>
<line x1="629.3" y1="108.5" x2="629.3" y2="112.5" stroke="#000" stroke-width="1.1"/>
<text x="629.3" y="122.32" text-anchor="middle" fill="#404040" stroke="#404040">Ribo</text>
<line x1="660" y1="108.5" x2="660" y2="112.5" stroke="#000" stroke-width="1.1"/>
<text x="660" y="122.32" text-anchor="middle" fill="#404040" stroke="#404040">Protein</text>
<text x="557" y="75.46" text-anchor="middle" stroke="#000" font-size="7.1" transform="rotate(-90 557 72.9)">Gene expression</text>
<text x="574.5" y="145.16" stroke="#000" font-size="7.1">rQTL top SNP: 22_31896172_G_A</text>
<text x="588.4" y="160.96" stroke="#000" font-size="7.1">Genotype</text>
<rect x="627.2" y="155.8" width="4.6" height="5" fill="#34505B"/>
<text x="631.9" y="160.96" stroke="#000" font-size="7.1">0</text>
<rect x="644.1" y="155.8" width="4.6" height="5" fill="#E2913F"/>
<text x="648.8" y="160.96" stroke="#000" font-size="7.1">1</text>
<rect x="661.4" y="155.8" width="4.6" height="5" fill="#14A1D6"/>
<text x="666.1" y="160.96" stroke="#000" font-size="7.1">2</text>
<line x1="590.9" y1="182.9" x2="590.9" y2="197.9" stroke="#34505B" stroke-width="0.9"/>
<line x1="590.9" y1="207.9" x2="590.9" y2="222.9" stroke="#34505B" stroke-width="0.9"/>
<path d="M591.4 201h0M592.6 206.3h0M592 207.7h0M590.2 221.1h0M591.5 189.9h0M589.7 213.3h0M589.4 205.2h0M591.5 217.1h0M592.1 206h0M590.6 212.8h0M591.3 197.3h0M592.8 202.3h0M589.2 195h0M591.6 206.9h0M591.5 213.4h0M592.3 209.5h0M589.7 199.1h0M589.3 195.9h0M590.8 213.9h0M590.2 222h0M590.8 198.1h0M592.3 203.8h0M590.8 214.7h0M591.9 203.1h0M592.7 203.9h0M589.6 198.4h0M590 196.3h0M588.5 203.6h0M590.2 216.7h0M590.6 219.2h0M589.5 196.8h0M592.7 206.2h0M592.1 212.2h0M590.5 193.5h0M589.5 193.8h0M591.9 196.2h0M589.7 205h0M591 191h0M591.2 181.8h0M591.2 184.7h0M590.3 202.7h0M591.3 191.3h0M589.9 203.6h0M589.4 194.7h0M591.6 195.6h0M591.2 190.4h0M591.9 212h0M591.7 203.9h0M590.9 196.6h0M588.9 202.8h0M591.1 190.2h0M591.4 215.2h0M588.6 204.5h0M591 196.6h0M589.5 195.1h0M591.1 188.9h0M590.8 214.2h0M591.3 203.7h0M592.3 206.9h0M590.8 184h0M591.1 190.1h0M591.5 184.6h0M590.8 220.2h0M589.7 207.2h0M592.6 197.1h0M590.4 211.5h0M591.5 184.1h0M590.2 207.4h0M590.5 212.1h0M591.1 207.9h0M591.7 207h0M592.1 197.2h0M592.4 202.5h0M590.3 187h0M590.3 183.4h0M590.9 204.5h0M590.9 216.6h0M590.3 203h0M590.1 199.8h0M588.8 203.8h0M590.3 198.8h0M588.9 199.9h0M591.3 211h0M592.8 199h0M592.9 198.4h0M589.6 200.1h0M590.2 210.5h0M591.9 193.7h0M589.9 195.6h0M590.3 220.3h0M590.7 202.4h0M589.7 208.1h0M591.1 187.7h0M590.9 202.4h0M589.7 197.6h0M589.6 196.1h0M588.7 202.5h0M589.5 206.3h0M592.3 212.7h0M589.7 214h0M592.4 195.5h0M590.9 182.5h0M591.3 197.8h0M590.1 196.4h0M590.9 181.6h0M591.1 223h0" fill="none" stroke="#34505B" stroke-width="1.8" stroke-linecap="round"/>
<rect x="587.75" y="197.9" width="6.3" height="10" fill="#fff" stroke="#34505B" stroke-width="1.3" fill-opacity="0.65"/>
<line x1="587.75" y1="202.9" x2="594.05" y2="202.9" stroke="#34505B" stroke-width="1.3"/>
<line x1="598.45" y1="187.2" x2="598.45" y2="200.4" stroke="#E2913F" stroke-width="0.9"/>
<line x1="598.45" y1="209.2" x2="598.45" y2="218" stroke="#E2913F" stroke-width="0.9"/>
<path d="M598 187h0M597.8 207.1h0M598 214.6h0M598.4 214.4h0M598.7 202.1h0M596.2 208h0M599.2 193h0M599.2 206h0M597.5 195.7h0M599.2 207.9h0M599.1 194.6h0M598.2 185.2h0M599 209.4h0M599.1 189.2h0M598.3 194.7h0M598.2 193.8h0M599.4 206.1h0M599 184.8h0M599.6 208.5h0M597.5 194.3h0M598.7 204.3h0M599.2 192h0M600.6 204.8h0M598.5 195h0M599.1 196.3h0M599.6 196.1h0M597.9 212.1h0M596.6 200.8h0M598.8 211.7h0M599.9 208.1h0M598.4 194.9h0M596.9 201.4h0M596.9 199.1h0M600.1 204.6h0M598.9 214.4h0M597.9 190.9h0M597.5 212.2h0M599.8 206.8h0M598.2 195.8h0M596.8 202.9h0M599.6 197.2h0M598.4 205.7h0M598.8 214.1h0M598.9 185.7h0M597.6 192.1h0M598.5 187.1h0M599.1 205.4h0M597.5 214.9h0M600.5 201.1h0M598.4 210.8h0M599.8 209.3h0M598.8 210.6h0M597.1 202.6h0M597 207.9h0M598.7 184.9h0M600.1 201h0M598 198.3h0M599.4 204.8h0M598.3 184.8h0M598.9 206.5h0M600.4 201.1h0M599.8 209.6h0M596.3 202h0M599.7 204.6h0M597 202.2h0M599.4 209h0M598.2 207.8h0M597.9 187.8h0M597.1 210.4h0M597.2 199.6h0M597.5 197.8h0M598.9 209h0M596.1 203.3h0M599.3 200.3h0M598.7 214.5h0M598.5 190.4h0M597 204.6h0M600.7 203.5h0M599.3 205h0M598.6 207.6h0M598.7 190.1h0M597 199.7h0M598.8 189.4h0M597.9 192.1h0M597.5 200.9h0M599 197.5h0M597.9 192.7h0M599.3 202.7h0M599.5 197.7h0M599.2 205.3h0M600 202.4h0M599 196.2h0M598 210.7h0M600.4 202.4h0M597.3 213h0M596.8 204.3h0M599.5 193.5h0M599.6 198.2h0M597.9 215.2h0M598.6 186.9h0M598.1 193.3h0M599 196.3h0M597 206.2h0M597.2 205.5h0M599.8 212.3h0M597.6 194.8h0M597.3 211.3h0M596.9 197.6h0M598.3 194.8h0M598.4 186.5h0M599.2 206.1h0M599.1 192.7h0M599.9 196.2h0M598.1 207.9h0M596.2 202.6h0M598.3 199.9h0M600.1 206.5h0M597.8 200.7h0M598 206h0M598.3 196.2h0M598.5 184.8h0M598.3 218h0" fill="none" stroke="#E2913F" stroke-width="1.8" stroke-linecap="round"/>
<rect x="595.35" y="200.4" width="6.2" height="8.8" fill="#fff" stroke="#E2913F" stroke-width="1.3" fill-opacity="0.65"/>
<line x1="595.35" y1="204.2" x2="601.55" y2="204.2" stroke="#E2913F" stroke-width="1.3"/>
<line x1="607" y1="192.9" x2="607" y2="201.2" stroke="#14A1D6" stroke-width="0.9"/>
<line x1="607" y1="210.5" x2="607" y2="219.2" stroke="#14A1D6" stroke-width="0.9"/>
<path d="M607.7 198.8h0M606.3 205.9h0M606.7 217.5h0M608.6 212h0M608.5 213.2h0M605.7 214h0M608.1 202.1h0M606.8 193h0M606.2 214.1h0M607.2 201.5h0M605.7 207.1h0M608.6 215h0M607 205.8h0M607.3 195h0M607.9 200.8h0M606.1 206.5h0M606.1 213.9h0M606 210.9h0M607.3 193.6h0M608.2 201.5h0M605.5 203.7h0M605 212.1h0M608.4 214h0M605.3 204.7h0M607.8 199.7h0M608.2 200.1h0M606.1 215.4h0M609.2 206.3h0M605.2 201h0M608.1 207.4h0M607.4 200.8h0M608.4 213.7h0M608.1 199.8h0M605.7 213.8h0M606.9 198.9h0M608.2 199.5h0M607.8 198.2h0M606.5 196.2h0M609.1 209.1h0M607.5 200.3h0M607.8 213h0M606.5 193h0M606.2 211.2h0M609.3 206.4h0M608 206.1h0M608.5 204.4h0M608 212.5h0M607.9 216.4h0M606.8 216.7h0M605.4 212h0M605.6 211.5h0M606.4 218.7h0M607 193.2h0M605.6 202.2h0M608.5 201.1h0M608.8 211.1h0M606.6 192.9h0M606.9 219.2h0" fill="none" stroke="#14A1D6" stroke-width="1.8" stroke-linecap="round"/>
<rect x="603.65" y="201.2" width="6.7" height="9.3" fill="#fff" stroke="#14A1D6" stroke-width="1.3" fill-opacity="0.65"/>
<line x1="603.65" y1="206.7" x2="610.35" y2="206.7" stroke="#14A1D6" stroke-width="1.3"/>
<line x1="621.3" y1="181" x2="621.3" y2="195.4" stroke="#34505B" stroke-width="0.9"/>
<line x1="621.3" y1="205.4" x2="621.3" y2="216.7" stroke="#34505B" stroke-width="0.9"/>
<path d="M622.2 189.1h0M621.8 197.1h0M621.9 182.8h0M621.2 204.6h0M620.7 196.2h0M621.6 192.6h0M620.7 207.1h0M621.7 216.5h0M623 209h0M620.7 216.1h0M621.4 213.9h0M621.7 216.6h0M623 205.3h0M620 189.1h0M621.2 201.9h0M619 202.9h0M620.8 212.1h0M621.5 184.8h0M621.1 203.4h0M620.8 182.5h0M622.6 197.2h0M620.6 212.3h0M623.1 205.2h0M620 192.2h0M623.2 194.2h0M622.3 206.1h0M619.4 197.9h0M623 207.9h0M621.6 203.6h0M621.6 198.7h0M622.3 199.6h0M621.4 200.4h0M619.8 198.4h0M621.6 190.9h0M622.8 203h0M619.9 197.9h0M623.2 202.9h0M621 199.4h0M620.8 191.9h0M620 206.1h0M619.3 202h0M620.1 209.4h0M621.9 192.2h0M620.6 202.9h0M621 185.8h0M621.4 187.7h0M620.5 210h0M621.3 195.4h0M619.5 199.7h0M620.6 213.4h0M620.7 209.8h0M621.7 209.4h0M623.5 201.3h0M622.3 203.1h0M621.3 207.2h0M620.8 208.2h0M621.7 197.6h0M620.5 205.1h0M622.2 189.6h0M620.3 204.4h0M622.9 201.7h0M622.3 200.3h0M620.3 191.1h0M621.3 205.1h0M621.4 181.4h0M621.3 211.6h0M622.6 206.8h0M621.6 187.4h0M620.2 195.3h0M621.2 187.9h0M620.5 212.1h0M620.7 184h0M621.7 184.3h0M622.3 188.1h0M619.5 206.9h0M621.7 212.4h0M621.9 187.1h0M620.8 199.5h0M620.9 216.2h0M621.4 191.1h0M622.9 200.4h0M621.3 188.3h0M621.4 181.3h0M622.7 208.8h0M619.9 197.2h0M621.7 190h0M623.1 203.9h0M622.8 194.7h0M621.4 209.6h0M621.4 203.5h0M622.9 197.5h0M623.4 205.6h0M620.2 191.4h0M621.4 185.2h0M621.4 195.8h0M621.1 182.5h0M620.2 205.1h0M620.6 183.6h0M620.6 198.5h0M621.5 189.7h0M620.1 190.2h0M620.9 183.8h0M620.5 211.2h0M620.8 191.6h0M621.5 181h0M621.5 216.7h0" fill="none" stroke="#34505B" stroke-width="1.8" stroke-linecap="round"/>
<rect x="617.95" y="195.4" width="6.7" height="10" fill="#fff" stroke="#34505B" stroke-width="1.3" fill-opacity="0.65"/>
<line x1="617.95" y1="200.4" x2="624.65" y2="200.4" stroke="#34505B" stroke-width="1.3"/>
<line x1="629.2" y1="189" x2="629.2" y2="200.4" stroke="#E2913F" stroke-width="0.9"/>
<line x1="629.2" y1="208" x2="629.2" y2="218.5" stroke="#E2913F" stroke-width="0.9"/>
<path d="M629.2 208.6h0M631.5 204.4h0M630 195.7h0M628.6 200.8h0M629.5 186.1h0M629.7 195.8h0M631 209.8h0M629.1 209.9h0M628.5 192.7h0M628.9 217.8h0M627.5 205.1h0M628.5 201.8h0M628.3 208.4h0M628.1 210.7h0M629.6 200.9h0M627.5 205.1h0M628.6 197.4h0M628.7 197.9h0M628.9 186.8h0M628.5 192.4h0M627.1 208.4h0M628.9 189.5h0M629.6 209.8h0M629.4 186.5h0M630.4 206.5h0M629.9 203.8h0M630.5 201.2h0M629.5 198.6h0M630.4 200.2h0M629 190h0M631.7 204h0M629 205.2h0M631.5 207.1h0M630.4 204.7h0M631.6 204.9h0M628.7 194.3h0M628.1 199.6h0M629.4 215.7h0M629.4 192.9h0M628.7 194.1h0M630.3 212.8h0M631.4 205.1h0M627.3 207.1h0M629.3 210.1h0M628.4 210.4h0M631.2 201.2h0M628.1 206.8h0M629.3 193.1h0M628.9 214.8h0M630.6 206h0M629.3 192.6h0M631 199.7h0M628.3 195.4h0M629 194.1h0M628.4 212.7h0M628.4 214.4h0M627 201.2h0M629.8 218.2h0M626.9 203.6h0M629.7 196.7h0M630.4 203.3h0M628.7 215.9h0M629.9 190.2h0M628.4 202.8h0M631.3 199.7h0M628.5 198.7h0M628.6 205.5h0M627.2 202.2h0M628.6 200.2h0M629.7 198.3h0M628.4 194.4h0M629.1 188.7h0M628.8 214.3h0M627.7 198.7h0M630.1 199.6h0M629.2 202.9h0M630.5 210.4h0M627.7 202.1h0M628.9 195.2h0M627.8 206.6h0M629.4 217.1h0M630.9 208.2h0M629.3 201.1h0M629.2 197.5h0M628.8 209.5h0M628.5 191.1h0M629.8 189.2h0M627.6 202.7h0M629.7 208.2h0M630.9 204.3h0M630.4 196.5h0M630.2 196.1h0M629 200.9h0M629.4 206.3h0M629.4 212.1h0M627.8 207.9h0M628.6 185.5h0M631.3 204.4h0M628.8 192.2h0M628.5 209.9h0M628.7 203.3h0M630.8 201.8h0M628.2 210.6h0M628.8 210.5h0M628.2 201h0M627.5 199.8h0M629.8 207.1h0M629.4 204.6h0M630.1 209.1h0M627.8 199.6h0M630.2 200.4h0M630.2 207.9h0M628.1 210.7h0M629.9 209h0M631 198.8h0M629.3 210.5h0M628.9 213.9h0M631 200.8h0M629.2 202.6h0M630.1 207.7h0M628.7 184.8h0M629.6 218.5h0" fill="none" stroke="#E2913F" stroke-width="1.8" stroke-linecap="round"/>
<rect x="625.95" y="200.4" width="6.5" height="7.6" fill="#fff" stroke="#E2913F" stroke-width="1.3" fill-opacity="0.65"/>
<line x1="625.95" y1="204.2" x2="632.45" y2="204.2" stroke="#E2913F" stroke-width="1.3"/>
<line x1="637.6" y1="195.4" x2="637.6" y2="204.2" stroke="#14A1D6" stroke-width="0.9"/>
<line x1="637.6" y1="212.5" x2="637.6" y2="219.2" stroke="#14A1D6" stroke-width="0.9"/>
<path d="M639.3 214.5h0M637.9 209h0M637.6 218.3h0M636.2 206.1h0M638.7 212.4h0M637.5 211.1h0M638 217.6h0M636.1 215.1h0M638.8 205h0M638.8 203h0M637.2 196.9h0M637.3 207.8h0M638.7 214.2h0M638.9 209.6h0M639.2 213h0M639.8 209.6h0M636.5 213.3h0M635.9 207.2h0M637.3 210.7h0M636.5 216.7h0M638.4 196.9h0M638.7 218h0M635.7 206.7h0M639.5 202.4h0M636.5 198.5h0M637.4 197.5h0M638.3 204.1h0M638.2 214.9h0M637.8 204.8h0M637.2 214.9h0M639.8 208.1h0M638.4 208.1h0M638.9 208h0M637.6 200h0M636 208.9h0M637.4 204h0M637.2 198.8h0M636.8 217.6h0M637.1 195.7h0M638.3 199.7h0M637.1 202.2h0M638 212.7h0M635.7 207.2h0M635.9 209.1h0M637.9 206.5h0M636.4 205.2h0M639.2 203.7h0M639.5 211.5h0M638 215.9h0M638.2 215.6h0M637.8 201.4h0M636 213.3h0M637.3 216.4h0M638.3 214.6h0M638.1 207.5h0M637.6 200.7h0M637.7 195.4h0M637.9 219.2h0M637.6 184h0" fill="none" stroke="#14A1D6" stroke-width="1.8" stroke-linecap="round"/>
<rect x="634.25" y="204.2" width="6.7" height="8.3" fill="#fff" stroke="#14A1D6" stroke-width="1.3" fill-opacity="0.65"/>
<line x1="634.25" y1="207.9" x2="640.95" y2="207.9" stroke="#14A1D6" stroke-width="1.3"/>
<line x1="651.2" y1="185.3" x2="651.2" y2="197.9" stroke="#34505B" stroke-width="0.9"/>
<line x1="651.2" y1="206.7" x2="651.2" y2="219.9" stroke="#34505B" stroke-width="0.9"/>
<path d="M652.7 205.5h0M651.9 200.7h0M651.3 202.6h0M651.2 189.2h0M651.8 186.5h0M651.9 187.3h0M649.6 199.2h0M651.2 218h0M652.7 201.1h0M650.6 207.8h0M651.9 208.3h0M653.2 198.9h0M650 192.7h0M652.6 201.5h0M650.7 188.6h0M649.1 206.6h0M650.2 213.5h0M652.4 202.3h0M651.9 199.4h0M652.1 213h0M652.9 208.9h0M652.6 200.1h0M650.7 202.2h0M650.8 212.4h0M650.6 216.1h0M651.7 207.2h0M650.9 214.2h0M651.6 189h0M651.6 201.5h0M650.7 189.7h0M650.3 208.6h0M650.4 210.7h0M652.1 201.2h0M649.6 203h0M649.5 207.2h0M650.5 190h0M651.7 186h0M650.6 219.5h0M651.6 193.3h0M649.1 204.6h0M649.3 203.1h0M649.3 199.5h0M651.1 200.8h0M652.1 199.5h0M649.3 199.2h0M651.9 191.7h0M649.8 194.9h0M649.5 197.9h0M651.2 186.7h0M653.6 203.3h0M650.7 206.9h0M650 203.2h0M650.6 205.5h0M649.9 200h0M650.9 196.9h0M650.8 214.4h0M649.4 205.7h0M651.3 206.5h0M650.5 205.3h0M651.1 202.6h0M651.5 216.4h0M651.7 204.4h0M650.6 216h0M652.4 205.7h0M650.4 215.4h0M648.8 202.2h0M652.4 195.5h0M652.9 202.9h0M652.7 203.8h0M649.4 206.5h0M651.3 194.6h0M652.9 198.8h0M652.5 208.5h0M651.1 187.8h0M652.5 206.3h0M651.9 211.9h0M650.4 190.5h0M649.9 207h0M650.4 210.9h0M650.6 204.3h0M652 204.8h0M650.2 201.1h0M651.2 185.4h0M649.7 211.3h0M650.6 191.1h0M650.4 211.2h0M651.9 208.1h0M651.1 200h0M650.8 210.5h0M650.4 204h0M651.6 198.4h0M649.9 194h0M649 205.5h0M650.5 195h0M653 205.2h0M649.9 203.1h0M652.6 203.6h0M651.5 213.3h0M651.8 208.1h0M652 197h0M650.9 205.7h0M651.4 219.8h0M650.4 197.8h0M652.6 197h0M651.6 185.3h0M650.9 220.5h0M651.2 164.7h0M651.2 230.6h0" fill="none" stroke="#34505B" stroke-width="1.8" stroke-linecap="round"/>
<rect x="648.05" y="197.9" width="6.3" height="8.8" fill="#fff" stroke="#34505B" stroke-width="1.3" fill-opacity="0.65"/>
<line x1="648.05" y1="202.9" x2="654.35" y2="202.9" stroke="#34505B" stroke-width="1.3"/>
<line x1="659" y1="184.8" x2="659" y2="197.9" stroke="#E2913F" stroke-width="0.9"/>
<line x1="659" y1="206.7" x2="659" y2="219.2" stroke="#E2913F" stroke-width="0.9"/>
<path d="M658.2 186.2h0M658.1 207.1h0M660.4 202.6h0M658.1 213.3h0M659.6 209.4h0M658.5 217.5h0M660 194.8h0M660.1 200.2h0M660.5 204.8h0M658.8 194.9h0M660.9 206.6h0M659.9 204.1h0M658.9 199.1h0M661.4 199.8h0M658.6 218.5h0M659.7 191.1h0M659 210.2h0M657.5 202.9h0M658.2 217.3h0M661 199.2h0M657.8 209.8h0M660.8 196.9h0M659.4 205.6h0M659.8 195.8h0M656.6 201.6h0M660.3 207.9h0M658.7 195h0M657.4 203.2h0M658.8 216.8h0M658.8 214h0M659.6 187.6h0M656.6 202.1h0M657.3 209.3h0M657.8 204.6h0M658.1 191.8h0M660.4 196.1h0M659.7 214.1h0M657.8 194h0M656.7 202.2h0M657.1 199.5h0M659.7 212h0M657.8 194.9h0M656.7 201.2h0M660.3 206h0M660.1 197.3h0M656.9 206.5h0M659.3 206.8h0M656.6 198.6h0M658.1 192.2h0M659.3 218.3h0M659.5 192.3h0M659.2 198.2h0M658.1 190.3h0M660.5 204.7h0M661.5 201.8h0M657.5 204.8h0M658 191.4h0M658.6 186.2h0M656.7 200.4h0M658.5 199.2h0M658.7 193.7h0M661.4 203.7h0M660 207.7h0M657.4 197.9h0M657.8 202h0M659.5 211.4h0M660 206.4h0M658.6 194.2h0M660.4 203.7h0M659.7 191h0M659.9 191h0M657.5 207.6h0M658.4 195.8h0M658.9 193.7h0M658.7 188.7h0M659.6 206h0M658.7 218h0M659.5 210.7h0M658.6 211.9h0M659.3 189.2h0M659.1 205.5h0M658.7 212.6h0M660.5 196.5h0M659.7 190h0M657.9 197.6h0M657.6 195.5h0M658.5 186.9h0M659.6 215.8h0M659.7 187.5h0M657.7 198h0M660.5 199.2h0M659.8 194.3h0M660.2 205.8h0M660.4 198.1h0M657.8 202.1h0M660.3 202.5h0M657.6 197.6h0M659.6 191.9h0M660.7 197.1h0M657.5 204.4h0M658.3 188.7h0M660.3 205.4h0M659 188.9h0M659.3 192.9h0M658 213.2h0M659.9 198.3h0M657.5 193.8h0M658.2 210.5h0M659.1 206.1h0M658 197.4h0M658.5 191.2h0M660.5 199h0M657.7 208.4h0M658 198.5h0M657.9 203.7h0M660 200.3h0M658 203.5h0M658.4 203.9h0M656.7 202.4h0M657.9 200.7h0M659 184.8h0M658.8 219.2h0" fill="none" stroke="#E2913F" stroke-width="1.8" stroke-linecap="round"/>
<rect x="655.65" y="197.9" width="6.7" height="8.8" fill="#fff" stroke="#E2913F" stroke-width="1.3" fill-opacity="0.65"/>
<line x1="655.65" y1="202.4" x2="662.35" y2="202.4" stroke="#E2913F" stroke-width="1.3"/>
<line x1="667.8" y1="194.1" x2="667.8" y2="199.9" stroke="#14A1D6" stroke-width="0.9"/>
<line x1="667.8" y1="206.7" x2="667.8" y2="215.5" stroke="#14A1D6" stroke-width="0.9"/>
<path d="M668.6 210.5h0M667.6 202.8h0M668.7 209h0M668.6 209.6h0M667.2 207.4h0M666.7 195.9h0M668.9 202.7h0M668.3 203.8h0M667.8 199.9h0M666.2 203h0M667.5 211.8h0M667.4 196.1h0M668.4 198.8h0M667.7 195.8h0M668 195.2h0M666.9 212.1h0M668.9 196.7h0M668.4 212.9h0M666.8 208.7h0M666.6 209.6h0M669.3 206.3h0M669 208h0M667.3 212.5h0M668.4 208.2h0M667.6 200.2h0M667.2 206.7h0M666.7 203.7h0M665.9 199.1h0M667.7 195.5h0M667.8 210.4h0M667.4 215.1h0M668.4 215.5h0M666.8 205.8h0M668.2 207.7h0M668.3 212.3h0M667.4 211.2h0M669.8 200.5h0M667.9 209.9h0M668.8 207.9h0M669.5 208.5h0M667.8 200.2h0M666.9 195.8h0M667.1 194.3h0M669.6 206.8h0M668.7 208.2h0M668.6 206.4h0M666.2 202.6h0M667.5 212.3h0M665.9 198.6h0M667 203.6h0M668.7 207h0M667.5 206.7h0M668.1 212.9h0M669.3 206.3h0M668.1 204.4h0M667.9 199.2h0M668.2 194.1h0M667.9 215.5h0" fill="none" stroke="#14A1D6" stroke-width="1.8" stroke-linecap="round"/>
<rect x="664.45" y="199.9" width="6.7" height="6.8" fill="#fff" stroke="#14A1D6" stroke-width="1.3" fill-opacity="0.65"/>
<line x1="664.45" y1="202.9" x2="671.15" y2="202.9" stroke="#14A1D6" stroke-width="1.3"/>
<line x1="581.3" y1="162.7" x2="581.3" y2="233.5" stroke="#000" stroke-width="1.45"/>
<line x1="580.8" y1="233" x2="677.6" y2="233" stroke="#000" stroke-width="1.45"/>
<line x1="577.3" y1="173.8" x2="581.3" y2="173.8" stroke="#000" stroke-width="1.1"/>
<text x="573.5" y="176.32" text-anchor="end" fill="#404040" stroke="#404040">4</text>
<line x1="577.3" y1="188.6" x2="581.3" y2="188.6" stroke="#000" stroke-width="1.1"/>
<text x="573.5" y="191.12" text-anchor="end" fill="#404040" stroke="#404040">2</text>
<line x1="577.3" y1="203.4" x2="581.3" y2="203.4" stroke="#000" stroke-width="1.1"/>
<text x="573.5" y="205.92" text-anchor="end" fill="#404040" stroke="#404040">0</text>
<line x1="577.3" y1="218.2" x2="581.3" y2="218.2" stroke="#000" stroke-width="1.1"/>
<text x="573.5" y="220.72" text-anchor="end" fill="#404040" stroke="#404040">&#8722;2</text>
<line x1="577.3" y1="233" x2="581.3" y2="233" stroke="#000" stroke-width="1.1"/>
<text x="573.5" y="235.52" text-anchor="end" fill="#404040" stroke="#404040">&#8722;4</text>
<line x1="598.4" y1="233" x2="598.4" y2="237" stroke="#000" stroke-width="1.1"/>
<text x="598.4" y="246.92" text-anchor="middle" fill="#404040" stroke="#404040">mRNA</text>
<line x1="629.3" y1="233" x2="629.3" y2="237" stroke="#000" stroke-width="1.1"/>
<text x="629.3" y="246.92" text-anchor="middle" fill="#404040" stroke="#404040">Ribo</text>
<line x1="660" y1="233" x2="660" y2="237" stroke="#000" stroke-width="1.1"/>
<text x="660" y="246.92" text-anchor="middle" fill="#404040" stroke="#404040">Protein</text>
<text x="557" y="199.56" text-anchor="middle" stroke="#000" font-size="7.1" transform="rotate(-90 557 197)">Gene expression</text>
<text x="574" y="269.56" stroke="#000" font-size="7.1">pQTL top SNP: 22_32044166_C_T</text>
<text x="597" y="285.36" stroke="#000" font-size="7.1">Genotype</text>
<rect x="636" y="280.2" width="4.6" height="5" fill="#34505B"/>
<text x="640.7" y="285.36" stroke="#000" font-size="7.1">0</text>
<rect x="653" y="280.2" width="4.6" height="5" fill="#E2913F"/>
<text x="657.7" y="285.36" stroke="#000" font-size="7.1">1</text>
<line x1="593.1" y1="308.45" x2="593.1" y2="323.6" stroke="#34505B" stroke-width="0.9"/>
<line x1="593.1" y1="333.7" x2="593.1" y2="346.7" stroke="#34505B" stroke-width="0.9"/>
<path d="M594.2 341.1h0M591.2 341.4h0M594.6 340.4h0M593.4 334.1h0M596.1 333.3h0M590.9 328.4h0M592.2 342.7h0M590.7 322.6h0M590.7 330.1h0M589.3 325.2h0M594.4 314.6h0M595.3 317.4h0M590 333.5h0M592.7 342.4h0M592.8 325.5h0M595 316.9h0M592.8 311.3h0M593.4 327.1h0M597.2 327.4h0M591.1 332.3h0M596.4 324.6h0M592.1 323.8h0M588.9 328.4h0M590.9 322.8h0M594.6 324.1h0M591.8 344.3h0M590.1 319.8h0M594.6 315.8h0M592.9 332.9h0M591 332.7h0M595.6 337.7h0M594.3 342.9h0M594.1 307.6h0M594.1 322.7h0M594.9 341.5h0M592.9 321.3h0M589.4 323.1h0M597.2 331.9h0M594.3 329.2h0M589.9 321.7h0M594.2 334.5h0M595 331.9h0M593.9 332.4h0M593.6 344.5h0M594.3 345.4h0M590.8 335.7h0M591.5 333.1h0M592.5 324.6h0M595 315.9h0M590.5 324.4h0M593.9 332.3h0M593.3 319.8h0M592.5 309h0M590.8 319h0M591.8 320.3h0M592.1 307.9h0M596 331.4h0M597.5 327h0M593.5 309h0M592.7 311.6h0M589.7 335.1h0M593.9 327.5h0M594 313.8h0M594.2 317.1h0M591.1 320.6h0M590 327.1h0M592.8 337.8h0M595.7 328.2h0M594.2 331.6h0M591.5 332.8h0M591.9 326.7h0M596.7 329.9h0M595.7 326.7h0M596.8 331.6h0M593.1 321.8h0M591.7 328.5h0M591.7 319.4h0M595.9 333.1h0M593.9 330h0M593.8 324.8h0M592.2 320.6h0M588.7 327.3h0M592.5 336.4h0M594.1 312h0M592.5 333h0M588.9 325.8h0M590.5 322h0M593.7 330.2h0M596.3 335.4h0M593 342.1h0M593.2 311.8h0M594.5 317.4h0M592.1 310.9h0M593.8 328.9h0M594.3 343.6h0M592.5 342.6h0M594.4 311h0M597.2 333.1h0M594.6 342.5h0M593.3 338.2h0M590.5 336.3h0M594.2 336.9h0M592.6 311.6h0M590 334.9h0M592.2 310h0M592.9 343.1h0M592.6 312.5h0M597.2 330h0M591.6 336.9h0M592.9 315.4h0M592.5 329.5h0M595 329.9h0M590.1 327.9h0M590.5 326.9h0M593.1 340.2h0M592.4 326.1h0M595.2 340.9h0M593.9 316.5h0M593.1 318.1h0M594.2 311.2h0M593.6 321.7h0M595.7 335.7h0M589.2 333.2h0M595 316.8h0M594.6 313.9h0M595.6 333.3h0M592.6 343.1h0M591 317.2h0M594 327.6h0M589.4 333.2h0M595.5 322.3h0M594.3 320.6h0M595.1 324.8h0M589.8 320.8h0M590.5 324.9h0M589.8 331.7h0M593.5 326h0M593.8 316.4h0M591.9 343h0M589.6 329.6h0M596.3 330.5h0M596.1 336.4h0M592.9 315.6h0M596 325.4h0M589.2 329.4h0M594.4 334.1h0M594.3 328.5h0M592.2 319.8h0M594.8 339.9h0M591 330.8h0M592.6 333.2h0M593.9 324h0M592.5 342.2h0M591.7 321.1h0M592.8 317.9h0M591 333.2h0M596.1 324.5h0M590.7 327h0M593.4 327.6h0M597.5 326.9h0M592.8 315.2h0M593.5 335.4h0M593.9 313.9h0M596 320.7h0M593.4 343.4h0M592.9 336h0M592.8 342.4h0M592.6 315.7h0M593.7 308.5h0M594.4 318.3h0M590 322h0M594.2 335.6h0M589.4 322.8h0M594.4 332.1h0M594 323.3h0M594.1 310.2h0M593.6 320.9h0M588.7 331.2h0M594.6 327.5h0M593.9 319.3h0M593.7 346.2h0M592.3 327.3h0M592.1 314.3h0M589.7 325h0M589.4 331.3h0M594.5 334.5h0M593.7 336.1h0M595.9 327.5h0M594.7 324.5h0M592.9 326h0M593.9 346.2h0M595.5 329.1h0M592.3 315.3h0M596.1 324.8h0M591.2 323.8h0M590.6 329.5h0M591.9 312.8h0M591.5 332.8h0M594.6 343h0M593.9 314.2h0M592.9 319h0M593.8 328.6h0M589.8 329.5h0M593.5 336.4h0M593.7 341.5h0M592.9 346.7h0M593.6 346.2h0M592 308h0M594.1 310.3h0M590.5 335.6h0M593.6 343.4h0M593.7 344.8h0M590.1 328.5h0M596.3 334.2h0M590.9 332.9h0M594.3 337.1h0M590 322.1h0M589.7 328.8h0M594.9 320.3h0M590.4 325.9h0M593.9 319h0M593.2 309.8h0M594.3 307.5h0M592.2 333.2h0M594.8 337.9h0M592.9 345.3h0M589.5 323.5h0M594.9 340.2h0M590.3 329.2h0M593.3 328.4h0M594.6 320.2h0M591 339.7h0M593.3 335.2h0M593.5 341.5h0M596.4 336.2h0M593.6 329.5h0M592.4 341.3h0M594.3 328.9h0M594.8 333.3h0M592.9 308.9h0M590.3 336.9h0M591.3 335.8h0M594.5 312.7h0M595.7 321.4h0M589.6 326.1h0M591.4 327.9h0M590.7 318.4h0M594.1 312.1h0M592.7 306.5h0M593.2 346.7h0" fill="none" stroke="#34505B" stroke-width="1.8" stroke-linecap="round"/>
<rect x="587.65" y="323.6" width="10.9" height="10.1" fill="#fff" stroke="#34505B" stroke-width="1.3" fill-opacity="0.65"/>
<line x1="587.65" y1="328.6" x2="598.55" y2="328.6" stroke="#34505B" stroke-width="1.3"/>
<line x1="605.1" y1="312" x2="605.1" y2="324.6" stroke="#E2913F" stroke-width="0.9"/>
<line x1="605.1" y1="333" x2="605.1" y2="343" stroke="#E2913F" stroke-width="0.9"/>
<path d="M606.5 320.1h0M604.1 331.9h0M603.7 329.9h0M605 311.4h0M603.4 337.5h0M602.1 324h0M602.5 334.5h0M606.7 333.5h0M605.7 336.9h0M606 316h0M604.9 328.2h0M606.8 328.4h0M607.3 326.9h0M604.4 330.6h0M606.7 335.6h0M604.5 329.3h0M607.4 324.1h0M606.2 332.6h0M602.6 334.3h0M606.4 325.2h0M605.2 310.9h0M605.1 316.6h0M605.3 326.5h0M604.4 340h0M604.9 322.6h0M605.4 325.4h0M605.1 316.1h0M607 333.6h0M603.2 337.5h0M604.2 314.5h0M604.9 335.1h0M607 334.7h0M603.1 336.1h0M601.7 328.3h0M603.8 319.7h0M606.9 330h0M604.8 313.7h0M606.6 321.8h0M603.4 325.7h0M602.4 332h0M606.5 328.3h0M603.4 332.2h0M604.4 325.4h0M606.3 337.2h0M605 331.3h0M604.1 329.8h0M602.5 323h0M605.2 336.1h0M606.1 320.4h0M602.8 335.7h0M603 325.6h0M608.4 326.9h0M607.6 323.2h0M601.9 325h0M604.5 333.1h0M606.2 337.4h0M605.1 310.3h0M605.3 343h0" fill="none" stroke="#E2913F" stroke-width="1.8" stroke-linecap="round"/>
<rect x="599.85" y="324.6" width="10.5" height="8.4" fill="#fff" stroke="#E2913F" stroke-width="1.3" fill-opacity="0.65"/>
<line x1="599.85" y1="328.6" x2="610.35" y2="328.6" stroke="#E2913F" stroke-width="1.3"/>
<line x1="623.25" y1="306.5" x2="623.25" y2="322" stroke="#34505B" stroke-width="0.9"/>
<line x1="623.25" y1="333.7" x2="623.25" y2="344.2" stroke="#34505B" stroke-width="0.9"/>
<path d="M624.2 334.7h0M621.1 334.9h0M622.6 315.1h0M620.4 329.9h0M620.5 328.5h0M625.3 316.3h0M625.5 337.5h0M622.9 331h0M624.6 322h0M625.6 324.1h0M624.6 337.4h0M624.2 330.1h0M620.2 327.6h0M623.6 342.9h0M620.9 337.9h0M623.1 307.9h0M625.7 317.8h0M624.5 329.7h0M624.4 340h0M625.1 320.7h0M622.1 327.6h0M624.7 341.2h0M621.7 338.6h0M621.5 340.8h0M624.9 327.7h0M620.3 337.7h0M621.6 325.5h0M626.4 325.5h0M623.6 308.6h0M623.1 311.9h0M624.6 340.8h0M624.6 338.9h0M624.2 343.2h0M623.3 332.3h0M626.6 329.3h0M620.3 330.3h0M625.8 322.1h0M623.7 312h0M622.7 313.4h0M622.3 312.4h0M624.8 327.4h0M622.7 319.1h0M625.3 325.8h0M624.5 309h0M620 334h0M626.8 328.6h0M619.5 333.2h0M620.7 338.3h0M626.3 326.9h0M623.4 330.1h0M622.5 316.7h0M620.7 331.1h0M619.8 328.6h0M621.5 334.4h0M623.3 337.1h0M625 317.3h0M625.2 335.2h0M621.1 318h0M623.4 318.3h0M622.4 315.1h0M625.1 332.2h0M622.4 332.2h0M620 323.3h0M621.4 316.7h0M624.2 333.6h0M624.3 315h0M625.4 340.9h0M624.7 332.5h0M624.7 326.5h0M624.1 327.3h0M623.6 314.9h0M627 327.2h0M619.1 327.2h0M626.6 329.7h0M622.5 336.5h0M624.1 306.9h0M620.6 336.2h0M621.6 339.7h0M621.8 324.3h0M623.2 326.4h0M626.6 331.2h0M626 322.8h0M624.1 320.9h0M625.3 328.6h0M623.8 309.7h0M621.7 326.5h0M623.2 316.1h0M623.5 342.8h0M623.8 343.2h0M619.3 330.3h0M625.6 325.5h0M624.2 343.9h0M622.5 333.6h0M620.8 320.3h0M626.6 333.9h0M623.3 333.6h0M626.4 333.3h0M621.5 330.4h0M620.8 319.9h0M620.1 328.7h0M620.2 323.6h0M625.4 322.4h0M622.4 336.9h0M622.2 314.5h0M622.4 321.7h0M624.5 330.8h0M623.4 343.6h0M627.3 330.9h0M627.4 329.4h0M623.6 329.5h0M620.6 327.3h0M623.7 325.6h0M626.5 332.3h0M621.8 344.1h0M625 313h0M625.4 320.5h0M622.1 308.9h0M620.5 319.9h0M626.2 332.6h0M626.8 321.5h0M620.1 325.2h0M625.6 327.8h0M622.1 335.9h0M622.7 316.6h0M620.8 337.2h0M620.9 331.9h0M624.8 328.1h0M622 322.7h0M624.8 340.9h0M623 311.8h0M622.8 320.4h0M623.3 306.5h0M624.7 325.2h0M623.3 338.8h0M620.8 320.8h0M625 340.9h0M625.2 337.9h0M622.8 332h0M624 336.6h0M624.6 340.1h0M621.6 314.7h0M623.7 313.8h0M624 318.1h0M626 337.8h0M624.2 320.9h0M626 318.7h0M621.7 343.4h0M620.5 338h0M621.5 341.1h0M624.1 310.3h0M621.7 333.9h0M621.5 316.5h0M624.1 342.1h0M621.1 337.9h0M623.4 332.5h0M619.4 323.4h0M621.3 316h0M623.1 323h0M624.5 327.1h0M626.5 324.2h0M624.6 326.5h0M624.5 340.7h0M623.8 326h0M620.7 329.9h0M621.6 340.3h0M622.4 311h0M620.2 319.3h0M622.5 340.4h0M621.5 342.9h0M623.2 311.2h0M623.3 332.5h0M624.1 330.7h0M626.5 323.5h0M626.3 322h0M624.5 340.2h0M625.1 332.5h0M623.9 323.9h0M621.4 331.7h0M623.5 325.3h0M623.1 320.4h0M625.6 335.4h0M622.6 333.1h0M620.7 333h0M622.8 338.2h0M624.4 331.4h0M624.1 308.8h0M622.6 311.7h0M623.4 330.3h0M623.8 316.3h0M620.7 329.7h0M621.5 321.4h0M622.6 323.4h0M624.3 306.7h0M621.4 319.4h0M620.7 323.7h0M625.8 331.3h0M626.8 332h0M624 340.2h0M626.1 317.7h0M622.8 339.1h0M621 337.5h0M622.8 323.5h0M625.5 321.7h0M622.9 323.5h0M620.4 319.2h0M624.6 342.9h0M621.5 325.7h0M621.9 314.8h0M627.1 324.2h0M623.6 318.4h0M623.1 314.7h0M621.8 313.1h0M623.3 311.4h0M623.4 318.3h0M625.7 317.5h0M622 314.1h0M622.8 325h0M623.3 342.6h0M621.3 326.1h0M620.2 329.4h0M620.1 332.6h0M626.6 335.5h0M626.4 326.8h0M623 331.2h0M622.8 324.9h0M620.7 320.7h0M624.3 313.4h0M624.4 326h0M624.7 339.1h0M623.4 343.3h0M620.4 333.2h0M625.9 330.7h0M625.4 335.2h0M625.8 331.6h0M623.5 326.1h0M626.6 324.8h0M622.2 309.1h0M623.8 343.7h0M621.8 333.6h0M622.7 307.4h0M620.9 339.2h0M622 330.4h0M621.8 325.8h0M620.8 326.5h0M623.6 316.1h0M626.9 334.7h0M626.7 330.3h0M625.4 338.6h0M623 306.5h0M623.2 344.2h0" fill="none" stroke="#34505B" stroke-width="1.8" stroke-linecap="round"/>
<rect x="618.15" y="322" width="10.2" height="11.7" fill="#fff" stroke="#34505B" stroke-width="1.3" fill-opacity="0.65"/>
<line x1="618.15" y1="327.9" x2="628.35" y2="327.9" stroke="#34505B" stroke-width="1.3"/>
<line x1="635" y1="316.65" x2="635" y2="324.9" stroke="#E2913F" stroke-width="0.9"/>
<line x1="635" y1="330.4" x2="635" y2="338.65" stroke="#E2913F" stroke-width="0.9"/>
<path d="M632.1 329.2h0M636 319.9h0M632.8 327.5h0M633.9 329.1h0M635.1 318.9h0M635.8 335.3h0M633.7 325.3h0M634.2 339.8h0M631.9 327.7h0M633.7 322h0M636.5 323.1h0M633.8 328.7h0M634 326.4h0M634.9 331.4h0M634 312.4h0M633.1 331.4h0M634.2 331h0M636.1 321.2h0M633.8 332.2h0M632 325.6h0M633 325.1h0M634.8 317.4h0M634.9 321.6h0M637.3 324.4h0M638.1 325.6h0M632.5 326.4h0M634 335.6h0M634.6 313.2h0M637.7 324.8h0M632.8 332.3h0M636 327h0M634.1 319.6h0M636.7 324.9h0M635.1 324.1h0M633.5 321.4h0M632.7 327.3h0M633.4 326h0M635.8 316h0M635.5 336.5h0M634.2 322.4h0M634.5 322.6h0M636.1 331.2h0M635.1 332.9h0M633.9 335.7h0M632.1 326.9h0M633.2 327.7h0M631.7 327.1h0M635.2 320.5h0M635.2 318.3h0M634.6 339h0M635 314.9h0M633.6 335.3h0M635.4 327.8h0M637.6 328h0M634.7 329h0M636.3 334.6h0M634.9 311.6h0M635.3 340h0" fill="none" stroke="#E2913F" stroke-width="1.8" stroke-linecap="round"/>
<rect x="629.65" y="324.9" width="10.7" height="5.5" fill="#fff" stroke="#E2913F" stroke-width="1.3" fill-opacity="0.65"/>
<line x1="629.65" y1="327.9" x2="640.35" y2="327.9" stroke="#E2913F" stroke-width="1.3"/>
<line x1="653.75" y1="310.9" x2="653.75" y2="322.6" stroke="#34505B" stroke-width="0.9"/>
<line x1="653.75" y1="330.4" x2="653.75" y2="342.1" stroke="#34505B" stroke-width="0.9"/>
<path d="M656 323.2h0M653.7 327.5h0M650.5 325.2h0M650.9 328.5h0M654.8 334h0M653.2 326.7h0M654.4 345h0M653.7 321.5h0M652 327.2h0M654.3 327.4h0M656.6 329.3h0M657.4 328.2h0M654.4 335.1h0M652.8 340.8h0M655.7 321.7h0M651.7 325.3h0M654.9 331.7h0M652.9 345.4h0M653.9 342.2h0M654 329.6h0M651.8 320.7h0M651.5 317.9h0M652.9 335.1h0M652.6 337.6h0M652.9 317h0M654.3 326.9h0M656.2 327.1h0M653.7 315.6h0M653.4 344.2h0M653.3 313h0M654.3 317h0M653.2 338.2h0M651 329.1h0M657.4 329.8h0M654.9 331h0M656.6 321.7h0M654.7 344.3h0M653 334.8h0M653.1 320.7h0M656.9 324.5h0M656.6 329.1h0M653 339.2h0M654 333.3h0M654.8 320.8h0M657 326.3h0M651 324.1h0M656.9 332h0M653.7 328.6h0M651.7 327.5h0M655.9 322.1h0M655.1 331.4h0M654.7 326.9h0M655.5 326h0M655.9 317.9h0M654.2 324.6h0M657.6 324.1h0M653.1 318.8h0M655.5 322h0M654.5 342.2h0M654.7 328.2h0M656.1 334.8h0M656.3 324.4h0M653.7 315.3h0M652.7 330.2h0M653.1 330.4h0M655.6 336h0M651.8 330.1h0M651.1 327.5h0M657.1 324h0M649.8 327h0M652.4 319.4h0M652.6 324.9h0M655.1 330.7h0M655.1 333.9h0M654.1 332.1h0M652.1 325.5h0M651.6 330h0M656.3 334.1h0M651.3 326.9h0M657.2 324.9h0M652.4 327.2h0M653.3 316.2h0M655.4 328.2h0M654.8 334.1h0M655.8 325.2h0M653.3 335.7h0M653.7 335.2h0M652.6 337.1h0M657.5 328.2h0M652.9 314.4h0M655.7 326.4h0M656.2 325.4h0M651.1 322.7h0M653.6 309h0M651.4 324.8h0M656.9 321h0M653.5 312.2h0M651.4 327.4h0M651.1 319.9h0M654.1 318.7h0M656.6 320.9h0M651.8 332.5h0M654.6 312.6h0M654.6 335.3h0M655.3 319.7h0M657.6 329.1h0M655.3 322.7h0M656.5 326.1h0M652.2 322h0M651.3 326.1h0M653.1 318.5h0M655.6 333.4h0M656.1 324.6h0M651.9 319.7h0M657.6 325.5h0M654.7 313.2h0M653.8 337.1h0M654.3 317.6h0M652 324.6h0M654.7 326.8h0M653 325.1h0M654 340.9h0M656.4 327.7h0M651.3 328.1h0M651.8 331h0M653.9 323.1h0M651.7 325.6h0M652.9 338.4h0M654.6 330h0M653.6 317.7h0M656.3 331.1h0M652.6 346.5h0M653.6 313.5h0M655.2 316.7h0M655.2 335.3h0M654.4 313.7h0M654.5 341.7h0M653.3 325.3h0M655.5 326.7h0M652.6 322.4h0M650.6 322.5h0M656.7 329h0M653.8 342.6h0M656 333.1h0M652.6 318.4h0M654.9 330.4h0M654 311.2h0M654.6 316.9h0M654 338.2h0M657.1 325.1h0M653.8 332.3h0M654 326.9h0M650.4 331.4h0M651.4 328.9h0M654.5 327.9h0M649.7 326.4h0M657.9 328h0M651.5 331.5h0M651 329h0M653.4 322.9h0M654 336.8h0M654.2 323h0M652.5 337.5h0M652.7 315.5h0M654.4 318.7h0M653.5 343h0M655.2 320.1h0M652.2 326.9h0M654.9 314.7h0M653.8 314.7h0M651.2 323.3h0M656.4 328.9h0M653.6 331.6h0M652 331.9h0M652.6 326.8h0M653.2 319.6h0M651.2 331.6h0M653.4 326.9h0M656.7 323.7h0M652.2 326.3h0M651 320.8h0M652.3 333.3h0M655.5 324.7h0M651.4 329.7h0M651 321.2h0M654 343.7h0M653 311.9h0M655.8 323.5h0M653.4 311.5h0M651.4 326.8h0M654.1 333.7h0M652.5 314.7h0M653.8 324.3h0M655 340.8h0M655 333.6h0M654.8 341.9h0M655.9 326.2h0M650.7 330.4h0M653.3 320.4h0M654 323.8h0M652.9 325.1h0M656.5 321.5h0M654 323.6h0M657.8 329.2h0M653.3 323.3h0M649.7 325.9h0M653.7 332.2h0M650.2 322.5h0M655.2 327.7h0M654.9 317.4h0M654.2 338.2h0M656.3 326.8h0M654.8 332.3h0M653.1 316.7h0M654.8 341.2h0M651 325.6h0M654.2 316.2h0M651.4 322.4h0M653.2 327.5h0M654.8 331.1h0M654.2 314.3h0M652.4 316.9h0M653.9 313.2h0M652.3 332.1h0M654.2 342.1h0M651.6 329.3h0M654 327.3h0M652.3 331.5h0M651.8 326.3h0M653.2 342.5h0M653.7 326.1h0M653.2 330.5h0M656.7 320h0M654.8 317.9h0M656 333.8h0M652.9 332h0M650.7 331.2h0M655.2 321.7h0M656.9 328.3h0M653.8 341.7h0M655.2 333.3h0M655.4 317.9h0M654.5 334.3h0M652.1 327.4h0M657.1 321.7h0M652.5 331.8h0M655.4 335.8h0M656.4 321.6h0M653.9 309h0M653.8 346.7h0M653.8 289h0" fill="none" stroke="#34505B" stroke-width="1.8" stroke-linecap="round"/>
<rect x="648.65" y="322.6" width="10.2" height="7.8" fill="#fff" stroke="#34505B" stroke-width="1.3" fill-opacity="0.65"/>
<line x1="648.65" y1="326.6" x2="658.85" y2="326.6" stroke="#34505B" stroke-width="1.3"/>
<line x1="665.9" y1="327.4" x2="665.9" y2="334.7" stroke="#E2913F" stroke-width="0.9"/>
<line x1="665.9" y1="342.5" x2="665.9" y2="345" stroke="#E2913F" stroke-width="0.9"/>
<path d="M668.4 335.8h0M667.4 336.5h0M666.7 332.9h0M664.4 333.9h0M664.8 342.3h0M666.2 336h0M666.6 327.5h0M667.3 332.2h0M668.7 342.8h0M667.6 333.1h0M667.7 344h0M669.1 336h0M664.2 331.1h0M667.3 339.1h0M663.5 332.9h0M667.2 344.1h0M662.5 338.2h0M665.4 336.7h0M663.8 333h0M667.9 331.7h0M665.3 332.5h0M668 333h0M668.9 340.4h0M665.4 341.4h0M668.6 343h0M666.8 343.4h0M665.9 336.8h0M667.7 332.3h0M663.7 344.5h0M667 342.8h0M665 328.6h0M663.2 335.3h0M668.8 336h0M666.2 344h0M663.5 342.1h0M666.3 337.7h0M663.7 344.9h0M667.8 330.2h0M666.4 330.8h0M665.4 327.6h0M665.7 327.4h0M666.3 345h0M665.9 354.3h0" fill="none" stroke="#E2913F" stroke-width="1.8" stroke-linecap="round"/>
<rect x="660.65" y="334.7" width="10.5" height="7.8" fill="#fff" stroke="#E2913F" stroke-width="1.3" fill-opacity="0.65"/>
<line x1="660.65" y1="338" x2="671.15" y2="338" stroke="#E2913F" stroke-width="1.3"/>
<line x1="581.3" y1="287" x2="581.3" y2="358" stroke="#000" stroke-width="1.45"/>
<line x1="580.8" y1="357.5" x2="677.6" y2="357.5" stroke="#000" stroke-width="1.45"/>
<line x1="577.3" y1="298.2" x2="581.3" y2="298.2" stroke="#000" stroke-width="1.1"/>
<text x="573.5" y="300.72" text-anchor="end" fill="#404040" stroke="#404040">4</text>
<line x1="577.3" y1="313" x2="581.3" y2="313" stroke="#000" stroke-width="1.1"/>
<text x="573.5" y="315.52" text-anchor="end" fill="#404040" stroke="#404040">2</text>
<line x1="577.3" y1="327.9" x2="581.3" y2="327.9" stroke="#000" stroke-width="1.1"/>
<text x="573.5" y="330.42" text-anchor="end" fill="#404040" stroke="#404040">0</text>
<line x1="577.3" y1="342.7" x2="581.3" y2="342.7" stroke="#000" stroke-width="1.1"/>
<text x="573.5" y="345.22" text-anchor="end" fill="#404040" stroke="#404040">&#8722;2</text>
<line x1="577.3" y1="357.5" x2="581.3" y2="357.5" stroke="#000" stroke-width="1.1"/>
<text x="573.5" y="360.02" text-anchor="end" fill="#404040" stroke="#404040">&#8722;4</text>
<line x1="598.4" y1="357.5" x2="598.4" y2="361.5" stroke="#000" stroke-width="1.1"/>
<text x="598.4" y="371.12" text-anchor="middle" fill="#404040" stroke="#404040">mRNA</text>
<line x1="629.3" y1="357.5" x2="629.3" y2="361.5" stroke="#000" stroke-width="1.1"/>
<text x="629.3" y="371.12" text-anchor="middle" fill="#404040" stroke="#404040">Ribo</text>
<line x1="660" y1="357.5" x2="660" y2="361.5" stroke="#000" stroke-width="1.1"/>
<text x="660" y="371.12" text-anchor="middle" fill="#404040" stroke="#404040">Protein</text>
<text x="557" y="324.56" text-anchor="middle" stroke="#000" font-size="7.1" transform="rotate(-90 557 322)">Gene expression</text>
<text x="350.8" y="397.8" font-weight="bold" stroke="#000" font-size="10">E</text>
<text x="364.8" y="407.36" font-weight="bold" font-style="italic" stroke="#000" font-size="9.6">RCBTB1</text>
<line x1="395" y1="467" x2="517.4" y2="467" stroke="#EBEBEB" stroke-width="1"/>
<line x1="395" y1="458.55" x2="517.4" y2="458.55" stroke="#EBEBEB" stroke-width="1"/>
<line x1="395" y1="450.1" x2="517.4" y2="450.1" stroke="#EBEBEB" stroke-width="1"/>
<line x1="395" y1="441.65" x2="517.4" y2="441.65" stroke="#EBEBEB" stroke-width="1"/>
<line x1="395" y1="433.2" x2="517.4" y2="433.2" stroke="#EBEBEB" stroke-width="1"/>
<line x1="395" y1="424.75" x2="517.4" y2="424.75" stroke="#EBEBEB" stroke-width="1"/>
<path d="M400.32 467.6L400.32 467L400.32 464.63L514.14 464.63L514.14 467L514.14 467.6Z" fill="#808a88"/>
<path d="M498.3 465.3h0M424.8 463.6h0M467.5 461.4h0M490.9 465.7h0M420.3 462.7h0M422 466.7h0M467.6 467h0M508.5 462.9h0M495.5 466.7h0M432.6 465.8h0M428.2 463.8h0M452.9 466.6h0M504.2 464.1h0M469.1 464.2h0M428.2 464.1h0M434.8 465.8h0M455.4 466.7h0M472.8 460.7h0M497.8 466.1h0M506.7 466.3h0M443.6 466.5h0M490.4 465.2h0M468.8 461.6h0M429.8 466.5h0M506.5 466.8h0M484.3 460.3h0M442.4 460.7h0M448.9 464h0M499.6 465.7h0M445.1 462h0M496.5 466.6h0M442.2 460.6h0M462.1 462.3h0M463 464.9h0M477.2 464.6h0M511.6 465.8h0M468.8 463.8h0M513.8 464.8h0M404.5 466.5h0M506.2 465.5h0M487.2 465.7h0M450.3 460.7h0M411.2 466.7h0M499.3 466.4h0M476.1 465h0M497.7 464.5h0M451.6 462.2h0M416.3 465.3h0M457.7 466.3h0M498.4 463h0M406.4 466.4h0M487.3 462.7h0M421.3 466.2h0M407.1 461.2h0M461.9 466.2h0M459.8 461.1h0M439.4 467h0M422.1 463.6h0M424 466.9h0M451.1 463.7h0M481.3 465.5h0M473.2 459.9h0M482 464.2h0M409.8 466.9h0M433.9 463.2h0M458.8 464h0M451.4 462.4h0M453.1 461.1h0M446.1 462.1h0M430.3 463.9h0M444.5 463.1h0M509 465.6h0M474.2 464.9h0M509.6 466.7h0M486.2 462.9h0M492.3 465.2h0M482.7 466.6h0M477.9 465.8h0M464.5 465.9h0M429 464h0M408.2 466.7h0M459.8 464h0M464.8 464.4h0M513 465.1h0M513.7 466.3h0M479.3 460.9h0M438.9 462.1h0M404.2 463.3h0M467.9 466.8h0M492.7 466.1h0M413.8 462.4h0M446.9 462.8h0M438.3 463.9h0M418.2 466.5h0M490.4 465h0M485 462.1h0M475.4 463.5h0M420 465.9h0M503.4 465.2h0M478.1 463.5h0M454.6 465.3h0M494.9 466.5h0M415.7 463.4h0M486 462.4h0M436.1 461.8h0M486.4 464h0M510.2 463.6h0M475 465.7h0M487.5 466.6h0M504.1 466.9h0M421.1 464h0M502.7 463.8h0M506.4 465.5h0M508.6 464.8h0M404.1 462.8h0M414.1 464.2h0M455 466.7h0M452.4 466.6h0M507.9 463.9h0M458.3 459.5h0M463.1 465.5h0M462 458.9h0M418.5 463.4h0M403.9 464.7h0M408.5 465.7h0M407.7 467h0M457.2 461.3h0M414.9 463.7h0M481.9 460.3h0M420.9 462.2h0M420.8 463.3h0M413.5 466.6h0M466 466h0M417.4 466.7h0M432.4 461.9h0M490.3 464.2h0M421.6 459.7h0M453.6 465.6h0M513.5 466.9h0M426.2 463.8h0M431.4 464.4h0M424 465.8h0M501.9 464.8h0M495 462.9h0M424.7 464.5h0M401.8 466.4h0M426 461.2h0M485.8 464h0M412.7 466.2h0M434 464.6h0M488.8 466.9h0M481.6 466.6h0M491.7 465.9h0M461.7 464.7h0M499.9 462.8h0M461.5 464.3h0M447.5 465.2h0M434.8 466.8h0M505.4 467h0M435.7 461.4h0M486.9 464.7h0M479.7 460.2h0M415.9 463.5h0M498.3 466.4h0M448 466.3h0M419.7 460.6h0M458.1 467h0M427.6 465.4h0M441.7 465.4h0M442.3 463.3h0M503.4 463h0M466.2 459.5h0M450.7 464.3h0M498.3 466.1h0M458.2 464.1h0M472.9 464.6h0M487.7 463.9h0M489.4 463.2h0M444.8 466.8h0M442.9 460.9h0M484.1 461.5h0M476.1 464.3h0M477.6 463.8h0M495 466.7h0M468 460h0M444.1 464.9h0M469.6 459.9h0M511.2 466.5h0M480.1 461.2h0M480.1 466.4h0M458.5 460.7h0M482.5 463.8h0M475.8 463h0M506.2 463.2h0M411.7 463.2h0M409.6 463.6h0M463.8 463.9h0M468 465.3h0M414.6 465h0M407.7 466.1h0M403.3 463.2h0M414.9 466.9h0M511.9 466.9h0M493.1 465.4h0M486.8 465.6h0M501.9 466.5h0M428.6 466.1h0M426.1 463h0M436.8 466.7h0M498 466.2h0M508 466.9h0M498 465h0M451.4 465.6h0M486.8 463.2h0M403.7 466.8h0M492 466.9h0M442.3 465.7h0M440.3 465.6h0M448.5 466.2h0M446.5 462.9h0M452.3 466h0M408 466.9h0M480.4 462.7h0M475 462.3h0M452.6 460.6h0M444.7 466.3h0M490.3 466.6h0M447.4 465.5h0M420.8 466.7h0M507 465.9h0M501.5 467h0M406.9 466.9h0M458.4 460.5h0M418.3 463.5h0M465.7 465h0M458.1 466h0M452.1 463.9h0M427.5 466.1h0M404.3 465h0M450.4 462.7h0M450.7 464.8h0M474 463.4h0M499.5 466.5h0M458.7 466.7h0M496.6 466.3h0M496.9 466.9h0M416.6 462.7h0M478.1 465.6h0M440.6 460.7h0M407.8 462.7h0M465.4 465.4h0M425.8 462h0M453.5 460.4h0M422.9 464.6h0M508.6 466.4h0M490.6 466.8h0M479.9 465.4h0M431.3 465.3h0M407.1 461.9h0M459.6 465.8h0M477 466.6h0M489.2 462.5h0M475.9 466.5h0M409.5 463.7h0M483.4 466.1h0M459.4 463.4h0M420.3 462.6h0M458.8 463.9h0M414.9 466.5h0M451.4 462.6h0M440.8 467h0M434.2 465.2h0M413.1 465.2h0M450.8 464.3h0M438.4 466.1h0M508.3 465.8h0M455.7 463.6h0M490.6 465.2h0M484.9 466.8h0M501.5 465.4h0M475.9 464.6h0M422 466.3h0M426.6 465.8h0M477.7 464.5h0M455.9 465.7h0M405.1 463.5h0M412 466.9h0M449 459.9h0M505.6 466.4h0M402.8 464.8h0M499.9 464.7h0M478.4 466.8h0M491.1 463.7h0M436.7 465.9h0M512 466h0M416.4 465.7h0M404.3 465.9h0M447.4 464.7h0M469.3 465.5h0M449 461h0M465.5 465.1h0M476.7 466.2h0M432 467h0M506 466.5h0M415 465.1h0M460.2 464.7h0M472.7 464.6h0M452.5 460.6h0M444.7 461.5h0M500 466.6h0M485.1 461h0M431.1 467h0M509.5 466.2h0M468.4 462.5h0M470.6 466.2h0M470 463.8h0M466.5 463.1h0M508.5 466.9h0M441.4 466.7h0M411.2 464h0M443.4 466.2h0M409.9 465.9h0M511.6 463.2h0M441.8 466.6h0M473.1 465.5h0M445.4 465.7h0M474.5 467h0M494.6 465.4h0M511.6 463.9h0M464.5 463.2h0M443.5 467h0M482.5 461.3h0M450.4 461h0M417 462.1h0M496.3 466h0M507.1 464.7h0M507 463.1h0M446.2 466.1h0M442.9 466.5h0M498.5 466.9h0M480.6 460.7h0M412.1 466.9h0M461.2 465.4h0M503.5 464h0M478.8 462.7h0M488.6 463.3h0M475.1 464.4h0M428.5 466h0M480.6 462.2h0M508.9 465.9h0M477.4 465h0M420.8 465.5h0M449.8 462.5h0M459.5 465.9h0M444.4 459.9h0M475.9 464.5h0M457.6 459.4h0M403.5 466.7h0M467.4 463.4h0M436.7 460.5h0M452.7 465.8h0M446.5 464.1h0M500.7 467h0M416.2 466.9h0M434 465.9h0M504.1 465.8h0M434.2 464.2h0M444.4 460.8h0M417.9 464.5h0M449.2 463.2h0M486.1 464.4h0M452.9 459.6h0M495.9 465.3h0M452 460.5h0M505.3 463.6h0M474 462.8h0M487.1 463.7h0M403.2 463h0M488.5 462.6h0M416.3 464.9h0M505.4 465.8h0M474.6 462.7h0M486 460.3h0M403.4 465.9h0M415.4 463.8h0M435.1 464.2h0M428.8 462.8h0M499 464.4h0M412.3 466.5h0M487.9 464.3h0M408.7 464.3h0M401.9 464.9h0M473.6 464.1h0M416.8 466.6h0M455.2 466.9h0M441 465.7h0M407.3 465.5h0M451.1 466.4h0M497.1 466.6h0M508.9 465.5h0M483.8 466.4h0M416.7 462.2h0M403.7 466.9h0M472.4 460.9h0M462 465.9h0M481.3 464.5h0M425.3 467h0M501.7 465.3h0M459.3 462.8h0M471.5 460h0M472.9 466.9h0M445.1 466.5h0M496.7 466.8h0M441.4 465h0M422.5 463.9h0M411.8 466.3h0M490.5 465.4h0M421.4 467h0M404.9 466.4h0M412.3 466.3h0M505.5 466.9h0M435.2 465.9h0M500 464h0M414.7 463.9h0M491.5 465.3h0M410.9 463.5h0M428.4 466h0M457 466.8h0M434.4 466.2h0M406.8 466.6h0M506.2 465.7h0M482.8 462.7h0M423.7 466.7h0M445.8 464.3h0M429.7 466.5h0M490.4 465.1h0M458.4 466.6h0M504.7 465h0M500.1 463.3h0M481.1 466.1h0M401.8 467h0M417.3 466.4h0M489 465.7h0M405.4 466.6h0M460.7 459.5h0M412.7 467h0M452.6 461h0M488.5 465.4h0M467.5 462.3h0M419.7 460.8h0M499.9 466.2h0M469.9 460.8h0M500.6 466.2h0M431.6 466.6h0M500.3 465.5h0M411.6 465.4h0M460.6 465.2h0M445.7 463.5h0M465.1 464.2h0M433 464.3h0M508.4 466.8h0M414.2 466.6h0M438.3 466.1h0M472.5 465.4h0M437.6 466.9h0M476.3 465.1h0M452.5 463.5h0M433.9 464.5h0M436.1 466.4h0M407 464.1h0M503.4 466.5h0M427.2 462h0M488.1 463h0M493.3 464.5h0M413.3 462.4h0M500.6 462.9h0M486.6 460.3h0M407.8 461.7h0M440.2 462.1h0M449.7 462.3h0M449 423.2h0M449.6 432.9h0M449 431.5h0M449.7 430.3h0M448.7 426.5h0M450 424.8h0M452 428.5h0M453.3 425.5h0M449.5 424.7h0M453.2 426.5h0M448 432.8h0M451.9 430.5h0M448.8 426.1h0M449.6 432.6h0M449.9 431.1h0M450 424h0M448.6 428.1h0M450.7 426.6h0M453.1 423h0M451.5 430.5h0M451.6 425.9h0M449 422.1h0M453.8 427.7h0M451.3 428.4h0M452.9 427.7h0M449.5 432.9h0M452.2 432h0M454.4 426.4h0M453.1 425.4h0M453.2 424.7h0M453 423.6h0M453.6 432.4h0M452.9 427.4h0M453.6 428h0M450.6 424h0M449.4 423.9h0M452.2 427.7h0M449.5 424.2h0M448.5 425.9h0M453.9 429.8h0M450.9 432.1h0M451.8 431.8h0M452.3 431.5h0M451.7 427h0M450.7 424.6h0M451.4 421h0M452.4 427.3h0M453.8 430.9h0M453.8 421.4h0M448.3 425h0M453.8 431.6h0M451.5 423.3h0M452.9 427.6h0M453.7 424.9h0M451.7 428h0M453.2 429.5h0M449.7 424.4h0M448.5 430.8h0M450.3 425h0M449.6 427.7h0M452.5 428.1h0M453.8 425h0M449.7 429.7h0M453.2 424.4h0M449.5 423.3h0M453.7 426.2h0M448.2 423.6h0M450.3 422.3h0M450.3 426.9h0M448.7 427.2h0M449.6 429.1h0M451.2 428h0M450.9 422.5h0M450.3 422.7h0M452 425.4h0M450 426.1h0M448.7 430.7h0M453.7 422.8h0M448.2 429.2h0M451.8 422.9h0M453.6 425.1h0M453.4 432.1h0M452.1 426.1h0M451.6 425h0M454.1 420.9h0M451.4 431.1h0M454.3 432.9h0M451.9 424.1h0M452 428.1h0M450.6 431.3h0M449.7 430.2h0M450.1 425.6h0M451.2 432.3h0M449.7 429h0M451.6 422.2h0M450.4 429.5h0M448.5 432h0M448.3 424h0M448.1 426.5h0M453.5 427.1h0M453.8 425.6h0M448.6 427.7h0M451.2 428h0M452.7 432.5h0M450.3 426.7h0M451.2 428.5h0M452.9 425.9h0M454.3 431.8h0M452 431h0M452 428.8h0M449.4 447.3h0M450.6 452.4h0M450 444.4h0M449.3 444.4h0M449.8 450.5h0M450.1 445.4h0M449.8 454.3h0M450.7 455.8h0M450.5 455h0M449.5 450.3h0M461 460h0M456.3 449.3h0M454.7 456.1h0M459.1 451.5h0M456.3 451.5h0M460.1 447.8h0M453.9 452.8h0M453.8 460.2h0M454.1 455.4h0M460.6 454.6h0M459.8 459.9h0M457.6 455.1h0M456.4 456.3h0M455.3 450h0M459.6 458.3h0M453.5 453.6h0M458 458.1h0M460.4 454.1h0M455.6 457h0M454.3 448.2h0M455.2 454.2h0M459.4 457.6h0M457.2 459.5h0M460.4 458.5h0M456 459.3h0M455.2 449.5h0M454.1 456h0M460.8 450.8h0M454.1 449.6h0M454.1 448.8h0M455.6 450.9h0M454.4 456.9h0M456.3 458.6h0M457.9 447.8h0M460.9 456.9h0M456.3 456h0M454.3 452.6h0M456.2 452.2h0M454.6 459.2h0M454.2 451.9h0M449.1 440.3h0M450.2 443.7h0M451.8 443.7h0M450.7 444h0M441.5 457.2h0M465.4 456.9h0M467 457.5h0M453.4 438.3h0" fill="none" stroke="#808a88" stroke-width="2" stroke-linecap="round"/>
<line x1="454.52" y1="418" x2="454.52" y2="469.2" stroke="#F8766D" stroke-width="1" stroke-opacity="0.6"/>
<line x1="458.31" y1="418" x2="458.31" y2="469.2" stroke="#00BFC4" stroke-width="1" stroke-opacity="0.5"/>
<circle cx="457.77" cy="454.83" r="1.5" fill="#00BFC4"/>
<circle cx="458.31" cy="453.48" r="1.5" fill="#00BFC4"/>
<circle cx="458.86" cy="452.13" r="1.5" fill="#00BFC4"/>
<circle cx="457.77" cy="455.85" r="1.5" fill="#00BFC4"/>
<circle cx="453.44" cy="427.45" r="1.5" fill="#F8766D"/>
<line x1="395" y1="418" x2="395" y2="469.2" stroke="#000" stroke-width="1.45"/>
<line x1="391.5" y1="433.2" x2="395" y2="433.2" stroke="#000" stroke-width="1.1"/>
<text x="388" y="435.72" text-anchor="end" fill="#404040" stroke="#404040">10</text>
<line x1="391.5" y1="450.1" x2="395" y2="450.1" stroke="#000" stroke-width="1.1"/>
<text x="388" y="452.62" text-anchor="end" fill="#404040" stroke="#404040">5</text>
<line x1="391.5" y1="467" x2="395" y2="467" stroke="#000" stroke-width="1.1"/>
<text x="388" y="469.52" text-anchor="end" fill="#404040" stroke="#404040">0</text>
<line x1="422" y1="469.2" x2="422" y2="472.7" stroke="#000" stroke-width="1.1"/>
<text x="422" y="481.52" text-anchor="middle" fill="#404040" stroke="#404040">49.5</text>
<line x1="449.1" y1="469.2" x2="449.1" y2="472.7" stroke="#000" stroke-width="1.1"/>
<text x="449.1" y="481.52" text-anchor="middle" fill="#404040" stroke="#404040">50.0</text>
<line x1="476.2" y1="469.2" x2="476.2" y2="472.7" stroke="#000" stroke-width="1.1"/>
<text x="476.2" y="481.52" text-anchor="middle" fill="#404040" stroke="#404040">50.5</text>
<line x1="503.3" y1="469.2" x2="503.3" y2="472.7" stroke="#000" stroke-width="1.1"/>
<text x="503.3" y="481.52" text-anchor="middle" fill="#404040" stroke="#404040">51.0</text>
<text x="492" y="425.02" font-weight="bold" stroke="#000">mRNA</text>
<text x="369.5" y="444" text-anchor="middle" font-size="9" transform="rotate(-90 369.5 444)" dy="2.97">&#8722;&#8201;log<tspan font-size="6.48" dy="2.25">10</tspan><tspan dy="-2.25">(p)</tspan></text>
<line x1="395" y1="544.25" x2="517.4" y2="544.25" stroke="#EBEBEB" stroke-width="1"/>
<line x1="395" y1="535.81" x2="517.4" y2="535.81" stroke="#EBEBEB" stroke-width="1"/>
<line x1="395" y1="527.38" x2="517.4" y2="527.38" stroke="#EBEBEB" stroke-width="1"/>
<line x1="395" y1="518.94" x2="517.4" y2="518.94" stroke="#EBEBEB" stroke-width="1"/>
<line x1="395" y1="510.5" x2="517.4" y2="510.5" stroke="#EBEBEB" stroke-width="1"/>
<line x1="395" y1="502.06" x2="517.4" y2="502.06" stroke="#EBEBEB" stroke-width="1"/>
<path d="M400.32 544.85L400.32 544.25L400.32 540.88L514.14 540.88L514.14 544.25L514.14 544.85Z" fill="#808a88"/>
<path d="M406.8 539.7h0M461.7 542.8h0M497.1 540.8h0M474.8 543.2h0M459.4 542.8h0M484.5 542.5h0M492.1 542.7h0M405.8 539.9h0M452.4 542.6h0M455.4 540.8h0M453.1 539.9h0M497.6 539.8h0M438.7 543.4h0M498 543.5h0M409 539.8h0M442.3 539.7h0M464.6 540.5h0M486 540.2h0M433.4 544.1h0M497.8 540.4h0M418.8 544h0M477.6 539.9h0M455.9 543.4h0M439.6 543.8h0M467.7 543.1h0M473.6 543h0M464.2 538.8h0M473.4 543.4h0M465.2 539.7h0M426.9 542.4h0M465 542.9h0M455.1 543.2h0M436.5 540.6h0M418.4 542.7h0M459.4 544.2h0M402.7 537.7h0M405.5 536.5h0M495.7 544h0M483.8 538.1h0M400.4 540.8h0M453.7 543.6h0M460.2 538.8h0M445.8 541.1h0M510.1 541.6h0M404.1 537.5h0M505.9 543.6h0M490.1 543.9h0M494.4 541.6h0M431 542.2h0M487.9 538.5h0M455.2 543h0M512.2 542.7h0M417.3 540.8h0M460.1 541.4h0M506.6 542.9h0M421.4 540.8h0M448.4 543.9h0M437 540.5h0M495.6 538.6h0M487.7 539.7h0M458 539.9h0M509.7 538.8h0M441 543.6h0M419 544.1h0M402.9 540.2h0M463 541.4h0M479.2 542.8h0M468.6 543.6h0M491.7 542h0M501.9 543.7h0M470.8 542.9h0M511.8 542.8h0M474.3 542.5h0M488.7 542.8h0M439.6 543.2h0M496.9 539.9h0M425.7 541.2h0M501.3 542.2h0M492.9 544.1h0M439.9 541.6h0M406 543h0M415.7 541.1h0M414.1 544.2h0M489.4 539.8h0M463 544.2h0M451.3 538.4h0M413.5 544.2h0M433.1 542.8h0M505.2 543.4h0M446.7 539.6h0M408.8 536.1h0M511.2 543.1h0M435.9 544.1h0M484.2 539.1h0M445.9 539.4h0M470.9 539.9h0M418.3 540.9h0M466.8 544h0M471 540.1h0M463.6 540.3h0M491.3 542.4h0M455.5 540.3h0M507.8 544.2h0M513.8 543.4h0M506.8 542.3h0M476.3 542.8h0M419.4 544.2h0M445.7 543.4h0M404.2 543.2h0M451 541.8h0M470.2 540h0M432.2 544.1h0M506.7 544.2h0M419.8 542.2h0M445.8 543.5h0M401.8 544.2h0M501.9 539.7h0M422.5 541.1h0M403.8 535h0M484.7 544h0M454.9 540.3h0M401.2 540.3h0M456.2 543.9h0M418.2 544.2h0M408.5 534.6h0M511.8 541.2h0M496.4 540.8h0M455.1 543.8h0M465.4 543.2h0M471.6 544h0M493.6 539.7h0M507.3 539.2h0M452.6 538h0M422.7 541.8h0M439.2 539.6h0M443.5 542.5h0M416.8 544.1h0M506 538.7h0M418 538.4h0M483.1 544h0M491.3 539.4h0M500.8 543.7h0M485.7 542.6h0M476.1 539h0M460.5 541.2h0M436.6 539h0M454.6 540.2h0M466.7 542.1h0M505.5 544.2h0M410.9 539.7h0M488.7 542.5h0M439.6 541h0M428.8 538.3h0M500.1 539.3h0M484.7 543.2h0M423.2 543.3h0M445.6 543.1h0M454 542.5h0M498.5 543.4h0M423.7 540.3h0M481.9 542.1h0M492.8 543.7h0M431.3 541.6h0M483.1 542.6h0M508.6 542.5h0M494.2 541.6h0M491.4 541.8h0M475.3 543.7h0M457.3 542.7h0M459.9 542.1h0M430.7 538.7h0M448.6 544.2h0M482.8 539h0M489.7 539.5h0M401.1 544.1h0M484.7 543h0M509.2 539.8h0M427.7 543.9h0M477 543.6h0M504.9 540.4h0M459.3 543.9h0M462.8 540.4h0M471.5 541.8h0M466.1 537.8h0M511.9 543.6h0M410.6 536.7h0M449.7 541.2h0M426.1 538.3h0M490.2 541.9h0M421.9 540.7h0M426.9 543.9h0M479.9 544h0M431.8 538.1h0M455.2 543.9h0M483 543.1h0M404.3 544.2h0M414.7 541.3h0M486.3 543.2h0M414.5 543h0M468.8 540.9h0M490.7 540.2h0M432.1 543.7h0M429.2 542.3h0M413.7 542.2h0M447.2 540.9h0M456.1 542.2h0M450.7 543h0M441.3 543.2h0M485.2 544h0M447.4 542.3h0M406.7 534.3h0M450.8 538.2h0M431.2 541.9h0M500.5 541.8h0M482.2 541.7h0M502.4 543h0M498.4 540.9h0M493.5 544.2h0M504.1 542.4h0M439.6 544.1h0M446.6 542.9h0M405.8 541.3h0M511.4 542.6h0M471.9 539h0M423.6 542.3h0M487.9 541.3h0M471.4 543.6h0M471.4 541.8h0M406.7 533.7h0M513.8 543.1h0M477.7 544h0M401.3 535.8h0M496.5 540.3h0M482.2 539.9h0M487.1 539.6h0M440.6 543.1h0M488.8 542.7h0M419.8 542.6h0M440.3 543.9h0M407.8 537.8h0M426.8 541.4h0M464.7 543.2h0M431.2 544.2h0M423.3 544.2h0M467.7 538.5h0M460.5 541.4h0M504.4 543.8h0M446.5 540.4h0M430.2 541.8h0M416.1 540.9h0M483.6 541.8h0M499.4 542.8h0M462.3 541.5h0M408.9 540.2h0M434.8 540.8h0M457 540.8h0M422.6 544.2h0M401.4 535h0M489.8 543.7h0M504.9 544.2h0M497.6 540.5h0M422.4 537.8h0M437 538.9h0M454.1 538.9h0M447.7 543.2h0M446.1 541.3h0M415 542h0M445.1 541.7h0M508.8 543.7h0M458.8 543.5h0M420.4 541h0M458.3 540.9h0M469.7 542.8h0M461.7 539.4h0M506.6 542.9h0M512.5 541h0M504.4 544.2h0M462.3 541.1h0M402.9 534.4h0M427.3 543.9h0M404.6 537.7h0M420.1 541.3h0M476.8 538.7h0M447.2 542.8h0M488.5 539.3h0M442.3 542.1h0M432.9 544h0M459.4 544.2h0M467.3 539.7h0M451.8 543h0M429.4 542.3h0M455.7 537.8h0M446.9 539.2h0M456.9 541.6h0M462.2 539.6h0M471.7 538.3h0M457.3 540.7h0M439.8 540.6h0M438.3 541.3h0M445.5 542.6h0M494.3 543.8h0M421.3 543.6h0M511 542.1h0M412.7 543.7h0M455.7 542.6h0M440.8 538.5h0M403 536.9h0M496.8 543.1h0M461.8 541h0M420.6 541.7h0M470.4 538.8h0M499 541.6h0M487.1 543.5h0M416.6 541.2h0M453.2 542.1h0M419.2 543.9h0M501.8 540.3h0M436.5 541h0M498 540.6h0M482.9 539.5h0M408.8 542.1h0M429.1 543.7h0M484.1 538.2h0M465.4 541.9h0M436.7 542.9h0M480.2 540.2h0M479.1 541.7h0M421.4 544h0M401.6 535.1h0M445.1 538.3h0M422.3 543.3h0M443.6 542.7h0M436.1 544.2h0M487.6 539.1h0M451 543.5h0M457 538h0M502.5 539.4h0M446.1 543.1h0M474.5 541.1h0M471.6 538.6h0M448.6 542.3h0M476.5 541.9h0M489.1 542.5h0M452.5 542h0M494.8 541.9h0M425.5 540.8h0M436.1 538.6h0M430.2 541.8h0M457.9 542.1h0M477.1 541.1h0M419.8 543.8h0M480.4 538.4h0M430.5 542.3h0M506.9 543.9h0M462.5 543.1h0M427.8 540.8h0M492.7 542.3h0M494.6 539.9h0M506.5 544.2h0M436.9 540.1h0M499.2 543.6h0M414.2 542.1h0M479.3 541.8h0M493.8 539.5h0M438.1 538.3h0M431.9 539.6h0M425.4 540.9h0M443.2 539.8h0M466.7 539.8h0M413.2 542.7h0M438.4 539.7h0M440 541.7h0M502.1 541.6h0M456.3 539.8h0M455.8 538h0M458.6 538h0M459.6 541.5h0M464.8 544.2h0M401.5 543.8h0M503.2 541.4h0M480.2 541.9h0M478.9 540.8h0M440.5 541.1h0M402.5 540.9h0M455.6 542.9h0M414.3 541.7h0M405.5 538.8h0M495.1 542.1h0M474.5 544h0M427.4 542h0M447.4 544.1h0M476.6 544.2h0M413.3 543.3h0M488 544h0M460.8 537.9h0M480.6 542.4h0M467.2 542.8h0M487.8 541.3h0M432.9 539h0M506.4 539.8h0M434.4 539.2h0M452.7 538.8h0M489.2 542.7h0M470.5 539.9h0M430.3 542.4h0M505.4 539h0M501.5 543.5h0M497.1 539h0M428 544.1h0M450.5 540.2h0M473 540.6h0M503.5 539h0M427.6 544.1h0M466 542.1h0M402.2 533.9h0M407.5 538.5h0M500.8 544.1h0M494 543.8h0M500.2 539h0M440.3 543.7h0M416.8 544.2h0M466.7 543.2h0M437.5 541.6h0M490.3 540h0M420.8 544h0M444 538.8h0M505.3 539.1h0M440.7 540.9h0M465.7 543.2h0M472.3 543.1h0M420.8 542.1h0M468.8 544.1h0M487.1 540h0M470.6 542.6h0M402.3 541.8h0M416.9 541.1h0M490.9 542.9h0M513.9 541.5h0M476.9 540.1h0M488.4 542.4h0M447.1 538.7h0M456.2 543.1h0M482.6 540.9h0M466.6 540h0M445 541.3h0M444.8 542.8h0M479.2 540h0M434.1 540.7h0M454.7 544h0M488.8 543.9h0M427 543.8h0M499.8 542.3h0M505.8 541.9h0M457 539.7h0M459.8 543.5h0M420.5 542.6h0M434.9 543.9h0M440.8 538.2h0M421.4 541.2h0M409 536.3h0M455.3 527.5h0M455 535.5h0M456.2 534.3h0M458.6 537h0M450.9 530h0M458.3 527.6h0M453.3 533.5h0M451.7 527.5h0M452.6 528.8h0M453.6 534.6h0M455.9 532.6h0M449.2 540.3h0M455.6 537.9h0M452.9 527.1h0M455.5 537h0M452.4 534.2h0M451.9 536.1h0M453.3 529h0M455.1 538.3h0M457.5 530.8h0M458.4 532.5h0M451.6 540.1h0M452.8 534.8h0M453.7 540.8h0M456 540.7h0M453.1 532.8h0M457.3 538.6h0M457 535.2h0M456.5 538.2h0M455.2 533.2h0M449.2 536.1h0M458 527.1h0M455.2 538.5h0M448.9 536.8h0M452.9 533.4h0M455.2 528.9h0M454.5 539.5h0M448.7 536.7h0M454.8 531.4h0M455.4 527.7h0M457.6 529.9h0M453.6 540.8h0M451.9 538h0M449 538.7h0M450.9 531.5h0M454.6 529h0M453.7 535h0M452 529.2h0M452.5 526.6h0M451.9 529.5h0M455.6 536h0M454.6 530.7h0M451.9 540.5h0M452.6 526.6h0M449.9 537.6h0M458 535.7h0M449.8 538.2h0M454.7 527.8h0M453.2 531.2h0M450.1 528.1h0M458.6 535.3h0M453 530.2h0M458.1 536.7h0M454.6 536.4h0M449.7 540.3h0M457.1 539.7h0M452.4 526.8h0M449.9 528.4h0M454.5 538.7h0M458 528.7h0M449 528.3h0M454.4 527.5h0M454.4 527h0M451.7 538.1h0M456.1 526.4h0M458.1 531.8h0M451.4 527.3h0M448.9 527.1h0M458.8 527.8h0M455.6 528.4h0M483.8 529.4h0M496.8 527.7h0M489.8 533.1h0M478.9 534.5h0M470.8 535.5h0M492.5 535.8h0M422 535.5h0M433.9 535.8h0" fill="none" stroke="#808a88" stroke-width="2" stroke-linecap="round"/>
<line x1="454.52" y1="495" x2="454.52" y2="546.47" stroke="#F8766D" stroke-width="1" stroke-opacity="0.6"/>
<line x1="458.31" y1="495" x2="458.31" y2="546.47" stroke="#00BFC4" stroke-width="1" stroke-opacity="0.5"/>
<circle cx="458.31" cy="543.07" r="1.5" fill="#00BFC4"/>
<circle cx="453.98" cy="525.35" r="1.5" fill="#F8766D"/>
<line x1="395" y1="495" x2="395" y2="546.47" stroke="#000" stroke-width="1.45"/>
<line x1="391.5" y1="510.5" x2="395" y2="510.5" stroke="#000" stroke-width="1.1"/>
<text x="388" y="513.02" text-anchor="end" fill="#404040" stroke="#404040">10</text>
<line x1="391.5" y1="527.38" x2="395" y2="527.38" stroke="#000" stroke-width="1.1"/>
<text x="388" y="529.89" text-anchor="end" fill="#404040" stroke="#404040">5</text>
<line x1="391.5" y1="544.25" x2="395" y2="544.25" stroke="#000" stroke-width="1.1"/>
<text x="388" y="546.77" text-anchor="end" fill="#404040" stroke="#404040">0</text>
<line x1="422" y1="546.47" x2="422" y2="549.97" stroke="#000" stroke-width="1.1"/>
<text x="422" y="558.77" text-anchor="middle" fill="#404040" stroke="#404040">49.5</text>
<line x1="449.1" y1="546.47" x2="449.1" y2="549.97" stroke="#000" stroke-width="1.1"/>
<text x="449.1" y="558.77" text-anchor="middle" fill="#404040" stroke="#404040">50.0</text>
<line x1="476.2" y1="546.47" x2="476.2" y2="549.97" stroke="#000" stroke-width="1.1"/>
<text x="476.2" y="558.77" text-anchor="middle" fill="#404040" stroke="#404040">50.5</text>
<line x1="503.3" y1="546.47" x2="503.3" y2="549.97" stroke="#000" stroke-width="1.1"/>
<text x="503.3" y="558.77" text-anchor="middle" fill="#404040" stroke="#404040">51.0</text>
<text x="492" y="502.52" font-weight="bold" stroke="#000">Ribo</text>
<text x="369.5" y="521.12" text-anchor="middle" font-size="9" transform="rotate(-90 369.5 521.12)" dy="2.97">&#8722;&#8201;log<tspan font-size="6.48" dy="2.25">10</tspan><tspan dy="-2.25">(p)</tspan></text>
<line x1="395" y1="621.25" x2="517.4" y2="621.25" stroke="#EBEBEB" stroke-width="1"/>
<line x1="395" y1="612.88" x2="517.4" y2="612.88" stroke="#EBEBEB" stroke-width="1"/>
<line x1="395" y1="604.5" x2="517.4" y2="604.5" stroke="#EBEBEB" stroke-width="1"/>
<line x1="395" y1="596.12" x2="517.4" y2="596.12" stroke="#EBEBEB" stroke-width="1"/>
<line x1="395" y1="587.75" x2="517.4" y2="587.75" stroke="#EBEBEB" stroke-width="1"/>
<line x1="395" y1="579.38" x2="517.4" y2="579.38" stroke="#EBEBEB" stroke-width="1"/>
<path d="M400.32 621.85L400.32 621.25L400.32 618.9L514.14 618.9L514.14 621.25L514.14 621.85Z" fill="#808a88"/>
<path d="M504.5 620.7h0M464.4 619.5h0M440.9 617.8h0M493.4 618.5h0M401 621h0M429.7 617.3h0M474.5 618h0M445.3 620.9h0M429.2 619.8h0M443.1 616.9h0M450.5 618.7h0M468.8 621.2h0M498.2 618.1h0M506.9 619.5h0M480.1 617.1h0M493.6 621.2h0M493.8 620.1h0M402.5 619.2h0M401.6 617.3h0M476.5 619h0M505 620h0M487.9 620.2h0M513.6 617.9h0M475.1 619.2h0M474.9 621.2h0M433.6 621.2h0M500.9 618.3h0M441.9 620.5h0M514 619.8h0M404.2 620.1h0M481.3 618.4h0M490.5 620.5h0M479 616.2h0M507.9 617.6h0M488.7 619.8h0M465.2 621.2h0M443.8 618.6h0M448.5 620.9h0M454.5 618.1h0M441.2 620.6h0M489.1 620h0M413.1 618.1h0M408.9 619.6h0M442.3 616.8h0M484.9 620.3h0M472.9 620.4h0M481.7 617.2h0M401.3 620h0M468.9 616.4h0M407.1 618.6h0M482.6 621h0M414.1 620.9h0M449.6 618.4h0M417.1 619.6h0M464.5 618.8h0M486.4 619.5h0M466.5 620.5h0M500.9 619.3h0M452.3 618.9h0M494.2 620.4h0M419.6 615.6h0M436.6 621h0M512.2 617.9h0M470.5 620.5h0M403.6 617.9h0M484.5 620.4h0M434.3 617.7h0M444.2 616.5h0M468.8 621h0M463.1 619.2h0M415.1 621.1h0M443.2 618.1h0M461.3 616.5h0M401.2 618.7h0M492.8 621.1h0M436.4 617.5h0M419.8 618.2h0M433.2 619.9h0M510 620h0M414.8 618.7h0M478.6 621.2h0M480.8 621.2h0M400.7 618.5h0M501 621.2h0M468.9 621.2h0M408.6 617.1h0M423.6 616.8h0M402.8 621.2h0M497.6 618.4h0M482 620.7h0M444.6 619.8h0M438.3 620.7h0M464.6 621.2h0M426.3 619.1h0M472.3 618.1h0M450.9 617.3h0M502.4 617.4h0M473.1 616.6h0M431.3 619.4h0M469 618.1h0M512.5 621h0M506.5 620.8h0M455 621.2h0M419.5 619.7h0M486.7 621.2h0M413.1 620.1h0M445.5 620.7h0M506.6 619.9h0M474.3 616.1h0M401.1 620.8h0M438.4 618.1h0M450.3 619.4h0M463 618h0M451.1 615.4h0M454.2 618.3h0M470.5 620.8h0M426.1 618h0M416.5 621h0M452.5 619.2h0M500 619.1h0M425.2 619.3h0M479.1 618h0M500.5 620.3h0M495.1 619.5h0M511.8 617.2h0M448.9 621h0M418.2 617.3h0M501.6 619h0M482.3 618.7h0M433.2 619.2h0M427.3 617.7h0M502.3 619.7h0M434.9 620.5h0M507.7 620h0M404.1 617.3h0M474.9 615.7h0M478 617.1h0M442.3 619.4h0M429 621.2h0M423.1 620.7h0M447.3 620.7h0M442.3 621.1h0M402 621h0M480.2 620.7h0M401.3 617.2h0M486 618.6h0M423.4 621.1h0M488.2 621h0M502.8 619.3h0M512.2 619.7h0M447.6 616.2h0M435.4 617.5h0M507 618.6h0M477.7 620.5h0M434.7 619.8h0M503.9 618.4h0M455.4 621.2h0M481.4 618.9h0M476.7 619.7h0M441.6 620.5h0M482.8 620.8h0M420.2 614.8h0M460.9 616.8h0M511.9 620.8h0M412.4 621.2h0M416.5 618.1h0M481.6 620.2h0M412.3 619.5h0M499.9 617.6h0M458.6 616.1h0M418 617.9h0M463.3 620.7h0M459.7 620.4h0M474.3 617.2h0M410.1 621.2h0M452.1 617.4h0M504.9 618.7h0M473.2 620.9h0M487.1 620.8h0M475.2 617.7h0M509.8 620.1h0M468.1 618.9h0M444.7 618.9h0M466.8 620.9h0M482.5 621h0M424.6 618.5h0M454.3 621.1h0M424.8 620.1h0M480.9 617.5h0M455.8 621h0M424.5 618.6h0M424.4 617.1h0M471.3 615.8h0M451.8 621.1h0M484.3 619h0M438.2 619.1h0M427.7 617.9h0M497.7 618.6h0M478.4 617.3h0M454.4 619.5h0M474.4 621.1h0M464.6 619.1h0M417.3 620.1h0M472.4 618.4h0M495.7 620.9h0M495.8 618.5h0M414.5 621.2h0M490.4 621.1h0M499.9 620.1h0M496.8 620.7h0M511.6 618.6h0M419.7 619.1h0M478.1 618.6h0M480.1 619.4h0M444.8 617.2h0M507.4 620.7h0M440 618.9h0M484.3 618.5h0M512.7 618.7h0M462.7 620.9h0M446.7 619.2h0M436.4 618.6h0M493.6 620.5h0M457.3 619.4h0M430.4 620.7h0M454.1 620.3h0M470.2 620.7h0M406.8 616.6h0M469.2 619.8h0M444.2 619.5h0M437.9 616.7h0M405.2 617.8h0M411.5 618.8h0M480.8 620.8h0M509.5 620.9h0M512.1 620.8h0M445.4 621h0M441.1 616.2h0M467.6 617.4h0M423.4 616.4h0M452.7 620.2h0M419 611.8h0M436.8 617.6h0M513 620.2h0M443.8 619.6h0M405.7 620.8h0M504.5 621.2h0M422.4 616.6h0M463.6 619.2h0M409.2 620.5h0M503.7 619.9h0M463.2 620.1h0M447.8 617.4h0M499.5 618.7h0M457.2 618.5h0M486.9 620.3h0M457 618.9h0M482.2 620.9h0M452.4 616.7h0M469.3 615.5h0M422 619.4h0M481.9 620.9h0M467.2 618.9h0M473 615.1h0M480 616.7h0M433.3 619.3h0M405.6 621.2h0M406.2 616.7h0M496.8 620.8h0M486.7 619.1h0M424.2 619.2h0M502.9 620.1h0M496.1 621.2h0M428.5 617.6h0M480.3 620.5h0M436.7 619.4h0M492.6 619.6h0M442.3 621.2h0M458.4 620.9h0M492.3 617.5h0M470.8 617.8h0M410.7 620.6h0M478.5 617.4h0M415.4 620.2h0M470.5 617.4h0M463.8 619.9h0M460 617.2h0M456 621.1h0M461.8 616.2h0M494.8 620.7h0M477.2 617.3h0M513.1 619.1h0M472.4 621.1h0M440.5 618.2h0M444.5 620.8h0M496.8 617.6h0M484 619h0M457.3 619.1h0M405.4 618.3h0M477.4 619.7h0M408.4 617.3h0M468.9 616.3h0M432.2 620.1h0M412 619.4h0M459 620.1h0M437 620.8h0M499.7 618.2h0M483 619.3h0M437 619.5h0M482.8 617.8h0M402.2 621.2h0M510.5 620.6h0M447.9 616.6h0M494.3 620.8h0M461.3 621.1h0M443 620.2h0M481.7 621.1h0M474.7 619.4h0M460.2 620.7h0M462.6 616.4h0M458.1 620.6h0M449.3 620.6h0M469.2 619.8h0M513.7 621.2h0M468.5 619.6h0M420.9 620.5h0M508.8 620.1h0M490.2 619.9h0M463.7 616.3h0M413.5 618.5h0M451.7 618h0M407.6 618h0M418.1 618.6h0M499.6 618.8h0M424.8 619.3h0M470.1 621.2h0M483.7 617.7h0M410.7 619.2h0M422 616.7h0M464.4 618.2h0M464.4 619.6h0M482.6 621.2h0M449.8 615.3h0M430.5 619.4h0M492 618.5h0M439.3 616.5h0M448.8 620.1h0M473.9 617.4h0M471.5 619.4h0M406.4 618.6h0M444.4 621.1h0M478.3 617.9h0M404.5 617.5h0M471.9 615.7h0M417.6 620.4h0M470.2 619.2h0M485.4 618.4h0M480.3 621h0M455.9 615.8h0M487.9 621.2h0M405.3 620.8h0M444.5 616.7h0M470.2 616h0M453.4 621h0M486 620.7h0M470.7 620.7h0M402.8 619.9h0M447.4 616.7h0M452.7 617.3h0M475.2 617.5h0M419.7 619.7h0M509.1 617.4h0M470.5 617.6h0M417.1 616.6h0M504.2 619.4h0M405.2 617.2h0M427.6 618h0M427.2 618.5h0M430 619.6h0M429.4 617.9h0M435 617.6h0M507.5 618.1h0M504.9 620.3h0M486.2 617.1h0M444.8 618.5h0M513.8 619.2h0M478.8 620.5h0M443.9 616.8h0M461 615.8h0M497.2 618.4h0M412.1 617.9h0M433.6 621.1h0M510.2 618.9h0M413.2 620.8h0M437.9 617.4h0M480.5 620.1h0M414.7 619.9h0M495.4 619.5h0M464.8 616.3h0M508.3 618.3h0M448.7 620.6h0M442.2 616.6h0M465.9 620.4h0M437.3 620.4h0M421.6 617.7h0M485.2 621.1h0M402.9 619.2h0M423.9 621h0M507.4 621.1h0M491.1 619h0M432.1 619.1h0M434.5 620.2h0M422.8 621.2h0M497.3 619.7h0M439 617h0M486.2 617.6h0M514.1 620.7h0M411.3 619.4h0M422.8 618.9h0M481.8 618.1h0M496.4 621h0M413.2 620.1h0M438.3 620h0M424 620.2h0M464.8 620.3h0M470.2 619.5h0M436.5 619.7h0M450.8 619.7h0M426.7 621.1h0M444 621.2h0M449.4 618.1h0M483.2 620.3h0M431.6 621.1h0M406.6 620.8h0M477.4 619.4h0M490.1 620h0M502.4 621.2h0M505.8 620.4h0M407 619h0M439.6 620.5h0M497.9 611.2h0M500.6 614.2h0M508.7 610.5h0M511.4 611.9h0M463.7 614.5h0M462.6 614.2h0M419.9 616.1h0M419.5 612.6h0M420.3 615.9h0M418.5 615.8h0M418.1 614.1h0M419.3 611.8h0M417.9 612.9h0M420.7 611.7h0M420.9 611.7h0M418.1 612.3h0M420.1 614h0M420.8 613.5h0M420 614.4h0M418.8 611.1h0" fill="none" stroke="#808a88" stroke-width="2" stroke-linecap="round"/>
<line x1="454.52" y1="572" x2="454.52" y2="623.47" stroke="#F8766D" stroke-width="1" stroke-opacity="0.6"/>
<line x1="458.31" y1="572" x2="458.31" y2="623.47" stroke="#00BFC4" stroke-width="1" stroke-opacity="0.5"/>
<circle cx="458.31" cy="616.23" r="1.5" fill="#00BFC4"/>
<circle cx="453.98" cy="615.89" r="1.5" fill="#F8766D"/>
<line x1="395" y1="572" x2="395" y2="623.47" stroke="#000" stroke-width="1.45"/>
<line x1="391.5" y1="587.75" x2="395" y2="587.75" stroke="#000" stroke-width="1.1"/>
<text x="388" y="590.27" text-anchor="end" fill="#404040" stroke="#404040">10</text>
<line x1="391.5" y1="604.5" x2="395" y2="604.5" stroke="#000" stroke-width="1.1"/>
<text x="388" y="607.02" text-anchor="end" fill="#404040" stroke="#404040">5</text>
<line x1="391.5" y1="621.25" x2="395" y2="621.25" stroke="#000" stroke-width="1.1"/>
<text x="388" y="623.77" text-anchor="end" fill="#404040" stroke="#404040">0</text>
<line x1="422" y1="623.47" x2="422" y2="626.97" stroke="#000" stroke-width="1.1"/>
<text x="422" y="635.77" text-anchor="middle" fill="#404040" stroke="#404040">49.5</text>
<line x1="449.1" y1="623.47" x2="449.1" y2="626.97" stroke="#000" stroke-width="1.1"/>
<text x="449.1" y="635.77" text-anchor="middle" fill="#404040" stroke="#404040">50.0</text>
<line x1="476.2" y1="623.47" x2="476.2" y2="626.97" stroke="#000" stroke-width="1.1"/>
<text x="476.2" y="635.77" text-anchor="middle" fill="#404040" stroke="#404040">50.5</text>
<line x1="503.3" y1="623.47" x2="503.3" y2="626.97" stroke="#000" stroke-width="1.1"/>
<text x="503.3" y="635.77" text-anchor="middle" fill="#404040" stroke="#404040">51.0</text>
<text x="486.25" y="579.77" font-weight="bold" stroke="#000">Protein</text>
<text x="369.5" y="598.12" text-anchor="middle" font-size="9" transform="rotate(-90 369.5 598.12)" dy="2.97">&#8722;&#8201;log<tspan font-size="6.48" dy="2.25">10</tspan><tspan dy="-2.25">(p)</tspan></text>
<line x1="395" y1="698.5" x2="517.4" y2="698.5" stroke="#EBEBEB" stroke-width="1"/>
<line x1="395" y1="691.25" x2="517.4" y2="691.25" stroke="#EBEBEB" stroke-width="1"/>
<line x1="395" y1="684" x2="517.4" y2="684" stroke="#EBEBEB" stroke-width="1"/>
<line x1="395" y1="676.75" x2="517.4" y2="676.75" stroke="#EBEBEB" stroke-width="1"/>
<line x1="395" y1="669.5" x2="517.4" y2="669.5" stroke="#EBEBEB" stroke-width="1"/>
<line x1="395" y1="662.25" x2="517.4" y2="662.25" stroke="#EBEBEB" stroke-width="1"/>
<line x1="395" y1="655" x2="517.4" y2="655" stroke="#EBEBEB" stroke-width="1"/>
<path d="M400.32 699.1L400.32 698.5L400.32 692.7L514.14 692.7L514.14 698.5L514.14 699.1Z" fill="#808a88"/>
<path d="M469.7 684h0M417.7 696h0M473.3 693.3h0M490.5 693.9h0M492.7 695h0M511.6 684.9h0M408.5 690.3h0M510.8 689.9h0M400.8 689.3h0M497.8 694.5h0M441.7 686.5h0M452.5 688.6h0M430.1 691.4h0M498.1 698h0M493.5 695.8h0M414.9 696.1h0M510.9 687.6h0M469 687h0M451.1 693.6h0M448.5 686.6h0M507.2 687.5h0M494.5 691h0M437.7 684.7h0M416.9 690.9h0M486.8 684.5h0M484.5 685.6h0M488.8 686.9h0M476.4 695.8h0M474.9 693h0M470 690.4h0M500.2 689.9h0M478.1 688h0M476.7 687.1h0M499.2 691.9h0M453.7 690.6h0M417.1 694.5h0M464.3 692.1h0M459 688.2h0M458.6 688.6h0M453 696.4h0M418.5 690.2h0M451.5 686.4h0M439.2 687.5h0M424.4 689.1h0M508.8 678h0M446.6 697.4h0M475.1 686h0M483.9 686h0M401.8 692.9h0M503.6 697h0M466.2 693.6h0M402.8 688.1h0M436.7 697.7h0M439.4 684.7h0M482.8 690.6h0M435.1 688.3h0M448.9 696h0M483.4 691.2h0M514.1 688.1h0M426 693.6h0M411.2 697.2h0M505.8 687.8h0M423.9 693.8h0M416.3 696.4h0M482.7 686.3h0M462.8 692.7h0M494.5 688.8h0M421.1 689.7h0M463 697.4h0M513.9 691.9h0M490.1 689.8h0M407.5 691.3h0M491 691.9h0M490.4 691.9h0M481.6 686.6h0M412.6 695.7h0M504.4 684.5h0M417.5 690h0M415.2 697.9h0M425.7 691h0M444.4 690.6h0M464.8 687.7h0M494.5 697.4h0M514 692.1h0M463.2 692.5h0M440.8 692.1h0M439.1 687.3h0M446.6 691.4h0M429.5 690.7h0M432.4 695.3h0M512.8 689.7h0M432.7 689h0M488.5 698.3h0M400.8 695.7h0M471.9 687.8h0M479.4 696h0M514 694.9h0M462.9 695.5h0M502.7 697h0M462.2 697.2h0M491 693.2h0M404.7 687.8h0M446.3 686.8h0M411.6 689h0M437.5 685.3h0M437.7 689.7h0M485.4 697.4h0M477.2 684h0M507.8 682.6h0M497.6 697.7h0M402.1 689.5h0M485.8 692.6h0M448.4 698.4h0M476.1 697h0M478.2 695.6h0M414 688.6h0M417.8 690h0M410.9 696.3h0M452.8 688.2h0M504 693.2h0M500.3 690.7h0M465.2 692.1h0M428.1 698.2h0M490.9 698h0M513.8 689h0M489.1 694.6h0M481.7 696.1h0M420 690.4h0M503.1 688.9h0M427.1 697.9h0M421.4 697.2h0M458.4 693.2h0M461.9 696.5h0M434.6 686.4h0M432.5 693.8h0M435.3 695.8h0M486 696.4h0M416.6 698.4h0M424.6 694.1h0M440.9 691.6h0M459.6 696.9h0M421.6 698.5h0M421.1 688h0M463.1 689.3h0M469.4 685.1h0M503.2 687.8h0M500.4 692.9h0M480.4 685.5h0M443.6 697.7h0M414.8 694.7h0M430.5 691h0M496.1 698.3h0M481.3 686.4h0M490.2 697h0M437.5 698.2h0M475.8 685.3h0M508.7 681.6h0M497 696.3h0M411.6 696h0M449.1 685.9h0M468.9 698.2h0M506.2 686.4h0M429.3 697.1h0M508.7 696.7h0M456.7 687.3h0M449 686h0M468.2 692.8h0M410.2 698.2h0M481.7 698.2h0M442 695.4h0M449 697.9h0M512.7 689.9h0M492.9 698.4h0M472.2 694.2h0M445.2 689.1h0M494.4 696.6h0M464.1 692.1h0M461.7 693.2h0M464.2 690.1h0M463.1 688.2h0M458 690.8h0M402.3 695.2h0M498.2 693.9h0M445.3 697.2h0M412.1 697.2h0M453 698h0M496.6 697.4h0M446.5 695.7h0M463.4 691.7h0M401.4 697.7h0M457.2 698h0M484.4 696.2h0M416 685.9h0M426.8 690.3h0M447.1 698h0M509.6 698.1h0M452.5 690.7h0M434.8 691.6h0M499.4 694.1h0M483.4 684.4h0M450.5 694.1h0M486 689h0M419.4 685.9h0M472.3 694h0M428.7 695.1h0M484.4 683.6h0M412.4 696h0M465.6 691.4h0M432 695.3h0M408.9 696.3h0M409.3 694.9h0M498.3 691.6h0M459.4 698.2h0M432.5 691.2h0M473.3 691.2h0M404.9 692.9h0M400.9 693h0M452.5 694.7h0M445.3 697h0M400.4 694h0M403.6 693.1h0M420.5 695.7h0M446.8 691.6h0M508 698.5h0M404 695.2h0M471 686h0M467.6 693.8h0M509.7 694h0M424 691.5h0M485.8 683.3h0M459.4 687.2h0M472.5 684.4h0M409.3 697.7h0M482.4 693.3h0M431 694.5h0M464.2 698.4h0M492.7 693.8h0M414.4 689.8h0M447.9 697.6h0M440.8 691.7h0M507.9 690h0M441.9 691.9h0M462.6 696.3h0M471.5 687.3h0M486.6 696.3h0M436 698.1h0M423.4 693.5h0M501.8 691.5h0M471.8 686.8h0M414.8 694.5h0M401.2 695h0M410.6 697h0M502.3 696.4h0M404.6 693.5h0M464.1 690.5h0M440.9 686.1h0M479.7 698h0M482.9 697h0M474.3 696.3h0M419.5 698.2h0M410.8 693.3h0M476.2 694.6h0M482.9 692.2h0M466.8 690.3h0M444.3 697.6h0M435 691.4h0M417.8 694.3h0M472.4 698h0M446 693.1h0M466.9 691.8h0M441.6 697.9h0M413.8 697.8h0M509.8 688.7h0M502.5 695.6h0M444.5 694.7h0M498.6 698.5h0M459.6 688.1h0M417.5 685.8h0M440 695.6h0M473.3 694.5h0M420.5 688.9h0M467.4 690.4h0M417.5 690h0M477.5 694.3h0M438.3 698.4h0M404.5 695.8h0M485 683.2h0M460.8 694.1h0M473.7 694.4h0M495.7 693.6h0M410.1 695.3h0M491.6 688.7h0M431.7 698.5h0M467.6 690.2h0M500.9 691.9h0M489 689.8h0M464.6 694.8h0M498.9 689.1h0M507.7 685.2h0M450.2 692.9h0M462.8 691.6h0M472.9 697.2h0M499.1 688.9h0M469.3 694.6h0M471.3 687.6h0M513.5 683.4h0M408.2 698.3h0M456.9 691.3h0M436.4 694.1h0M455.1 690.1h0M465.4 688.8h0M512.3 691.8h0M435.9 697.4h0M443.1 692.6h0M471.5 698h0M477.8 685.1h0M441.1 694.9h0M453.7 696.7h0M424.1 697.7h0M485.2 696.6h0M409.2 690.8h0M509.2 693.7h0M443.3 697.1h0M410.9 688.9h0M478.3 685.2h0M440.8 687.8h0M451.4 694.3h0M470 693.1h0M494.6 688.9h0M471.2 690.5h0M508.1 698.4h0M467.7 692.3h0M477.7 696.4h0M441.8 695.6h0M469.4 685.7h0M513 689.7h0M513.7 688.4h0M485.7 689.6h0M432.9 698h0M414.8 689.9h0M445.5 695.9h0M482.1 696.6h0M507.4 684.2h0M505.6 690.4h0M467.4 698.4h0M423.3 696.5h0M498 694.6h0M434.2 691.1h0M502 688.3h0M453.6 687.5h0M464 687.9h0M510.8 696.5h0M472.9 696.4h0M442.9 685.7h0M480.6 688.7h0M458.6 695.2h0M492.3 696.5h0M436.3 689.4h0M441.5 685.3h0M487 696.6h0M492.7 693.5h0M434.8 686.3h0M410.1 692.6h0M503.1 688.4h0M446.9 698.2h0M500.1 696.8h0M467.7 698.4h0M480.5 682.3h0M411.7 690.7h0M408.1 696.9h0M440.9 690.7h0M482.7 693h0M449 697.9h0M457.8 692.4h0M426.9 690.5h0M512.2 696h0M469.8 691.5h0M512.4 690.4h0M461.9 689.9h0M444 691.2h0M445 694.9h0M415.4 688.9h0M452.3 695.5h0M445 698.3h0M469.8 697.1h0M431 685.8h0M442.8 685.5h0M487 697.7h0M490.1 696.4h0M404.3 691.5h0M507 681.3h0M478.5 692.4h0M448.3 693.2h0M425 692.4h0M445.7 695.6h0M504.3 697h0M488.1 690.9h0M422.7 691.8h0M421.3 687.3h0M430.8 693h0M437.3 684.7h0M415 692.6h0M507.9 696.1h0M445.3 685.7h0M400.4 693.7h0M482.9 696.3h0M432.5 695.8h0M454.4 693.4h0M472 683.9h0M503.9 696.9h0M487 697.8h0M473.8 683.1h0M401.2 695.6h0M497.6 693.3h0M418 691.9h0M497 693.1h0M458 689.1h0M500.1 688.7h0M458.2 696.9h0M409 687.8h0M467.7 685.2h0M452.6 694.9h0M502.9 688.7h0M468 693.1h0M457.9 697.9h0M433.6 692.4h0M413.9 697.8h0M414.6 693.5h0M422.2 685.8h0M462.2 691.3h0M501.8 688.7h0M486.2 685.8h0M418.9 692.8h0M510.2 697.9h0M448.8 686h0M436.4 692.1h0M488.5 686.4h0M445 692.5h0M495.9 687.3h0M436.2 698.5h0M403.4 690.7h0M504.7 691.9h0M465.5 691.9h0M469.3 698h0M509.8 671h0M490.9 689.6h0M504.2 688.7h0M442.9 695.8h0M473 687h0M403.2 696.4h0M427.1 696.5h0M480 685.9h0M416.3 695.5h0M477.9 691.3h0M475 685.3h0M426.6 693.9h0M440.8 688.3h0M493.6 698.3h0M485.5 685.1h0M419.7 694.9h0M462.9 692.2h0M419.7 693.2h0M498.8 697.9h0M477 689.7h0M419 689.9h0M455.6 695.3h0M414.8 692.4h0M467.1 695.8h0M501.7 694.6h0M442.1 698.5h0M444.7 693.5h0M403.9 687.2h0M407.8 693.9h0M455.8 689.9h0M415.7 687.6h0M465.1 698.4h0M480.5 689.9h0M434.1 696.7h0M408.7 688.9h0M467.9 695h0M446.2 687.8h0M452.5 697.5h0M498.5 687.4h0M410.5 692.7h0M461 688.2h0M407.9 695.5h0M470.1 692h0M514 689.2h0M469.9 697.6h0M419.1 695h0M463.6 685.2h0M409.6 696.7h0M406.8 696.8h0M419.9 684.6h0M408.5 691.7h0M447.7 695.7h0M446.8 686.1h0M464.8 689.4h0M476 696.3h0M423.1 692.9h0M491.1 698.3h0M425.8 689.5h0M424.7 691.4h0M411.3 690.4h0M480.5 695.5h0M454.5 691h0M475.1 688.8h0M464 691.7h0M491.7 687.5h0M475.6 692.1h0M466 698.3h0M489.6 695.8h0M421.7 698.1h0M441.1 691.9h0M432.6 692.8h0M436 696.7h0M435.5 687.7h0M446.4 687.2h0M484.3 684.4h0M409.7 691.6h0M456.1 687.1h0M456.4 687.9h0M459.5 682.6h0M459.8 684.1h0M458.2 684h0M460 688.2h0M458.4 680.3h0M455.2 684.8h0M459.8 682.6h0M460.4 688.4h0M459.7 689.6h0M454.8 685.5h0M457.3 686.6h0M457.7 678.7h0M458.6 686.2h0M456 685.3h0M459.7 678.2h0M460.2 683.2h0M457 688.6h0M459.1 683h0M454.8 681.8h0M454.9 684.8h0M458.3 675.1h0M456.8 688.1h0M458.4 689.8h0M460.1 686.2h0M460.5 684.5h0M457.7 675.1h0M454.7 682h0M455 681.2h0M455.3 679.8h0M456.3 686.9h0M458.2 689.8h0M454.7 690.4h0M459.1 678.8h0M459.3 689.3h0M457.3 683.1h0M459.8 684.3h0M459.9 683.5h0M455 683.3h0M460.4 690.7h0M457.1 678.9h0M457.8 688.9h0M458.2 690.1h0M459.7 686.7h0M456.7 675.9h0M457.4 684.3h0M455 686.6h0M455.1 684.8h0M458.2 680.2h0M455 689.7h0M457.3 673h0M459 682.4h0M459.9 684.8h0M458 688.7h0M459.8 655.7h0M457.2 662.3h0M458.4 657.3h0M459.1 661.4h0M458.4 653.1h0M458.9 671.2h0M458.8 664.2h0M459.5 665.7h0M458.9 668.4h0M459.3 669h0M457.3 658.8h0M457.9 663.9h0M459 665.4h0M459.1 654.1h0M458.2 670.1h0M457.8 655.9h0M457.4 663.4h0M457 654.3h0M457 668.7h0M458.4 655.1h0M457.7 664.5h0M457.8 664.8h0M457.9 653.8h0M457.9 666.8h0M457.8 656.7h0M480.3 683.2h0M485.9 687.9h0M484 687.3h0M486.6 687.5h0M475 688.8h0M474 686.4h0M478.2 690.4h0M482.6 685h0M486.8 689.4h0M481.6 685h0M474.8 688.6h0M478.2 685.5h0M486.2 689.3h0M478.1 682.3h0M479.2 681.8h0M481.7 689.7h0M478.8 690.5h0M486.4 688.1h0M477 683h0M480.6 683.2h0M475.9 690.2h0M475.9 690.8h0M475.7 685.2h0M475.1 684.2h0M475.2 685.4h0M481.2 690.2h0M486.1 682.4h0M482.6 690.5h0M474.2 687h0M475 684h0M479.6 683.8h0M479.1 690.3h0M485.9 686.7h0M480.2 684.3h0M485.6 688.8h0M480.1 689.1h0M476.4 685.7h0M477.3 683h0M485.1 686.7h0M480.6 684.2h0M479.6 690.5h0M473.8 691h0M481 689.7h0M475.7 689.6h0M475.6 682.2h0M475.1 685.9h0M481.5 682.5h0M480.9 683.8h0M481.7 684.5h0M474.9 691h0M475.3 683.9h0M478.7 690.9h0M486.3 688.9h0M478.5 685.1h0M484.6 684.7h0M479.9 682.4h0M483.5 690.1h0M486.2 689.5h0M478.6 683.4h0M478.3 687.7h0M479.5 689.3h0M479 690.2h0M474.7 690.6h0M479.8 684.4h0M473.9 682.6h0M482.9 690.7h0M480.9 683.4h0M479.3 685.8h0M476.3 690.9h0M476.6 684h0M479.4 682.3h0M474 682.6h0M477 682.8h0M468.8 683.6h0M472.8 681.7h0M474.3 681.8h0M468.9 683.7h0M468.7 681.5h0M478.7 682.3h0M468.7 682.8h0M467.9 682.3h0M473.5 682.5h0M473.7 682.1h0M476.5 683.1h0M472.3 682.5h0M471 683.1h0M471.5 682.4h0M465.5 682.3h0M476.5 682h0M465.9 681.6h0M416.6 678.2h0M419.8 676h0M423.1 676h0M425.8 676.8h0M427.4 676.8h0M435.6 672.4h0M439.9 678.2h0M437.2 682.5h0M430.1 680.4h0M443.7 684h0M487 672.4h0M484.3 676.8h0M509.8 673.1h0M508.7 676.8h0" fill="none" stroke="#808a88" stroke-width="2" stroke-linecap="round"/>
<line x1="454.52" y1="649.75" x2="454.52" y2="700.69" stroke="#F8766D" stroke-width="1" stroke-opacity="0.6"/>
<line x1="458.31" y1="649.75" x2="458.31" y2="700.69" stroke="#00BFC4" stroke-width="1" stroke-opacity="0.5"/>
<circle cx="458.31" cy="650.65" r="1.5" fill="#00BFC4"/>
<circle cx="458.31" cy="652.83" r="1.5" fill="#00BFC4"/>
<circle cx="458.31" cy="651.74" r="1.5" fill="#00BFC4"/>
<circle cx="453.98" cy="698.5" r="1.5" fill="#F8766D"/>
<line x1="395" y1="649.75" x2="395" y2="700.69" stroke="#000" stroke-width="1.45"/>
<line x1="391.5" y1="655" x2="395" y2="655" stroke="#000" stroke-width="1.1"/>
<text x="388" y="657.52" text-anchor="end" fill="#404040" stroke="#404040">6</text>
<line x1="391.5" y1="669.5" x2="395" y2="669.5" stroke="#000" stroke-width="1.1"/>
<text x="388" y="672.02" text-anchor="end" fill="#404040" stroke="#404040">4</text>
<line x1="391.5" y1="684" x2="395" y2="684" stroke="#000" stroke-width="1.1"/>
<text x="388" y="686.52" text-anchor="end" fill="#404040" stroke="#404040">2</text>
<line x1="391.5" y1="698.5" x2="395" y2="698.5" stroke="#000" stroke-width="1.1"/>
<text x="388" y="701.02" text-anchor="end" fill="#404040" stroke="#404040">0</text>
<line x1="422" y1="700.69" x2="422" y2="704.19" stroke="#000" stroke-width="1.1"/>
<text x="422" y="712.77" text-anchor="middle" fill="#404040" stroke="#404040">49.5</text>
<line x1="449.1" y1="700.69" x2="449.1" y2="704.19" stroke="#000" stroke-width="1.1"/>
<text x="449.1" y="712.77" text-anchor="middle" fill="#404040" stroke="#404040">50.0</text>
<line x1="476.2" y1="700.69" x2="476.2" y2="704.19" stroke="#000" stroke-width="1.1"/>
<text x="476.2" y="712.77" text-anchor="middle" fill="#404040" stroke="#404040">50.5</text>
<line x1="503.3" y1="700.69" x2="503.3" y2="704.19" stroke="#000" stroke-width="1.1"/>
<text x="503.3" y="712.77" text-anchor="middle" fill="#404040" stroke="#404040">51.0</text>
<text x="485.75" y="656.77" font-weight="bold" stroke="#000">SCZ GWAS</text>
<text x="369.5" y="675.62" text-anchor="middle" font-size="9" transform="rotate(-90 369.5 675.62)" dy="2.97">&#8722;&#8201;log<tspan font-size="6.48" dy="2.25">10</tspan><tspan dy="-2.25">(p)</tspan></text>
<text x="456.4" y="724.56" text-anchor="middle" stroke="#000" font-size="8.5">Position (Mb)</text>
<text x="518" y="529.96" stroke="#000" font-size="7.1">Credible</text>
<text x="518" y="537.76" stroke="#000" font-size="7.1">sets</text>
<circle cx="519.8" cy="549.5" r="1.3" fill="#F8766D"/>
<text x="529.3" y="552.06" stroke="#000" font-size="7.1">1</text>
<circle cx="519.8" cy="556.3" r="1.3" fill="#00BFC4"/>
<text x="529.3" y="558.86" stroke="#000" font-size="7.1">2</text>
<text x="518" y="580.96" stroke="#000" font-size="7.1">Top SNPs</text>
<line x1="519.8" y1="589" x2="519.8" y2="595.8" stroke="#F8766D" stroke-width="0.5"/>
<text x="529.3" y="594.96" stroke="#000" font-size="7.1">1</text>
<line x1="519.8" y1="595.8" x2="519.8" y2="602.6" stroke="#00BFC4" stroke-width="0.5"/>
<text x="529.3" y="601.76" stroke="#000" font-size="7.1">2</text>
<text x="585.9" y="405.86" stroke="#000" font-size="7.1">Top SNP1: 13_50108644_G_A</text>
<text x="593.4" y="422.16" stroke="#000" font-size="7.1">Genotype</text>
<rect x="633" y="417" width="4.6" height="5" fill="#34505B"/>
<text x="637.7" y="422.16" stroke="#000" font-size="7.1">0</text>
<rect x="650" y="417" width="4.6" height="5" fill="#E2913F"/>
<text x="654.7" y="422.16" stroke="#000" font-size="7.1">1</text>
<rect x="667.5" y="417" width="4.6" height="5" fill="#14A1D6"/>
<text x="672.2" y="422.16" stroke="#000" font-size="7.1">2</text>
<line x1="600.2" y1="425" x2="600.2" y2="443.2" stroke="#34505B" stroke-width="0.9"/>
<line x1="600.2" y1="455.8" x2="600.2" y2="467.8" stroke="#34505B" stroke-width="0.9"/>
<path d="M599.4 463h0M601.1 438.4h0M599.8 442.8h0M599.2 456.1h0M598.6 438.6h0M602.1 455.1h0M599.7 462.4h0M600 425.9h0M599.9 455.7h0M600.9 452.4h0M599.8 439.2h0M600.8 448.4h0M598.9 452.4h0M599.8 431.7h0M600.1 449.9h0M600.9 431.2h0M599.6 464.9h0M599.5 454.5h0M599.6 459.9h0M600.8 436.9h0M601.5 449.6h0M601.2 454.2h0M600.2 459.6h0M602.2 456.4h0M600.3 467.5h0M598.9 439.9h0M601.6 437.4h0M600.7 439.9h0M599.4 441.8h0M599.9 431h0M600 440.1h0M601.2 465.3h0M599.3 446.6h0M599.5 425.9h0M600.7 453.2h0M600 456.4h0M601.7 438h0M599.2 451.8h0M599.5 456h0M599.4 447.9h0M601.3 454.9h0M599.8 434.5h0M600 463.9h0M600.4 439.1h0M599.2 449.4h0M600.3 461.6h0M600.5 435.6h0M601.9 443.2h0M599.5 443.8h0M601.9 455.2h0M598.4 444.8h0M600.2 442.1h0M600 438.9h0M601.2 461h0M601.4 454.1h0M600 434.6h0M600.6 439.4h0M600.6 445.3h0M602.4 453.1h0M601.4 448.1h0M598.8 442h0M600.8 443.3h0M600.6 430.8h0M599.3 466h0M600.9 446h0M600.3 438.7h0M599.9 451.1h0M600.9 447.8h0M600.6 432.7h0M599.7 435.9h0M599.2 440.5h0M601.8 445.1h0M599.6 426.3h0M601.8 443.7h0M599.5 467h0M601.8 443.4h0M601 431.9h0M601.5 448.4h0M599.1 455.4h0M600.9 445.4h0M602.1 453.2h0M598.7 459.6h0M601.3 463h0M600.2 454.3h0M600.5 442h0M601.4 442.9h0M600.2 455.1h0M601 458.2h0M599.7 440h0M600.9 445.6h0M601 460.5h0M599.7 464.2h0M600.2 428.4h0M599.2 449.9h0M599.7 445.8h0M600.1 426.3h0M599.8 443.9h0M600.3 459.9h0M601.8 448.5h0M599.8 460.6h0M599.9 444.1h0M600.6 466.3h0M601.6 438.8h0M599.4 454.5h0M600.5 425h0M600.5 467.8h0" fill="none" stroke="#34505B" stroke-width="1.8" stroke-linecap="round"/>
<rect x="597.05" y="443.2" width="6.3" height="12.6" fill="#fff" stroke="#34505B" stroke-width="1.3" fill-opacity="0.65"/>
<line x1="597.05" y1="449" x2="603.35" y2="449" stroke="#34505B" stroke-width="1.3"/>
<line x1="607.5" y1="437.7" x2="607.5" y2="447" stroke="#E2913F" stroke-width="0.9"/>
<line x1="607.5" y1="460.3" x2="607.5" y2="474" stroke="#E2913F" stroke-width="0.9"/>
<path d="M607.6 438.1h0M605.4 457.8h0M608.6 460.2h0M609.7 451.7h0M605.8 454.4h0M608.9 466.4h0M608.6 438.9h0M606.1 448.1h0M606.2 447.8h0M606.6 455.5h0M609.6 446.2h0M607.9 442.8h0M607.9 443h0M607.8 467.3h0M606.6 466.9h0M608 464.4h0M607.1 467.6h0M606.6 458.9h0M608.7 438.1h0M606.9 440h0M606.6 438.3h0M606 443.4h0M607.6 446.8h0M606.1 451.9h0M607.5 456.5h0M605.9 441.8h0M606.6 466.3h0M607.7 458.8h0M607.7 450.8h0M606.7 446h0M607.2 458.5h0M607.3 441.4h0M605.3 449.5h0M606.4 464.4h0M608.5 453.8h0M608.1 441.4h0M608.5 459.9h0M607.7 460.5h0M607.1 443.6h0M606.3 443.8h0M607.3 448.1h0M607 471.3h0M607.7 439.9h0M606.9 457.1h0M606.8 469.6h0M607.1 467.4h0M606.9 463.4h0M606.9 453.5h0M608.9 444.7h0M609.5 458.3h0M609.1 448.2h0M607.7 473.3h0M607.1 459.5h0M607.3 458.8h0M608.2 465.2h0M608.1 455.7h0M607.7 465.2h0M607.8 456.1h0M606.9 447.5h0M608.7 444.7h0M606.6 443.7h0M606.6 466.3h0M607.8 450.2h0M605.7 446h0M607.2 458.2h0M606 453.7h0M606.9 456.7h0M606 453.4h0M608.7 456.1h0M607 451.4h0M608.8 461.4h0M608 470.7h0M606.3 443.2h0M609.1 452.8h0M607 463.3h0M605.4 447.7h0M607.5 442.9h0M608.3 471.5h0M606.4 466.7h0M609.3 451.8h0M608.5 441.1h0M607.2 438.9h0M607.2 454.4h0M605.1 453.8h0M606.5 448.8h0M606.7 462.4h0M608.7 452.9h0M606.5 462.6h0M608.8 457.3h0M609.5 459.6h0M608.6 467.3h0M607.7 465.2h0M607.7 442.5h0M606.3 441.5h0M609.3 456.4h0M605.5 451h0M606.3 462.1h0M609.4 453.1h0M608.9 442.4h0M606.8 469.8h0M607.4 465h0M607.4 462.1h0M606.4 445.1h0M607.9 438.5h0M606.3 462.2h0M608.6 453.2h0M608.2 449.9h0M606.1 443.5h0M606.4 466.9h0M605.1 455.5h0M608.1 443.6h0M607.8 472.9h0M608 472.7h0M606.3 454.9h0M606.7 462.9h0M607.9 440.6h0M605.4 451.2h0M606.5 466.9h0M609.3 458.2h0M608.6 457.8h0M606.9 470h0M606.7 444.4h0M606.7 460.2h0M608.9 458.5h0M606.7 470.6h0M608.3 441.7h0M606.8 443.7h0M606.4 456.1h0M607.1 450.7h0M607.2 469.2h0M606.1 455.7h0M607 467.3h0M605.1 454.7h0M605.9 450.9h0M606.9 452.1h0M607.2 452.6h0M607.3 456.7h0M607.3 466.9h0M605.4 449.5h0M608.9 452.6h0M605.9 450.5h0M606.7 444.4h0M606.7 471.3h0M609.2 457.7h0M608.8 446.3h0M609 452h0M609.4 444.9h0M609.2 444.7h0M606.3 457.8h0M605.5 459.8h0M605.7 449h0M609.3 455.9h0M606.3 466h0M608.4 453.2h0M607.2 456.3h0M606.8 464.5h0M607.4 454.5h0M608.1 452.9h0M608.7 467.6h0M605.4 453.6h0M607.6 439.8h0M607.9 439.6h0M608.7 455.5h0M609.7 457.1h0M608.5 439h0M607.1 473.8h0M608.7 454.3h0M609.6 451.4h0M607.4 473.5h0M608.3 462.3h0M608.3 465.5h0M605.7 461.4h0M606.3 459.3h0M608.9 457.5h0M606.1 466.2h0M609.1 455.4h0M607.5 437.7h0M608 474h0" fill="none" stroke="#E2913F" stroke-width="1.8" stroke-linecap="round"/>
<rect x="604.65" y="447" width="5.7" height="13.3" fill="#fff" stroke="#E2913F" stroke-width="1.3" fill-opacity="0.65"/>
<line x1="604.65" y1="452.8" x2="610.35" y2="452.8" stroke="#E2913F" stroke-width="1.3"/>
<line x1="614.75" y1="445.2" x2="614.75" y2="457.3" stroke="#14A1D6" stroke-width="0.9"/>
<line x1="614.75" y1="467.3" x2="614.75" y2="482.3" stroke="#14A1D6" stroke-width="0.9"/>
<path d="M615.5 460h0M614.5 457.3h0M616.2 456.6h0M613.3 461.7h0M615.1 486.9h0M614.2 461.8h0M614.4 466.5h0M614.3 484.9h0M613.6 452.4h0M615.4 453.9h0M613.5 455h0M615.4 450.1h0M614.8 452.6h0M616.5 467.7h0M613.5 452.4h0M615.2 453.7h0M614.7 475.5h0M615.1 450.1h0M615.5 466.9h0M614.4 478.3h0M613.9 452h0M614.6 451.8h0M615.2 462.5h0M616.6 458h0M615.2 451.2h0M615.4 475h0M615.5 477.3h0M614.9 466.7h0M614.4 463.7h0M617 465.1h0M614.9 459.2h0M615.1 480.7h0M614.5 448.1h0M612.9 465.4h0M612.9 461.1h0M613.2 465.9h0M616.2 461.4h0M614.6 469.6h0M616.1 455.3h0M615.8 461.7h0M614.2 487.2h0M614.9 489.8h0M614 461.8h0M614.4 445.5h0M612.6 458.5h0M615.4 448.1h0M613.6 457.4h0M615.8 474.6h0M615.9 473.3h0M616.7 468.8h0M614.3 488.7h0M614.1 451.1h0M615.3 456.7h0M615.3 453.2h0M615 463.5h0M615.3 474.9h0M614.5 453.4h0M615.4 487h0M614.5 462.3h0M616.3 458.5h0M615.9 467.7h0M612.6 458.9h0M614.3 463.4h0M615.1 476.1h0M614.6 476.4h0M615.4 452.8h0M612.3 463.1h0M615.3 459.4h0M614.2 483.7h0M614.4 450.4h0M615.4 447.5h0M617 464.3h0M616 472.1h0M613.7 452.2h0M615.9 465.9h0M613.2 456.1h0M614.1 470.1h0M613.8 471.5h0M613.4 470h0M616.9 461.7h0M614.5 452h0M613.6 459.8h0M613.2 471.8h0M614.3 486.9h0M613.7 454h0M614.5 475.9h0M614.1 485h0M614.3 471.8h0M616 461.4h0M613.4 457.1h0M613.9 472.2h0M616.3 456.2h0M614.7 453.8h0M613.6 464.7h0M616.2 454.2h0M615.4 472h0M613.8 460.8h0M616.4 470.9h0M616.1 467.8h0M613.4 458.9h0M616.7 462.3h0M615.4 475.3h0M613 459.5h0M614.6 463.9h0M614.9 468.2h0M614.4 459.3h0M615.6 471.6h0M615.3 465.3h0M615.4 448.2h0M613.4 472.9h0M614.3 458.8h0M613.9 451h0M614.2 456.2h0M614.6 470.1h0M616.3 468.6h0M614.4 479h0M614.7 480.9h0M615.8 461h0M616.5 465.6h0M615.3 456.8h0M614.7 485.8h0M614.2 466.8h0M613.7 454.2h0M614.5 475.9h0M616 473.1h0M614 462.2h0M614.3 488.4h0M613.7 457.9h0M614.4 445.2h0M614.5 490.5h0" fill="none" stroke="#14A1D6" stroke-width="1.8" stroke-linecap="round"/>
<rect x="611.65" y="457.3" width="6.2" height="10" fill="#fff" stroke="#14A1D6" stroke-width="1.3" fill-opacity="0.65"/>
<line x1="611.65" y1="462.8" x2="617.85" y2="462.8" stroke="#14A1D6" stroke-width="1.3"/>
<line x1="627.25" y1="427.55" x2="627.25" y2="444.5" stroke="#34505B" stroke-width="0.9"/>
<line x1="627.25" y1="455.8" x2="627.25" y2="469" stroke="#34505B" stroke-width="0.9"/>
<path d="M627.1 461.3h0M626.9 454.1h0M628.9 456.6h0M629.5 448.1h0M627 425.6h0M627.4 431.4h0M627.5 464.8h0M626.4 449h0M626 438.9h0M627.7 439.6h0M626.9 436.4h0M627.5 466.5h0M626.2 460.3h0M627.4 455.4h0M626.9 451.8h0M629.1 445.3h0M626.6 433.9h0M626 444h0M627.7 463.3h0M626 453.8h0M627.3 466.2h0M628 446.2h0M627.3 428.5h0M629.6 447.4h0M626.1 456.8h0M626.2 455.8h0M626.2 448.2h0M625.8 449.8h0M625.8 454.7h0M627.8 448.5h0M626.2 459.9h0M625.3 445.7h0M625.6 457.3h0M628 452.5h0M627 430.8h0M625.7 441.4h0M629.4 451.9h0M628.6 454.2h0M628.9 448.1h0M626.7 464.6h0M626.3 451.2h0M626.1 445.5h0M628 430.9h0M628.1 438.1h0M628.6 445.4h0M628.9 451.6h0M629.2 454.8h0M626.5 442.5h0M627 437.9h0M627.8 447.1h0M629 443.2h0M625.9 451h0M625.5 457.2h0M628 448.1h0M629 446h0M627.4 467.2h0M627.2 444h0M627.1 445.2h0M625.5 445.1h0M627.2 468.5h0M627.9 457.5h0M627.8 456.7h0M627.5 461.5h0M628.2 454.8h0M627 436h0M626.6 467.7h0M626.3 448.8h0M628.4 446.6h0M625.9 449.6h0M627.2 462.5h0M626.6 464.6h0M627.2 441.9h0M627.1 440.9h0M627.1 432.5h0M628.6 440.9h0M626.5 447.4h0M627.3 442h0M626 443.2h0M627.5 446h0M628.8 444h0M625.2 453.8h0M627.9 425.7h0M627.6 465.2h0M628.5 447.3h0M625.9 441.4h0M626.5 449.5h0M626.5 453.6h0M626.4 464.5h0M627.4 447.5h0M627.8 460.8h0M628.6 453h0M626.3 452h0M629 456.3h0M624.9 451.1h0M627.3 425.6h0M627.8 430h0M626.9 428.6h0M625.4 442.9h0M626.3 461.7h0M625.5 442.7h0M627.7 439.4h0M626.5 447.4h0M627.8 429h0M627.6 466.8h0M627.2 425h0M627.3 469h0" fill="none" stroke="#34505B" stroke-width="1.8" stroke-linecap="round"/>
<rect x="624.15" y="444.5" width="6.2" height="11.3" fill="#fff" stroke="#34505B" stroke-width="1.3" fill-opacity="0.65"/>
<line x1="624.15" y1="449.5" x2="630.35" y2="449.5" stroke="#34505B" stroke-width="1.3"/>
<line x1="634.45" y1="431.4" x2="634.45" y2="449" stroke="#E2913F" stroke-width="0.9"/>
<line x1="634.45" y1="462" x2="634.45" y2="481.5" stroke="#E2913F" stroke-width="0.9"/>
<path d="M635.6 443.9h0M634.9 446.1h0M634.1 473.3h0M633.7 464.3h0M632.9 462.1h0M634.4 436.2h0M635.3 461.7h0M635.3 450.4h0M633.9 451.9h0M635.9 460h0M633.5 446h0M633.8 439.2h0M636.1 452.2h0M635.7 465.4h0M635.1 436.4h0M636.6 449.8h0M635.2 437.9h0M635.7 451.1h0M633.7 467.1h0M635.9 455.3h0M634.5 477.8h0M635.5 444.1h0M636 462.8h0M634.3 440.9h0M633.2 462.8h0M632.9 457.7h0M634.9 439.1h0M634.2 444.4h0M634.2 457.4h0M633.8 434.9h0M636.8 454.9h0M634.4 472.9h0M633.8 455.2h0M634.6 466.7h0M635 466.6h0M635.1 445.3h0M633.1 462.7h0M634.1 456.1h0M635.6 457.8h0M634.5 455.8h0M633.6 450.6h0M633.9 454.6h0M635.3 451.8h0M632.5 448.8h0M633.6 447.7h0M634.1 469.8h0M633.6 440.9h0M633.7 457.8h0M635.1 438.1h0M635.5 468.7h0M632.5 460.5h0M634.6 473.8h0M636.8 455.4h0M635.7 466.2h0M633.3 447.6h0M632.6 455.1h0M634.5 434.2h0M634.4 472.6h0M634.4 435.1h0M636.1 447.7h0M634.9 482.7h0M634.3 463.4h0M635.3 455.8h0M634.7 453.1h0M634 454.1h0M635.2 473.3h0M634.5 456.8h0M634.3 464.1h0M632.9 458.4h0M635.2 463.2h0M633.2 457h0M635 481.3h0M635.9 443.2h0M634.9 476.5h0M634.7 452.9h0M634.1 441.1h0M634.5 440h0M636.5 459.2h0M634.5 480.7h0M635.8 458.7h0M635.9 465.5h0M634.8 463h0M636.2 447.8h0M633.9 450.6h0M634.6 481.7h0M635.4 445.3h0M634.4 440.3h0M633 453.9h0M632.9 447.9h0M635.9 449.7h0M634.4 464.1h0M634.4 481h0M634.8 432.2h0M633.7 457h0M635.9 462.6h0M634.5 465.3h0M635.8 449.7h0M632.4 456.8h0M633.2 463.7h0M635 436.4h0M633.9 474.1h0M635.1 458.9h0M634.4 449.1h0M633.8 439.2h0M634 462.7h0M635.4 439.1h0M635 438.3h0M635.3 457.6h0M634.5 471.2h0M634.4 437.2h0M634.2 446.2h0M634.9 438.5h0M635.7 449.4h0M634 454.3h0M635.4 469.2h0M634.1 442.2h0M633.8 434.6h0M634.1 439.5h0M634.3 441.4h0M633.9 473.2h0M634.2 445.4h0M632.5 461.1h0M635.7 467.1h0M634.8 470.5h0M634.7 441.2h0M634.7 472.6h0M635 480.1h0M636.1 464.7h0M636.2 454.9h0M635.8 468.4h0M635.5 450.1h0M636.5 455.4h0M634.3 470.9h0M634 465.9h0M633 446.8h0M632.3 456.9h0M633.7 465.1h0M634.6 441.3h0M634.5 471.9h0M636.5 454.6h0M635 460.5h0M635 446.5h0M633.3 453.1h0M633 446.5h0M634.5 441.5h0M634.4 454.8h0M634.4 469.6h0M634.5 481.7h0M635 482.4h0M636.6 453.9h0M633.4 458.5h0M633.2 443.1h0M633.1 453.6h0M634.4 442.4h0M634.4 444.2h0M635.5 467h0M635.6 466.6h0M634.6 481.1h0M632.7 464.9h0M634.8 436.4h0M633.4 463.6h0M634 442.4h0M634.5 477.7h0M635.2 457.7h0M633.8 454.5h0M635.6 461.5h0M635.7 467.4h0M634.7 453.9h0M635 459.1h0M633.3 445.8h0M634 473.8h0M634.8 482.1h0M633.6 462.1h0M634.6 433.2h0M634.2 438.5h0M635.1 436.8h0M634 431.4h0M634.5 483h0" fill="none" stroke="#E2913F" stroke-width="1.8" stroke-linecap="round"/>
<rect x="631.65" y="449" width="5.6" height="13" fill="#fff" stroke="#E2913F" stroke-width="1.3" fill-opacity="0.65"/>
<line x1="631.65" y1="455.3" x2="637.25" y2="455.3" stroke="#E2913F" stroke-width="1.3"/>
<line x1="641.65" y1="441.5" x2="641.65" y2="452.8" stroke="#14A1D6" stroke-width="0.9"/>
<line x1="641.65" y1="464" x2="641.65" y2="476.6" stroke="#14A1D6" stroke-width="0.9"/>
<path d="M641.2 473.9h0M641.7 474.7h0M642.8 454h0M641.2 465.6h0M641.4 475.2h0M643.5 455.5h0M641.3 462.4h0M640.7 448.3h0M642.4 455.5h0M639.6 455.2h0M642.1 448.9h0M642.2 461.9h0M642.2 459h0M642.1 444.5h0M641.8 454.5h0M640.6 446h0M640.8 473.5h0M642.3 454.1h0M640.3 464.9h0M639.4 462.2h0M641.6 476.5h0M642.9 469.8h0M643.4 465.3h0M642.8 455.9h0M642.5 445.2h0M643 453.7h0M642.8 468.2h0M643.6 455.1h0M639.7 453h0M641.2 444.6h0M641 472.8h0M644 458.6h0M641.2 462.2h0M641.3 459.7h0M642.4 472.9h0M642.6 466.6h0M640.8 465.2h0M642 468.3h0M642.2 441.6h0M641.3 443.2h0M639.7 462.6h0M639.9 461.6h0M640.3 449h0M642.6 466.8h0M643.4 458.8h0M641.9 442.5h0M643.7 456h0M640.8 458.4h0M642.1 444.4h0M644 459.7h0M641.4 442.1h0M641.9 475.1h0M640.4 447.5h0M639.7 452h0M643.5 459.4h0M639.4 462.2h0M639.8 461.4h0M639.8 453.3h0M641.4 443.1h0M642.2 470.9h0M642.2 442.1h0M641.2 475.6h0M641.9 457.1h0M643.3 458.1h0M639.8 457.8h0M642.2 450.7h0M640.9 453.5h0M643.1 457.3h0M642.6 455.5h0M643.9 460.7h0M643.3 451.2h0M641.8 454.2h0M643.3 456h0M640.9 473.5h0M640.4 448.7h0M639.4 459.7h0M641.3 475.3h0M642.2 475.6h0M642.8 461.6h0M640.9 443.5h0M640.9 467.3h0M642.1 472.3h0M641.9 443.8h0M639.7 452.8h0M642.9 450.6h0M642.9 468.1h0M643 462.1h0M641.8 459.4h0M642.7 451.5h0M639.5 457.5h0M642.2 461.6h0M640.5 450.1h0M641.7 455.3h0M642.6 446.6h0M642.1 476.3h0M642 469.6h0M640.8 472.4h0M639.6 453.8h0M640 452.9h0M642.3 469.5h0M640 464.5h0M640.5 460.4h0M642.8 466.2h0M641.3 470.2h0M641.4 473.7h0M641.7 452.2h0M642.9 448.2h0M642.5 456.9h0M641.8 459.3h0M642.6 452.7h0M639.6 454.7h0M641.1 445h0M642.6 444.9h0M640.6 463.8h0M641.9 475h0M640.9 462.3h0M639.6 463.2h0M642.9 452.5h0M642.3 460.8h0M639.4 459h0M642.9 460.9h0M641.2 451.8h0M642.6 464.2h0M642.8 448.6h0M642.7 448.1h0M641.9 476.4h0M642.5 459.6h0M639.6 452.5h0M641.9 441.5h0M641.7 476.6h0" fill="none" stroke="#14A1D6" stroke-width="1.8" stroke-linecap="round"/>
<rect x="638.55" y="452.8" width="6.2" height="11.2" fill="#fff" stroke="#14A1D6" stroke-width="1.3" fill-opacity="0.65"/>
<line x1="638.55" y1="459" x2="644.75" y2="459" stroke="#14A1D6" stroke-width="1.3"/>
<line x1="654.2" y1="431.4" x2="654.2" y2="447" stroke="#34505B" stroke-width="0.9"/>
<line x1="654.2" y1="460.3" x2="654.2" y2="467.8" stroke="#34505B" stroke-width="0.9"/>
<path d="M652.6 464.5h0M653.3 436.6h0M656.2 448.4h0M652.3 458.1h0M654.6 435.1h0M653.4 451.7h0M654.2 454.5h0M653.8 437.2h0M651.8 452.1h0M655.2 459.5h0M652.6 444.8h0M651.8 452.5h0M654.1 456.9h0M653.6 450.9h0M653.5 448.4h0M653 466.3h0M654.3 454.2h0M655.5 466.2h0M653.4 456.1h0M653.3 436.2h0M653.5 454h0M654.8 440.9h0M656.5 451.4h0M653.7 455.1h0M653 461.2h0M652.8 444.9h0M654.4 436.9h0M652.6 459.7h0M655.1 456.3h0M653.6 447h0M656.1 450.1h0M653.7 433.5h0M654 455.3h0M655.1 450.6h0M652.8 449h0M654.6 446.6h0M652.5 460.6h0M655.1 467.5h0M653.3 450.9h0M655.6 448h0M654.9 442.5h0M652.7 451.9h0M656.2 448.8h0M654.5 453.5h0M654.9 467.1h0M654.1 462.9h0M652.6 456.3h0M654.9 446.4h0M654.3 440.9h0M655.2 465.4h0M656 456.3h0M656.2 458.8h0M653.7 433.8h0M654.8 465.5h0M656.1 459.5h0M653.7 455.9h0M653.1 447.6h0M655.7 457.6h0M654.8 458.4h0M656.5 454h0M651.9 455.6h0M656 458.4h0M652.4 456.2h0M653.2 458.1h0M652.3 460.2h0M653.4 466.6h0M656.2 448.4h0M655.5 455.2h0M655.5 441.6h0M656.1 445.1h0M652.7 446.9h0M656 462.1h0M652.3 453.8h0M653.9 437h0M654.5 453.6h0M653.4 452.1h0M653.3 435.1h0M652 450.3h0M654.1 440.3h0M653.5 444.8h0M654 449.5h0M655.8 448.4h0M655.5 459.2h0M653.4 435.2h0M651.9 457.6h0M653.8 443.2h0M653.7 463.6h0M655.2 450.1h0M655.9 447.1h0M654 445h0M654.8 433.3h0M655.6 460.6h0M653.7 448.6h0M656 446.6h0M653.2 441h0M654.2 435.1h0M653.8 462.6h0M652 453h0M653.4 452.4h0M652.2 450.6h0M653.1 453.8h0M655.5 447.4h0M655.3 440.7h0M653.1 440.6h0M653.9 431.4h0M654.4 467.8h0M654.2 485.4h0" fill="none" stroke="#34505B" stroke-width="1.8" stroke-linecap="round"/>
<rect x="651.05" y="447" width="6.3" height="13.3" fill="#fff" stroke="#34505B" stroke-width="1.3" fill-opacity="0.65"/>
<line x1="651.05" y1="453.3" x2="657.35" y2="453.3" stroke="#34505B" stroke-width="1.3"/>
<line x1="661.5" y1="432.7" x2="661.5" y2="447.7" stroke="#E2913F" stroke-width="0.9"/>
<line x1="661.5" y1="460.3" x2="661.5" y2="472.9" stroke="#E2913F" stroke-width="0.9"/>
<path d="M662.6 460.2h0M662 438.5h0M661.9 444.1h0M662.3 458.6h0M660.3 459.3h0M662.8 460.4h0M659.2 455.4h0M662.5 450.7h0M663.1 458.4h0M660.7 440.6h0M660.9 433.6h0M660.8 467.6h0M660.8 434.3h0M661.5 459.1h0M660.7 466.4h0M659.6 461.2h0M663.4 457.5h0M661.8 446.3h0M663.9 457.1h0M661.8 436.8h0M662.6 456.5h0M660 450.3h0M660.1 444.1h0M661.1 472.1h0M662.4 468h0M660.5 458.4h0M661.3 452.2h0M661.7 463.1h0M661.6 446.2h0M662 445.7h0M661.8 472.7h0M662 450.9h0M660.3 449.7h0M661.1 467.6h0M661.4 451.3h0M659.5 451.5h0M663.6 455.4h0M662.8 448.3h0M660.9 471.4h0M662 460.6h0M662.5 454.9h0M660.3 454h0M661.8 448.8h0M660.5 465.6h0M661.2 440.6h0M659.5 454.5h0M661.2 445.7h0M659.9 445.6h0M660.9 470.4h0M661.3 472.8h0M661.5 466.6h0M661.5 437.1h0M663 442.3h0M663.5 452.3h0M662 448.3h0M661.9 442.8h0M662.2 472.5h0M663.1 447.1h0M660.8 440.9h0M659.7 445.1h0M663.1 457.8h0M662.9 456.6h0M660.5 441.7h0M663.5 451.7h0M662.8 462h0M663 444.3h0M663.3 446h0M661.3 463.3h0M662.6 468.7h0M661.1 436.1h0M662.6 445.9h0M661 455.7h0M661.4 457.2h0M660.5 463.3h0M663.3 456.2h0M663.1 445.3h0M662.5 460.9h0M663.5 455.7h0M661.5 448.8h0M662.7 450.3h0M663 453.1h0M661.9 439.5h0M661.8 444.5h0M662.1 449.4h0M660.4 468.6h0M662.4 456.6h0M661.6 451.7h0M663 453.9h0M659.2 457.8h0M662.5 459.7h0M663.9 452.7h0M661.5 437.8h0M660.9 469.2h0M662.5 469h0M660.1 460.9h0M661.4 449.6h0M661.5 461.7h0M662.1 456.5h0M662.4 452.9h0M662.7 445.3h0M661.8 441.8h0M660.3 468.3h0M663.7 459.4h0M660.8 461.8h0M662.5 468.3h0M662.2 469.1h0M663.8 457.8h0M662.1 433.6h0M662.2 468.7h0M662.9 449.4h0M662.1 436.5h0M659.5 447.6h0M662.1 465.3h0M660.6 455.3h0M662.6 450.1h0M663 448.4h0M663.4 449.4h0M663.3 463.5h0M660.6 441.6h0M662.6 450.4h0M663.6 455.7h0M659.2 451.3h0M661.1 471.9h0M661.8 463.5h0M662.3 447.5h0M660.7 439.4h0M659.2 453h0M662.1 437.5h0M660.8 470.9h0M660.5 452.1h0M662 436.2h0M660.8 457.8h0M661 435.6h0M663.2 446.2h0M661.5 467.7h0M659.8 447.9h0M661.6 468.5h0M660.2 455.7h0M662 465.3h0M662.4 440.4h0M660.7 454.1h0M661.7 435.5h0M662.7 462.2h0M660.3 450.5h0M660.8 466.1h0M660.8 441.4h0M662.7 441.6h0M660.7 472.3h0M663.5 461.1h0M660.1 454.8h0M663 456.7h0M660.7 459.6h0M661.1 453.7h0M661.5 446.4h0M662.3 444.7h0M662.7 458.6h0M662.3 448.6h0M661.8 471.4h0M661.9 449h0M660.7 462.6h0M661.2 438.8h0M660.3 442.3h0M662.3 451.8h0M660.9 453.3h0M660.4 456.8h0M661.2 434.7h0M663 444.8h0M661.2 447.1h0M662.1 461.6h0M660.3 451.6h0M661.3 458.9h0M662.8 449.7h0M661.4 440.2h0M662.6 468.8h0M659.8 458.5h0M661.3 463.6h0M661.9 432.7h0M662 472.9h0" fill="none" stroke="#E2913F" stroke-width="1.8" stroke-linecap="round"/>
<rect x="658.65" y="447.7" width="5.7" height="12.6" fill="#fff" stroke="#E2913F" stroke-width="1.3" fill-opacity="0.65"/>
<line x1="658.65" y1="454" x2="664.35" y2="454" stroke="#E2913F" stroke-width="1.3"/>
<line x1="668.75" y1="437.7" x2="668.75" y2="450.3" stroke="#14A1D6" stroke-width="0.9"/>
<line x1="668.75" y1="465.3" x2="668.75" y2="487.8" stroke="#14A1D6" stroke-width="0.9"/>
<path d="M669.6 475.1h0M668 474.6h0M668.9 486.6h0M668.5 468.4h0M669.2 464.6h0M668.5 463.3h0M669.5 458.3h0M669.4 482.5h0M668.5 440.4h0M670 471.8h0M670.6 464h0M670.6 457.4h0M668.8 473.5h0M668.3 466.8h0M669.9 476.5h0M670.4 445.7h0M668.8 442.6h0M670 460h0M667.5 463.9h0M668.2 481.3h0M667.1 451.7h0M670.6 456.7h0M669.3 485.4h0M668.2 467.7h0M671.1 457.8h0M668.9 443.4h0M667 454.1h0M669.4 454.5h0M668 468.4h0M667.8 464.5h0M668.7 482.9h0M668.7 474.3h0M667.4 444.2h0M666.4 455.6h0M669.5 466.2h0M668.4 443.9h0M669.5 438.2h0M668.1 476.4h0M668 439h0M667.5 465h0M670.5 466.5h0M668.4 438h0M668.1 441.3h0M667.4 447.8h0M667.9 450.1h0M669.6 463.1h0M668.8 486.4h0M669.4 454.4h0M666.4 458.4h0M667.6 445.5h0M667.8 470.9h0M667.5 445.9h0M669.9 475.8h0M668.5 470.1h0M668.6 451.5h0M670.9 465.2h0M666.7 460.3h0M668.8 441.5h0M669 473.6h0M669.1 441.3h0M666.6 453.6h0M667.9 445.5h0M670.4 469.2h0M666.9 453.3h0M670.2 453.3h0M668.3 449.4h0M670.2 467.8h0M667.8 445.9h0M668.1 437.9h0M669.3 451.9h0M667.3 461.3h0M669.3 444.8h0M667.1 445.3h0M667.6 444.2h0M667 460.8h0M667 454.6h0M670.1 461.9h0M668.1 452.1h0M666.6 462.7h0M667 450.1h0M669.9 449.2h0M669.5 478.1h0M669.2 458.6h0M671 456.2h0M666.5 461.7h0M668.3 445.1h0M668.1 482h0M667.5 473.4h0M667.6 455.7h0M669.7 456.2h0M668.9 480.2h0M668.5 439h0M669.3 455.9h0M668.2 438.1h0M669.2 439h0M671.1 456.2h0M668.1 463.5h0M669.2 440.6h0M669.1 469.3h0M670.7 450.6h0M669.7 459.8h0M670.5 458.4h0M669 451h0M669.9 448.2h0M666.9 451.3h0M669.5 456.2h0M669.2 439.4h0M668.5 475.2h0M667.2 471.2h0M669.2 464.7h0M668.4 449.5h0M669.6 459h0M669.2 469.7h0M669 439.3h0M668.9 460.1h0M669.3 479.3h0M667.1 469.2h0M667.3 450.6h0M668.4 450.5h0M669 444.3h0M667.3 461.2h0M670 443.5h0M668 464.9h0M670.5 465.1h0M667.6 443.7h0M668 474.8h0M669.1 480.1h0M670.4 448.8h0M668.6 437.7h0M668.7 488h0" fill="none" stroke="#14A1D6" stroke-width="1.8" stroke-linecap="round"/>
<rect x="665.65" y="450.3" width="6.2" height="15" fill="#fff" stroke="#14A1D6" stroke-width="1.3" fill-opacity="0.65"/>
<line x1="665.65" y1="458.3" x2="671.85" y2="458.3" stroke="#14A1D6" stroke-width="1.3"/>
<line x1="590.9" y1="423.9" x2="590.9" y2="494.2" stroke="#000" stroke-width="1.45"/>
<line x1="590.4" y1="493.7" x2="677.6" y2="493.7" stroke="#000" stroke-width="1.45"/>
<line x1="586.9" y1="435.9" x2="590.9" y2="435.9" stroke="#000" stroke-width="1.1"/>
<text x="583.1" y="438.42" text-anchor="end" fill="#404040" stroke="#404040">2</text>
<line x1="586.9" y1="455.3" x2="590.9" y2="455.3" stroke="#000" stroke-width="1.1"/>
<text x="583.1" y="457.82" text-anchor="end" fill="#404040" stroke="#404040">0</text>
<line x1="586.9" y1="474.6" x2="590.9" y2="474.6" stroke="#000" stroke-width="1.1"/>
<text x="583.1" y="477.12" text-anchor="end" fill="#404040" stroke="#404040">&#8722;2</text>
<line x1="607.2" y1="493.7" x2="607.2" y2="497.7" stroke="#000" stroke-width="1.1"/>
<text x="607.2" y="506.02" text-anchor="middle" fill="#404040" stroke="#404040">mRNA</text>
<line x1="634.6" y1="493.7" x2="634.6" y2="497.7" stroke="#000" stroke-width="1.1"/>
<text x="634.6" y="506.02" text-anchor="middle" fill="#404040" stroke="#404040">Ribo</text>
<line x1="661.7" y1="493.7" x2="661.7" y2="497.7" stroke="#000" stroke-width="1.1"/>
<text x="661.7" y="506.02" text-anchor="middle" fill="#404040" stroke="#404040">Protein</text>
<text x="557" y="460.36" text-anchor="middle" stroke="#000" font-size="7.1" transform="rotate(-90 557 457.8)">Gene expression</text>
<text x="585.9" y="529.46" stroke="#000" font-size="7.1">Top SNP2: 13_50176844_G_A</text>
<text x="593.4" y="545.26" stroke="#000" font-size="7.1">Genotype</text>
<rect x="633" y="540.1" width="4.6" height="5" fill="#34505B"/>
<text x="637.7" y="545.26" stroke="#000" font-size="7.1">0</text>
<rect x="650" y="540.1" width="4.6" height="5" fill="#E2913F"/>
<text x="654.7" y="545.26" stroke="#000" font-size="7.1">1</text>
<rect x="667.5" y="540.1" width="4.6" height="5" fill="#14A1D6"/>
<text x="672.2" y="545.26" stroke="#000" font-size="7.1">2</text>
<line x1="600.2" y1="564.8" x2="600.2" y2="577.4" stroke="#34505B" stroke-width="0.9"/>
<line x1="600.2" y1="588" x2="600.2" y2="597.5" stroke="#34505B" stroke-width="0.9"/>
<path d="M598.6 587h0M602.3 577.7h0M600.1 589.6h0M598.2 581.2h0M600.4 587.8h0M600.4 568.2h0M601.7 579.6h0M599.5 596.4h0M600.7 571.6h0M599.6 569.7h0M600.2 571h0M598.9 589.2h0M601.4 580.7h0M599.6 589h0M600.6 569.4h0M599.1 570.3h0M601.8 581.9h0M601.5 575.2h0M599.8 585.3h0M599.4 568.6h0M599.9 574.3h0M599.2 572.2h0M598.9 579.7h0M599.8 581.4h0M600.9 571.1h0M600.6 573.4h0M600.5 583.8h0M598.2 580.9h0M600.6 578.7h0M601 588.4h0M600.8 594.1h0M601.6 578.8h0M598.1 582.4h0M600 576.3h0M600.8 590.1h0M601.3 576.3h0M602.4 585h0M599.8 576.7h0M600.1 572.8h0M602 587.5h0M600 572.2h0M600.2 568h0M599.1 580h0M600.9 587.1h0M600.4 592.1h0M598.4 585.2h0M600.2 586.5h0M602.4 584.1h0M599.1 577.1h0M601.9 576.4h0M600.7 571.5h0M598.8 580.6h0M598.8 587h0M602.2 586.4h0M598.5 574.6h0M600.4 573.2h0M599.7 565.2h0M600 577.1h0M599.5 579.8h0M601.3 574.2h0M599.8 584.9h0M602.3 584.9h0M600.9 586.1h0M601.5 573.8h0M602.2 586.9h0M600.7 568.4h0M600.7 579.4h0M600.6 564.8h0M600.5 597.5h0M600.2 612.5h0" fill="none" stroke="#34505B" stroke-width="1.8" stroke-linecap="round"/>
<rect x="597.05" y="577.4" width="6.3" height="10.6" fill="#fff" stroke="#34505B" stroke-width="1.3" fill-opacity="0.65"/>
<line x1="597.05" y1="582.4" x2="603.35" y2="582.4" stroke="#34505B" stroke-width="1.3"/>
<line x1="607.5" y1="553" x2="607.5" y2="572.3" stroke="#E2913F" stroke-width="0.9"/>
<line x1="607.5" y1="586.2" x2="607.5" y2="603.7" stroke="#E2913F" stroke-width="0.9"/>
<path d="M608 603h0M606.2 587.3h0M606.9 586.4h0M607 584h0M609.4 580.3h0M608.4 561.5h0M608.8 573.6h0M609.3 588h0M608.3 560.4h0M608 570.9h0M609.2 568.2h0M608.4 582.5h0M606.4 586.2h0M607.6 580.9h0M607.7 573.4h0M608.6 574.1h0M608.3 562.9h0M607.5 567.1h0M607.7 597.5h0M608 573.4h0M609.1 589.3h0M606.9 570.7h0M608.4 569.1h0M606.5 564.7h0M606.4 582.3h0M606.5 570.9h0M607.5 597.6h0M607.1 587.9h0M606.8 590.5h0M608.3 586.7h0M606.2 586.1h0M608.1 599h0M605.4 577.8h0M607.1 558.5h0M607.8 574h0M606.4 594.7h0M606.6 572.2h0M609.9 579.1h0M607.6 595h0M608.7 578.7h0M607.8 585.1h0M606.3 566.9h0M606.7 589.9h0M608.9 583.9h0M606.8 585.1h0M607.5 578.9h0M606.2 574.9h0M605.6 577.5h0M605.8 582h0M608.5 583.7h0M607 569.2h0M608.1 570.6h0M605.9 589.9h0M607.1 581.4h0M609.8 576.6h0M607 592.3h0M606.4 565.2h0M607.2 580.4h0M607.2 582.9h0M609.6 583.4h0M606.3 588.9h0M608.5 576.8h0M607.5 563.8h0M607 557.7h0M605.8 583.5h0M607.7 590.5h0M606.8 598.3h0M606.3 590.2h0M606.8 556.2h0M607.3 592.7h0M607.4 586.4h0M609.9 580h0M607.9 564.2h0M607.3 559.3h0M607.7 563.9h0M608.3 569.7h0M606.5 566.2h0M607.1 571.6h0M607.5 561.6h0M607.4 573.6h0M608.3 589h0M609.9 578.5h0M609.7 582.2h0M606.6 588.5h0M607.5 592h0M609.1 578h0M606.3 565.6h0M607.2 555.5h0M607.3 562.5h0M606.3 587.8h0M606 591.1h0M606.3 570.4h0M608 598.3h0M607.9 573.1h0M606.7 567.8h0M606.2 569.3h0M607.1 560h0M608.2 554.5h0M608.1 580.9h0M606 589.8h0M605.6 574.9h0M607.1 599.9h0M605.3 576.7h0M608.6 581.5h0M605.8 580.5h0M607 581.8h0M608.1 593.1h0M606.7 595.4h0M605.7 581.8h0M608.8 590.2h0M609.2 570.5h0M607.5 574.8h0M607.3 582.7h0M607.6 565.3h0M607 556.8h0M609 565.9h0M609 567.8h0M608.5 593h0M605.9 584.7h0M606.7 585.5h0M608.5 576.8h0M608.6 572.5h0M605.9 583.3h0M606.6 561.5h0M609.1 579.7h0M609.6 573.8h0M608.4 560.7h0M606.7 586.2h0M609.4 574.7h0M608.7 585.3h0M607.1 598.8h0M606.5 570.8h0M607.6 596.6h0M607.2 560.1h0M607.2 570.6h0M606.9 559.8h0M607.9 566.8h0M607.4 566.1h0M607.3 570.3h0M606.6 595.2h0M606.7 567.2h0M608.5 568.5h0M608.5 580.9h0M608.3 584.4h0M607.1 573.5h0M607 573.8h0M606.6 578.8h0M606.9 557.8h0M606 577.9h0M606.9 555h0M607.7 591.4h0M607.9 558.5h0M609.4 582.7h0M607.4 581.6h0M608.6 562.4h0M608.2 582.5h0M605.7 573.8h0M605.1 576.4h0M608.9 569.9h0M605.8 576h0M608 582.2h0M606.5 596h0M606.8 577.7h0M608.1 597.1h0M608.9 580.8h0M606 574.1h0M607.3 596.8h0M606.5 593.6h0M607.4 574.6h0M607.1 599.7h0M605.7 580h0M609.2 588.8h0M608 576.3h0M607.6 567h0M608.7 590.8h0M608.5 595.2h0M607.4 553h0M607 603.7h0" fill="none" stroke="#E2913F" stroke-width="1.8" stroke-linecap="round"/>
<rect x="604.65" y="572.3" width="5.7" height="13.9" fill="#fff" stroke="#E2913F" stroke-width="1.3" fill-opacity="0.65"/>
<line x1="604.65" y1="578.6" x2="610.35" y2="578.6" stroke="#E2913F" stroke-width="1.3"/>
<line x1="614.75" y1="559.8" x2="614.75" y2="568.6" stroke="#14A1D6" stroke-width="0.9"/>
<line x1="614.75" y1="581.1" x2="614.75" y2="593.7" stroke="#14A1D6" stroke-width="0.9"/>
<path d="M614.4 575.7h0M613.1 569.7h0M613.7 572.4h0M614.6 592.4h0M614.4 567.2h0M613.5 574.2h0M615.6 571.7h0M615.9 565.4h0M616.8 575.9h0M614.5 560h0M616 566.1h0M615.5 562.1h0M616.4 584.2h0M615 587.2h0M616.7 571.3h0M616.1 569.9h0M614.2 589.8h0M616.7 574.2h0M613.3 568h0M614.1 593.4h0M614.1 580.6h0M617.1 573.6h0M613.4 580.6h0M616.4 582.9h0M612.9 579.5h0M613.7 562.2h0M613.5 563h0M616.1 563.9h0M614.5 587.6h0M615.7 562.6h0M615.6 592.4h0M614.2 581.9h0M612.8 569h0M616.8 567.8h0M615.2 574.9h0M615.2 581.8h0M614.3 581h0M614.7 588.5h0M613.9 575.5h0M616.3 570.6h0M614.2 587.7h0M613.5 585.5h0M615.7 579.3h0M615.3 589.6h0M613.6 570.7h0M615.5 580.3h0M614 568.2h0M615.5 589.2h0M615.9 578.1h0M613.3 569.2h0M613.5 563.9h0M616 582.5h0M616 573.7h0M615 588.3h0M616.3 574.9h0M614 569.7h0M614.7 577.6h0M615 571.1h0M615.5 585.3h0M615.2 581.8h0M614.7 592.3h0M613.9 591.7h0M613.5 572.3h0M613.5 586.9h0M613.1 579.6h0M615.4 570h0M616 571.2h0M615.1 568.8h0M616.2 580.9h0M615.6 565.3h0M614.3 570h0M616.7 573.5h0M614.5 593.7h0M612.6 570h0M614.3 577.8h0M614 574h0M614.8 571.5h0M612.8 570.4h0M614.2 590.1h0M612.9 584.2h0M616.4 570.9h0M616.3 577h0M613.5 570.3h0M615.5 569.5h0M613.9 592.8h0M614.5 584.4h0M615.2 568.1h0M616.8 577.8h0M616.8 571h0M615.6 569.9h0M613.7 588.3h0M615 576.5h0M613.7 581h0M615.5 583.9h0M615.7 567.7h0M615.8 580.6h0M615.7 576.7h0M613.9 583.3h0M615.1 566h0M613.9 570.6h0M613.7 587.2h0M616.1 580.5h0M616.9 577.8h0M614.5 574h0M612.7 567.7h0M615.3 579h0M613.2 583.3h0M616.2 574.4h0M614.3 576.2h0M616.6 576h0M614.3 576.4h0M612.7 571.8h0M615.1 560.2h0M615.7 590.6h0M614.1 589.4h0M615.3 583.3h0M613.9 566.5h0M614.2 576.4h0M616 578.9h0M614.6 561.9h0M614.8 572.7h0M614.4 563.2h0M616 575.6h0M613.8 570.9h0M616.8 569h0M616.6 570.5h0M614.8 562.3h0M613.1 585.8h0M615.4 581.3h0M615.3 579.9h0M615.9 586h0M615.1 567.7h0M614.9 572.1h0M615.8 574.6h0M614.2 582.1h0M613.8 580.5h0M614 592.9h0M614.3 591.7h0M615.6 562.3h0M614.3 589.2h0M615.6 572.5h0M615.5 571h0M614.8 571.9h0M613.7 585.2h0M614.4 576h0M614.5 578.7h0M615.2 577.3h0M616.9 578h0M615.7 561.4h0M615.9 579.9h0M614.7 571.2h0M613.4 574.3h0M614.8 559.8h0M615.2 593.7h0M614.8 549.5h0" fill="none" stroke="#14A1D6" stroke-width="1.8" stroke-linecap="round"/>
<rect x="611.65" y="568.6" width="6.2" height="12.5" fill="#fff" stroke="#14A1D6" stroke-width="1.3" fill-opacity="0.65"/>
<line x1="611.65" y1="574.8" x2="617.85" y2="574.8" stroke="#14A1D6" stroke-width="1.3"/>
<line x1="627.25" y1="563.5" x2="627.25" y2="573.6" stroke="#34505B" stroke-width="0.9"/>
<line x1="627.25" y1="584.9" x2="627.25" y2="593.7" stroke="#34505B" stroke-width="0.9"/>
<path d="M628.9 584.8h0M627.4 579.3h0M627.5 569.1h0M627 593.3h0M626.5 574h0M627.7 588.1h0M627.4 575.1h0M626.5 568.7h0M625.6 579.5h0M627.9 564.8h0M628.5 571.4h0M625.6 571.6h0M627.7 583.9h0M627.4 580.2h0M626.9 587.3h0M626.7 573.7h0M629.2 585.4h0M626.5 569.6h0M626.7 566h0M628.2 591.8h0M627.3 566h0M629.2 578.8h0M628.5 568h0M628.6 571.1h0M627.4 574.7h0M627.9 589.5h0M628.4 590.3h0M628 574.3h0M625.8 578.7h0M626.3 583.7h0M628.1 573.7h0M627.8 590.1h0M627.8 563.7h0M626.4 565h0M628.6 586.4h0M626 577.9h0M625.9 577.7h0M626.6 577.2h0M627.2 586.7h0M627.4 581.6h0M628.6 589.1h0M628.1 584.4h0M627.6 583.6h0M625 577.5h0M625.6 585.2h0M627.8 585.5h0M626.1 584.1h0M627.4 591.1h0M627.3 576.6h0M628.2 589.3h0M626.7 582.3h0M627.1 577.5h0M625.7 573.8h0M626.1 574.7h0M629.2 576.9h0M627.7 572.9h0M626.5 584.1h0M626.3 590.2h0M626.4 592.9h0M628.9 582.3h0M626.4 569.7h0M626.4 565.7h0M626.1 579.7h0M626.3 590.1h0M628.1 589.6h0M625.2 574.8h0M627.6 593.3h0M627.7 563.5h0M627 593.7h0M627.2 605.7h0" fill="none" stroke="#34505B" stroke-width="1.8" stroke-linecap="round"/>
<rect x="624.15" y="573.6" width="6.2" height="11.3" fill="#fff" stroke="#34505B" stroke-width="1.3" fill-opacity="0.65"/>
<line x1="624.15" y1="579.9" x2="630.35" y2="579.9" stroke="#34505B" stroke-width="1.3"/>
<line x1="634.45" y1="554.6" x2="634.45" y2="572.3" stroke="#E2913F" stroke-width="0.9"/>
<line x1="634.45" y1="584.1" x2="634.45" y2="598.7" stroke="#E2913F" stroke-width="0.9"/>
<path d="M632.8 567.9h0M634.1 580.5h0M634.2 555.6h0M634 563.7h0M633.6 584.5h0M632.8 585.8h0M634.6 583.3h0M633.8 587.9h0M632.8 572.8h0M634.1 571.6h0M634.6 593.6h0M633.5 591.5h0M633.4 582.3h0M634.5 578.2h0M634.1 594h0M633.5 584.5h0M632.7 573.6h0M634.6 584.9h0M636.5 580.8h0M634.9 592.8h0M634 568.6h0M635.1 577.2h0M632.9 580h0M635.3 563.1h0M633.8 578.9h0M635.6 575.6h0M633.6 573.5h0M634.2 557.9h0M635 588.3h0M633.5 579.6h0M634 582.9h0M635.1 567.7h0M635.3 585.1h0M636.5 583.2h0M632.8 576.3h0M635 589.8h0M634.5 556.5h0M636.7 574.9h0M634.5 559.7h0M635.6 563.8h0M634.1 561.6h0M634.3 592.6h0M635.6 573.7h0M633.5 564.3h0M635.9 577.9h0M632.6 583.9h0M633.8 582h0M632.8 577.2h0M634.9 553.8h0M633.6 572.1h0M634.3 595.1h0M635.3 567.2h0M634.9 560.9h0M634.4 572.3h0M634.2 591.9h0M634.3 567.1h0M634.8 589.4h0M634.8 564.1h0M634.4 589h0M634.4 570h0M636.7 580.7h0M633.5 578h0M636.5 580.6h0M635.5 587.2h0M634.6 579.7h0M633.3 572.1h0M633.9 580.3h0M632.8 584.1h0M633.2 571.1h0M633.5 573.5h0M633.7 593.2h0M636.1 572.7h0M635 560.9h0M632.4 581.2h0M634.2 564h0M635 570.7h0M634.2 581.2h0M632.2 577.4h0M634.2 561.5h0M634.2 578.2h0M634.9 556.8h0M633.5 590.5h0M633 577.9h0M633.2 584.7h0M634.2 571.9h0M632.1 577.9h0M633.7 566.3h0M634.9 597.9h0M632.9 586.6h0M634.4 554.3h0M635.3 566.9h0M635.9 586.7h0M635 561.6h0M635.1 595.6h0M632.6 578.2h0M633.8 568.1h0M634 556h0M636 574.7h0M634.5 581.5h0M634.4 570.9h0M636 571.1h0M635.2 563.2h0M635.5 565.5h0M634.5 556.2h0M635.1 555.6h0M632.3 572.9h0M633.2 582.9h0M634.8 559h0M632.7 574.1h0M635.6 565.3h0M635.4 590.2h0M633.5 581.1h0M633.6 584.1h0M635.6 565.3h0M634.3 571.4h0M634.4 554.2h0M635.4 568.5h0M634.6 597.3h0M634.5 596.2h0M633.7 557.2h0M634 593h0M636.6 577.7h0M634.7 564.3h0M636 585.1h0M633.1 570.2h0M634.4 595.9h0M635.7 581.3h0M633.5 565.4h0M635.8 589.6h0M636.2 576.5h0M634.3 596.3h0M634.6 594.2h0M636.5 583.7h0M634.7 562.9h0M634.3 568.8h0M635.4 579.9h0M635.5 570.1h0M634.5 577.8h0M633.9 556.5h0M634.9 582.7h0M635.3 576.1h0M632.4 575.3h0M635.6 569.5h0M632.6 577.4h0M633 573.3h0M635 553.2h0M633.5 577.8h0M634.1 560.2h0M635.1 557.1h0M632.7 585h0M634.4 564.8h0M635.4 564.6h0M632.6 580.3h0M635.4 578.5h0M634.5 592h0M632.8 574.5h0M635.3 590.5h0M634.7 560h0M636.4 577.3h0M634.6 579.7h0M633.9 565.1h0M633.5 563.7h0M635.7 576.8h0M635.3 592.1h0M633.6 585.2h0M634.4 584.6h0M635.1 592.7h0M633.8 578.2h0M635.1 579.5h0M634.5 568.5h0M633.8 562.1h0M634.2 558.7h0M633.4 570.2h0M632.7 582.6h0M635 576.6h0M634.3 585.3h0M634.4 553h0M634.2 598.7h0M634.5 549h0" fill="none" stroke="#E2913F" stroke-width="1.8" stroke-linecap="round"/>
<rect x="631.65" y="572.3" width="5.6" height="11.8" fill="#fff" stroke="#E2913F" stroke-width="1.3" fill-opacity="0.65"/>
<line x1="631.65" y1="577.4" x2="637.25" y2="577.4" stroke="#E2913F" stroke-width="1.3"/>
<line x1="641.65" y1="553" x2="641.65" y2="571" stroke="#14A1D6" stroke-width="0.9"/>
<line x1="641.65" y1="585.4" x2="641.65" y2="602.5" stroke="#14A1D6" stroke-width="0.9"/>
<path d="M641 599.5h0M641.6 557.8h0M643.1 587.7h0M642.4 560.8h0M640.8 590.4h0M640.6 588.6h0M641.9 600.1h0M642.6 576.8h0M639.9 578.4h0M643.2 592.1h0M641.3 554.3h0M641.4 556.7h0M640.6 592.5h0M643 563.2h0M642.4 597.1h0M642.1 555.2h0M641.2 595.3h0M641.7 562.6h0M641.8 575.5h0M640.2 572.1h0M641.4 598.4h0M641.6 561.7h0M643.2 577.2h0M641.2 601h0M643.6 570.8h0M640.9 561h0M641.3 582.1h0M640.4 572.3h0M640.7 579.8h0M643.6 572.3h0M641.9 597.2h0M639.8 573.5h0M641 562.6h0M641.4 565.1h0M640.2 580.7h0M640.3 568.7h0M642.8 567.4h0M639.7 569.6h0M640.4 562.7h0M640.9 572h0M641.1 601.6h0M641.4 582.9h0M642.6 581.1h0M641.7 582.1h0M642.8 574.4h0M642.4 598.1h0M639.8 581h0M642.9 565.2h0M640.4 574.7h0M641.3 571.3h0M643.8 578.4h0M642 577.9h0M642.1 560.8h0M640.9 594.7h0M642.5 569h0M643 587.4h0M642.7 576.6h0M641.1 559.4h0M643.2 591.7h0M642 556.1h0M642.5 567.3h0M643.8 575.6h0M642 559.9h0M639.8 580.8h0M643.2 582.4h0M641.4 594.1h0M641.2 600.7h0M640.8 581.6h0M640.8 578.6h0M641.8 563.8h0M640.2 567.9h0M640.4 586.3h0M641.3 579.3h0M639.5 586.6h0M640.3 590.5h0M642 599.5h0M641 566h0M641.4 577h0M640.4 585.7h0M642.3 566.2h0M640 589.2h0M643.6 574.2h0M641 559.6h0M643.2 571.4h0M642.5 580.7h0M642.1 574.3h0M642.4 558h0M640.8 572.3h0M642.4 573.9h0M640.8 596.4h0M642.1 600.8h0M641.2 600h0M643.1 588.9h0M641 579.8h0M642.1 588.8h0M643.3 569.9h0M639.2 576.4h0M640.5 593.2h0M641.2 558.1h0M640.5 579.1h0M640.1 585.5h0M640.6 585.3h0M643.4 587.3h0M643.8 571.9h0M640.7 561.5h0M642.7 589.3h0M640.8 577h0M640.7 596.4h0M643 565.6h0M642 576.1h0M640.7 596h0M640.5 583.2h0M640.3 562.9h0M640.3 577h0M642.8 583.5h0M643.4 577.9h0M642.5 575.3h0M640.2 568.8h0M640.8 581.5h0M641.7 594.2h0M639.9 583h0M640.7 584.4h0M640.4 571.5h0M642 590.6h0M640.5 565.6h0M641.7 580h0M640.6 589.4h0M641.4 580.1h0M641.1 565.2h0M640.6 576.3h0M640.6 590.5h0M641 583.3h0M643.2 590.2h0M642.7 593.7h0M642.1 602h0M639.8 581.4h0M642.4 579.5h0M642.3 601.8h0M642.3 571.5h0M640.3 567.9h0M641.8 589.4h0M641.8 558.3h0M640.9 595.5h0M641.3 597.9h0M642.9 569.1h0M642.3 589.1h0M641.4 554.2h0M640.9 581.7h0M640.9 599.6h0M640.7 582.3h0M643.2 572.4h0M639.4 577h0M641.9 553h0M642 602.5h0" fill="none" stroke="#14A1D6" stroke-width="1.8" stroke-linecap="round"/>
<rect x="638.55" y="571" width="6.2" height="14.4" fill="#fff" stroke="#14A1D6" stroke-width="1.3" fill-opacity="0.65"/>
<line x1="638.55" y1="578.6" x2="644.75" y2="578.6" stroke="#14A1D6" stroke-width="1.3"/>
<line x1="654.2" y1="554.1" x2="654.2" y2="570.3" stroke="#34505B" stroke-width="0.9"/>
<line x1="654.2" y1="581.1" x2="654.2" y2="582.4" stroke="#34505B" stroke-width="0.9"/>
<path d="M654 578.5h0M654.9 576.2h0M654.2 563.4h0M652.8 578.3h0M652.3 578.4h0M653.8 578.8h0M655.4 568.6h0M652.3 579.6h0M654.5 563.4h0M654.7 567.3h0M652.6 582h0M653.2 564.9h0M653.5 553.3h0M655.5 579.1h0M655.9 577.8h0M655.4 578.2h0M655.3 562.8h0M654.8 573.1h0M655.6 568.3h0M656.2 573h0M653.6 564.8h0M654.2 565.7h0M653.7 563.7h0M656 572.3h0M652.5 581h0M652.1 573.8h0M655.5 570.8h0M652.2 577.7h0M653.7 556.7h0M653.4 568.9h0M655.7 567.1h0M653.2 564.6h0M655.4 579.4h0M655.3 580.5h0M655.2 579.9h0M652.9 570.6h0M652.8 571.5h0M656.1 571.5h0M654.3 571.5h0M656.1 569.2h0M655 570.3h0M654.8 558.9h0M654 569.7h0M653.1 563.5h0M652.2 572.5h0M652.3 570.8h0M656.2 571.3h0M654.4 558.8h0M653.2 580h0M653.1 576.8h0M653.1 568.9h0M652.9 578.5h0M654.9 564.2h0M654.6 565.4h0M652.2 574h0M653.4 579.2h0M654.7 569.8h0M656.2 579.8h0M654.1 581.8h0M653.9 555.9h0M652.6 580.1h0M654 556h0M653 576.5h0M654.6 576.6h0M654.5 575.4h0M654.9 571.5h0M655.7 581.9h0M654.5 553h0M653.7 582.4h0" fill="none" stroke="#34505B" stroke-width="1.8" stroke-linecap="round"/>
<rect x="651.05" y="570.3" width="6.3" height="10.8" fill="#fff" stroke="#34505B" stroke-width="1.3" fill-opacity="0.65"/>
<line x1="651.05" y1="574.8" x2="657.35" y2="574.8" stroke="#34505B" stroke-width="1.3"/>
<line x1="661.5" y1="553" x2="661.5" y2="568.6" stroke="#E2913F" stroke-width="0.9"/>
<line x1="661.5" y1="585.4" x2="661.5" y2="610" stroke="#E2913F" stroke-width="0.9"/>
<path d="M661.8 585.3h0M659.8 579.5h0M662.7 569h0M660.7 581.9h0M662.5 566.3h0M662.6 573.3h0M663.5 585.5h0M660.8 595.3h0M663.3 564.1h0M660.7 564.1h0M661.4 583.8h0M662.4 558.7h0M660.7 569.6h0M661.2 562h0M662 566.7h0M661.4 601.9h0M660.5 583.2h0M663.1 579h0M660.9 571h0M661.5 600.2h0M661.4 573.8h0M660.9 578.2h0M662.9 560.6h0M659.4 581.5h0M663.7 578h0M659.5 573.7h0M662.6 571.7h0M663.1 577.9h0M660.7 584h0M661.1 575.2h0M662 607.1h0M661 588.6h0M662.9 576.9h0M662.8 580.7h0M663.3 575.1h0M661.8 603.1h0M659.9 579.3h0M659.9 587.9h0M663.3 567.7h0M662.3 564.3h0M660.5 574.7h0M662.2 592.9h0M661.3 572.5h0M661.6 591.8h0M663.3 577.7h0M662.8 569.4h0M660.2 593.3h0M662.3 598.4h0M661 575h0M661.3 605.6h0M662.4 569.2h0M663.2 578.6h0M663.6 571.2h0M660.7 599.4h0M662.3 572.8h0M663.1 571.2h0M660.1 575.5h0M661 570.8h0M661.8 589h0M660.7 567.5h0M660.6 581.5h0M662.6 591.1h0M663.8 576.1h0M663.4 586.2h0M663.3 581.6h0M662 559.6h0M660.3 580.2h0M659.8 566.2h0M661.7 556.3h0M661.4 561.7h0M660.9 608.2h0M661.2 608.2h0M663.7 580.7h0M662.1 598.3h0M661.5 574h0M660.8 590.3h0M661.8 570.9h0M660 586.3h0M663.3 584.3h0M660.9 587.2h0M660.7 575.1h0M661.3 609.7h0M663.4 567.9h0M663.3 570.6h0M661.3 561.6h0M662.1 562.5h0M659.8 568.7h0M662.6 580.6h0M662.6 592.4h0M662.7 573.9h0M661.5 567h0M660 581.4h0M660.8 583.4h0M662.4 595.1h0M661 605.3h0M661.5 566.8h0M662.8 562.6h0M661.6 597.5h0M662.1 574.1h0M661.6 577.8h0M660 589.1h0M660.9 573.1h0M662.1 600h0M661.5 597.2h0M660.2 585.9h0M662.9 560.5h0M660.4 575.7h0M661.8 562.6h0M662 580.4h0M661.8 603.1h0M662.8 562.8h0M660.2 579h0M660.4 590.4h0M663.3 570.5h0M661.6 598.1h0M661.5 604.1h0M659.1 575.3h0M661.2 599.5h0M662.3 577.5h0M661.3 580.2h0M661.5 557.9h0M663.8 574.6h0M662.3 598.4h0M661.3 601.8h0M661.9 595.3h0M661.8 604.5h0M661 587.3h0M662.3 572h0M659.4 581h0M661.4 595.8h0M663 586.3h0M660.7 576.1h0M660.9 578.3h0M661.3 592.3h0M660.6 567.7h0M660.8 605.9h0M660.1 586.4h0M660 580.5h0M663.2 582.1h0M662 604.3h0M661.6 558.3h0M660.3 563.1h0M659.8 584.7h0M660 570.4h0M662.5 570h0M660.8 563.1h0M661.3 555.6h0M660 590.1h0M661.2 609.3h0M662 600.1h0M662 594.4h0M662.1 597.8h0M661.1 572.5h0M660.2 592.1h0M659.5 568.7h0M662.1 571.3h0M661.1 581.4h0M662 594.2h0M662.2 555.7h0M662.1 577.1h0M661.8 566.8h0M659.5 570.2h0M660.9 582.7h0M660 585.1h0M661.7 592.5h0M659.9 562.2h0M661.5 592.6h0M662.1 569.3h0M663.5 575.5h0M659.6 575.6h0M663.4 575.8h0M661.4 605h0M660.5 575.1h0M662.5 596.9h0M662.1 608.9h0M661.7 608.4h0M661.7 553h0M661.7 610h0" fill="none" stroke="#E2913F" stroke-width="1.8" stroke-linecap="round"/>
<rect x="658.65" y="568.6" width="5.7" height="16.8" fill="#fff" stroke="#E2913F" stroke-width="1.3" fill-opacity="0.65"/>
<line x1="658.65" y1="576" x2="664.35" y2="576" stroke="#E2913F" stroke-width="1.3"/>
<line x1="668.75" y1="559.8" x2="668.75" y2="574" stroke="#14A1D6" stroke-width="0.9"/>
<line x1="668.75" y1="585.6" x2="668.75" y2="600" stroke="#14A1D6" stroke-width="0.9"/>
<path d="M667 580h0M669.4 567.6h0M668.8 593.4h0M667.7 578.8h0M669.2 566.4h0M669 585.9h0M668.9 577.1h0M667.9 582.1h0M668.4 569.2h0M670.3 568.6h0M669.8 591h0M667.8 594.4h0M668.1 572.2h0M670.2 582.7h0M670.5 570.7h0M668.8 560.4h0M667.8 584h0M668.8 568.7h0M670.3 588h0M668.2 574.8h0M667.6 569h0M671 576.1h0M667.9 569.3h0M666.9 571.2h0M669.1 577.5h0M668.9 578.8h0M669.3 583.7h0M669.5 594.5h0M668.9 562.1h0M667.4 582.2h0M668.6 560h0M670.9 580.3h0M669.8 568.4h0M666.4 580.7h0M669.5 581.6h0M668.2 586.2h0M669.2 591.5h0M667.5 568.5h0M668.2 587.6h0M669.8 589.8h0M668 561h0M668.8 587.7h0M670.8 578.1h0M666.6 578.3h0M668.6 573.7h0M671.2 580.6h0M667.1 588.2h0M666.3 581.6h0M668.9 562.2h0M667.5 567.9h0M670.7 576.6h0M666.9 576.6h0M669.1 583.4h0M668.7 576.6h0M668 561.4h0M668.9 567.5h0M669.7 593.3h0M668.6 564.9h0M670.7 575.5h0M670 584.9h0M668.5 578.2h0M667.7 590.4h0M669.9 579.2h0M666.5 578.6h0M667.3 571.8h0M669.5 579h0M670 589h0M670.7 578.4h0M670 580.5h0M669.1 577h0M669.7 585.6h0M667 573.5h0M667.5 590.9h0M666.9 577.2h0M666.4 581.3h0M669.8 593.6h0M666.8 580.5h0M669.8 566.3h0M670.3 568.1h0M669.7 576.6h0M669.9 578.8h0M670.4 583.6h0M671 582.6h0M668.2 584.9h0M670.6 579.7h0M667.7 588.4h0M666.4 582.5h0M671.1 574.7h0M671.2 578.5h0M668 589.7h0M667.4 573.1h0M669 572.8h0M670.4 578.1h0M668.4 586.9h0M666.4 575.5h0M670.6 579.5h0M668.7 575.8h0M669.3 594.7h0M666.6 581.6h0M668.3 590h0M666.6 576.2h0M666.5 576.9h0M666.5 584.9h0M668.9 560.6h0M668.9 562.2h0M670 582.2h0M669.7 569.1h0M669.3 563.9h0M667.3 574.3h0M668 592.4h0M666.4 578h0M668.6 569.6h0M668.9 581.6h0M669.2 589.1h0M669.3 591h0M667.4 577h0M667.7 574.2h0M667.9 582.2h0M669.5 568.3h0M669.9 586.8h0M668.2 572.8h0M669.8 566.3h0M670 580h0M668.4 599.5h0M667.6 584.5h0M668.7 591.2h0M668.6 575.3h0M669.7 567.2h0M667.4 572.2h0M670 589.6h0M668.6 586.8h0M669.8 566.2h0M666.6 578.3h0M666.9 575.9h0M667.5 566h0M669.1 594h0M668.1 562.9h0M670 584h0M667.8 572.7h0M667.9 572.3h0M668.2 594.5h0M667.1 572.6h0M667.2 586.7h0M667 569.8h0M668.6 592h0M667 586.7h0M669.3 597.6h0M669.2 561.5h0M670.8 585.3h0M667.4 580.2h0M668 590h0M668.7 575.7h0M668.7 559.8h0M668.9 600h0M668.8 610h0" fill="none" stroke="#14A1D6" stroke-width="1.8" stroke-linecap="round"/>
<rect x="665.65" y="574" width="6.2" height="11.6" fill="#fff" stroke="#14A1D6" stroke-width="1.3" fill-opacity="0.65"/>
<line x1="665.65" y1="579" x2="671.85" y2="579" stroke="#14A1D6" stroke-width="1.3"/>
<line x1="590.9" y1="547" x2="590.9" y2="616.8" stroke="#000" stroke-width="1.45"/>
<line x1="590.4" y1="616.3" x2="677.6" y2="616.3" stroke="#000" stroke-width="1.45"/>
<line x1="586.9" y1="559" x2="590.9" y2="559" stroke="#000" stroke-width="1.1"/>
<text x="583.1" y="561.52" text-anchor="end" fill="#404040" stroke="#404040">2</text>
<line x1="586.9" y1="578.6" x2="590.9" y2="578.6" stroke="#000" stroke-width="1.1"/>
<text x="583.1" y="581.12" text-anchor="end" fill="#404040" stroke="#404040">0</text>
<line x1="586.9" y1="598.2" x2="590.9" y2="598.2" stroke="#000" stroke-width="1.1"/>
<text x="583.1" y="600.72" text-anchor="end" fill="#404040" stroke="#404040">&#8722;2</text>
<line x1="607.2" y1="616.3" x2="607.2" y2="620.3" stroke="#000" stroke-width="1.1"/>
<text x="607.2" y="629.92" text-anchor="middle" fill="#404040" stroke="#404040">mRNA</text>
<line x1="634.6" y1="616.3" x2="634.6" y2="620.3" stroke="#000" stroke-width="1.1"/>
<text x="634.6" y="629.92" text-anchor="middle" fill="#404040" stroke="#404040">Ribo</text>
<line x1="661.7" y1="616.3" x2="661.7" y2="620.3" stroke="#000" stroke-width="1.1"/>
<text x="661.7" y="629.92" text-anchor="middle" fill="#404040" stroke="#404040">Protein</text>
<text x="557" y="583.56" text-anchor="middle" stroke="#000" font-size="7.1" transform="rotate(-90 557 581)">Gene expression</text>
<rect x="640.4" y="656.48" width="27.9" height="34.42" fill="#00BFC4" stroke="#222" stroke-width="0.9"/>
<line x1="654.3" y1="649.7" x2="654.3" y2="663.3" stroke="#111" stroke-width="1.1"/>
<line x1="646.2" y1="649.7" x2="661.7" y2="649.7" stroke="#111" stroke-width="1.1"/>
<line x1="646.2" y1="663.3" x2="661.7" y2="663.3" stroke="#111" stroke-width="1.1"/>
<line x1="600.4" y1="691.07" x2="628.6" y2="691.07" stroke="#111" stroke-width="1.3"/>
<line x1="614.5" y1="685.4" x2="614.5" y2="698.5" stroke="#111" stroke-width="1.1"/>
<line x1="606.7" y1="685.4" x2="622.3" y2="685.4" stroke="#111" stroke-width="1.1"/>
<line x1="606.7" y1="698.5" x2="622.3" y2="698.5" stroke="#111" stroke-width="1.1"/>
<line x1="590.9" y1="645" x2="590.9" y2="701.2" stroke="#000" stroke-width="1.45"/>
<line x1="590.4" y1="700.7" x2="677.6" y2="700.7" stroke="#000" stroke-width="1.45"/>
<line x1="586.9" y1="648.4" x2="590.9" y2="648.4" stroke="#000" stroke-width="1.1"/>
<text x="583.4" y="650.92" text-anchor="end" fill="#404040" stroke="#404040">0.05</text>
<line x1="586.9" y1="656.9" x2="590.9" y2="656.9" stroke="#000" stroke-width="1.1"/>
<text x="583.4" y="659.42" text-anchor="end" fill="#404040" stroke="#404040">0.04</text>
<line x1="586.9" y1="665.4" x2="590.9" y2="665.4" stroke="#000" stroke-width="1.1"/>
<text x="583.4" y="667.92" text-anchor="end" fill="#404040" stroke="#404040">0.03</text>
<line x1="586.9" y1="673.9" x2="590.9" y2="673.9" stroke="#000" stroke-width="1.1"/>
<text x="583.4" y="676.42" text-anchor="end" fill="#404040" stroke="#404040">0.02</text>
<line x1="586.9" y1="682.4" x2="590.9" y2="682.4" stroke="#000" stroke-width="1.1"/>
<text x="583.4" y="684.92" text-anchor="end" fill="#404040" stroke="#404040">0.01</text>
<line x1="586.9" y1="690.9" x2="590.9" y2="690.9" stroke="#000" stroke-width="1.1"/>
<text x="583.4" y="693.42" text-anchor="end" fill="#404040" stroke="#404040">0.00</text>
<line x1="586.9" y1="699.4" x2="590.9" y2="699.4" stroke="#000" stroke-width="1.1"/>
<text x="583.4" y="701.92" text-anchor="end" fill="#404040" stroke="#404040">&#8722;0.01</text>
<line x1="614.5" y1="700.7" x2="614.5" y2="704.2" stroke="#000" stroke-width="1.1"/>
<text x="614.5" y="713.52" text-anchor="middle" fill="#404040" stroke="#404040">1</text>
<line x1="654.2" y1="700.7" x2="654.2" y2="704.2" stroke="#000" stroke-width="1.1"/>
<text x="654.2" y="713.52" text-anchor="middle" fill="#404040" stroke="#404040">2</text>
<text x="634.4" y="724.36" text-anchor="middle" stroke="#000" font-size="7.1">Top SNPs</text>
<text x="557.5" y="676.56" text-anchor="middle" stroke="#000" font-size="7.1" transform="rotate(-90 557.5 674)">GWAS Effect size</text>
</svg></body></html>
